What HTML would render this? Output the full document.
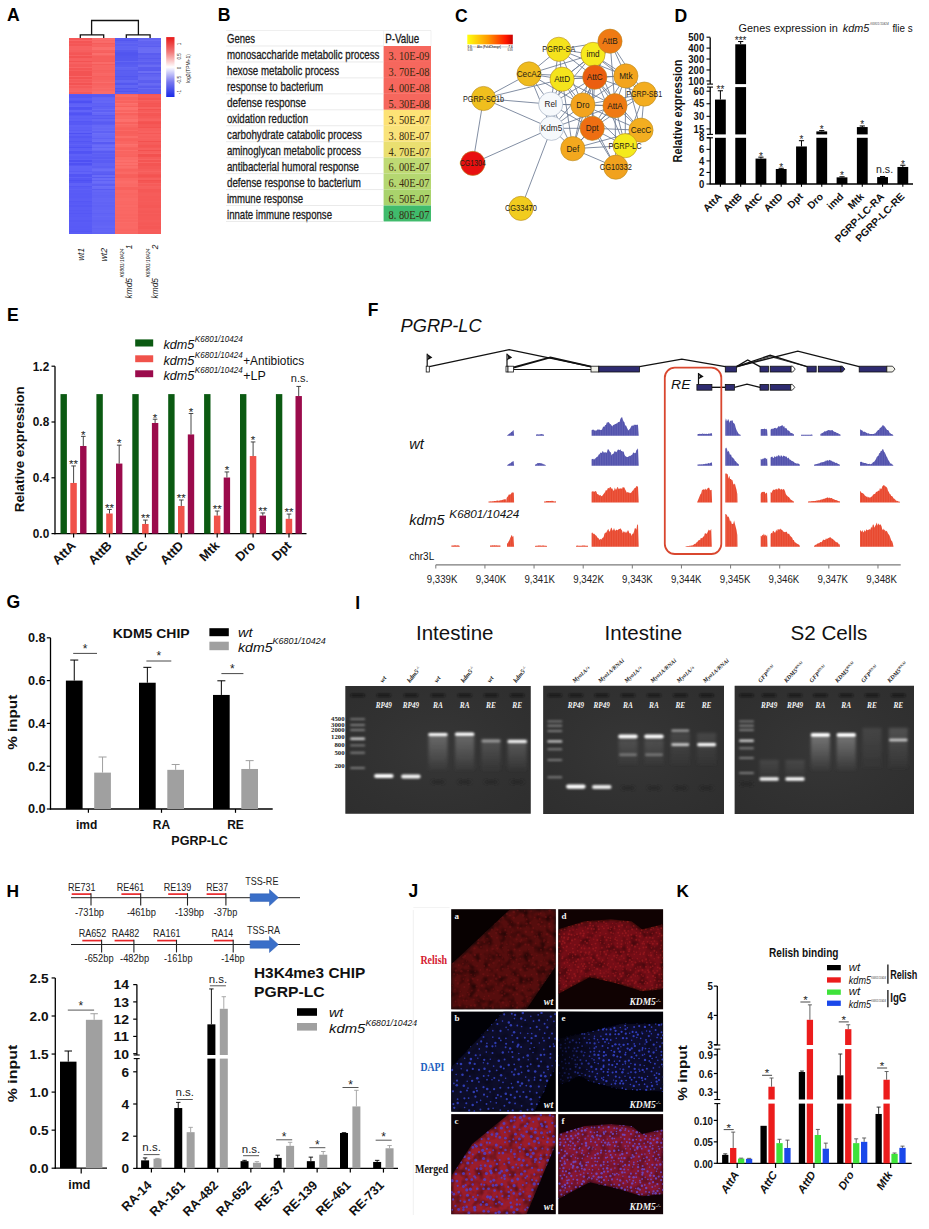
<!DOCTYPE html>
<html><head><meta charset="utf-8"><title>Figure</title>
<style>html,body{margin:0;padding:0;background:#fff;}svg{display:block;}text{font-family:'Liberation Sans',Arial,sans-serif;}</style>
</head><body>
<svg width="929" height="1229" viewBox="0 0 929 1229">
<rect x="0" y="0" width="929" height="1229" fill="#fff"/>
<text x="6.9" y="21.1" style="font-size:17.6px;font-family:'Liberation Sans', Arial, sans-serif;font-weight:bold">A</text>
<rect x="69" y="38" width="23" height="1.56" fill="rgb(244,87,87)" shape-rendering="crispEdges"/>
<rect x="69" y="39.51" width="23" height="1.56" fill="rgb(248,101,101)" shape-rendering="crispEdges"/>
<rect x="69" y="41.02" width="23" height="1.56" fill="rgb(244,85,85)" shape-rendering="crispEdges"/>
<rect x="69" y="42.52" width="23" height="1.56" fill="rgb(245,91,91)" shape-rendering="crispEdges"/>
<rect x="69" y="44.03" width="23" height="1.56" fill="rgb(244,86,86)" shape-rendering="crispEdges"/>
<rect x="69" y="45.54" width="23" height="1.56" fill="rgb(247,98,98)" shape-rendering="crispEdges"/>
<rect x="69" y="47.05" width="23" height="1.56" fill="rgb(247,97,97)" shape-rendering="crispEdges"/>
<rect x="69" y="48.55" width="23" height="1.56" fill="rgb(247,98,98)" shape-rendering="crispEdges"/>
<rect x="69" y="50.06" width="23" height="1.56" fill="rgb(246,95,95)" shape-rendering="crispEdges"/>
<rect x="69" y="51.57" width="23" height="1.56" fill="rgb(245,89,89)" shape-rendering="crispEdges"/>
<rect x="69" y="53.08" width="23" height="1.56" fill="rgb(244,86,86)" shape-rendering="crispEdges"/>
<rect x="69" y="54.58" width="23" height="1.56" fill="rgb(247,98,98)" shape-rendering="crispEdges"/>
<rect x="69" y="56.09" width="23" height="1.56" fill="rgb(243,83,83)" shape-rendering="crispEdges"/>
<rect x="69" y="57.6" width="23" height="1.56" fill="rgb(246,95,95)" shape-rendering="crispEdges"/>
<rect x="69" y="59.11" width="23" height="1.56" fill="rgb(247,96,96)" shape-rendering="crispEdges"/>
<rect x="69" y="60.62" width="23" height="1.56" fill="rgb(243,83,83)" shape-rendering="crispEdges"/>
<rect x="69" y="62.12" width="23" height="1.56" fill="rgb(247,97,97)" shape-rendering="crispEdges"/>
<rect x="69" y="63.63" width="23" height="1.56" fill="rgb(245,91,91)" shape-rendering="crispEdges"/>
<rect x="69" y="65.14" width="23" height="1.56" fill="rgb(245,90,90)" shape-rendering="crispEdges"/>
<rect x="69" y="66.65" width="23" height="1.56" fill="rgb(248,101,101)" shape-rendering="crispEdges"/>
<rect x="69" y="68.15" width="23" height="1.56" fill="rgb(244,86,86)" shape-rendering="crispEdges"/>
<rect x="69" y="69.66" width="23" height="1.56" fill="rgb(246,93,93)" shape-rendering="crispEdges"/>
<rect x="69" y="71.17" width="23" height="1.56" fill="rgb(243,83,83)" shape-rendering="crispEdges"/>
<rect x="69" y="72.68" width="23" height="1.56" fill="rgb(243,83,83)" shape-rendering="crispEdges"/>
<rect x="69" y="74.18" width="23" height="1.56" fill="rgb(243,83,83)" shape-rendering="crispEdges"/>
<rect x="69" y="75.69" width="23" height="1.56" fill="rgb(248,100,100)" shape-rendering="crispEdges"/>
<rect x="69" y="77.2" width="23" height="1.56" fill="rgb(243,83,83)" shape-rendering="crispEdges"/>
<rect x="69" y="78.71" width="23" height="1.56" fill="rgb(246,95,95)" shape-rendering="crispEdges"/>
<rect x="69" y="80.22" width="23" height="1.56" fill="rgb(245,89,89)" shape-rendering="crispEdges"/>
<rect x="69" y="81.72" width="23" height="1.56" fill="rgb(247,96,96)" shape-rendering="crispEdges"/>
<rect x="69" y="83.23" width="23" height="1.56" fill="rgb(243,83,83)" shape-rendering="crispEdges"/>
<rect x="69" y="84.74" width="23" height="1.56" fill="rgb(247,99,99)" shape-rendering="crispEdges"/>
<rect x="69" y="86.25" width="23" height="1.56" fill="rgb(245,90,90)" shape-rendering="crispEdges"/>
<rect x="69" y="87.75" width="23" height="1.56" fill="rgb(247,97,97)" shape-rendering="crispEdges"/>
<rect x="69" y="89.26" width="23" height="1.56" fill="rgb(247,98,98)" shape-rendering="crispEdges"/>
<rect x="69" y="90.77" width="23" height="1.56" fill="rgb(248,100,100)" shape-rendering="crispEdges"/>
<rect x="69" y="92.28" width="23" height="1.42" fill="rgb(245,90,90)" shape-rendering="crispEdges"/>
<rect x="69" y="93.78" width="23" height="1.56" fill="rgb(89,91,246)" shape-rendering="crispEdges"/>
<rect x="69" y="95.29" width="23" height="1.56" fill="rgb(85,87,245)" shape-rendering="crispEdges"/>
<rect x="69" y="96.8" width="23" height="1.56" fill="rgb(85,87,245)" shape-rendering="crispEdges"/>
<rect x="69" y="98.31" width="23" height="1.56" fill="rgb(92,94,247)" shape-rendering="crispEdges"/>
<rect x="69" y="99.82" width="23" height="1.56" fill="rgb(87,89,245)" shape-rendering="crispEdges"/>
<rect x="69" y="101.32" width="23" height="1.56" fill="rgb(78,80,243)" shape-rendering="crispEdges"/>
<rect x="69" y="102.83" width="23" height="1.56" fill="rgb(91,93,246)" shape-rendering="crispEdges"/>
<rect x="69" y="104.34" width="23" height="1.56" fill="rgb(95,97,247)" shape-rendering="crispEdges"/>
<rect x="69" y="105.85" width="23" height="1.56" fill="rgb(98,100,248)" shape-rendering="crispEdges"/>
<rect x="69" y="107.35" width="23" height="1.56" fill="rgb(81,83,244)" shape-rendering="crispEdges"/>
<rect x="69" y="108.86" width="23" height="1.56" fill="rgb(83,85,244)" shape-rendering="crispEdges"/>
<rect x="69" y="110.37" width="23" height="1.56" fill="rgb(98,100,248)" shape-rendering="crispEdges"/>
<rect x="69" y="111.88" width="23" height="1.56" fill="rgb(87,89,245)" shape-rendering="crispEdges"/>
<rect x="69" y="113.38" width="23" height="1.56" fill="rgb(81,83,244)" shape-rendering="crispEdges"/>
<rect x="69" y="114.89" width="23" height="1.56" fill="rgb(88,90,246)" shape-rendering="crispEdges"/>
<rect x="69" y="116.4" width="23" height="1.56" fill="rgb(94,96,247)" shape-rendering="crispEdges"/>
<rect x="69" y="117.91" width="23" height="1.56" fill="rgb(91,93,246)" shape-rendering="crispEdges"/>
<rect x="69" y="119.42" width="23" height="1.56" fill="rgb(94,96,247)" shape-rendering="crispEdges"/>
<rect x="69" y="120.92" width="23" height="1.56" fill="rgb(84,86,245)" shape-rendering="crispEdges"/>
<rect x="69" y="122.43" width="23" height="1.56" fill="rgb(87,89,245)" shape-rendering="crispEdges"/>
<rect x="69" y="123.94" width="23" height="1.56" fill="rgb(87,89,245)" shape-rendering="crispEdges"/>
<rect x="69" y="125.45" width="23" height="1.56" fill="rgb(96,98,248)" shape-rendering="crispEdges"/>
<rect x="69" y="126.95" width="23" height="1.56" fill="rgb(93,95,247)" shape-rendering="crispEdges"/>
<rect x="69" y="128.46" width="23" height="1.56" fill="rgb(94,96,247)" shape-rendering="crispEdges"/>
<rect x="69" y="129.97" width="23" height="1.56" fill="rgb(90,92,246)" shape-rendering="crispEdges"/>
<rect x="69" y="131.48" width="23" height="1.56" fill="rgb(96,98,248)" shape-rendering="crispEdges"/>
<rect x="69" y="132.98" width="23" height="1.56" fill="rgb(79,81,243)" shape-rendering="crispEdges"/>
<rect x="69" y="134.49" width="23" height="1.56" fill="rgb(93,95,247)" shape-rendering="crispEdges"/>
<rect x="69" y="136" width="23" height="1.56" fill="rgb(85,87,245)" shape-rendering="crispEdges"/>
<rect x="69" y="137.51" width="23" height="1.56" fill="rgb(90,92,246)" shape-rendering="crispEdges"/>
<rect x="69" y="139.02" width="23" height="1.56" fill="rgb(91,93,246)" shape-rendering="crispEdges"/>
<rect x="69" y="140.52" width="23" height="1.56" fill="rgb(83,85,244)" shape-rendering="crispEdges"/>
<rect x="69" y="142.03" width="23" height="1.56" fill="rgb(89,91,246)" shape-rendering="crispEdges"/>
<rect x="69" y="143.54" width="23" height="1.56" fill="rgb(95,97,247)" shape-rendering="crispEdges"/>
<rect x="69" y="145.05" width="23" height="1.56" fill="rgb(89,91,246)" shape-rendering="crispEdges"/>
<rect x="69" y="146.55" width="23" height="1.56" fill="rgb(80,82,244)" shape-rendering="crispEdges"/>
<rect x="69" y="148.06" width="23" height="1.56" fill="rgb(92,94,247)" shape-rendering="crispEdges"/>
<rect x="69" y="149.57" width="23" height="1.56" fill="rgb(94,96,247)" shape-rendering="crispEdges"/>
<rect x="69" y="151.08" width="23" height="1.56" fill="rgb(81,83,244)" shape-rendering="crispEdges"/>
<rect x="69" y="152.58" width="23" height="1.56" fill="rgb(83,85,244)" shape-rendering="crispEdges"/>
<rect x="69" y="154.09" width="23" height="1.56" fill="rgb(94,96,247)" shape-rendering="crispEdges"/>
<rect x="69" y="155.6" width="23" height="1.56" fill="rgb(90,92,246)" shape-rendering="crispEdges"/>
<rect x="69" y="157.11" width="23" height="1.56" fill="rgb(89,91,246)" shape-rendering="crispEdges"/>
<rect x="69" y="158.62" width="23" height="1.56" fill="rgb(93,95,247)" shape-rendering="crispEdges"/>
<rect x="69" y="160.12" width="23" height="1.56" fill="rgb(78,80,243)" shape-rendering="crispEdges"/>
<rect x="69" y="161.63" width="23" height="1.56" fill="rgb(93,95,247)" shape-rendering="crispEdges"/>
<rect x="69" y="163.14" width="23" height="1.56" fill="rgb(79,81,243)" shape-rendering="crispEdges"/>
<rect x="69" y="164.65" width="23" height="1.56" fill="rgb(87,89,245)" shape-rendering="crispEdges"/>
<rect x="69" y="166.15" width="23" height="1.56" fill="rgb(97,99,248)" shape-rendering="crispEdges"/>
<rect x="69" y="167.66" width="23" height="1.56" fill="rgb(96,98,248)" shape-rendering="crispEdges"/>
<rect x="69" y="169.17" width="23" height="1.56" fill="rgb(96,98,248)" shape-rendering="crispEdges"/>
<rect x="69" y="170.68" width="23" height="1.56" fill="rgb(90,92,246)" shape-rendering="crispEdges"/>
<rect x="69" y="172.18" width="23" height="1.56" fill="rgb(98,100,248)" shape-rendering="crispEdges"/>
<rect x="69" y="173.69" width="23" height="1.56" fill="rgb(83,85,244)" shape-rendering="crispEdges"/>
<rect x="69" y="175.2" width="23" height="1.56" fill="rgb(83,85,244)" shape-rendering="crispEdges"/>
<rect x="69" y="176.71" width="23" height="1.56" fill="rgb(94,96,247)" shape-rendering="crispEdges"/>
<rect x="69" y="178.22" width="23" height="1.56" fill="rgb(85,87,245)" shape-rendering="crispEdges"/>
<rect x="69" y="179.72" width="23" height="1.56" fill="rgb(78,80,243)" shape-rendering="crispEdges"/>
<rect x="69" y="181.23" width="23" height="1.56" fill="rgb(84,86,245)" shape-rendering="crispEdges"/>
<rect x="69" y="182.74" width="23" height="1.56" fill="rgb(95,97,247)" shape-rendering="crispEdges"/>
<rect x="69" y="184.25" width="23" height="1.56" fill="rgb(95,97,247)" shape-rendering="crispEdges"/>
<rect x="69" y="185.75" width="23" height="1.56" fill="rgb(85,87,245)" shape-rendering="crispEdges"/>
<rect x="69" y="187.26" width="23" height="1.56" fill="rgb(90,92,246)" shape-rendering="crispEdges"/>
<rect x="69" y="188.77" width="23" height="1.56" fill="rgb(94,96,247)" shape-rendering="crispEdges"/>
<rect x="69" y="190.28" width="23" height="1.56" fill="rgb(89,91,246)" shape-rendering="crispEdges"/>
<rect x="69" y="191.78" width="23" height="1.56" fill="rgb(90,92,246)" shape-rendering="crispEdges"/>
<rect x="69" y="193.29" width="23" height="1.56" fill="rgb(88,90,246)" shape-rendering="crispEdges"/>
<rect x="69" y="194.8" width="23" height="1.56" fill="rgb(89,91,246)" shape-rendering="crispEdges"/>
<rect x="69" y="196.31" width="23" height="1.56" fill="rgb(88,90,246)" shape-rendering="crispEdges"/>
<rect x="69" y="197.82" width="23" height="1.56" fill="rgb(90,92,246)" shape-rendering="crispEdges"/>
<rect x="69" y="199.32" width="23" height="1.56" fill="rgb(91,93,246)" shape-rendering="crispEdges"/>
<rect x="69" y="200.83" width="23" height="1.56" fill="rgb(85,87,245)" shape-rendering="crispEdges"/>
<rect x="69" y="202.34" width="23" height="1.56" fill="rgb(88,90,246)" shape-rendering="crispEdges"/>
<rect x="69" y="203.85" width="23" height="1.56" fill="rgb(90,92,246)" shape-rendering="crispEdges"/>
<rect x="69" y="205.35" width="23" height="1.56" fill="rgb(86,88,245)" shape-rendering="crispEdges"/>
<rect x="69" y="206.86" width="23" height="1.56" fill="rgb(90,92,246)" shape-rendering="crispEdges"/>
<rect x="69" y="208.37" width="23" height="1.56" fill="rgb(90,92,246)" shape-rendering="crispEdges"/>
<rect x="69" y="209.88" width="23" height="1.56" fill="rgb(87,89,245)" shape-rendering="crispEdges"/>
<rect x="69" y="211.38" width="23" height="1.56" fill="rgb(89,91,246)" shape-rendering="crispEdges"/>
<rect x="69" y="212.89" width="23" height="1.56" fill="rgb(85,87,245)" shape-rendering="crispEdges"/>
<rect x="69" y="214.4" width="23" height="1.56" fill="rgb(89,91,246)" shape-rendering="crispEdges"/>
<rect x="69" y="215.91" width="23" height="1.56" fill="rgb(88,90,246)" shape-rendering="crispEdges"/>
<rect x="69" y="217.42" width="23" height="1.56" fill="rgb(90,92,246)" shape-rendering="crispEdges"/>
<rect x="69" y="218.92" width="23" height="1.56" fill="rgb(90,92,246)" shape-rendering="crispEdges"/>
<rect x="69" y="220.43" width="23" height="1.56" fill="rgb(87,89,245)" shape-rendering="crispEdges"/>
<rect x="69" y="221.94" width="23" height="1.56" fill="rgb(90,92,246)" shape-rendering="crispEdges"/>
<rect x="69" y="223.45" width="23" height="1.56" fill="rgb(89,91,246)" shape-rendering="crispEdges"/>
<rect x="69" y="224.95" width="23" height="1.56" fill="rgb(89,91,246)" shape-rendering="crispEdges"/>
<rect x="69" y="226.46" width="23" height="1.56" fill="rgb(88,90,246)" shape-rendering="crispEdges"/>
<rect x="69" y="227.97" width="23" height="1.56" fill="rgb(89,91,246)" shape-rendering="crispEdges"/>
<rect x="69" y="229.48" width="23" height="1.56" fill="rgb(88,90,246)" shape-rendering="crispEdges"/>
<rect x="69" y="230.98" width="23" height="1.56" fill="rgb(85,87,245)" shape-rendering="crispEdges"/>
<rect x="69" y="232.49" width="23" height="1.56" fill="rgb(90,92,246)" shape-rendering="crispEdges"/>
<rect x="92" y="38" width="23" height="1.56" fill="rgb(250,110,108)" shape-rendering="crispEdges"/>
<rect x="92" y="39.51" width="23" height="1.56" fill="rgb(248,103,101)" shape-rendering="crispEdges"/>
<rect x="92" y="41.02" width="23" height="1.56" fill="rgb(249,107,105)" shape-rendering="crispEdges"/>
<rect x="92" y="42.52" width="23" height="1.56" fill="rgb(245,93,91)" shape-rendering="crispEdges"/>
<rect x="92" y="44.03" width="23" height="1.56" fill="rgb(247,100,98)" shape-rendering="crispEdges"/>
<rect x="92" y="45.54" width="23" height="1.56" fill="rgb(247,98,96)" shape-rendering="crispEdges"/>
<rect x="92" y="47.05" width="23" height="1.56" fill="rgb(250,110,108)" shape-rendering="crispEdges"/>
<rect x="92" y="48.55" width="23" height="1.56" fill="rgb(250,111,109)" shape-rendering="crispEdges"/>
<rect x="92" y="50.06" width="23" height="1.56" fill="rgb(247,98,96)" shape-rendering="crispEdges"/>
<rect x="92" y="51.57" width="23" height="1.56" fill="rgb(246,95,93)" shape-rendering="crispEdges"/>
<rect x="92" y="53.08" width="23" height="1.56" fill="rgb(250,110,108)" shape-rendering="crispEdges"/>
<rect x="92" y="54.58" width="23" height="1.56" fill="rgb(247,101,99)" shape-rendering="crispEdges"/>
<rect x="92" y="56.09" width="23" height="1.56" fill="rgb(246,94,92)" shape-rendering="crispEdges"/>
<rect x="92" y="57.6" width="23" height="1.56" fill="rgb(246,95,93)" shape-rendering="crispEdges"/>
<rect x="92" y="59.11" width="23" height="1.56" fill="rgb(246,95,93)" shape-rendering="crispEdges"/>
<rect x="92" y="60.62" width="23" height="1.56" fill="rgb(245,93,91)" shape-rendering="crispEdges"/>
<rect x="92" y="62.12" width="23" height="1.56" fill="rgb(249,107,105)" shape-rendering="crispEdges"/>
<rect x="92" y="63.63" width="23" height="1.56" fill="rgb(245,93,91)" shape-rendering="crispEdges"/>
<rect x="92" y="65.14" width="23" height="1.56" fill="rgb(247,101,99)" shape-rendering="crispEdges"/>
<rect x="92" y="66.65" width="23" height="1.56" fill="rgb(247,100,98)" shape-rendering="crispEdges"/>
<rect x="92" y="68.15" width="23" height="1.56" fill="rgb(247,101,99)" shape-rendering="crispEdges"/>
<rect x="92" y="69.66" width="23" height="1.56" fill="rgb(246,96,94)" shape-rendering="crispEdges"/>
<rect x="92" y="71.17" width="23" height="1.56" fill="rgb(247,98,96)" shape-rendering="crispEdges"/>
<rect x="92" y="72.68" width="23" height="1.56" fill="rgb(248,104,102)" shape-rendering="crispEdges"/>
<rect x="92" y="74.18" width="23" height="1.56" fill="rgb(248,102,100)" shape-rendering="crispEdges"/>
<rect x="92" y="75.69" width="23" height="1.56" fill="rgb(246,95,93)" shape-rendering="crispEdges"/>
<rect x="92" y="77.2" width="23" height="1.56" fill="rgb(247,98,96)" shape-rendering="crispEdges"/>
<rect x="92" y="78.71" width="23" height="1.56" fill="rgb(247,98,96)" shape-rendering="crispEdges"/>
<rect x="92" y="80.22" width="23" height="1.56" fill="rgb(247,101,99)" shape-rendering="crispEdges"/>
<rect x="92" y="81.72" width="23" height="1.56" fill="rgb(249,109,107)" shape-rendering="crispEdges"/>
<rect x="92" y="83.23" width="23" height="1.56" fill="rgb(247,98,96)" shape-rendering="crispEdges"/>
<rect x="92" y="84.74" width="23" height="1.56" fill="rgb(247,101,99)" shape-rendering="crispEdges"/>
<rect x="92" y="86.25" width="23" height="1.56" fill="rgb(248,102,100)" shape-rendering="crispEdges"/>
<rect x="92" y="87.75" width="23" height="1.56" fill="rgb(249,107,105)" shape-rendering="crispEdges"/>
<rect x="92" y="89.26" width="23" height="1.56" fill="rgb(248,103,101)" shape-rendering="crispEdges"/>
<rect x="92" y="90.77" width="23" height="1.56" fill="rgb(249,108,106)" shape-rendering="crispEdges"/>
<rect x="92" y="92.28" width="23" height="1.42" fill="rgb(249,108,106)" shape-rendering="crispEdges"/>
<rect x="92" y="93.78" width="23" height="1.56" fill="rgb(91,93,244)" shape-rendering="crispEdges"/>
<rect x="92" y="95.29" width="23" height="1.56" fill="rgb(88,90,243)" shape-rendering="crispEdges"/>
<rect x="92" y="96.8" width="23" height="1.56" fill="rgb(97,99,245)" shape-rendering="crispEdges"/>
<rect x="92" y="98.31" width="23" height="1.56" fill="rgb(100,102,246)" shape-rendering="crispEdges"/>
<rect x="92" y="99.82" width="23" height="1.56" fill="rgb(98,100,246)" shape-rendering="crispEdges"/>
<rect x="92" y="101.32" width="23" height="1.56" fill="rgb(101,103,246)" shape-rendering="crispEdges"/>
<rect x="92" y="102.83" width="23" height="1.56" fill="rgb(94,96,245)" shape-rendering="crispEdges"/>
<rect x="92" y="104.34" width="23" height="1.56" fill="rgb(96,98,245)" shape-rendering="crispEdges"/>
<rect x="92" y="105.85" width="23" height="1.56" fill="rgb(91,93,244)" shape-rendering="crispEdges"/>
<rect x="92" y="107.35" width="23" height="1.56" fill="rgb(96,98,245)" shape-rendering="crispEdges"/>
<rect x="92" y="108.86" width="23" height="1.56" fill="rgb(104,106,247)" shape-rendering="crispEdges"/>
<rect x="92" y="110.37" width="23" height="1.56" fill="rgb(94,96,245)" shape-rendering="crispEdges"/>
<rect x="92" y="111.88" width="23" height="1.56" fill="rgb(107,109,248)" shape-rendering="crispEdges"/>
<rect x="92" y="113.38" width="23" height="1.56" fill="rgb(101,103,246)" shape-rendering="crispEdges"/>
<rect x="92" y="114.89" width="23" height="1.56" fill="rgb(88,90,243)" shape-rendering="crispEdges"/>
<rect x="92" y="116.4" width="23" height="1.56" fill="rgb(95,97,245)" shape-rendering="crispEdges"/>
<rect x="92" y="117.91" width="23" height="1.56" fill="rgb(88,90,243)" shape-rendering="crispEdges"/>
<rect x="92" y="119.42" width="23" height="1.56" fill="rgb(100,102,246)" shape-rendering="crispEdges"/>
<rect x="92" y="120.92" width="23" height="1.56" fill="rgb(92,94,244)" shape-rendering="crispEdges"/>
<rect x="92" y="122.43" width="23" height="1.56" fill="rgb(89,91,243)" shape-rendering="crispEdges"/>
<rect x="92" y="123.94" width="23" height="1.56" fill="rgb(93,95,244)" shape-rendering="crispEdges"/>
<rect x="92" y="125.45" width="23" height="1.56" fill="rgb(102,104,247)" shape-rendering="crispEdges"/>
<rect x="92" y="126.95" width="23" height="1.56" fill="rgb(104,106,247)" shape-rendering="crispEdges"/>
<rect x="92" y="128.46" width="23" height="1.56" fill="rgb(101,103,246)" shape-rendering="crispEdges"/>
<rect x="92" y="129.97" width="23" height="1.56" fill="rgb(105,107,247)" shape-rendering="crispEdges"/>
<rect x="92" y="131.48" width="23" height="1.56" fill="rgb(95,97,245)" shape-rendering="crispEdges"/>
<rect x="92" y="132.98" width="23" height="1.56" fill="rgb(108,110,248)" shape-rendering="crispEdges"/>
<rect x="92" y="134.49" width="23" height="1.56" fill="rgb(104,106,247)" shape-rendering="crispEdges"/>
<rect x="92" y="136" width="23" height="1.56" fill="rgb(102,104,247)" shape-rendering="crispEdges"/>
<rect x="92" y="137.51" width="23" height="1.56" fill="rgb(95,97,245)" shape-rendering="crispEdges"/>
<rect x="92" y="139.02" width="23" height="1.56" fill="rgb(104,106,247)" shape-rendering="crispEdges"/>
<rect x="92" y="140.52" width="23" height="1.56" fill="rgb(108,110,248)" shape-rendering="crispEdges"/>
<rect x="92" y="142.03" width="23" height="1.56" fill="rgb(88,90,243)" shape-rendering="crispEdges"/>
<rect x="92" y="143.54" width="23" height="1.56" fill="rgb(100,102,246)" shape-rendering="crispEdges"/>
<rect x="92" y="145.05" width="23" height="1.56" fill="rgb(106,108,248)" shape-rendering="crispEdges"/>
<rect x="92" y="146.55" width="23" height="1.56" fill="rgb(98,100,246)" shape-rendering="crispEdges"/>
<rect x="92" y="148.06" width="23" height="1.56" fill="rgb(108,110,248)" shape-rendering="crispEdges"/>
<rect x="92" y="149.57" width="23" height="1.56" fill="rgb(101,103,246)" shape-rendering="crispEdges"/>
<rect x="92" y="151.08" width="23" height="1.56" fill="rgb(89,91,243)" shape-rendering="crispEdges"/>
<rect x="92" y="152.58" width="23" height="1.56" fill="rgb(97,99,245)" shape-rendering="crispEdges"/>
<rect x="92" y="154.09" width="23" height="1.56" fill="rgb(92,94,244)" shape-rendering="crispEdges"/>
<rect x="92" y="155.6" width="23" height="1.56" fill="rgb(94,96,245)" shape-rendering="crispEdges"/>
<rect x="92" y="157.11" width="23" height="1.56" fill="rgb(89,91,243)" shape-rendering="crispEdges"/>
<rect x="92" y="158.62" width="23" height="1.56" fill="rgb(97,99,245)" shape-rendering="crispEdges"/>
<rect x="92" y="160.12" width="23" height="1.56" fill="rgb(90,92,244)" shape-rendering="crispEdges"/>
<rect x="92" y="161.63" width="23" height="1.56" fill="rgb(90,92,244)" shape-rendering="crispEdges"/>
<rect x="92" y="163.14" width="23" height="1.56" fill="rgb(97,99,245)" shape-rendering="crispEdges"/>
<rect x="92" y="164.65" width="23" height="1.56" fill="rgb(97,99,245)" shape-rendering="crispEdges"/>
<rect x="92" y="166.15" width="23" height="1.56" fill="rgb(93,95,244)" shape-rendering="crispEdges"/>
<rect x="92" y="167.66" width="23" height="1.56" fill="rgb(101,103,246)" shape-rendering="crispEdges"/>
<rect x="92" y="169.17" width="23" height="1.56" fill="rgb(106,108,248)" shape-rendering="crispEdges"/>
<rect x="92" y="170.68" width="23" height="1.56" fill="rgb(96,98,245)" shape-rendering="crispEdges"/>
<rect x="92" y="172.18" width="23" height="1.56" fill="rgb(92,94,244)" shape-rendering="crispEdges"/>
<rect x="92" y="173.69" width="23" height="1.56" fill="rgb(88,90,243)" shape-rendering="crispEdges"/>
<rect x="92" y="175.2" width="23" height="1.56" fill="rgb(105,107,247)" shape-rendering="crispEdges"/>
<rect x="92" y="176.71" width="23" height="1.56" fill="rgb(89,91,243)" shape-rendering="crispEdges"/>
<rect x="92" y="178.22" width="23" height="1.56" fill="rgb(106,108,248)" shape-rendering="crispEdges"/>
<rect x="92" y="179.72" width="23" height="1.56" fill="rgb(94,96,245)" shape-rendering="crispEdges"/>
<rect x="92" y="181.23" width="23" height="1.56" fill="rgb(106,108,248)" shape-rendering="crispEdges"/>
<rect x="92" y="182.74" width="23" height="1.56" fill="rgb(102,104,247)" shape-rendering="crispEdges"/>
<rect x="92" y="184.25" width="23" height="1.56" fill="rgb(93,95,244)" shape-rendering="crispEdges"/>
<rect x="92" y="185.75" width="23" height="1.56" fill="rgb(107,109,248)" shape-rendering="crispEdges"/>
<rect x="92" y="187.26" width="23" height="1.56" fill="rgb(104,106,247)" shape-rendering="crispEdges"/>
<rect x="92" y="188.77" width="23" height="1.56" fill="rgb(89,91,243)" shape-rendering="crispEdges"/>
<rect x="92" y="190.28" width="23" height="1.56" fill="rgb(100,102,246)" shape-rendering="crispEdges"/>
<rect x="92" y="191.78" width="23" height="1.56" fill="rgb(97,99,245)" shape-rendering="crispEdges"/>
<rect x="92" y="193.29" width="23" height="1.56" fill="rgb(98,100,246)" shape-rendering="crispEdges"/>
<rect x="92" y="194.8" width="23" height="1.56" fill="rgb(96,98,245)" shape-rendering="crispEdges"/>
<rect x="92" y="196.31" width="23" height="1.56" fill="rgb(97,99,245)" shape-rendering="crispEdges"/>
<rect x="92" y="197.82" width="23" height="1.56" fill="rgb(100,102,246)" shape-rendering="crispEdges"/>
<rect x="92" y="199.32" width="23" height="1.56" fill="rgb(99,101,246)" shape-rendering="crispEdges"/>
<rect x="92" y="200.83" width="23" height="1.56" fill="rgb(100,102,246)" shape-rendering="crispEdges"/>
<rect x="92" y="202.34" width="23" height="1.56" fill="rgb(97,99,245)" shape-rendering="crispEdges"/>
<rect x="92" y="203.85" width="23" height="1.56" fill="rgb(99,101,246)" shape-rendering="crispEdges"/>
<rect x="92" y="205.35" width="23" height="1.56" fill="rgb(96,98,245)" shape-rendering="crispEdges"/>
<rect x="92" y="206.86" width="23" height="1.56" fill="rgb(98,100,246)" shape-rendering="crispEdges"/>
<rect x="92" y="208.37" width="23" height="1.56" fill="rgb(98,100,246)" shape-rendering="crispEdges"/>
<rect x="92" y="209.88" width="23" height="1.56" fill="rgb(100,102,246)" shape-rendering="crispEdges"/>
<rect x="92" y="211.38" width="23" height="1.56" fill="rgb(99,101,246)" shape-rendering="crispEdges"/>
<rect x="92" y="212.89" width="23" height="1.56" fill="rgb(95,97,245)" shape-rendering="crispEdges"/>
<rect x="92" y="214.4" width="23" height="1.56" fill="rgb(98,100,246)" shape-rendering="crispEdges"/>
<rect x="92" y="215.91" width="23" height="1.56" fill="rgb(101,103,246)" shape-rendering="crispEdges"/>
<rect x="92" y="217.42" width="23" height="1.56" fill="rgb(98,100,246)" shape-rendering="crispEdges"/>
<rect x="92" y="218.92" width="23" height="1.56" fill="rgb(98,100,246)" shape-rendering="crispEdges"/>
<rect x="92" y="220.43" width="23" height="1.56" fill="rgb(95,97,245)" shape-rendering="crispEdges"/>
<rect x="92" y="221.94" width="23" height="1.56" fill="rgb(97,99,245)" shape-rendering="crispEdges"/>
<rect x="92" y="223.45" width="23" height="1.56" fill="rgb(97,99,245)" shape-rendering="crispEdges"/>
<rect x="92" y="224.95" width="23" height="1.56" fill="rgb(98,100,246)" shape-rendering="crispEdges"/>
<rect x="92" y="226.46" width="23" height="1.56" fill="rgb(100,102,246)" shape-rendering="crispEdges"/>
<rect x="92" y="227.97" width="23" height="1.56" fill="rgb(96,98,245)" shape-rendering="crispEdges"/>
<rect x="92" y="229.48" width="23" height="1.56" fill="rgb(98,100,246)" shape-rendering="crispEdges"/>
<rect x="92" y="230.98" width="23" height="1.56" fill="rgb(99,101,246)" shape-rendering="crispEdges"/>
<rect x="92" y="232.49" width="23" height="1.56" fill="rgb(97,99,245)" shape-rendering="crispEdges"/>
<rect x="115" y="38" width="23" height="1.56" fill="rgb(88,92,241)" shape-rendering="crispEdges"/>
<rect x="115" y="39.51" width="23" height="1.56" fill="rgb(83,87,240)" shape-rendering="crispEdges"/>
<rect x="115" y="41.02" width="23" height="1.56" fill="rgb(92,96,242)" shape-rendering="crispEdges"/>
<rect x="115" y="42.52" width="23" height="1.56" fill="rgb(97,101,243)" shape-rendering="crispEdges"/>
<rect x="115" y="44.03" width="23" height="1.56" fill="rgb(91,95,242)" shape-rendering="crispEdges"/>
<rect x="115" y="45.54" width="23" height="1.56" fill="rgb(97,101,243)" shape-rendering="crispEdges"/>
<rect x="115" y="47.05" width="23" height="1.56" fill="rgb(95,99,243)" shape-rendering="crispEdges"/>
<rect x="115" y="48.55" width="23" height="1.56" fill="rgb(97,101,243)" shape-rendering="crispEdges"/>
<rect x="115" y="50.06" width="23" height="1.56" fill="rgb(87,91,241)" shape-rendering="crispEdges"/>
<rect x="115" y="51.57" width="23" height="1.56" fill="rgb(82,86,240)" shape-rendering="crispEdges"/>
<rect x="115" y="53.08" width="23" height="1.56" fill="rgb(81,85,239)" shape-rendering="crispEdges"/>
<rect x="115" y="54.58" width="23" height="1.56" fill="rgb(82,86,240)" shape-rendering="crispEdges"/>
<rect x="115" y="56.09" width="23" height="1.56" fill="rgb(84,88,240)" shape-rendering="crispEdges"/>
<rect x="115" y="57.6" width="23" height="1.56" fill="rgb(85,89,240)" shape-rendering="crispEdges"/>
<rect x="115" y="59.11" width="23" height="1.56" fill="rgb(85,89,240)" shape-rendering="crispEdges"/>
<rect x="115" y="60.62" width="23" height="1.56" fill="rgb(97,101,243)" shape-rendering="crispEdges"/>
<rect x="115" y="62.12" width="23" height="1.56" fill="rgb(86,90,241)" shape-rendering="crispEdges"/>
<rect x="115" y="63.63" width="23" height="1.56" fill="rgb(88,92,241)" shape-rendering="crispEdges"/>
<rect x="115" y="65.14" width="23" height="1.56" fill="rgb(90,94,242)" shape-rendering="crispEdges"/>
<rect x="115" y="66.65" width="23" height="1.56" fill="rgb(99,103,244)" shape-rendering="crispEdges"/>
<rect x="115" y="68.15" width="23" height="1.56" fill="rgb(96,100,243)" shape-rendering="crispEdges"/>
<rect x="115" y="69.66" width="23" height="1.56" fill="rgb(88,92,241)" shape-rendering="crispEdges"/>
<rect x="115" y="71.17" width="23" height="1.56" fill="rgb(91,95,242)" shape-rendering="crispEdges"/>
<rect x="115" y="72.68" width="23" height="1.56" fill="rgb(90,94,242)" shape-rendering="crispEdges"/>
<rect x="115" y="74.18" width="23" height="1.56" fill="rgb(90,94,242)" shape-rendering="crispEdges"/>
<rect x="115" y="75.69" width="23" height="1.56" fill="rgb(83,87,240)" shape-rendering="crispEdges"/>
<rect x="115" y="77.2" width="23" height="1.56" fill="rgb(89,93,241)" shape-rendering="crispEdges"/>
<rect x="115" y="78.71" width="23" height="1.56" fill="rgb(87,91,241)" shape-rendering="crispEdges"/>
<rect x="115" y="80.22" width="23" height="1.56" fill="rgb(99,103,244)" shape-rendering="crispEdges"/>
<rect x="115" y="81.72" width="23" height="1.56" fill="rgb(95,99,243)" shape-rendering="crispEdges"/>
<rect x="115" y="83.23" width="23" height="1.56" fill="rgb(84,88,240)" shape-rendering="crispEdges"/>
<rect x="115" y="84.74" width="23" height="1.56" fill="rgb(98,102,244)" shape-rendering="crispEdges"/>
<rect x="115" y="86.25" width="23" height="1.56" fill="rgb(97,101,243)" shape-rendering="crispEdges"/>
<rect x="115" y="87.75" width="23" height="1.56" fill="rgb(83,87,240)" shape-rendering="crispEdges"/>
<rect x="115" y="89.26" width="23" height="1.56" fill="rgb(90,94,242)" shape-rendering="crispEdges"/>
<rect x="115" y="90.77" width="23" height="1.56" fill="rgb(81,85,239)" shape-rendering="crispEdges"/>
<rect x="115" y="92.28" width="23" height="1.42" fill="rgb(93,97,242)" shape-rendering="crispEdges"/>
<rect x="115" y="93.78" width="23" height="1.56" fill="rgb(248,97,93)" shape-rendering="crispEdges"/>
<rect x="115" y="95.29" width="23" height="1.56" fill="rgb(250,107,103)" shape-rendering="crispEdges"/>
<rect x="115" y="96.8" width="23" height="1.56" fill="rgb(248,99,95)" shape-rendering="crispEdges"/>
<rect x="115" y="98.31" width="23" height="1.56" fill="rgb(248,99,95)" shape-rendering="crispEdges"/>
<rect x="115" y="99.82" width="23" height="1.56" fill="rgb(250,105,101)" shape-rendering="crispEdges"/>
<rect x="115" y="101.32" width="23" height="1.56" fill="rgb(248,98,94)" shape-rendering="crispEdges"/>
<rect x="115" y="102.83" width="23" height="1.56" fill="rgb(252,113,109)" shape-rendering="crispEdges"/>
<rect x="115" y="104.34" width="23" height="1.56" fill="rgb(250,107,103)" shape-rendering="crispEdges"/>
<rect x="115" y="105.85" width="23" height="1.56" fill="rgb(248,97,93)" shape-rendering="crispEdges"/>
<rect x="115" y="107.35" width="23" height="1.56" fill="rgb(252,113,109)" shape-rendering="crispEdges"/>
<rect x="115" y="108.86" width="23" height="1.56" fill="rgb(252,112,108)" shape-rendering="crispEdges"/>
<rect x="115" y="110.37" width="23" height="1.56" fill="rgb(249,102,98)" shape-rendering="crispEdges"/>
<rect x="115" y="111.88" width="23" height="1.56" fill="rgb(252,113,109)" shape-rendering="crispEdges"/>
<rect x="115" y="113.38" width="23" height="1.56" fill="rgb(248,97,93)" shape-rendering="crispEdges"/>
<rect x="115" y="114.89" width="23" height="1.56" fill="rgb(249,103,99)" shape-rendering="crispEdges"/>
<rect x="115" y="116.4" width="23" height="1.56" fill="rgb(250,106,102)" shape-rendering="crispEdges"/>
<rect x="115" y="117.91" width="23" height="1.56" fill="rgb(250,104,100)" shape-rendering="crispEdges"/>
<rect x="115" y="119.42" width="23" height="1.56" fill="rgb(252,113,109)" shape-rendering="crispEdges"/>
<rect x="115" y="120.92" width="23" height="1.56" fill="rgb(252,112,108)" shape-rendering="crispEdges"/>
<rect x="115" y="122.43" width="23" height="1.56" fill="rgb(248,98,94)" shape-rendering="crispEdges"/>
<rect x="115" y="123.94" width="23" height="1.56" fill="rgb(251,109,105)" shape-rendering="crispEdges"/>
<rect x="115" y="125.45" width="23" height="1.56" fill="rgb(249,103,99)" shape-rendering="crispEdges"/>
<rect x="115" y="126.95" width="23" height="1.56" fill="rgb(248,98,94)" shape-rendering="crispEdges"/>
<rect x="115" y="128.46" width="23" height="1.56" fill="rgb(248,96,92)" shape-rendering="crispEdges"/>
<rect x="115" y="129.97" width="23" height="1.56" fill="rgb(250,104,100)" shape-rendering="crispEdges"/>
<rect x="115" y="131.48" width="23" height="1.56" fill="rgb(247,95,91)" shape-rendering="crispEdges"/>
<rect x="115" y="132.98" width="23" height="1.56" fill="rgb(247,95,91)" shape-rendering="crispEdges"/>
<rect x="115" y="134.49" width="23" height="1.56" fill="rgb(248,97,93)" shape-rendering="crispEdges"/>
<rect x="115" y="136" width="23" height="1.56" fill="rgb(251,108,104)" shape-rendering="crispEdges"/>
<rect x="115" y="137.51" width="23" height="1.56" fill="rgb(248,98,94)" shape-rendering="crispEdges"/>
<rect x="115" y="139.02" width="23" height="1.56" fill="rgb(248,96,92)" shape-rendering="crispEdges"/>
<rect x="115" y="140.52" width="23" height="1.56" fill="rgb(249,101,97)" shape-rendering="crispEdges"/>
<rect x="115" y="142.03" width="23" height="1.56" fill="rgb(249,102,98)" shape-rendering="crispEdges"/>
<rect x="115" y="143.54" width="23" height="1.56" fill="rgb(252,113,109)" shape-rendering="crispEdges"/>
<rect x="115" y="145.05" width="23" height="1.56" fill="rgb(251,108,104)" shape-rendering="crispEdges"/>
<rect x="115" y="146.55" width="23" height="1.56" fill="rgb(249,100,96)" shape-rendering="crispEdges"/>
<rect x="115" y="148.06" width="23" height="1.56" fill="rgb(248,98,94)" shape-rendering="crispEdges"/>
<rect x="115" y="149.57" width="23" height="1.56" fill="rgb(251,109,105)" shape-rendering="crispEdges"/>
<rect x="115" y="151.08" width="23" height="1.56" fill="rgb(249,100,96)" shape-rendering="crispEdges"/>
<rect x="115" y="152.58" width="23" height="1.56" fill="rgb(249,102,98)" shape-rendering="crispEdges"/>
<rect x="115" y="154.09" width="23" height="1.56" fill="rgb(249,100,96)" shape-rendering="crispEdges"/>
<rect x="115" y="155.6" width="23" height="1.56" fill="rgb(248,98,94)" shape-rendering="crispEdges"/>
<rect x="115" y="157.11" width="23" height="1.56" fill="rgb(251,108,104)" shape-rendering="crispEdges"/>
<rect x="115" y="158.62" width="23" height="1.56" fill="rgb(250,107,103)" shape-rendering="crispEdges"/>
<rect x="115" y="160.12" width="23" height="1.56" fill="rgb(252,112,108)" shape-rendering="crispEdges"/>
<rect x="115" y="161.63" width="23" height="1.56" fill="rgb(250,104,100)" shape-rendering="crispEdges"/>
<rect x="115" y="163.14" width="23" height="1.56" fill="rgb(252,112,108)" shape-rendering="crispEdges"/>
<rect x="115" y="164.65" width="23" height="1.56" fill="rgb(249,103,99)" shape-rendering="crispEdges"/>
<rect x="115" y="166.15" width="23" height="1.56" fill="rgb(251,110,106)" shape-rendering="crispEdges"/>
<rect x="115" y="167.66" width="23" height="1.56" fill="rgb(250,105,101)" shape-rendering="crispEdges"/>
<rect x="115" y="169.17" width="23" height="1.56" fill="rgb(248,98,94)" shape-rendering="crispEdges"/>
<rect x="115" y="170.68" width="23" height="1.56" fill="rgb(249,101,97)" shape-rendering="crispEdges"/>
<rect x="115" y="172.18" width="23" height="1.56" fill="rgb(250,105,101)" shape-rendering="crispEdges"/>
<rect x="115" y="173.69" width="23" height="1.56" fill="rgb(248,96,92)" shape-rendering="crispEdges"/>
<rect x="115" y="175.2" width="23" height="1.56" fill="rgb(247,95,91)" shape-rendering="crispEdges"/>
<rect x="115" y="176.71" width="23" height="1.56" fill="rgb(247,95,91)" shape-rendering="crispEdges"/>
<rect x="115" y="178.22" width="23" height="1.56" fill="rgb(250,104,100)" shape-rendering="crispEdges"/>
<rect x="115" y="179.72" width="23" height="1.56" fill="rgb(250,105,101)" shape-rendering="crispEdges"/>
<rect x="115" y="181.23" width="23" height="1.56" fill="rgb(251,109,105)" shape-rendering="crispEdges"/>
<rect x="115" y="182.74" width="23" height="1.56" fill="rgb(250,107,103)" shape-rendering="crispEdges"/>
<rect x="115" y="184.25" width="23" height="1.56" fill="rgb(250,105,101)" shape-rendering="crispEdges"/>
<rect x="115" y="185.75" width="23" height="1.56" fill="rgb(250,107,103)" shape-rendering="crispEdges"/>
<rect x="115" y="187.26" width="23" height="1.56" fill="rgb(248,97,93)" shape-rendering="crispEdges"/>
<rect x="115" y="188.77" width="23" height="1.56" fill="rgb(248,97,93)" shape-rendering="crispEdges"/>
<rect x="115" y="190.28" width="23" height="1.56" fill="rgb(250,105,101)" shape-rendering="crispEdges"/>
<rect x="115" y="191.78" width="23" height="1.56" fill="rgb(250,105,101)" shape-rendering="crispEdges"/>
<rect x="115" y="193.29" width="23" height="1.56" fill="rgb(249,102,98)" shape-rendering="crispEdges"/>
<rect x="115" y="194.8" width="23" height="1.56" fill="rgb(250,104,100)" shape-rendering="crispEdges"/>
<rect x="115" y="196.31" width="23" height="1.56" fill="rgb(249,103,99)" shape-rendering="crispEdges"/>
<rect x="115" y="197.82" width="23" height="1.56" fill="rgb(250,106,102)" shape-rendering="crispEdges"/>
<rect x="115" y="199.32" width="23" height="1.56" fill="rgb(250,106,102)" shape-rendering="crispEdges"/>
<rect x="115" y="200.83" width="23" height="1.56" fill="rgb(250,104,100)" shape-rendering="crispEdges"/>
<rect x="115" y="202.34" width="23" height="1.56" fill="rgb(250,104,100)" shape-rendering="crispEdges"/>
<rect x="115" y="203.85" width="23" height="1.56" fill="rgb(249,103,99)" shape-rendering="crispEdges"/>
<rect x="115" y="205.35" width="23" height="1.56" fill="rgb(250,106,102)" shape-rendering="crispEdges"/>
<rect x="115" y="206.86" width="23" height="1.56" fill="rgb(249,103,99)" shape-rendering="crispEdges"/>
<rect x="115" y="208.37" width="23" height="1.56" fill="rgb(250,104,100)" shape-rendering="crispEdges"/>
<rect x="115" y="209.88" width="23" height="1.56" fill="rgb(249,103,99)" shape-rendering="crispEdges"/>
<rect x="115" y="211.38" width="23" height="1.56" fill="rgb(250,104,100)" shape-rendering="crispEdges"/>
<rect x="115" y="212.89" width="23" height="1.56" fill="rgb(250,104,100)" shape-rendering="crispEdges"/>
<rect x="115" y="214.4" width="23" height="1.56" fill="rgb(249,102,98)" shape-rendering="crispEdges"/>
<rect x="115" y="215.91" width="23" height="1.56" fill="rgb(250,104,100)" shape-rendering="crispEdges"/>
<rect x="115" y="217.42" width="23" height="1.56" fill="rgb(249,102,98)" shape-rendering="crispEdges"/>
<rect x="115" y="218.92" width="23" height="1.56" fill="rgb(250,105,101)" shape-rendering="crispEdges"/>
<rect x="115" y="220.43" width="23" height="1.56" fill="rgb(249,102,98)" shape-rendering="crispEdges"/>
<rect x="115" y="221.94" width="23" height="1.56" fill="rgb(250,107,103)" shape-rendering="crispEdges"/>
<rect x="115" y="223.45" width="23" height="1.56" fill="rgb(250,104,100)" shape-rendering="crispEdges"/>
<rect x="115" y="224.95" width="23" height="1.56" fill="rgb(250,104,100)" shape-rendering="crispEdges"/>
<rect x="115" y="226.46" width="23" height="1.56" fill="rgb(250,105,101)" shape-rendering="crispEdges"/>
<rect x="115" y="227.97" width="23" height="1.56" fill="rgb(250,104,100)" shape-rendering="crispEdges"/>
<rect x="115" y="229.48" width="23" height="1.56" fill="rgb(249,102,98)" shape-rendering="crispEdges"/>
<rect x="115" y="230.98" width="23" height="1.56" fill="rgb(250,104,100)" shape-rendering="crispEdges"/>
<rect x="115" y="232.49" width="23" height="1.56" fill="rgb(249,103,99)" shape-rendering="crispEdges"/>
<rect x="138" y="38" width="23" height="1.56" fill="rgb(98,100,242)" shape-rendering="crispEdges"/>
<rect x="138" y="39.51" width="23" height="1.56" fill="rgb(106,108,244)" shape-rendering="crispEdges"/>
<rect x="138" y="41.02" width="23" height="1.56" fill="rgb(97,99,241)" shape-rendering="crispEdges"/>
<rect x="138" y="42.52" width="23" height="1.56" fill="rgb(95,97,241)" shape-rendering="crispEdges"/>
<rect x="138" y="44.03" width="23" height="1.56" fill="rgb(98,100,242)" shape-rendering="crispEdges"/>
<rect x="138" y="45.54" width="23" height="1.56" fill="rgb(91,93,240)" shape-rendering="crispEdges"/>
<rect x="138" y="47.05" width="23" height="1.56" fill="rgb(105,107,243)" shape-rendering="crispEdges"/>
<rect x="138" y="48.55" width="23" height="1.56" fill="rgb(107,109,244)" shape-rendering="crispEdges"/>
<rect x="138" y="50.06" width="23" height="1.56" fill="rgb(106,108,244)" shape-rendering="crispEdges"/>
<rect x="138" y="51.57" width="23" height="1.56" fill="rgb(107,109,244)" shape-rendering="crispEdges"/>
<rect x="138" y="53.08" width="23" height="1.56" fill="rgb(90,92,240)" shape-rendering="crispEdges"/>
<rect x="138" y="54.58" width="23" height="1.56" fill="rgb(95,97,241)" shape-rendering="crispEdges"/>
<rect x="138" y="56.09" width="23" height="1.56" fill="rgb(95,97,241)" shape-rendering="crispEdges"/>
<rect x="138" y="57.6" width="23" height="1.56" fill="rgb(88,90,239)" shape-rendering="crispEdges"/>
<rect x="138" y="59.11" width="23" height="1.56" fill="rgb(95,97,241)" shape-rendering="crispEdges"/>
<rect x="138" y="60.62" width="23" height="1.56" fill="rgb(100,102,242)" shape-rendering="crispEdges"/>
<rect x="138" y="62.12" width="23" height="1.56" fill="rgb(90,92,240)" shape-rendering="crispEdges"/>
<rect x="138" y="63.63" width="23" height="1.56" fill="rgb(96,98,241)" shape-rendering="crispEdges"/>
<rect x="138" y="65.14" width="23" height="1.56" fill="rgb(105,107,243)" shape-rendering="crispEdges"/>
<rect x="138" y="66.65" width="23" height="1.56" fill="rgb(90,92,240)" shape-rendering="crispEdges"/>
<rect x="138" y="68.15" width="23" height="1.56" fill="rgb(90,92,240)" shape-rendering="crispEdges"/>
<rect x="138" y="69.66" width="23" height="1.56" fill="rgb(88,90,239)" shape-rendering="crispEdges"/>
<rect x="138" y="71.17" width="23" height="1.56" fill="rgb(108,110,244)" shape-rendering="crispEdges"/>
<rect x="138" y="72.68" width="23" height="1.56" fill="rgb(88,90,239)" shape-rendering="crispEdges"/>
<rect x="138" y="74.18" width="23" height="1.56" fill="rgb(97,99,241)" shape-rendering="crispEdges"/>
<rect x="138" y="75.69" width="23" height="1.56" fill="rgb(99,101,242)" shape-rendering="crispEdges"/>
<rect x="138" y="77.2" width="23" height="1.56" fill="rgb(103,105,243)" shape-rendering="crispEdges"/>
<rect x="138" y="78.71" width="23" height="1.56" fill="rgb(103,105,243)" shape-rendering="crispEdges"/>
<rect x="138" y="80.22" width="23" height="1.56" fill="rgb(92,94,240)" shape-rendering="crispEdges"/>
<rect x="138" y="81.72" width="23" height="1.56" fill="rgb(91,93,240)" shape-rendering="crispEdges"/>
<rect x="138" y="83.23" width="23" height="1.56" fill="rgb(104,106,243)" shape-rendering="crispEdges"/>
<rect x="138" y="84.74" width="23" height="1.56" fill="rgb(98,100,242)" shape-rendering="crispEdges"/>
<rect x="138" y="86.25" width="23" height="1.56" fill="rgb(90,92,240)" shape-rendering="crispEdges"/>
<rect x="138" y="87.75" width="23" height="1.56" fill="rgb(104,106,243)" shape-rendering="crispEdges"/>
<rect x="138" y="89.26" width="23" height="1.56" fill="rgb(93,95,240)" shape-rendering="crispEdges"/>
<rect x="138" y="90.77" width="23" height="1.56" fill="rgb(93,95,240)" shape-rendering="crispEdges"/>
<rect x="138" y="92.28" width="23" height="1.42" fill="rgb(92,94,240)" shape-rendering="crispEdges"/>
<rect x="138" y="93.78" width="23" height="1.56" fill="rgb(244,85,83)" shape-rendering="crispEdges"/>
<rect x="138" y="95.29" width="23" height="1.56" fill="rgb(246,91,89)" shape-rendering="crispEdges"/>
<rect x="138" y="96.8" width="23" height="1.56" fill="rgb(246,90,88)" shape-rendering="crispEdges"/>
<rect x="138" y="98.31" width="23" height="1.56" fill="rgb(244,84,82)" shape-rendering="crispEdges"/>
<rect x="138" y="99.82" width="23" height="1.56" fill="rgb(247,97,95)" shape-rendering="crispEdges"/>
<rect x="138" y="101.32" width="23" height="1.56" fill="rgb(246,90,88)" shape-rendering="crispEdges"/>
<rect x="138" y="102.83" width="23" height="1.56" fill="rgb(244,85,83)" shape-rendering="crispEdges"/>
<rect x="138" y="104.34" width="23" height="1.56" fill="rgb(245,87,85)" shape-rendering="crispEdges"/>
<rect x="138" y="105.85" width="23" height="1.56" fill="rgb(244,85,83)" shape-rendering="crispEdges"/>
<rect x="138" y="107.35" width="23" height="1.56" fill="rgb(248,98,96)" shape-rendering="crispEdges"/>
<rect x="138" y="108.86" width="23" height="1.56" fill="rgb(244,82,80)" shape-rendering="crispEdges"/>
<rect x="138" y="110.37" width="23" height="1.56" fill="rgb(246,91,89)" shape-rendering="crispEdges"/>
<rect x="138" y="111.88" width="23" height="1.56" fill="rgb(248,98,96)" shape-rendering="crispEdges"/>
<rect x="138" y="113.38" width="23" height="1.56" fill="rgb(245,87,85)" shape-rendering="crispEdges"/>
<rect x="138" y="114.89" width="23" height="1.56" fill="rgb(245,86,84)" shape-rendering="crispEdges"/>
<rect x="138" y="116.4" width="23" height="1.56" fill="rgb(246,90,88)" shape-rendering="crispEdges"/>
<rect x="138" y="117.91" width="23" height="1.56" fill="rgb(247,94,92)" shape-rendering="crispEdges"/>
<rect x="138" y="119.42" width="23" height="1.56" fill="rgb(248,98,96)" shape-rendering="crispEdges"/>
<rect x="138" y="120.92" width="23" height="1.56" fill="rgb(245,86,84)" shape-rendering="crispEdges"/>
<rect x="138" y="122.43" width="23" height="1.56" fill="rgb(244,82,80)" shape-rendering="crispEdges"/>
<rect x="138" y="123.94" width="23" height="1.56" fill="rgb(245,88,86)" shape-rendering="crispEdges"/>
<rect x="138" y="125.45" width="23" height="1.56" fill="rgb(245,89,87)" shape-rendering="crispEdges"/>
<rect x="138" y="126.95" width="23" height="1.56" fill="rgb(244,83,81)" shape-rendering="crispEdges"/>
<rect x="138" y="128.46" width="23" height="1.56" fill="rgb(247,95,93)" shape-rendering="crispEdges"/>
<rect x="138" y="129.97" width="23" height="1.56" fill="rgb(247,94,92)" shape-rendering="crispEdges"/>
<rect x="138" y="131.48" width="23" height="1.56" fill="rgb(248,98,96)" shape-rendering="crispEdges"/>
<rect x="138" y="132.98" width="23" height="1.56" fill="rgb(245,89,87)" shape-rendering="crispEdges"/>
<rect x="138" y="134.49" width="23" height="1.56" fill="rgb(248,98,96)" shape-rendering="crispEdges"/>
<rect x="138" y="136" width="23" height="1.56" fill="rgb(247,95,93)" shape-rendering="crispEdges"/>
<rect x="138" y="137.51" width="23" height="1.56" fill="rgb(248,98,96)" shape-rendering="crispEdges"/>
<rect x="138" y="139.02" width="23" height="1.56" fill="rgb(247,95,93)" shape-rendering="crispEdges"/>
<rect x="138" y="140.52" width="23" height="1.56" fill="rgb(243,81,79)" shape-rendering="crispEdges"/>
<rect x="138" y="142.03" width="23" height="1.56" fill="rgb(246,93,91)" shape-rendering="crispEdges"/>
<rect x="138" y="143.54" width="23" height="1.56" fill="rgb(246,91,89)" shape-rendering="crispEdges"/>
<rect x="138" y="145.05" width="23" height="1.56" fill="rgb(245,86,84)" shape-rendering="crispEdges"/>
<rect x="138" y="146.55" width="23" height="1.56" fill="rgb(245,89,87)" shape-rendering="crispEdges"/>
<rect x="138" y="148.06" width="23" height="1.56" fill="rgb(247,96,94)" shape-rendering="crispEdges"/>
<rect x="138" y="149.57" width="23" height="1.56" fill="rgb(243,81,79)" shape-rendering="crispEdges"/>
<rect x="138" y="151.08" width="23" height="1.56" fill="rgb(247,94,92)" shape-rendering="crispEdges"/>
<rect x="138" y="152.58" width="23" height="1.56" fill="rgb(248,99,97)" shape-rendering="crispEdges"/>
<rect x="138" y="154.09" width="23" height="1.56" fill="rgb(243,81,79)" shape-rendering="crispEdges"/>
<rect x="138" y="155.6" width="23" height="1.56" fill="rgb(244,82,80)" shape-rendering="crispEdges"/>
<rect x="138" y="157.11" width="23" height="1.56" fill="rgb(246,92,90)" shape-rendering="crispEdges"/>
<rect x="138" y="158.62" width="23" height="1.56" fill="rgb(248,99,97)" shape-rendering="crispEdges"/>
<rect x="138" y="160.12" width="23" height="1.56" fill="rgb(244,85,83)" shape-rendering="crispEdges"/>
<rect x="138" y="161.63" width="23" height="1.56" fill="rgb(248,99,97)" shape-rendering="crispEdges"/>
<rect x="138" y="163.14" width="23" height="1.56" fill="rgb(244,85,83)" shape-rendering="crispEdges"/>
<rect x="138" y="164.65" width="23" height="1.56" fill="rgb(244,85,83)" shape-rendering="crispEdges"/>
<rect x="138" y="166.15" width="23" height="1.56" fill="rgb(245,89,87)" shape-rendering="crispEdges"/>
<rect x="138" y="167.66" width="23" height="1.56" fill="rgb(245,89,87)" shape-rendering="crispEdges"/>
<rect x="138" y="169.17" width="23" height="1.56" fill="rgb(246,93,91)" shape-rendering="crispEdges"/>
<rect x="138" y="170.68" width="23" height="1.56" fill="rgb(248,99,97)" shape-rendering="crispEdges"/>
<rect x="138" y="172.18" width="23" height="1.56" fill="rgb(246,93,91)" shape-rendering="crispEdges"/>
<rect x="138" y="173.69" width="23" height="1.56" fill="rgb(245,86,84)" shape-rendering="crispEdges"/>
<rect x="138" y="175.2" width="23" height="1.56" fill="rgb(244,83,81)" shape-rendering="crispEdges"/>
<rect x="138" y="176.71" width="23" height="1.56" fill="rgb(245,88,86)" shape-rendering="crispEdges"/>
<rect x="138" y="178.22" width="23" height="1.56" fill="rgb(247,96,94)" shape-rendering="crispEdges"/>
<rect x="138" y="179.72" width="23" height="1.56" fill="rgb(243,81,79)" shape-rendering="crispEdges"/>
<rect x="138" y="181.23" width="23" height="1.56" fill="rgb(245,86,84)" shape-rendering="crispEdges"/>
<rect x="138" y="182.74" width="23" height="1.56" fill="rgb(247,97,95)" shape-rendering="crispEdges"/>
<rect x="138" y="184.25" width="23" height="1.56" fill="rgb(246,91,89)" shape-rendering="crispEdges"/>
<rect x="138" y="185.75" width="23" height="1.56" fill="rgb(247,97,95)" shape-rendering="crispEdges"/>
<rect x="138" y="187.26" width="23" height="1.56" fill="rgb(247,95,93)" shape-rendering="crispEdges"/>
<rect x="138" y="188.77" width="23" height="1.56" fill="rgb(245,88,86)" shape-rendering="crispEdges"/>
<rect x="138" y="190.28" width="23" height="1.56" fill="rgb(245,88,86)" shape-rendering="crispEdges"/>
<rect x="138" y="191.78" width="23" height="1.56" fill="rgb(246,90,88)" shape-rendering="crispEdges"/>
<rect x="138" y="193.29" width="23" height="1.56" fill="rgb(246,92,90)" shape-rendering="crispEdges"/>
<rect x="138" y="194.8" width="23" height="1.56" fill="rgb(246,92,90)" shape-rendering="crispEdges"/>
<rect x="138" y="196.31" width="23" height="1.56" fill="rgb(246,90,88)" shape-rendering="crispEdges"/>
<rect x="138" y="197.82" width="23" height="1.56" fill="rgb(246,91,89)" shape-rendering="crispEdges"/>
<rect x="138" y="199.32" width="23" height="1.56" fill="rgb(246,90,88)" shape-rendering="crispEdges"/>
<rect x="138" y="200.83" width="23" height="1.56" fill="rgb(246,92,90)" shape-rendering="crispEdges"/>
<rect x="138" y="202.34" width="23" height="1.56" fill="rgb(246,90,88)" shape-rendering="crispEdges"/>
<rect x="138" y="203.85" width="23" height="1.56" fill="rgb(246,90,88)" shape-rendering="crispEdges"/>
<rect x="138" y="205.35" width="23" height="1.56" fill="rgb(245,88,86)" shape-rendering="crispEdges"/>
<rect x="138" y="206.86" width="23" height="1.56" fill="rgb(245,88,86)" shape-rendering="crispEdges"/>
<rect x="138" y="208.37" width="23" height="1.56" fill="rgb(246,92,90)" shape-rendering="crispEdges"/>
<rect x="138" y="209.88" width="23" height="1.56" fill="rgb(246,90,88)" shape-rendering="crispEdges"/>
<rect x="138" y="211.38" width="23" height="1.56" fill="rgb(245,89,87)" shape-rendering="crispEdges"/>
<rect x="138" y="212.89" width="23" height="1.56" fill="rgb(246,92,90)" shape-rendering="crispEdges"/>
<rect x="138" y="214.4" width="23" height="1.56" fill="rgb(245,89,87)" shape-rendering="crispEdges"/>
<rect x="138" y="215.91" width="23" height="1.56" fill="rgb(246,90,88)" shape-rendering="crispEdges"/>
<rect x="138" y="217.42" width="23" height="1.56" fill="rgb(246,90,88)" shape-rendering="crispEdges"/>
<rect x="138" y="218.92" width="23" height="1.56" fill="rgb(246,90,88)" shape-rendering="crispEdges"/>
<rect x="138" y="220.43" width="23" height="1.56" fill="rgb(246,92,90)" shape-rendering="crispEdges"/>
<rect x="138" y="221.94" width="23" height="1.56" fill="rgb(246,90,88)" shape-rendering="crispEdges"/>
<rect x="138" y="223.45" width="23" height="1.56" fill="rgb(245,89,87)" shape-rendering="crispEdges"/>
<rect x="138" y="224.95" width="23" height="1.56" fill="rgb(246,91,89)" shape-rendering="crispEdges"/>
<rect x="138" y="226.46" width="23" height="1.56" fill="rgb(245,88,86)" shape-rendering="crispEdges"/>
<rect x="138" y="227.97" width="23" height="1.56" fill="rgb(245,88,86)" shape-rendering="crispEdges"/>
<rect x="138" y="229.48" width="23" height="1.56" fill="rgb(246,92,90)" shape-rendering="crispEdges"/>
<rect x="138" y="230.98" width="23" height="1.56" fill="rgb(246,93,91)" shape-rendering="crispEdges"/>
<rect x="138" y="232.49" width="23" height="1.56" fill="rgb(246,91,89)" shape-rendering="crispEdges"/>
<path d="M91.6 34.9 V20.5 H138.4 V34.9 M80.3 38 V34.9 H103.7 V38 M126.3 38 V34.9 H150.1 V38" fill="none" stroke="#111" stroke-width="1.3" />
<defs><linearGradient id="cbA" x1="0" y1="0" x2="0" y2="1"><stop offset="0" stop-color="#e81818"/><stop offset="0.25" stop-color="#f27a7a"/><stop offset="0.5" stop-color="#ffffff"/><stop offset="0.75" stop-color="#7878f0"/><stop offset="1" stop-color="#1a2ae8"/></linearGradient></defs>
<rect x="166.2" y="37.1" width="8.3" height="59.9" fill="url(#cbA)" />
<text x="180.8" y="43.9" text-anchor="middle" fill="#222" transform="rotate(-90 180.8 43.9)" style="font-size:4.6px;font-family:'Liberation Sans', Arial, sans-serif">1</text>
<text x="180.8" y="56.4" text-anchor="middle" fill="#222" transform="rotate(-90 180.8 56.4)" style="font-size:4.6px;font-family:'Liberation Sans', Arial, sans-serif">0.5</text>
<text x="180.8" y="68" text-anchor="middle" fill="#222" transform="rotate(-90 180.8 68)" style="font-size:4.6px;font-family:'Liberation Sans', Arial, sans-serif">0</text>
<text x="180.8" y="80" text-anchor="middle" fill="#222" transform="rotate(-90 180.8 80)" style="font-size:4.6px;font-family:'Liberation Sans', Arial, sans-serif">-0.5</text>
<text x="180.8" y="92.1" text-anchor="middle" fill="#222" transform="rotate(-90 180.8 92.1)" style="font-size:4.6px;font-family:'Liberation Sans', Arial, sans-serif">-1</text>
<text x="190" y="68.5" text-anchor="middle" fill="#111" textLength="28.6" lengthAdjust="spacingAndGlyphs" transform="rotate(-90 190 68.5)" style="font-size:5.6px;font-family:'Liberation Sans', Arial, sans-serif">log2(TPM+1)</text>
<text x="84" y="248" text-anchor="end" fill="#222" textLength="12.8" lengthAdjust="spacingAndGlyphs" transform="rotate(-90 84 248)" style="font-size:8.3px;font-family:'Liberation Sans', Arial, sans-serif;font-style:italic">wt1</text>
<text x="107.4" y="248" text-anchor="end" fill="#222" textLength="13.4" lengthAdjust="spacingAndGlyphs" transform="rotate(-90 107.4 248)" style="font-size:8.3px;font-family:'Liberation Sans', Arial, sans-serif;font-style:italic">wt2</text>
<text x="132.2" y="244.5" text-anchor="end" fill="#222" transform="rotate(-90 132.2 244.5)" style="font-size:8.3px;font-family:'Liberation Sans', Arial, sans-serif;font-style:italic">1</text>
<text x="124.2" y="248.5" text-anchor="end" fill="#222" textLength="29" lengthAdjust="spacingAndGlyphs" transform="rotate(-90 124.2 248.5)" style="font-size:4.6px;font-family:'Liberation Sans', Arial, sans-serif;font-style:italic">K6801/10424</text>
<text x="132.2" y="278" text-anchor="end" fill="#222" textLength="20.5" lengthAdjust="spacingAndGlyphs" transform="rotate(-90 132.2 278)" style="font-size:8.3px;font-family:'Liberation Sans', Arial, sans-serif;font-style:italic">kmd5</text>
<text x="157.8" y="244.5" text-anchor="end" fill="#222" transform="rotate(-90 157.8 244.5)" style="font-size:8.3px;font-family:'Liberation Sans', Arial, sans-serif;font-style:italic">2</text>
<text x="149.8" y="248.5" text-anchor="end" fill="#222" textLength="29" lengthAdjust="spacingAndGlyphs" transform="rotate(-90 149.8 248.5)" style="font-size:4.6px;font-family:'Liberation Sans', Arial, sans-serif;font-style:italic">K6801/10424</text>
<text x="157.8" y="278" text-anchor="end" fill="#222" textLength="20.5" lengthAdjust="spacingAndGlyphs" transform="rotate(-90 157.8 278)" style="font-size:8.3px;font-family:'Liberation Sans', Arial, sans-serif;font-style:italic">kmd5</text>
<text x="217.8" y="21.1" style="font-size:17.6px;font-family:'Liberation Sans', Arial, sans-serif;font-weight:bold">B</text>
<rect x="226" y="30.5" width="205" height="15.5" fill="#ffffff" />
<line x1="226" y1="30.5" x2="431" y2="30.5" stroke="#e4e4e4" stroke-width="0.6" />
<line x1="383.6" y1="30.5" x2="383.6" y2="46" stroke="#e8e8e8" stroke-width="0.6" />
<line x1="431" y1="30.5" x2="431" y2="46" stroke="#e8e8e8" stroke-width="0.6" />
<text x="227" y="42.8" fill="#1a1a1a" textLength="28" lengthAdjust="spacingAndGlyphs" style="font-size:13px;font-family:'Liberation Sans', Arial, sans-serif" stroke="#1a1a1a" stroke-width="0.3">Genes</text>
<text x="385.2" y="42.8" fill="#1a1a1a" textLength="34" lengthAdjust="spacingAndGlyphs" style="font-size:13px;font-family:'Liberation Sans', Arial, sans-serif" stroke="#1a1a1a" stroke-width="0.3">P-Value</text>
<rect x="383.6" y="46" width="47.4" height="15.97" fill="#f6675d" />
<line x1="226" y1="46" x2="383.6" y2="46" stroke="#dcdcdc" stroke-width="0.6" />
<text x="227" y="59.2" fill="#1a1a1a" textLength="152.4" lengthAdjust="spacingAndGlyphs" style="font-size:13px;font-family:'Liberation Sans', Arial, sans-serif" stroke="#1a1a1a" stroke-width="0.3">monosaccharide metabolic process</text>
<text x="388.5" y="59.8" fill="#3a2a10" textLength="41" lengthAdjust="spacingAndGlyphs" style="font-size:12.6px;font-family:'Liberation Serif', 'Times New Roman', serif">3. 10E-09</text>
<rect x="383.6" y="61.95" width="47.4" height="15.97" fill="#f6675d" />
<line x1="226" y1="61.95" x2="383.6" y2="61.95" stroke="#dcdcdc" stroke-width="0.6" />
<text x="227" y="75.15" fill="#1a1a1a" textLength="112" lengthAdjust="spacingAndGlyphs" style="font-size:13px;font-family:'Liberation Sans', Arial, sans-serif" stroke="#1a1a1a" stroke-width="0.3">hexose metabolic process</text>
<text x="388.5" y="75.75" fill="#3a2a10" textLength="41" lengthAdjust="spacingAndGlyphs" style="font-size:12.6px;font-family:'Liberation Serif', 'Times New Roman', serif">3. 70E-08</text>
<rect x="383.6" y="77.9" width="47.4" height="15.97" fill="#f6675d" />
<line x1="226" y1="77.9" x2="383.6" y2="77.9" stroke="#dcdcdc" stroke-width="0.6" />
<text x="227" y="91.1" fill="#1a1a1a" textLength="96" lengthAdjust="spacingAndGlyphs" style="font-size:13px;font-family:'Liberation Sans', Arial, sans-serif" stroke="#1a1a1a" stroke-width="0.3">response to bacterium</text>
<text x="388.5" y="91.7" fill="#3a2a10" textLength="41" lengthAdjust="spacingAndGlyphs" style="font-size:12.6px;font-family:'Liberation Serif', 'Times New Roman', serif">4. 00E-08</text>
<rect x="383.6" y="93.85" width="47.4" height="15.97" fill="#f6675d" />
<line x1="226" y1="93.85" x2="383.6" y2="93.85" stroke="#dcdcdc" stroke-width="0.6" />
<text x="227" y="107.05" fill="#1a1a1a" textLength="79" lengthAdjust="spacingAndGlyphs" style="font-size:13px;font-family:'Liberation Sans', Arial, sans-serif" stroke="#1a1a1a" stroke-width="0.3">defense response</text>
<text x="388.5" y="107.65" fill="#3a2a10" textLength="41" lengthAdjust="spacingAndGlyphs" style="font-size:12.6px;font-family:'Liberation Serif', 'Times New Roman', serif">5. 30E-08</text>
<rect x="383.6" y="109.8" width="47.4" height="15.97" fill="#fde276" />
<line x1="226" y1="109.8" x2="383.6" y2="109.8" stroke="#dcdcdc" stroke-width="0.6" />
<text x="227" y="123" fill="#1a1a1a" textLength="81" lengthAdjust="spacingAndGlyphs" style="font-size:13px;font-family:'Liberation Sans', Arial, sans-serif" stroke="#1a1a1a" stroke-width="0.3">oxidation reduction</text>
<text x="388.5" y="123.6" fill="#3a2a10" textLength="41" lengthAdjust="spacingAndGlyphs" style="font-size:12.6px;font-family:'Liberation Serif', 'Times New Roman', serif">3. 50E-07</text>
<rect x="383.6" y="125.75" width="47.4" height="15.97" fill="#f9e37b" />
<line x1="226" y1="125.75" x2="383.6" y2="125.75" stroke="#dcdcdc" stroke-width="0.6" />
<text x="227" y="138.95" fill="#1a1a1a" textLength="135" lengthAdjust="spacingAndGlyphs" style="font-size:13px;font-family:'Liberation Sans', Arial, sans-serif" stroke="#1a1a1a" stroke-width="0.3">carbohydrate catabolic process</text>
<text x="388.5" y="139.55" fill="#3a2a10" textLength="41" lengthAdjust="spacingAndGlyphs" style="font-size:12.6px;font-family:'Liberation Serif', 'Times New Roman', serif">3. 80E-07</text>
<rect x="383.6" y="141.7" width="47.4" height="15.97" fill="#eadf70" />
<line x1="226" y1="141.7" x2="383.6" y2="141.7" stroke="#dcdcdc" stroke-width="0.6" />
<text x="227" y="154.9" fill="#1a1a1a" textLength="134" lengthAdjust="spacingAndGlyphs" style="font-size:13px;font-family:'Liberation Sans', Arial, sans-serif" stroke="#1a1a1a" stroke-width="0.3">aminoglycan metabolic process</text>
<text x="388.5" y="155.5" fill="#3a2a10" textLength="41" lengthAdjust="spacingAndGlyphs" style="font-size:12.6px;font-family:'Liberation Serif', 'Times New Roman', serif">4. 70E-07</text>
<rect x="383.6" y="157.65" width="47.4" height="15.97" fill="#bfda74" />
<line x1="226" y1="157.65" x2="383.6" y2="157.65" stroke="#dcdcdc" stroke-width="0.6" />
<text x="227" y="170.85" fill="#1a1a1a" textLength="132" lengthAdjust="spacingAndGlyphs" style="font-size:13px;font-family:'Liberation Sans', Arial, sans-serif" stroke="#1a1a1a" stroke-width="0.3">antibacterial humoral response</text>
<text x="388.5" y="171.45" fill="#3a2a10" textLength="41" lengthAdjust="spacingAndGlyphs" style="font-size:12.6px;font-family:'Liberation Serif', 'Times New Roman', serif">6. 00E-07</text>
<rect x="383.6" y="173.6" width="47.4" height="15.97" fill="#b5d771" />
<line x1="226" y1="173.6" x2="383.6" y2="173.6" stroke="#dcdcdc" stroke-width="0.6" />
<text x="227" y="186.8" fill="#1a1a1a" textLength="134" lengthAdjust="spacingAndGlyphs" style="font-size:13px;font-family:'Liberation Sans', Arial, sans-serif" stroke="#1a1a1a" stroke-width="0.3">defense response to bacterium</text>
<text x="388.5" y="187.4" fill="#3a2a10" textLength="41" lengthAdjust="spacingAndGlyphs" style="font-size:12.6px;font-family:'Liberation Serif', 'Times New Roman', serif">6. 40E-07</text>
<rect x="383.6" y="189.55" width="47.4" height="15.97" fill="#a9d36c" />
<line x1="226" y1="189.55" x2="383.6" y2="189.55" stroke="#dcdcdc" stroke-width="0.6" />
<text x="227" y="202.75" fill="#1a1a1a" textLength="76" lengthAdjust="spacingAndGlyphs" style="font-size:13px;font-family:'Liberation Sans', Arial, sans-serif" stroke="#1a1a1a" stroke-width="0.3">immune response</text>
<text x="388.5" y="203.35" fill="#3a2a10" textLength="41" lengthAdjust="spacingAndGlyphs" style="font-size:12.6px;font-family:'Liberation Serif', 'Times New Roman', serif">6. 50E-07</text>
<rect x="383.6" y="205.5" width="47.4" height="15.97" fill="#40bb6c" />
<line x1="226" y1="205.5" x2="383.6" y2="205.5" stroke="#dcdcdc" stroke-width="0.6" />
<text x="227" y="218.7" fill="#1a1a1a" textLength="105" lengthAdjust="spacingAndGlyphs" style="font-size:13px;font-family:'Liberation Sans', Arial, sans-serif" stroke="#1a1a1a" stroke-width="0.3">innate immune response</text>
<text x="388.5" y="219.3" fill="#3a2a10" textLength="41" lengthAdjust="spacingAndGlyphs" style="font-size:12.6px;font-family:'Liberation Serif', 'Times New Roman', serif">8. 80E-07</text>
<line x1="226" y1="221.45" x2="383.6" y2="221.45" stroke="#dcdcdc" stroke-width="0.6" />
<text x="455" y="21.8" style="font-size:17.6px;font-family:'Liberation Sans', Arial, sans-serif;font-weight:bold">C</text>
<path d="M558.8 49.3L593.0 54.4M558.8 49.3L610.0 41.2M558.8 49.3L529.0 73.9M558.8 49.3L562.1 79.2M558.8 49.3L594.8 77.2M558.8 49.3L625.9 75.9M558.8 49.3L550.7 104.2M558.8 49.3L582.9 105.0M593.0 54.4L610.0 41.2M593.0 54.4L529.0 73.9M593.0 54.4L562.1 79.2M593.0 54.4L594.8 77.2M593.0 54.4L625.9 75.9M593.0 54.4L644.3 94.1M593.0 54.4L550.7 104.2M593.0 54.4L582.9 105.0M593.0 54.4L615.0 105.7M593.0 54.4L592.2 128.3M610.0 41.2L562.1 79.2M610.0 41.2L594.8 77.2M610.0 41.2L625.9 75.9M610.0 41.2L644.3 94.1M610.0 41.2L582.9 105.0M610.0 41.2L615.0 105.7M529.0 73.9L562.1 79.2M529.0 73.9L594.8 77.2M529.0 73.9L550.7 104.2M529.0 73.9L582.9 105.0M529.0 73.9L551.5 128.3M562.1 79.2L594.8 77.2M562.1 79.2L625.9 75.9M562.1 79.2L550.7 104.2M562.1 79.2L582.9 105.0M562.1 79.2L615.0 105.7M562.1 79.2L551.5 128.3M562.1 79.2L592.2 128.3M562.1 79.2L572.8 148.7M594.8 77.2L625.9 75.9M594.8 77.2L644.3 94.1M594.8 77.2L550.7 104.2M594.8 77.2L582.9 105.0M594.8 77.2L615.0 105.7M594.8 77.2L551.5 128.3M594.8 77.2L592.2 128.3M594.8 77.2L641.0 130.2M594.8 77.2L572.8 148.7M594.8 77.2L625.1 145.7M625.9 75.9L644.3 94.1M625.9 75.9L582.9 105.0M625.9 75.9L615.0 105.7M625.9 75.9L592.2 128.3M625.9 75.9L641.0 130.2M625.9 75.9L625.1 145.7M644.3 94.1L582.9 105.0M644.3 94.1L615.0 105.7M644.3 94.1L592.2 128.3M644.3 94.1L641.0 130.2M644.3 94.1L625.1 145.7M550.7 104.2L582.9 105.0M550.7 104.2L615.0 105.7M550.7 104.2L551.5 128.3M550.7 104.2L592.2 128.3M550.7 104.2L572.8 148.7M582.9 105.0L615.0 105.7M582.9 105.0L551.5 128.3M582.9 105.0L592.2 128.3M582.9 105.0L641.0 130.2M582.9 105.0L572.8 148.7M582.9 105.0L625.1 145.7M582.9 105.0L615.8 167.2M615.0 105.7L551.5 128.3M615.0 105.7L592.2 128.3M615.0 105.7L641.0 130.2M615.0 105.7L572.8 148.7M615.0 105.7L625.1 145.7M615.0 105.7L615.8 167.2M551.5 128.3L592.2 128.3M551.5 128.3L572.8 148.7M592.2 128.3L641.0 130.2M592.2 128.3L572.8 148.7M592.2 128.3L625.1 145.7M592.2 128.3L615.8 167.2M641.0 130.2L572.8 148.7M641.0 130.2L625.1 145.7M641.0 130.2L615.8 167.2M572.8 148.7L625.1 145.7M572.8 148.7L615.8 167.2M625.1 145.7L615.8 167.2M483.5 98.5L472.8 163.4M483.5 98.5L550.7 104.2M483.5 98.5L551.5 128.3M483.5 98.5L529.0 73.9M483.5 98.5L562.1 79.2M472.8 163.4L551.5 128.3M551.5 128.3L520.9 208.4" fill="none" stroke="#6c7a92" stroke-width="0.85" />
<circle cx="558.8" cy="49.3" r="12.1" fill="#f4e21c" stroke="#b88a20" stroke-width="0.6"/>
<circle cx="593.0" cy="54.4" r="12.1" fill="#f6ea1e" stroke="#b88a20" stroke-width="0.6"/>
<circle cx="610.0" cy="41.2" r="12.1" fill="#ef7a14" stroke="#b88a20" stroke-width="0.6"/>
<circle cx="529.0" cy="73.9" r="12.1" fill="#efbb1e" stroke="#b88a20" stroke-width="0.6"/>
<circle cx="562.1" cy="79.2" r="12.1" fill="#f4e41c" stroke="#b88a20" stroke-width="0.6"/>
<circle cx="594.8" cy="77.2" r="12.1" fill="#eb5e10" stroke="#b88a20" stroke-width="0.6"/>
<circle cx="625.9" cy="75.9" r="12.1" fill="#f3a41e" stroke="#b88a20" stroke-width="0.6"/>
<circle cx="644.3" cy="94.1" r="12.1" fill="#f3ad20" stroke="#b88a20" stroke-width="0.6"/>
<circle cx="483.5" cy="98.5" r="12.1" fill="#efbf1e" stroke="#b88a20" stroke-width="0.6"/>
<circle cx="550.7" cy="104.2" r="12.1" fill="#f6f9fc" stroke="#9aa8bc" stroke-width="0.6"/>
<circle cx="582.9" cy="105.0" r="12.1" fill="#f3a41e" stroke="#b88a20" stroke-width="0.6"/>
<circle cx="615.0" cy="105.7" r="12.1" fill="#ef7a14" stroke="#b88a20" stroke-width="0.6"/>
<circle cx="551.5" cy="128.3" r="12.1" fill="#f6f9fc" stroke="#9aa8bc" stroke-width="0.6"/>
<circle cx="592.2" cy="128.3" r="12.1" fill="#ee6e12" stroke="#b88a20" stroke-width="0.6"/>
<circle cx="641.0" cy="130.2" r="12.1" fill="#f3ae20" stroke="#b88a20" stroke-width="0.6"/>
<circle cx="572.8" cy="148.7" r="12.1" fill="#f3a81e" stroke="#b88a20" stroke-width="0.6"/>
<circle cx="625.1" cy="145.7" r="12.1" fill="#f4ea1c" stroke="#b88a20" stroke-width="0.6"/>
<circle cx="615.8" cy="167.2" r="12.1" fill="#f1a21e" stroke="#b88a20" stroke-width="0.6"/>
<circle cx="472.8" cy="163.4" r="12.1" fill="#e81010" stroke="#b88a20" stroke-width="0.6"/>
<circle cx="520.9" cy="208.4" r="12.1" fill="#f1cc1e" stroke="#b88a20" stroke-width="0.6"/>
<text x="558.8" y="52.3" text-anchor="middle" fill="#262014" textLength="33" lengthAdjust="spacingAndGlyphs" style="font-size:8.2px;font-family:'Liberation Sans', Arial, sans-serif">PGRP-SA</text>
<text x="593" y="57.4" text-anchor="middle" fill="#262014" style="font-size:8.2px;font-family:'Liberation Sans', Arial, sans-serif">imd</text>
<text x="610" y="44.2" text-anchor="middle" fill="#262014" style="font-size:8.2px;font-family:'Liberation Sans', Arial, sans-serif">AttB</text>
<text x="529" y="76.9" text-anchor="middle" fill="#262014" style="font-size:8.2px;font-family:'Liberation Sans', Arial, sans-serif">CecA2</text>
<text x="562.1" y="82.2" text-anchor="middle" fill="#262014" style="font-size:8.2px;font-family:'Liberation Sans', Arial, sans-serif">AttD</text>
<text x="594.8" y="80.2" text-anchor="middle" fill="#262014" style="font-size:8.2px;font-family:'Liberation Sans', Arial, sans-serif">AttC</text>
<text x="625.9" y="78.9" text-anchor="middle" fill="#262014" style="font-size:8.2px;font-family:'Liberation Sans', Arial, sans-serif">Mtk</text>
<text x="644.3" y="97.1" text-anchor="middle" fill="#262014" textLength="36" lengthAdjust="spacingAndGlyphs" style="font-size:8.2px;font-family:'Liberation Sans', Arial, sans-serif">PGRP-SB1</text>
<text x="483.5" y="101.5" text-anchor="middle" fill="#262014" textLength="41" lengthAdjust="spacingAndGlyphs" style="font-size:8.2px;font-family:'Liberation Sans', Arial, sans-serif">PGRP-SC1b</text>
<text x="550.7" y="107.2" text-anchor="middle" fill="#262014" style="font-size:8.2px;font-family:'Liberation Sans', Arial, sans-serif">Rel</text>
<text x="582.9" y="108" text-anchor="middle" fill="#262014" style="font-size:8.2px;font-family:'Liberation Sans', Arial, sans-serif">Dro</text>
<text x="615" y="108.7" text-anchor="middle" fill="#262014" style="font-size:8.2px;font-family:'Liberation Sans', Arial, sans-serif">AttA</text>
<text x="551.5" y="131.3" text-anchor="middle" fill="#262014" style="font-size:8.2px;font-family:'Liberation Sans', Arial, sans-serif">Kdm5</text>
<text x="592.2" y="131.3" text-anchor="middle" fill="#262014" style="font-size:8.2px;font-family:'Liberation Sans', Arial, sans-serif">Dpt</text>
<text x="641" y="133.2" text-anchor="middle" fill="#262014" style="font-size:8.2px;font-family:'Liberation Sans', Arial, sans-serif">CecC</text>
<text x="572.8" y="151.7" text-anchor="middle" fill="#262014" style="font-size:8.2px;font-family:'Liberation Sans', Arial, sans-serif">Def</text>
<text x="625.1" y="148.7" text-anchor="middle" fill="#262014" textLength="33" lengthAdjust="spacingAndGlyphs" style="font-size:8.2px;font-family:'Liberation Sans', Arial, sans-serif">PGRP-LC</text>
<text x="615.8" y="170.2" text-anchor="middle" fill="#262014" textLength="32" lengthAdjust="spacingAndGlyphs" style="font-size:8.2px;font-family:'Liberation Sans', Arial, sans-serif">CG10332</text>
<text x="472.8" y="166.4" text-anchor="middle" fill="#262014" textLength="26" lengthAdjust="spacingAndGlyphs" style="font-size:8.2px;font-family:'Liberation Sans', Arial, sans-serif">CG1304</text>
<text x="520.9" y="211.4" text-anchor="middle" fill="#262014" textLength="32" lengthAdjust="spacingAndGlyphs" style="font-size:8.2px;font-family:'Liberation Sans', Arial, sans-serif">CG33470</text>
<defs><linearGradient id="cbC" x1="0" y1="0" x2="1" y2="0"><stop offset="0" stop-color="#ffff10"/><stop offset="0.45" stop-color="#ff9a00"/><stop offset="0.85" stop-color="#ff1800"/><stop offset="1" stop-color="#c80000"/></linearGradient></defs>
<rect x="467.3" y="34.7" width="45.5" height="9.6" fill="url(#cbC)" />
<text x="467.5" y="47.8" fill="#333" style="font-size:3px;font-family:'Liberation Sans', Arial, sans-serif;font-weight:bold">0.0</text>
<text x="477" y="47.8" fill="#333" textLength="24" lengthAdjust="spacingAndGlyphs" style="font-size:3.1px;font-family:'Liberation Sans', Arial, sans-serif;font-weight:bold">Abs (FoldChange)</text>
<path d="M471.5 46.9 H476.5 M501.5 46.9 H509" fill="none" stroke="#777" stroke-width="0.4" />
<text x="512.6" y="47.8" text-anchor="end" fill="#333" style="font-size:3px;font-family:'Liberation Sans', Arial, sans-serif;font-weight:bold">7.6</text>
<text x="467.5" y="50.6" fill="#555" style="font-size:2.6px;font-family:'Liberation Sans', Arial, sans-serif;font-weight:bold">0.00</text>
<text x="512.6" y="50.6" text-anchor="end" fill="#555" style="font-size:2.6px;font-family:'Liberation Sans', Arial, sans-serif;font-weight:bold">0.00</text>
<text x="674.6" y="21.8" style="font-size:17.6px;font-family:'Liberation Sans', Arial, sans-serif;font-weight:bold">D</text>
<text x="738.6" y="32.4" fill="#111" textLength="99.2" lengthAdjust="spacingAndGlyphs" style="font-size:11.2px;font-family:'Liberation Sans', Arial, sans-serif">Genes expression in</text>
<text x="842.8" y="32.4" fill="#111" textLength="26.5" lengthAdjust="spacingAndGlyphs" style="font-size:11.2px;font-family:'Liberation Sans', Arial, sans-serif;font-style:italic">kdm5</text>
<text x="870.3" y="25.2" fill="#555" textLength="18.5" lengthAdjust="spacingAndGlyphs" style="font-size:2.8px;font-family:'Liberation Sans', Arial, sans-serif;font-style:italic">K6801/10424</text>
<text x="892.4" y="32.4" fill="#111" textLength="20.2" lengthAdjust="spacingAndGlyphs" style="font-size:11.2px;font-family:'Liberation Sans', Arial, sans-serif">flie s</text>
<line x1="710.2" y1="184" x2="710.2" y2="137.8" stroke="#000" stroke-width="1.3" />
<line x1="710.2" y1="134.4" x2="710.2" y2="87.1" stroke="#000" stroke-width="1.3" />
<line x1="710.2" y1="84.1" x2="710.2" y2="37.4" stroke="#000" stroke-width="1.3" />
<line x1="707" y1="137.8" x2="713" y2="137.8" stroke="#000" stroke-width="1.1" />
<line x1="707" y1="134.4" x2="713" y2="134.4" stroke="#000" stroke-width="1.1" />
<line x1="707" y1="87.1" x2="713" y2="87.1" stroke="#000" stroke-width="1.1" />
<line x1="707" y1="84.1" x2="713" y2="84.1" stroke="#000" stroke-width="1.1" />
<line x1="706.5" y1="184" x2="710.2" y2="184" stroke="#000" stroke-width="1.1" />
<text x="704.2" y="187.6" text-anchor="end" fill="#111" textLength="5.3" lengthAdjust="spacingAndGlyphs" style="font-size:10.6px;font-family:'Liberation Sans', Arial, sans-serif;font-weight:bold">0</text>
<line x1="706.5" y1="172.45" x2="710.2" y2="172.45" stroke="#000" stroke-width="1.1" />
<text x="704.2" y="176.05" text-anchor="end" fill="#111" textLength="5.3" lengthAdjust="spacingAndGlyphs" style="font-size:10.6px;font-family:'Liberation Sans', Arial, sans-serif;font-weight:bold">2</text>
<line x1="706.5" y1="160.9" x2="710.2" y2="160.9" stroke="#000" stroke-width="1.1" />
<text x="704.2" y="164.5" text-anchor="end" fill="#111" textLength="5.3" lengthAdjust="spacingAndGlyphs" style="font-size:10.6px;font-family:'Liberation Sans', Arial, sans-serif;font-weight:bold">4</text>
<line x1="706.5" y1="149.35" x2="710.2" y2="149.35" stroke="#000" stroke-width="1.1" />
<text x="704.2" y="152.95" text-anchor="end" fill="#111" textLength="5.3" lengthAdjust="spacingAndGlyphs" style="font-size:10.6px;font-family:'Liberation Sans', Arial, sans-serif;font-weight:bold">6</text>
<line x1="706.5" y1="137.8" x2="710.2" y2="137.8" stroke="#000" stroke-width="1.1" />
<text x="704.2" y="141.4" text-anchor="end" fill="#111" textLength="5.3" lengthAdjust="spacingAndGlyphs" style="font-size:10.6px;font-family:'Liberation Sans', Arial, sans-serif;font-weight:bold">8</text>
<line x1="706.5" y1="128.9" x2="710.2" y2="128.9" stroke="#000" stroke-width="1.1" />
<text x="704.2" y="132.5" text-anchor="end" fill="#111" textLength="10.6" lengthAdjust="spacingAndGlyphs" style="font-size:10.6px;font-family:'Liberation Sans', Arial, sans-serif;font-weight:bold">15</text>
<line x1="706.5" y1="116.33" x2="710.2" y2="116.33" stroke="#000" stroke-width="1.1" />
<text x="704.2" y="119.93" text-anchor="end" fill="#111" textLength="10.6" lengthAdjust="spacingAndGlyphs" style="font-size:10.6px;font-family:'Liberation Sans', Arial, sans-serif;font-weight:bold">30</text>
<line x1="706.5" y1="103.76" x2="710.2" y2="103.76" stroke="#000" stroke-width="1.1" />
<text x="704.2" y="107.36" text-anchor="end" fill="#111" textLength="10.6" lengthAdjust="spacingAndGlyphs" style="font-size:10.6px;font-family:'Liberation Sans', Arial, sans-serif;font-weight:bold">45</text>
<line x1="706.5" y1="91.19" x2="710.2" y2="91.19" stroke="#000" stroke-width="1.1" />
<text x="704.2" y="94.79" text-anchor="end" fill="#111" textLength="10.6" lengthAdjust="spacingAndGlyphs" style="font-size:10.6px;font-family:'Liberation Sans', Arial, sans-serif;font-weight:bold">60</text>
<line x1="706.5" y1="80.9" x2="710.2" y2="80.9" stroke="#000" stroke-width="1.1" />
<text x="704.2" y="84.5" text-anchor="end" fill="#111" textLength="15.9" lengthAdjust="spacingAndGlyphs" style="font-size:10.6px;font-family:'Liberation Sans', Arial, sans-serif;font-weight:bold">100</text>
<line x1="706.5" y1="69.97" x2="710.2" y2="69.97" stroke="#000" stroke-width="1.1" />
<text x="704.2" y="73.57" text-anchor="end" fill="#111" textLength="15.9" lengthAdjust="spacingAndGlyphs" style="font-size:10.6px;font-family:'Liberation Sans', Arial, sans-serif;font-weight:bold">200</text>
<line x1="706.5" y1="59.04" x2="710.2" y2="59.04" stroke="#000" stroke-width="1.1" />
<text x="704.2" y="62.64" text-anchor="end" fill="#111" textLength="15.9" lengthAdjust="spacingAndGlyphs" style="font-size:10.6px;font-family:'Liberation Sans', Arial, sans-serif;font-weight:bold">300</text>
<line x1="706.5" y1="48.11" x2="710.2" y2="48.11" stroke="#000" stroke-width="1.1" />
<text x="704.2" y="51.71" text-anchor="end" fill="#111" textLength="15.9" lengthAdjust="spacingAndGlyphs" style="font-size:10.6px;font-family:'Liberation Sans', Arial, sans-serif;font-weight:bold">400</text>
<line x1="706.5" y1="37.18" x2="710.2" y2="37.18" stroke="#000" stroke-width="1.1" />
<text x="704.2" y="40.78" text-anchor="end" fill="#111" textLength="15.9" lengthAdjust="spacingAndGlyphs" style="font-size:10.6px;font-family:'Liberation Sans', Arial, sans-serif;font-weight:bold">500</text>
<line x1="709.6" y1="184" x2="913" y2="184" stroke="#000" stroke-width="1.3" />
<rect x="715" y="137.8" width="10.8" height="46.2" fill="#000" />
<rect x="715" y="99.57" width="10.8" height="34.83" fill="#000" />
<line x1="720.4" y1="99.57" x2="720.4" y2="90.77" stroke="#000" stroke-width="1" />
<line x1="717.8" y1="90.77" x2="723" y2="90.77" stroke="#000" stroke-width="1" />
<line x1="720.4" y1="184" x2="720.4" y2="186.8" stroke="#000" stroke-width="1.1" />
<text x="720.4" y="94.27" text-anchor="middle" fill="#222" style="font-size:10px;font-family:'Liberation Sans', Arial, sans-serif" dy="-1">**</text>
<text x="722.6" y="197.2" text-anchor="end" fill="#111" transform="rotate(-45 722.6 197.2)" style="font-size:10.3px;font-family:'Liberation Sans', Arial, sans-serif;font-weight:bold">AttA</text>
<rect x="735.27" y="137.8" width="10.8" height="46.2" fill="#000" />
<rect x="735.27" y="87.1" width="10.8" height="47.3" fill="#000" />
<rect x="735.27" y="44.28" width="10.8" height="39.82" fill="#000" />
<line x1="740.67" y1="44.28" x2="740.67" y2="41.55" stroke="#000" stroke-width="1" />
<line x1="738.07" y1="41.55" x2="743.27" y2="41.55" stroke="#000" stroke-width="1" />
<line x1="740.67" y1="184" x2="740.67" y2="186.8" stroke="#000" stroke-width="1.1" />
<text x="740.67" y="45.05" text-anchor="middle" fill="#222" style="font-size:10px;font-family:'Liberation Sans', Arial, sans-serif" dy="-1">***</text>
<text x="742.87" y="197.2" text-anchor="end" fill="#111" transform="rotate(-45 742.87 197.2)" style="font-size:10.3px;font-family:'Liberation Sans', Arial, sans-serif;font-weight:bold">AttB</text>
<rect x="755.54" y="158.59" width="10.8" height="25.41" fill="#000" />
<line x1="760.94" y1="158.59" x2="760.94" y2="157.15" stroke="#000" stroke-width="1" />
<line x1="758.34" y1="157.15" x2="763.54" y2="157.15" stroke="#000" stroke-width="1" />
<line x1="760.94" y1="184" x2="760.94" y2="186.8" stroke="#000" stroke-width="1.1" />
<text x="760.94" y="160.65" text-anchor="middle" fill="#222" style="font-size:10px;font-family:'Liberation Sans', Arial, sans-serif" dy="-1">*</text>
<text x="763.14" y="197.2" text-anchor="end" fill="#111" transform="rotate(-45 763.14 197.2)" style="font-size:10.3px;font-family:'Liberation Sans', Arial, sans-serif;font-weight:bold">AttC</text>
<rect x="775.81" y="168.99" width="10.8" height="15.01" fill="#000" />
<line x1="781.21" y1="168.99" x2="781.21" y2="168.29" stroke="#000" stroke-width="1" />
<line x1="778.61" y1="168.29" x2="783.81" y2="168.29" stroke="#000" stroke-width="1" />
<line x1="781.21" y1="184" x2="781.21" y2="186.8" stroke="#000" stroke-width="1.1" />
<text x="781.21" y="171.79" text-anchor="middle" fill="#222" style="font-size:10px;font-family:'Liberation Sans', Arial, sans-serif" dy="-1">*</text>
<text x="783.41" y="197.2" text-anchor="end" fill="#111" transform="rotate(-45 783.41 197.2)" style="font-size:10.3px;font-family:'Liberation Sans', Arial, sans-serif;font-weight:bold">AttD</text>
<rect x="796.08" y="146.46" width="10.8" height="37.54" fill="#000" />
<line x1="801.48" y1="146.46" x2="801.48" y2="140.69" stroke="#000" stroke-width="1" />
<line x1="798.88" y1="140.69" x2="804.08" y2="140.69" stroke="#000" stroke-width="1" />
<line x1="801.48" y1="184" x2="801.48" y2="186.8" stroke="#000" stroke-width="1.1" />
<text x="801.48" y="144.19" text-anchor="middle" fill="#222" style="font-size:10px;font-family:'Liberation Sans', Arial, sans-serif" dy="-1">*</text>
<text x="803.68" y="197.2" text-anchor="end" fill="#111" transform="rotate(-45 803.68 197.2)" style="font-size:10.3px;font-family:'Liberation Sans', Arial, sans-serif;font-weight:bold">Dpt</text>
<rect x="816.35" y="137.8" width="10.8" height="46.2" fill="#000" />
<rect x="816.35" y="131.41" width="10.8" height="2.99" fill="#000" />
<line x1="821.75" y1="131.41" x2="821.75" y2="130.58" stroke="#000" stroke-width="1" />
<line x1="819.15" y1="130.58" x2="824.35" y2="130.58" stroke="#000" stroke-width="1" />
<line x1="821.75" y1="184" x2="821.75" y2="186.8" stroke="#000" stroke-width="1.1" />
<text x="821.75" y="134.08" text-anchor="middle" fill="#222" style="font-size:10px;font-family:'Liberation Sans', Arial, sans-serif" dy="-1">*</text>
<text x="823.95" y="197.2" text-anchor="end" fill="#111" transform="rotate(-45 823.95 197.2)" style="font-size:10.3px;font-family:'Liberation Sans', Arial, sans-serif;font-weight:bold">Dro</text>
<rect x="836.62" y="177.36" width="10.8" height="6.64" fill="#000" />
<line x1="842.02" y1="177.36" x2="842.02" y2="176.78" stroke="#000" stroke-width="1" />
<line x1="839.42" y1="176.78" x2="844.62" y2="176.78" stroke="#000" stroke-width="1" />
<line x1="842.02" y1="184" x2="842.02" y2="186.8" stroke="#000" stroke-width="1.1" />
<text x="842.02" y="180.28" text-anchor="middle" fill="#222" style="font-size:10px;font-family:'Liberation Sans', Arial, sans-serif" dy="-1">*</text>
<text x="844.22" y="197.2" text-anchor="end" fill="#111" transform="rotate(-45 844.22 197.2)" style="font-size:10.3px;font-family:'Liberation Sans', Arial, sans-serif;font-weight:bold">imd</text>
<rect x="856.89" y="137.8" width="10.8" height="46.2" fill="#000" />
<rect x="856.89" y="127.06" width="10.8" height="7.34" fill="#000" />
<line x1="862.29" y1="127.06" x2="862.29" y2="125.97" stroke="#000" stroke-width="1" />
<line x1="859.69" y1="125.97" x2="864.89" y2="125.97" stroke="#000" stroke-width="1" />
<line x1="862.29" y1="184" x2="862.29" y2="186.8" stroke="#000" stroke-width="1.1" />
<text x="862.29" y="129.47" text-anchor="middle" fill="#222" style="font-size:10px;font-family:'Liberation Sans', Arial, sans-serif" dy="-1">*</text>
<text x="864.49" y="197.2" text-anchor="end" fill="#111" transform="rotate(-45 864.49 197.2)" style="font-size:10.3px;font-family:'Liberation Sans', Arial, sans-serif;font-weight:bold">Mtk</text>
<rect x="877.16" y="177.07" width="10.8" height="6.93" fill="#000" />
<line x1="882.56" y1="177.07" x2="882.56" y2="176.49" stroke="#000" stroke-width="1" />
<line x1="879.96" y1="176.49" x2="885.16" y2="176.49" stroke="#000" stroke-width="1" />
<line x1="882.56" y1="184" x2="882.56" y2="186.8" stroke="#000" stroke-width="1.1" />
<text x="884.56" y="173.29" text-anchor="middle" fill="#222" style="font-size:10.6px;font-family:'Liberation Sans', Arial, sans-serif">n.s.</text>
<text x="884.76" y="197.2" text-anchor="end" fill="#111" transform="rotate(-45 884.76 197.2)" style="font-size:10.3px;font-family:'Liberation Sans', Arial, sans-serif;font-weight:bold">PGRP-LC-RA</text>
<rect x="897.43" y="166.96" width="10.8" height="17.04" fill="#000" />
<line x1="902.83" y1="166.96" x2="902.83" y2="165.23" stroke="#000" stroke-width="1" />
<line x1="900.23" y1="165.23" x2="905.43" y2="165.23" stroke="#000" stroke-width="1" />
<line x1="902.83" y1="184" x2="902.83" y2="186.8" stroke="#000" stroke-width="1.1" />
<text x="902.83" y="168.73" text-anchor="middle" fill="#222" style="font-size:10px;font-family:'Liberation Sans', Arial, sans-serif" dy="-1">*</text>
<text x="905.03" y="197.2" text-anchor="end" fill="#111" transform="rotate(-45 905.03 197.2)" style="font-size:10.3px;font-family:'Liberation Sans', Arial, sans-serif;font-weight:bold">PGRP-LC-RE</text>
<text x="682.2" y="111" text-anchor="middle" fill="#111" textLength="103" lengthAdjust="spacingAndGlyphs" transform="rotate(-90 682.2 111)" style="font-size:12.4px;font-family:'Liberation Sans', Arial, sans-serif;font-weight:bold">Relative expression</text>
<text x="6.9" y="320.9" style="font-size:17.6px;font-family:'Liberation Sans', Arial, sans-serif;font-weight:bold">E</text>
<line x1="55" y1="534.2" x2="55" y2="366.2" stroke="#000" stroke-width="1.3" />
<line x1="54.4" y1="533.6" x2="306.5" y2="533.6" stroke="#000" stroke-width="1.3" />
<line x1="51.5" y1="533.6" x2="55" y2="533.6" stroke="#000" stroke-width="1.2" />
<text x="49.2" y="537.9" text-anchor="end" fill="#111" textLength="16.4" lengthAdjust="spacingAndGlyphs" style="font-size:12.2px;font-family:'Liberation Sans', Arial, sans-serif;font-weight:bold">0.0</text>
<line x1="51.5" y1="477.8" x2="55" y2="477.8" stroke="#000" stroke-width="1.2" />
<text x="49.2" y="482.1" text-anchor="end" fill="#111" textLength="16.4" lengthAdjust="spacingAndGlyphs" style="font-size:12.2px;font-family:'Liberation Sans', Arial, sans-serif;font-weight:bold">0.4</text>
<line x1="51.5" y1="422" x2="55" y2="422" stroke="#000" stroke-width="1.2" />
<text x="49.2" y="426.3" text-anchor="end" fill="#111" textLength="16.4" lengthAdjust="spacingAndGlyphs" style="font-size:12.2px;font-family:'Liberation Sans', Arial, sans-serif;font-weight:bold">0.8</text>
<line x1="51.5" y1="366.2" x2="55" y2="366.2" stroke="#000" stroke-width="1.2" />
<text x="49.2" y="370.5" text-anchor="end" fill="#111" textLength="16.4" lengthAdjust="spacingAndGlyphs" style="font-size:12.2px;font-family:'Liberation Sans', Arial, sans-serif;font-weight:bold">1.2</text>
<rect x="60.5" y="394.1" width="6.4" height="139.5" fill="#0b5a12" />
<rect x="70.3" y="482.96" width="6.5" height="50.64" fill="#f0524a" />
<rect x="80.1" y="445.99" width="6.4" height="87.61" fill="#9b0b4c" />
<line x1="73.6" y1="482.96" x2="73.6" y2="465.94" stroke="#333" stroke-width="0.9" />
<line x1="71.3" y1="465.94" x2="75.9" y2="465.94" stroke="#333" stroke-width="0.9" />
<text x="73.6" y="468.24" text-anchor="middle" fill="#222" style="font-size:11.5px;font-family:'Liberation Sans', Arial, sans-serif">**</text>
<line x1="83.3" y1="445.99" x2="83.3" y2="436.37" stroke="#333" stroke-width="0.9" />
<line x1="81" y1="436.37" x2="85.6" y2="436.37" stroke="#333" stroke-width="0.9" />
<text x="83.3" y="438.67" text-anchor="middle" fill="#222" style="font-size:11.5px;font-family:'Liberation Sans', Arial, sans-serif">*</text>
<line x1="73.6" y1="533.6" x2="73.6" y2="537.4" stroke="#000" stroke-width="1.2" />
<text x="76.6" y="546.5" text-anchor="end" fill="#111" transform="rotate(-45 76.6 546.5)" style="font-size:12.8px;font-family:'Liberation Sans', Arial, sans-serif;font-weight:bold">AttA</text>
<rect x="96.4" y="394.1" width="6.4" height="139.5" fill="#0b5a12" />
<rect x="106.2" y="513.51" width="6.5" height="20.09" fill="#f0524a" />
<rect x="116" y="463.57" width="6.4" height="70.03" fill="#9b0b4c" />
<line x1="109.5" y1="513.51" x2="109.5" y2="509.47" stroke="#333" stroke-width="0.9" />
<line x1="107.2" y1="509.47" x2="111.8" y2="509.47" stroke="#333" stroke-width="0.9" />
<text x="109.5" y="511.77" text-anchor="middle" fill="#222" style="font-size:11.5px;font-family:'Liberation Sans', Arial, sans-serif">**</text>
<line x1="119.2" y1="463.57" x2="119.2" y2="445.16" stroke="#333" stroke-width="0.9" />
<line x1="116.9" y1="445.16" x2="121.5" y2="445.16" stroke="#333" stroke-width="0.9" />
<text x="119.2" y="447.46" text-anchor="middle" fill="#222" style="font-size:11.5px;font-family:'Liberation Sans', Arial, sans-serif">*</text>
<line x1="109.5" y1="533.6" x2="109.5" y2="537.4" stroke="#000" stroke-width="1.2" />
<text x="112.5" y="546.5" text-anchor="end" fill="#111" transform="rotate(-45 112.5 546.5)" style="font-size:12.8px;font-family:'Liberation Sans', Arial, sans-serif;font-weight:bold">AttB</text>
<rect x="132.3" y="394.1" width="6.4" height="139.5" fill="#0b5a12" />
<rect x="142.1" y="523.97" width="6.5" height="9.63" fill="#f0524a" />
<rect x="151.9" y="422.98" width="6.4" height="110.62" fill="#9b0b4c" />
<line x1="145.4" y1="523.97" x2="145.4" y2="520.07" stroke="#333" stroke-width="0.9" />
<line x1="143.1" y1="520.07" x2="147.7" y2="520.07" stroke="#333" stroke-width="0.9" />
<text x="145.4" y="522.37" text-anchor="middle" fill="#222" style="font-size:11.5px;font-family:'Liberation Sans', Arial, sans-serif">**</text>
<line x1="155.1" y1="422.98" x2="155.1" y2="419.21" stroke="#333" stroke-width="0.9" />
<line x1="152.8" y1="419.21" x2="157.4" y2="419.21" stroke="#333" stroke-width="0.9" />
<text x="155.1" y="421.51" text-anchor="middle" fill="#222" style="font-size:11.5px;font-family:'Liberation Sans', Arial, sans-serif">*</text>
<line x1="145.4" y1="533.6" x2="145.4" y2="537.4" stroke="#000" stroke-width="1.2" />
<text x="148.4" y="546.5" text-anchor="end" fill="#111" transform="rotate(-45 148.4 546.5)" style="font-size:12.8px;font-family:'Liberation Sans', Arial, sans-serif;font-weight:bold">AttC</text>
<rect x="168.2" y="394.1" width="6.4" height="139.5" fill="#0b5a12" />
<rect x="178" y="505.98" width="6.5" height="27.62" fill="#f0524a" />
<rect x="187.8" y="434.42" width="6.4" height="99.18" fill="#9b0b4c" />
<line x1="181.3" y1="505.98" x2="181.3" y2="499.98" stroke="#333" stroke-width="0.9" />
<line x1="179" y1="499.98" x2="183.6" y2="499.98" stroke="#333" stroke-width="0.9" />
<text x="181.3" y="502.28" text-anchor="middle" fill="#222" style="font-size:11.5px;font-family:'Liberation Sans', Arial, sans-serif">**</text>
<line x1="191" y1="434.42" x2="191" y2="413.49" stroke="#333" stroke-width="0.9" />
<line x1="188.7" y1="413.49" x2="193.3" y2="413.49" stroke="#333" stroke-width="0.9" />
<text x="191" y="415.79" text-anchor="middle" fill="#222" style="font-size:11.5px;font-family:'Liberation Sans', Arial, sans-serif">*</text>
<line x1="181.3" y1="533.6" x2="181.3" y2="537.4" stroke="#000" stroke-width="1.2" />
<text x="184.3" y="546.5" text-anchor="end" fill="#111" transform="rotate(-45 184.3 546.5)" style="font-size:12.8px;font-family:'Liberation Sans', Arial, sans-serif;font-weight:bold">AttD</text>
<rect x="204.1" y="394.1" width="6.4" height="139.5" fill="#0b5a12" />
<rect x="213.9" y="515.6" width="6.5" height="18" fill="#f0524a" />
<rect x="223.7" y="477.52" width="6.4" height="56.08" fill="#9b0b4c" />
<line x1="217.2" y1="515.6" x2="217.2" y2="511" stroke="#333" stroke-width="0.9" />
<line x1="214.9" y1="511" x2="219.5" y2="511" stroke="#333" stroke-width="0.9" />
<text x="217.2" y="513.3" text-anchor="middle" fill="#222" style="font-size:11.5px;font-family:'Liberation Sans', Arial, sans-serif">**</text>
<line x1="226.9" y1="477.52" x2="226.9" y2="471.94" stroke="#333" stroke-width="0.9" />
<line x1="224.6" y1="471.94" x2="229.2" y2="471.94" stroke="#333" stroke-width="0.9" />
<text x="226.9" y="474.24" text-anchor="middle" fill="#222" style="font-size:11.5px;font-family:'Liberation Sans', Arial, sans-serif">*</text>
<line x1="217.2" y1="533.6" x2="217.2" y2="537.4" stroke="#000" stroke-width="1.2" />
<text x="220.2" y="546.5" text-anchor="end" fill="#111" transform="rotate(-45 220.2 546.5)" style="font-size:12.8px;font-family:'Liberation Sans', Arial, sans-serif;font-weight:bold">Mtk</text>
<rect x="240" y="394.1" width="6.4" height="139.5" fill="#0b5a12" />
<rect x="249.8" y="456.04" width="6.5" height="77.56" fill="#f0524a" />
<rect x="259.6" y="515.6" width="6.4" height="18" fill="#9b0b4c" />
<line x1="253.1" y1="456.04" x2="253.1" y2="441.95" stroke="#333" stroke-width="0.9" />
<line x1="250.8" y1="441.95" x2="255.4" y2="441.95" stroke="#333" stroke-width="0.9" />
<text x="253.1" y="444.25" text-anchor="middle" fill="#222" style="font-size:11.5px;font-family:'Liberation Sans', Arial, sans-serif">*</text>
<line x1="262.8" y1="515.6" x2="262.8" y2="512.95" stroke="#333" stroke-width="0.9" />
<line x1="260.5" y1="512.95" x2="265.1" y2="512.95" stroke="#333" stroke-width="0.9" />
<text x="262.8" y="515.25" text-anchor="middle" fill="#222" style="font-size:11.5px;font-family:'Liberation Sans', Arial, sans-serif">**</text>
<line x1="253.1" y1="533.6" x2="253.1" y2="537.4" stroke="#000" stroke-width="1.2" />
<text x="256.1" y="546.5" text-anchor="end" fill="#111" transform="rotate(-45 256.1 546.5)" style="font-size:12.8px;font-family:'Liberation Sans', Arial, sans-serif;font-weight:bold">Dro</text>
<rect x="275.9" y="394.1" width="6.4" height="139.5" fill="#0b5a12" />
<rect x="285.7" y="518.81" width="6.5" height="14.79" fill="#f0524a" />
<rect x="295.5" y="396.05" width="6.4" height="137.55" fill="#9b0b4c" />
<line x1="289" y1="518.81" x2="289" y2="514.07" stroke="#333" stroke-width="0.9" />
<line x1="286.7" y1="514.07" x2="291.3" y2="514.07" stroke="#333" stroke-width="0.9" />
<text x="289" y="516.37" text-anchor="middle" fill="#222" style="font-size:11.5px;font-family:'Liberation Sans', Arial, sans-serif">**</text>
<line x1="298.7" y1="396.05" x2="298.7" y2="386.43" stroke="#333" stroke-width="0.9" />
<line x1="296.4" y1="386.43" x2="301" y2="386.43" stroke="#333" stroke-width="0.9" />
<text x="299.7" y="382.43" text-anchor="middle" fill="#222" style="font-size:11px;font-family:'Liberation Sans', Arial, sans-serif">n.s.</text>
<line x1="289" y1="533.6" x2="289" y2="537.4" stroke="#000" stroke-width="1.2" />
<text x="292" y="546.5" text-anchor="end" fill="#111" transform="rotate(-45 292 546.5)" style="font-size:12.8px;font-family:'Liberation Sans', Arial, sans-serif;font-weight:bold">Dpt</text>
<text x="24.5" y="449.3" text-anchor="middle" fill="#111" textLength="126" lengthAdjust="spacingAndGlyphs" transform="rotate(-90 24.5 449.3)" style="font-size:13.2px;font-family:'Liberation Sans', Arial, sans-serif;font-weight:bold">Relative expression</text>
<rect x="135.2" y="339.4" width="18" height="7.1" fill="#0b5a12" />
<rect x="135.2" y="355.3" width="18" height="6.9" fill="#f0524a" />
<rect x="135.2" y="370.3" width="18" height="6.9" fill="#9b0b4c" />
<text x="163.4" y="349.4" fill="#111" textLength="31" lengthAdjust="spacingAndGlyphs" style="font-size:13px;font-family:'Liberation Sans', Arial, sans-serif;font-style:italic">kdm5</text>
<text x="194.8" y="342.1" fill="#111" textLength="48" lengthAdjust="spacingAndGlyphs" style="font-size:8.3px;font-family:'Liberation Sans', Arial, sans-serif;font-style:italic">K6801/10424</text>
<text x="163.4" y="365" fill="#111" textLength="31" lengthAdjust="spacingAndGlyphs" style="font-size:13px;font-family:'Liberation Sans', Arial, sans-serif;font-style:italic">kdm5</text>
<text x="194.8" y="357.7" fill="#111" textLength="48" lengthAdjust="spacingAndGlyphs" style="font-size:8.3px;font-family:'Liberation Sans', Arial, sans-serif;font-style:italic">K6801/10424</text>
<text x="243.2" y="365" fill="#111" textLength="61" lengthAdjust="spacingAndGlyphs" style="font-size:12.6px;font-family:'Liberation Sans', Arial, sans-serif">+Antibiotics</text>
<text x="163.4" y="380" fill="#111" textLength="31" lengthAdjust="spacingAndGlyphs" style="font-size:13px;font-family:'Liberation Sans', Arial, sans-serif;font-style:italic">kdm5</text>
<text x="194.8" y="372.7" fill="#111" textLength="48" lengthAdjust="spacingAndGlyphs" style="font-size:8.3px;font-family:'Liberation Sans', Arial, sans-serif;font-style:italic">K6801/10424</text>
<text x="243.2" y="380" fill="#111" textLength="22.5" lengthAdjust="spacingAndGlyphs" style="font-size:12.6px;font-family:'Liberation Sans', Arial, sans-serif">+LP</text>
<text x="367.7" y="316.3" style="font-size:17.5px;font-family:'Liberation Sans', Arial, sans-serif;font-weight:bold">F</text>
<text x="400.6" y="332.4" fill="#111" textLength="81" lengthAdjust="spacingAndGlyphs" style="font-size:18px;font-family:'Liberation Sans', Arial, sans-serif;font-style:italic">PGRP-LC</text>
<path d="M429.3 366.6 L509.2 349.6 L591 366.6" fill="none" stroke="#111" stroke-width="1.35" />
<path d="M513.6 367.5 L550.4 357.4 L591 366.6" fill="none" stroke="#111" stroke-width="1.9" />
<path d="M513.6 369.5 L591 369.5" fill="none" stroke="#111" stroke-width="1.1" />
<path d="M639.5 366.6 L681.8 359.2 L725.3 366.6" fill="none" stroke="#111" stroke-width="1.35" />
<path d="M736.5 366.6 L747.7 360 L760 366.6" fill="none" stroke="#111" stroke-width="1.35" />
<path d="M736.5 366.6 L770.2 355.3 L807 366.6" fill="none" stroke="#111" stroke-width="1.35" />
<path d="M736.5 367.2 L770.2 356.6 L807 366.6" fill="none" stroke="#111" stroke-width="0.8" />
<path d="M736.5 366.6 L797.8 351.2 L859.2 366.6" fill="none" stroke="#111" stroke-width="1.35" />
<rect x="426.2" y="366.2" width="3.1" height="5.8" fill="#fff" stroke="#111" stroke-width="0.8"/>
<rect x="506.0" y="366.2" width="2.0" height="5.8" fill="#fff" stroke="#111" stroke-width="0.8"/>
<rect x="508.0" y="366.2" width="5.6" height="5.8" fill="#fff" stroke="#111" stroke-width="0.8"/>
<rect x="591.0" y="366.2" width="7.8" height="5.8" fill="#f0f0e8" stroke="#111" stroke-width="0.8"/>
<rect x="598.8" y="366.2" width="40.7" height="5.8" fill="#2e2b70" stroke="#111" stroke-width="0.8"/>
<rect x="725.3" y="366.2" width="11.2" height="5.8" fill="#2e2b70" stroke="#111" stroke-width="0.8"/>
<rect x="760.0" y="366.2" width="8.4" height="5.8" fill="#2e2b70" stroke="#111" stroke-width="0.8"/>
<rect x="770.2" y="366.2" width="20.9" height="5.8" fill="#2e2b70" stroke="#111" stroke-width="0.8"/>
<path d="M791.1 366.2 H792.7 L795.2 369.1 L792.7 372.0 H791.1 Z" fill="#fff" stroke="#111" stroke-width="0.8"/>
<rect x="807.0" y="366.2" width="9.2" height="5.8" fill="#2e2b70" stroke="#111" stroke-width="0.8"/>
<rect x="818.3" y="366.2" width="22.5" height="5.8" fill="#2e2b70" stroke="#111" stroke-width="0.8"/>
<path d="M840.8 366.2 H842.4 L844.9 369.1 L842.4 372.0 H840.8 Z" fill="#2e2b70" stroke="#111" stroke-width="0.8"/>
<rect x="859.2" y="366.2" width="27.6" height="5.8" fill="#2e2b70" stroke="#111" stroke-width="0.8"/>
<path d="M886.8 366.2 H892.5 L895.0 369.1 L892.5 372.0 H886.8 Z" fill="#f0f0e8" stroke="#111" stroke-width="0.8"/>
<path d="M427.2 366.2 V353.8" fill="none" stroke="#111" stroke-width="1.2" />
<path d="M426.8 353.5 L432.4 357.4 L426.8 360.4 L428.4 357.2 Z" fill="#111" stroke="none" stroke-width="1" />
<path d="M507.0 366.2 V353.8" fill="none" stroke="#111" stroke-width="1.2" />
<path d="M506.6 353.5 L512.2 357.4 L506.6 360.4 L508.2 357.2 Z" fill="#111" stroke="none" stroke-width="1" />
<path d="M711.9 387.3 L725.3 387.3" fill="none" stroke="#111" stroke-width="1.35" />
<path d="M734.4 387.3 L747 384.2 L760 387.3" fill="none" stroke="#111" stroke-width="1.35" />
<rect x="696.9" y="384.4" width="15.0" height="5.8" fill="#2e2b70" stroke="#111" stroke-width="0.8"/>
<rect x="725.3" y="384.4" width="9.1" height="5.8" fill="#2e2b70" stroke="#111" stroke-width="0.8"/>
<rect x="760.0" y="384.4" width="8.4" height="5.8" fill="#2e2b70" stroke="#111" stroke-width="0.8"/>
<rect x="770.2" y="384.4" width="20.5" height="5.8" fill="#2e2b70" stroke="#111" stroke-width="0.8"/>
<path d="M790.7 384.4 H792.3 L794.8 387.3 L792.3 390.2 H790.7 Z" fill="#fff" stroke="#111" stroke-width="0.8"/>
<path d="M698.5 384.4 V373.0" fill="none" stroke="#111" stroke-width="1.2" />
<path d="M698.1 372.7 L703.7 376.6 L698.1 379.6 L699.7 376.4 Z" fill="#111" stroke="none" stroke-width="1" />
<text x="671" y="388.8" fill="#111" textLength="19.5" lengthAdjust="spacingAndGlyphs" style="font-size:13.5px;font-family:'Liberation Sans', Arial, sans-serif;font-style:italic">RE</text>
<text x="409.2" y="449.3" fill="#111" textLength="14.6" lengthAdjust="spacingAndGlyphs" style="font-size:15px;font-family:'Liberation Sans', Arial, sans-serif;font-style:italic">wt</text>
<text x="409.2" y="525" fill="#111" textLength="35.4" lengthAdjust="spacingAndGlyphs" style="font-size:15px;font-family:'Liberation Sans', Arial, sans-serif;font-style:italic">kdm5</text>
<text x="449.3" y="517.6" fill="#111" textLength="70" lengthAdjust="spacingAndGlyphs" style="font-size:10px;font-family:'Liberation Sans', Arial, sans-serif;font-style:italic">K6801/10424</text>
<text x="409.2" y="559.8" fill="#111" textLength="25" lengthAdjust="spacingAndGlyphs" style="font-size:10px;font-family:'Liberation Sans', Arial, sans-serif">chr3L</text>
<defs><pattern id="vstripe" width="1.7" height="10" patternUnits="userSpaceOnUse"><rect x="0" y="0" width="0.4" height="10" fill="#fff" fill-opacity="0.22"/></pattern></defs>
<path d="M507.2 435.7L507.2 435.2L508.0 434.7L508.8 434.0L509.6 433.6L510.4 432.9L511.2 432.1L512.0 431.8L512.8 430.8L513.6 430.0L514.1 435.7 ZM536.0 435.7L536.0 434.5L536.8 434.4L537.6 434.3L538.4 434.4L539.2 434.4L540.0 434.2L540.8 434.3L541.6 434.1L542.4 434.3L543.2 434.5L544.0 434.7L544.0 435.7 ZM591.6 435.7L591.6 430.2L592.4 429.7L593.2 429.8L594.0 429.7L594.8 430.7L595.6 430.5L596.4 430.4L597.2 430.0L598.0 429.0L598.8 429.9L599.6 429.5L600.4 430.1L601.2 430.1L602.0 429.5L602.8 427.5L603.6 426.6L604.4 426.7L605.2 425.0L606.0 425.0L606.8 422.6L607.6 422.4L608.4 422.0L609.2 422.8L610.0 423.9L610.8 424.3L611.6 425.5L612.4 426.6L613.2 424.8L614.0 425.2L614.8 424.0L615.6 423.9L616.4 423.6L617.2 423.2L618.0 422.3L618.8 422.0L619.6 422.0L620.4 418.7L621.2 418.0L622.0 416.8L622.8 419.5L623.6 421.4L624.4 422.3L625.2 425.4L626.0 425.4L626.8 427.3L627.6 429.1L628.4 430.4L629.2 429.4L630.0 428.7L630.8 427.2L631.6 425.7L632.4 425.5L633.2 425.9L634.0 424.6L634.8 425.0L635.6 424.8L636.4 425.0L637.2 424.5L638.0 425.3L638.7 435.7 ZM697.5 435.7L697.5 434.3L698.3 434.0L699.1 434.0L699.9 433.8L700.7 434.0L701.5 433.9L702.3 433.6L703.1 433.7L703.9 433.9L704.7 433.7L705.5 433.9L706.3 433.7L707.1 434.1L707.9 433.9L708.7 433.5L709.5 433.7L710.3 433.6L711.1 433.2L711.9 433.2L712.2 435.7 ZM725.3 435.7L725.3 417.9L726.1 421.6L726.9 418.8L727.7 421.2L728.5 418.8L729.3 423.0L730.1 420.4L730.9 421.1L731.7 420.5L732.5 420.3L733.3 423.1L734.1 423.2L734.9 424.4L735.7 427.7L736.5 429.9L737.3 431.6L738.1 432.9L738.9 434.1L739.7 434.4L740.5 434.7L740.8 435.7 ZM760.7 435.7L760.7 429.4L761.5 429.1L762.3 429.1L763.1 428.9L763.9 428.9L764.7 428.5L765.5 429.3L766.3 428.8L767.1 429.9L767.5 435.7 ZM770.6 435.7L770.6 429.7L771.4 429.0L772.2 428.5L773.0 429.3L773.8 428.3L774.6 428.0L775.4 427.7L776.2 428.4L777.0 428.3L777.8 427.2L778.6 426.1L779.4 426.8L780.2 425.9L781.0 426.2L781.8 425.2L782.6 425.3L783.4 426.7L784.2 425.9L785.0 428.5L785.8 427.8L786.6 428.5L787.4 430.3L788.2 430.2L789.0 431.1L789.8 431.5L790.6 432.9L791.4 433.0L792.2 433.2L793.0 433.7L793.8 434.2L794.0 435.7 ZM801.0 435.7L801.0 434.8L801.8 434.7L802.6 434.7L803.4 434.8L804.2 434.7L805.0 434.7L805.8 434.7L806.6 434.7L807.4 434.8L808.2 434.8L809.0 434.7L809.8 434.7L810.6 434.7L811.4 434.6L812.2 434.6L812.6 435.7 ZM820.4 435.7L820.4 434.1L821.2 433.6L822.0 433.2L822.8 432.7L823.6 432.3L824.4 431.3L825.2 431.5L826.0 431.3L826.8 430.8L827.6 430.5L828.4 430.0L829.2 430.1L830.0 430.4L830.8 430.2L831.6 430.3L832.4 430.1L833.2 431.0L834.0 431.6L834.8 431.9L835.6 432.1L836.4 432.7L837.2 432.9L838.0 433.2L838.8 433.8L839.6 434.3L840.4 434.5L840.6 435.7 ZM860.0 435.7L860.0 429.1L860.8 429.9L861.6 430.2L862.4 430.5L863.2 431.7L864.0 431.7L864.8 431.8L865.6 432.2L866.4 432.7L867.2 433.3L868.0 433.4L868.8 433.3L869.6 434.0L870.4 434.1L871.2 434.0L872.0 434.1L872.8 434.1L873.6 434.0L874.4 433.6L875.2 433.5L876.0 432.6L876.8 431.5L877.6 430.4L878.4 429.9L879.2 429.6L880.0 427.7L880.8 427.8L881.6 426.7L882.4 425.6L883.2 424.9L884.0 426.5L884.8 426.3L885.6 428.0L886.4 428.9L887.2 430.0L888.0 430.0L888.8 431.0L889.6 432.7L890.4 433.3L891.2 433.9L892.0 434.1L892.8 434.8L893.5 435.7 Z" fill="#5050ac" stroke="none" stroke-width="1" />
<path d="M507.2 435.7L507.2 435.2L508.0 434.7L508.8 434.0L509.6 433.6L510.4 432.9L511.2 432.1L512.0 431.8L512.8 430.8L513.6 430.0L514.1 435.7 ZM536.0 435.7L536.0 434.5L536.8 434.4L537.6 434.3L538.4 434.4L539.2 434.4L540.0 434.2L540.8 434.3L541.6 434.1L542.4 434.3L543.2 434.5L544.0 434.7L544.0 435.7 ZM591.6 435.7L591.6 430.2L592.4 429.7L593.2 429.8L594.0 429.7L594.8 430.7L595.6 430.5L596.4 430.4L597.2 430.0L598.0 429.0L598.8 429.9L599.6 429.5L600.4 430.1L601.2 430.1L602.0 429.5L602.8 427.5L603.6 426.6L604.4 426.7L605.2 425.0L606.0 425.0L606.8 422.6L607.6 422.4L608.4 422.0L609.2 422.8L610.0 423.9L610.8 424.3L611.6 425.5L612.4 426.6L613.2 424.8L614.0 425.2L614.8 424.0L615.6 423.9L616.4 423.6L617.2 423.2L618.0 422.3L618.8 422.0L619.6 422.0L620.4 418.7L621.2 418.0L622.0 416.8L622.8 419.5L623.6 421.4L624.4 422.3L625.2 425.4L626.0 425.4L626.8 427.3L627.6 429.1L628.4 430.4L629.2 429.4L630.0 428.7L630.8 427.2L631.6 425.7L632.4 425.5L633.2 425.9L634.0 424.6L634.8 425.0L635.6 424.8L636.4 425.0L637.2 424.5L638.0 425.3L638.7 435.7 ZM697.5 435.7L697.5 434.3L698.3 434.0L699.1 434.0L699.9 433.8L700.7 434.0L701.5 433.9L702.3 433.6L703.1 433.7L703.9 433.9L704.7 433.7L705.5 433.9L706.3 433.7L707.1 434.1L707.9 433.9L708.7 433.5L709.5 433.7L710.3 433.6L711.1 433.2L711.9 433.2L712.2 435.7 ZM725.3 435.7L725.3 417.9L726.1 421.6L726.9 418.8L727.7 421.2L728.5 418.8L729.3 423.0L730.1 420.4L730.9 421.1L731.7 420.5L732.5 420.3L733.3 423.1L734.1 423.2L734.9 424.4L735.7 427.7L736.5 429.9L737.3 431.6L738.1 432.9L738.9 434.1L739.7 434.4L740.5 434.7L740.8 435.7 ZM760.7 435.7L760.7 429.4L761.5 429.1L762.3 429.1L763.1 428.9L763.9 428.9L764.7 428.5L765.5 429.3L766.3 428.8L767.1 429.9L767.5 435.7 ZM770.6 435.7L770.6 429.7L771.4 429.0L772.2 428.5L773.0 429.3L773.8 428.3L774.6 428.0L775.4 427.7L776.2 428.4L777.0 428.3L777.8 427.2L778.6 426.1L779.4 426.8L780.2 425.9L781.0 426.2L781.8 425.2L782.6 425.3L783.4 426.7L784.2 425.9L785.0 428.5L785.8 427.8L786.6 428.5L787.4 430.3L788.2 430.2L789.0 431.1L789.8 431.5L790.6 432.9L791.4 433.0L792.2 433.2L793.0 433.7L793.8 434.2L794.0 435.7 ZM801.0 435.7L801.0 434.8L801.8 434.7L802.6 434.7L803.4 434.8L804.2 434.7L805.0 434.7L805.8 434.7L806.6 434.7L807.4 434.8L808.2 434.8L809.0 434.7L809.8 434.7L810.6 434.7L811.4 434.6L812.2 434.6L812.6 435.7 ZM820.4 435.7L820.4 434.1L821.2 433.6L822.0 433.2L822.8 432.7L823.6 432.3L824.4 431.3L825.2 431.5L826.0 431.3L826.8 430.8L827.6 430.5L828.4 430.0L829.2 430.1L830.0 430.4L830.8 430.2L831.6 430.3L832.4 430.1L833.2 431.0L834.0 431.6L834.8 431.9L835.6 432.1L836.4 432.7L837.2 432.9L838.0 433.2L838.8 433.8L839.6 434.3L840.4 434.5L840.6 435.7 ZM860.0 435.7L860.0 429.1L860.8 429.9L861.6 430.2L862.4 430.5L863.2 431.7L864.0 431.7L864.8 431.8L865.6 432.2L866.4 432.7L867.2 433.3L868.0 433.4L868.8 433.3L869.6 434.0L870.4 434.1L871.2 434.0L872.0 434.1L872.8 434.1L873.6 434.0L874.4 433.6L875.2 433.5L876.0 432.6L876.8 431.5L877.6 430.4L878.4 429.9L879.2 429.6L880.0 427.7L880.8 427.8L881.6 426.7L882.4 425.6L883.2 424.9L884.0 426.5L884.8 426.3L885.6 428.0L886.4 428.9L887.2 430.0L888.0 430.0L888.8 431.0L889.6 432.7L890.4 433.3L891.2 433.9L892.0 434.1L892.8 434.8L893.5 435.7 Z" fill="url(#vstripe)" stroke="none" stroke-width="1" />
<path d="M507.2 465.7L507.2 465.2L508.0 464.6L508.8 464.1L509.6 463.6L510.4 463.3L511.2 462.4L512.0 461.8L512.8 461.5L513.6 461.0L514.1 465.7 ZM535.0 465.7L535.0 464.6L535.8 464.4L536.6 464.0L537.4 463.1L538.2 463.2L539.0 463.1L539.8 462.9L540.6 463.3L541.4 463.2L542.2 463.8L543.0 463.8L543.8 464.4L544.6 464.6L545.4 464.9L546.0 465.7 ZM591.6 465.7L591.6 459.3L592.4 459.0L593.2 458.8L594.0 459.8L594.8 458.8L595.6 458.3L596.4 457.2L597.2 457.1L598.0 456.1L598.8 454.6L599.6 454.2L600.4 452.6L601.2 453.0L602.0 452.5L602.8 450.8L603.6 452.4L604.4 452.6L605.2 452.2L606.0 452.6L606.8 452.8L607.6 449.4L608.4 449.3L609.2 450.4L610.0 451.9L610.8 452.3L611.6 455.4L612.4 453.9L613.2 454.0L614.0 452.4L614.8 451.1L615.6 451.7L616.4 452.3L617.2 450.7L618.0 449.6L618.8 449.8L619.6 450.2L620.4 449.3L621.2 450.9L622.0 451.0L622.8 451.7L623.6 451.4L624.4 454.5L625.2 455.9L626.0 456.4L626.8 457.0L627.6 456.9L628.4 456.7L629.2 455.8L630.0 456.2L630.8 455.4L631.6 455.0L632.4 454.4L633.2 452.5L634.0 452.7L634.8 453.2L635.6 453.1L636.4 450.1L637.2 449.5L638.0 448.2L638.7 465.7 ZM697.5 465.7L697.5 464.6L698.3 464.5L699.1 464.6L699.9 464.3L700.7 464.5L701.5 464.2L702.3 464.4L703.1 464.0L703.9 464.2L704.7 463.9L705.5 463.8L706.3 463.7L707.1 463.7L707.9 463.4L708.7 463.1L709.5 463.5L710.3 463.1L711.1 462.6L711.9 462.6L712.2 465.7 ZM725.3 465.7L725.3 448.8L726.1 447.4L726.9 448.7L727.7 451.9L728.5 450.7L729.3 452.5L730.1 455.3L730.9 453.9L731.7 456.7L732.5 457.6L733.3 458.3L734.1 459.1L734.9 460.8L735.7 461.2L736.5 462.3L737.3 463.3L738.1 463.8L738.9 464.6L739.0 465.7 ZM760.7 465.7L760.7 458.8L761.5 459.4L762.3 459.2L763.1 458.3L763.9 459.1L764.7 457.8L765.5 457.9L766.3 459.3L767.1 458.3L767.5 465.7 ZM770.6 465.7L770.6 457.4L771.4 457.1L772.2 456.4L773.0 457.8L773.8 457.9L774.6 456.1L775.4 456.9L776.2 456.7L777.0 455.5L777.8 456.7L778.6 454.8L779.4 455.8L780.2 456.9L781.0 455.0L781.8 455.9L782.6 457.1L783.4 455.5L784.2 456.0L785.0 456.3L785.8 456.8L786.6 456.4L787.4 458.6L788.2 457.4L789.0 458.6L789.8 459.8L790.6 459.8L791.4 460.8L792.2 460.9L793.0 461.3L793.8 462.0L794.6 462.8L795.4 463.0L796.2 463.4L797.0 463.4L797.8 463.5L798.6 463.7L799.4 464.0L800.0 465.7 ZM814.0 465.7L814.0 464.8L814.8 464.6L815.6 464.2L816.4 464.1L817.2 463.9L818.0 463.6L818.8 463.4L819.6 463.2L820.4 462.8L821.2 462.2L822.0 462.4L822.8 462.1L823.6 462.0L824.4 461.5L825.2 461.5L826.0 460.3L826.8 461.0L827.6 460.0L828.4 460.9L829.2 459.8L830.0 460.3L830.8 460.4L831.6 460.8L832.4 461.5L833.2 461.8L834.0 461.7L834.8 462.5L835.6 462.9L836.4 462.8L837.2 463.3L838.0 463.9L838.8 464.1L839.6 464.4L840.0 465.7 ZM860.0 465.7L860.0 461.7L860.8 462.1L861.6 461.8L862.4 462.5L863.2 462.6L864.0 462.9L864.8 463.0L865.6 462.9L866.4 463.6L867.2 463.7L868.0 463.9L868.8 463.9L869.6 463.8L870.4 464.2L871.2 464.1L872.0 463.5L872.8 462.5L873.6 462.0L874.4 461.5L875.2 460.3L876.0 459.1L876.8 457.1L877.6 456.2L878.4 455.8L879.2 453.3L880.0 453.1L880.8 451.1L881.6 450.9L882.4 449.2L883.2 449.3L884.0 451.8L884.8 452.6L885.6 454.2L886.4 456.2L887.2 457.6L888.0 459.5L888.8 460.7L889.6 462.1L890.4 463.4L891.2 463.4L892.0 464.2L892.8 464.8L893.5 465.7 Z" fill="#5050ac" stroke="none" stroke-width="1" />
<path d="M507.2 465.7L507.2 465.2L508.0 464.6L508.8 464.1L509.6 463.6L510.4 463.3L511.2 462.4L512.0 461.8L512.8 461.5L513.6 461.0L514.1 465.7 ZM535.0 465.7L535.0 464.6L535.8 464.4L536.6 464.0L537.4 463.1L538.2 463.2L539.0 463.1L539.8 462.9L540.6 463.3L541.4 463.2L542.2 463.8L543.0 463.8L543.8 464.4L544.6 464.6L545.4 464.9L546.0 465.7 ZM591.6 465.7L591.6 459.3L592.4 459.0L593.2 458.8L594.0 459.8L594.8 458.8L595.6 458.3L596.4 457.2L597.2 457.1L598.0 456.1L598.8 454.6L599.6 454.2L600.4 452.6L601.2 453.0L602.0 452.5L602.8 450.8L603.6 452.4L604.4 452.6L605.2 452.2L606.0 452.6L606.8 452.8L607.6 449.4L608.4 449.3L609.2 450.4L610.0 451.9L610.8 452.3L611.6 455.4L612.4 453.9L613.2 454.0L614.0 452.4L614.8 451.1L615.6 451.7L616.4 452.3L617.2 450.7L618.0 449.6L618.8 449.8L619.6 450.2L620.4 449.3L621.2 450.9L622.0 451.0L622.8 451.7L623.6 451.4L624.4 454.5L625.2 455.9L626.0 456.4L626.8 457.0L627.6 456.9L628.4 456.7L629.2 455.8L630.0 456.2L630.8 455.4L631.6 455.0L632.4 454.4L633.2 452.5L634.0 452.7L634.8 453.2L635.6 453.1L636.4 450.1L637.2 449.5L638.0 448.2L638.7 465.7 ZM697.5 465.7L697.5 464.6L698.3 464.5L699.1 464.6L699.9 464.3L700.7 464.5L701.5 464.2L702.3 464.4L703.1 464.0L703.9 464.2L704.7 463.9L705.5 463.8L706.3 463.7L707.1 463.7L707.9 463.4L708.7 463.1L709.5 463.5L710.3 463.1L711.1 462.6L711.9 462.6L712.2 465.7 ZM725.3 465.7L725.3 448.8L726.1 447.4L726.9 448.7L727.7 451.9L728.5 450.7L729.3 452.5L730.1 455.3L730.9 453.9L731.7 456.7L732.5 457.6L733.3 458.3L734.1 459.1L734.9 460.8L735.7 461.2L736.5 462.3L737.3 463.3L738.1 463.8L738.9 464.6L739.0 465.7 ZM760.7 465.7L760.7 458.8L761.5 459.4L762.3 459.2L763.1 458.3L763.9 459.1L764.7 457.8L765.5 457.9L766.3 459.3L767.1 458.3L767.5 465.7 ZM770.6 465.7L770.6 457.4L771.4 457.1L772.2 456.4L773.0 457.8L773.8 457.9L774.6 456.1L775.4 456.9L776.2 456.7L777.0 455.5L777.8 456.7L778.6 454.8L779.4 455.8L780.2 456.9L781.0 455.0L781.8 455.9L782.6 457.1L783.4 455.5L784.2 456.0L785.0 456.3L785.8 456.8L786.6 456.4L787.4 458.6L788.2 457.4L789.0 458.6L789.8 459.8L790.6 459.8L791.4 460.8L792.2 460.9L793.0 461.3L793.8 462.0L794.6 462.8L795.4 463.0L796.2 463.4L797.0 463.4L797.8 463.5L798.6 463.7L799.4 464.0L800.0 465.7 ZM814.0 465.7L814.0 464.8L814.8 464.6L815.6 464.2L816.4 464.1L817.2 463.9L818.0 463.6L818.8 463.4L819.6 463.2L820.4 462.8L821.2 462.2L822.0 462.4L822.8 462.1L823.6 462.0L824.4 461.5L825.2 461.5L826.0 460.3L826.8 461.0L827.6 460.0L828.4 460.9L829.2 459.8L830.0 460.3L830.8 460.4L831.6 460.8L832.4 461.5L833.2 461.8L834.0 461.7L834.8 462.5L835.6 462.9L836.4 462.8L837.2 463.3L838.0 463.9L838.8 464.1L839.6 464.4L840.0 465.7 ZM860.0 465.7L860.0 461.7L860.8 462.1L861.6 461.8L862.4 462.5L863.2 462.6L864.0 462.9L864.8 463.0L865.6 462.9L866.4 463.6L867.2 463.7L868.0 463.9L868.8 463.9L869.6 463.8L870.4 464.2L871.2 464.1L872.0 463.5L872.8 462.5L873.6 462.0L874.4 461.5L875.2 460.3L876.0 459.1L876.8 457.1L877.6 456.2L878.4 455.8L879.2 453.3L880.0 453.1L880.8 451.1L881.6 450.9L882.4 449.2L883.2 449.3L884.0 451.8L884.8 452.6L885.6 454.2L886.4 456.2L887.2 457.6L888.0 459.5L888.8 460.7L889.6 462.1L890.4 463.4L891.2 463.4L892.0 464.2L892.8 464.8L893.5 465.7 Z" fill="url(#vstripe)" stroke="none" stroke-width="1" />
<path d="M488.5 502.5L488.5 501.5L489.3 501.5L490.1 501.5L490.9 501.3L491.7 501.4L492.5 501.3L493.3 501.2L494.1 501.1L494.9 500.9L495.7 501.0L496.5 500.7L497.3 500.6L498.1 500.8L498.9 500.8L499.7 500.6L500.5 500.2L501.3 500.2L502.1 499.9L502.9 499.7L503.7 499.6L504.5 499.3L505.3 499.4L506.1 499.1L506.6 502.5 ZM506.6 502.5L506.6 498.1L507.4 497.1L508.2 495.8L509.0 494.3L509.8 494.7L510.6 494.2L511.4 493.3L512.2 491.9L513.0 493.3L513.8 491.9L514.1 502.5 ZM544.0 502.5L544.0 501.6L544.8 501.5L545.6 501.4L546.4 501.1L547.2 501.1L548.0 500.9L548.8 501.1L549.6 501.0L550.4 500.9L551.2 501.0L552.0 500.8L552.8 501.0L553.6 501.2L554.4 501.4L555.2 501.3L556.0 501.6L556.0 502.5 ZM591.6 502.5L591.6 491.8L592.4 491.6L593.2 491.0L594.0 492.2L594.8 491.2L595.6 490.9L596.4 491.8L597.2 494.2L598.0 494.1L598.8 495.0L599.6 495.5L600.4 495.0L601.2 495.9L602.0 496.3L602.8 495.0L603.6 493.9L604.4 493.1L605.2 491.7L606.0 489.7L606.8 490.7L607.6 488.6L608.4 487.9L609.2 488.6L610.0 487.1L610.8 487.2L611.6 488.7L612.4 488.6L613.2 490.6L614.0 490.7L614.8 487.6L615.6 489.6L616.4 489.6L617.2 487.1L618.0 487.4L618.8 489.3L619.6 488.4L620.4 488.5L621.2 488.2L622.0 489.0L622.8 486.9L623.6 487.5L624.4 487.4L625.2 489.5L626.0 491.1L626.8 492.7L627.6 492.1L628.4 492.5L629.2 492.5L630.0 493.2L630.8 492.7L631.6 492.3L632.4 490.8L633.2 490.6L634.0 488.8L634.8 488.1L635.6 487.7L636.4 485.9L637.2 486.5L638.0 486.4L638.7 502.5 ZM697.2 502.5L697.2 502.0L698.0 500.2L698.8 498.2L699.6 496.2L700.4 494.3L701.2 493.4L702.0 490.1L702.8 489.7L703.6 489.2L704.4 490.0L705.2 488.6L706.0 489.8L706.8 489.4L707.6 488.2L708.4 487.7L709.2 487.8L710.0 490.1L710.8 490.3L711.6 489.7L712.1 502.5 ZM725.3 502.5L725.3 473.7L726.1 473.2L726.9 474.0L727.7 474.2L728.5 478.7L729.3 475.7L730.1 479.0L730.9 479.1L731.7 480.1L732.5 480.3L733.3 484.2L734.1 484.4L734.9 483.6L735.7 487.0L736.5 489.8L737.3 494.0L737.5 502.5 ZM760.7 502.5L760.7 493.9L761.5 492.2L762.3 492.0L763.1 491.8L763.9 491.9L764.7 491.7L765.5 493.9L766.3 492.5L767.1 493.5L767.5 502.5 ZM770.6 502.5L770.6 492.1L771.4 493.0L772.2 491.2L773.0 490.1L773.8 489.6L774.6 490.1L775.4 489.2L776.2 489.6L777.0 488.6L777.8 489.9L778.6 488.1L779.4 488.5L780.2 489.6L781.0 489.6L781.8 488.8L782.6 490.1L783.4 488.9L784.2 489.5L785.0 491.2L785.8 494.1L786.6 495.3L787.4 496.0L788.2 496.8L789.0 497.3L789.8 498.2L790.6 499.4L791.4 499.9L792.2 500.4L793.0 501.1L793.8 501.4L794.0 502.5 ZM808.0 502.5L808.0 501.5L808.8 501.4L809.6 501.3L810.4 501.4L811.2 501.1L812.0 501.2L812.8 501.0L813.6 501.1L814.4 501.0L815.2 500.9L816.0 500.8L816.8 500.6L817.6 500.6L818.4 500.3L819.2 500.3L820.0 500.2L820.8 499.6L821.6 499.4L822.4 499.4L823.2 498.8L824.0 499.0L824.8 498.5L825.6 498.2L826.4 497.9L827.2 497.4L828.0 497.6L828.8 498.2L829.6 497.6L830.4 498.2L831.2 497.9L832.0 498.1L832.8 499.2L833.6 498.9L834.4 499.6L835.2 499.9L836.0 500.0L836.8 500.3L837.6 500.7L838.4 501.0L839.2 501.2L840.0 501.5L840.0 502.5 ZM860.0 502.5L860.0 491.3L860.8 491.6L861.6 492.9L862.4 493.1L863.2 493.6L864.0 494.2L864.8 495.5L865.6 495.9L866.4 496.8L867.2 496.5L868.0 497.7L868.8 496.8L869.6 497.7L870.4 497.6L871.2 496.8L872.0 496.6L872.8 495.3L873.6 494.2L874.4 494.1L875.2 493.7L876.0 492.0L876.8 491.8L877.6 491.6L878.4 490.6L879.2 490.9L880.0 487.8L880.8 489.5L881.6 488.4L882.4 486.2L883.2 485.6L884.0 485.0L884.8 486.0L885.6 486.4L886.4 487.0L887.2 488.0L888.0 490.8L888.8 492.1L889.6 493.7L890.4 494.2L891.2 495.9L892.0 495.9L892.8 497.0L893.6 498.4L894.4 498.7L895.2 499.6L896.0 500.7L896.8 500.7L897.6 501.0L898.4 501.4L899.2 501.6L900.0 502.0L900.0 502.5 Z" fill="#e8462c" stroke="none" stroke-width="1" />
<path d="M488.5 502.5L488.5 501.5L489.3 501.5L490.1 501.5L490.9 501.3L491.7 501.4L492.5 501.3L493.3 501.2L494.1 501.1L494.9 500.9L495.7 501.0L496.5 500.7L497.3 500.6L498.1 500.8L498.9 500.8L499.7 500.6L500.5 500.2L501.3 500.2L502.1 499.9L502.9 499.7L503.7 499.6L504.5 499.3L505.3 499.4L506.1 499.1L506.6 502.5 ZM506.6 502.5L506.6 498.1L507.4 497.1L508.2 495.8L509.0 494.3L509.8 494.7L510.6 494.2L511.4 493.3L512.2 491.9L513.0 493.3L513.8 491.9L514.1 502.5 ZM544.0 502.5L544.0 501.6L544.8 501.5L545.6 501.4L546.4 501.1L547.2 501.1L548.0 500.9L548.8 501.1L549.6 501.0L550.4 500.9L551.2 501.0L552.0 500.8L552.8 501.0L553.6 501.2L554.4 501.4L555.2 501.3L556.0 501.6L556.0 502.5 ZM591.6 502.5L591.6 491.8L592.4 491.6L593.2 491.0L594.0 492.2L594.8 491.2L595.6 490.9L596.4 491.8L597.2 494.2L598.0 494.1L598.8 495.0L599.6 495.5L600.4 495.0L601.2 495.9L602.0 496.3L602.8 495.0L603.6 493.9L604.4 493.1L605.2 491.7L606.0 489.7L606.8 490.7L607.6 488.6L608.4 487.9L609.2 488.6L610.0 487.1L610.8 487.2L611.6 488.7L612.4 488.6L613.2 490.6L614.0 490.7L614.8 487.6L615.6 489.6L616.4 489.6L617.2 487.1L618.0 487.4L618.8 489.3L619.6 488.4L620.4 488.5L621.2 488.2L622.0 489.0L622.8 486.9L623.6 487.5L624.4 487.4L625.2 489.5L626.0 491.1L626.8 492.7L627.6 492.1L628.4 492.5L629.2 492.5L630.0 493.2L630.8 492.7L631.6 492.3L632.4 490.8L633.2 490.6L634.0 488.8L634.8 488.1L635.6 487.7L636.4 485.9L637.2 486.5L638.0 486.4L638.7 502.5 ZM697.2 502.5L697.2 502.0L698.0 500.2L698.8 498.2L699.6 496.2L700.4 494.3L701.2 493.4L702.0 490.1L702.8 489.7L703.6 489.2L704.4 490.0L705.2 488.6L706.0 489.8L706.8 489.4L707.6 488.2L708.4 487.7L709.2 487.8L710.0 490.1L710.8 490.3L711.6 489.7L712.1 502.5 ZM725.3 502.5L725.3 473.7L726.1 473.2L726.9 474.0L727.7 474.2L728.5 478.7L729.3 475.7L730.1 479.0L730.9 479.1L731.7 480.1L732.5 480.3L733.3 484.2L734.1 484.4L734.9 483.6L735.7 487.0L736.5 489.8L737.3 494.0L737.5 502.5 ZM760.7 502.5L760.7 493.9L761.5 492.2L762.3 492.0L763.1 491.8L763.9 491.9L764.7 491.7L765.5 493.9L766.3 492.5L767.1 493.5L767.5 502.5 ZM770.6 502.5L770.6 492.1L771.4 493.0L772.2 491.2L773.0 490.1L773.8 489.6L774.6 490.1L775.4 489.2L776.2 489.6L777.0 488.6L777.8 489.9L778.6 488.1L779.4 488.5L780.2 489.6L781.0 489.6L781.8 488.8L782.6 490.1L783.4 488.9L784.2 489.5L785.0 491.2L785.8 494.1L786.6 495.3L787.4 496.0L788.2 496.8L789.0 497.3L789.8 498.2L790.6 499.4L791.4 499.9L792.2 500.4L793.0 501.1L793.8 501.4L794.0 502.5 ZM808.0 502.5L808.0 501.5L808.8 501.4L809.6 501.3L810.4 501.4L811.2 501.1L812.0 501.2L812.8 501.0L813.6 501.1L814.4 501.0L815.2 500.9L816.0 500.8L816.8 500.6L817.6 500.6L818.4 500.3L819.2 500.3L820.0 500.2L820.8 499.6L821.6 499.4L822.4 499.4L823.2 498.8L824.0 499.0L824.8 498.5L825.6 498.2L826.4 497.9L827.2 497.4L828.0 497.6L828.8 498.2L829.6 497.6L830.4 498.2L831.2 497.9L832.0 498.1L832.8 499.2L833.6 498.9L834.4 499.6L835.2 499.9L836.0 500.0L836.8 500.3L837.6 500.7L838.4 501.0L839.2 501.2L840.0 501.5L840.0 502.5 ZM860.0 502.5L860.0 491.3L860.8 491.6L861.6 492.9L862.4 493.1L863.2 493.6L864.0 494.2L864.8 495.5L865.6 495.9L866.4 496.8L867.2 496.5L868.0 497.7L868.8 496.8L869.6 497.7L870.4 497.6L871.2 496.8L872.0 496.6L872.8 495.3L873.6 494.2L874.4 494.1L875.2 493.7L876.0 492.0L876.8 491.8L877.6 491.6L878.4 490.6L879.2 490.9L880.0 487.8L880.8 489.5L881.6 488.4L882.4 486.2L883.2 485.6L884.0 485.0L884.8 486.0L885.6 486.4L886.4 487.0L887.2 488.0L888.0 490.8L888.8 492.1L889.6 493.7L890.4 494.2L891.2 495.9L892.0 495.9L892.8 497.0L893.6 498.4L894.4 498.7L895.2 499.6L896.0 500.7L896.8 500.7L897.6 501.0L898.4 501.4L899.2 501.6L900.0 502.0L900.0 502.5 Z" fill="url(#vstripe)" stroke="none" stroke-width="1" />
<path d="M451.4 546.8L451.4 545.6L452.2 545.4L453.0 545.6L453.8 545.5L454.6 545.2L455.4 545.3L456.2 545.5L457.0 545.4L457.8 545.3L458.6 545.5L459.4 545.7L459.9 546.8 ZM490.0 546.8L490.0 545.6L490.8 545.6L491.6 545.6L492.4 545.3L493.2 545.4L494.0 545.3L494.8 545.3L495.6 545.4L496.4 545.3L497.2 545.4L498.0 545.4L498.8 545.5L499.6 545.4L500.4 545.6L500.5 546.8 ZM507.0 546.8L507.0 543.7L507.8 542.9L508.6 541.4L509.4 540.2L510.2 537.9L511.0 536.6L511.8 534.8L512.6 536.9L513.4 536.0L514.1 546.8 ZM535.0 546.8L535.0 545.9L535.8 545.7L536.6 545.8L537.4 545.7L538.2 545.6L539.0 545.5L539.8 545.6L540.6 545.5L541.4 545.7L542.2 545.6L543.0 545.6L543.8 545.5L544.6 545.7L545.4 545.7L546.2 545.8L547.0 545.9L547.0 546.8 ZM576.0 546.8L576.0 545.8L576.8 545.7L577.6 545.6L578.4 545.8L579.2 545.7L580.0 545.7L580.8 545.7L581.6 545.7L582.4 545.6L583.2 545.6L584.0 545.5L584.8 545.6L585.6 545.7L586.4 545.7L587.2 545.7L588.0 545.8L588.0 546.8 ZM591.6 546.8L591.6 533.1L592.4 532.5L593.2 534.1L594.0 533.4L594.8 534.5L595.6 535.3L596.4 535.7L597.2 537.3L598.0 538.1L598.8 538.5L599.6 539.9L600.4 538.8L601.2 539.7L602.0 538.4L602.8 537.8L603.6 537.3L604.4 533.9L605.2 532.5L606.0 533.1L606.8 531.5L607.6 530.1L608.4 529.0L609.2 531.7L610.0 531.1L610.8 528.6L611.6 527.4L612.4 530.6L613.2 530.3L614.0 527.9L614.8 530.3L615.6 530.7L616.4 529.4L617.2 530.3L618.0 530.1L618.8 528.9L619.6 529.0L620.4 528.2L621.2 529.5L622.0 530.5L622.8 533.3L623.6 531.2L624.4 531.7L625.2 532.9L626.0 531.3L626.8 532.9L627.6 530.5L628.4 530.6L629.2 532.9L630.0 533.5L630.8 533.3L631.6 536.0L632.4 533.8L633.2 533.8L634.0 531.6L634.8 528.3L635.6 528.2L636.4 529.8L637.2 524.8L638.0 524.6L638.7 546.8 ZM685.6 546.8L685.6 546.3L686.4 546.2L687.2 546.1L688.0 546.0L688.8 546.1L689.6 545.8L690.4 545.7L691.2 545.4L692.0 545.5L692.8 545.2L693.6 544.7L694.4 544.1L695.2 543.7L696.0 543.6L696.8 542.1L697.6 541.8L698.4 540.4L699.2 539.7L700.0 540.3L700.8 538.0L701.6 538.2L702.4 538.1L703.2 536.4L704.0 536.5L704.8 533.6L705.6 533.3L706.4 534.1L707.2 533.0L708.0 531.3L708.8 529.4L709.6 530.6L710.4 530.5L711.2 528.7L711.8 546.8 ZM725.3 546.8L725.3 514.0L726.1 514.3L726.9 515.1L727.7 516.9L728.5 516.6L729.3 518.5L730.1 521.8L730.9 520.2L731.7 523.7L732.5 524.1L733.3 523.7L734.1 520.4L734.9 523.8L735.7 527.1L736.5 530.1L737.3 535.0L737.5 546.8 ZM760.7 546.8L760.7 535.7L761.5 536.6L762.3 534.7L763.1 535.6L763.9 533.6L764.7 535.8L765.5 534.5L766.3 536.4L767.1 534.4L767.5 546.8 ZM770.6 546.8L770.6 534.3L771.4 532.7L772.2 533.4L773.0 530.7L773.8 531.2L774.6 532.6L775.4 532.4L776.2 529.5L777.0 531.6L777.8 529.1L778.6 529.4L779.4 529.8L780.2 528.5L781.0 529.6L781.8 529.8L782.6 530.6L783.4 531.4L784.2 532.3L785.0 531.7L785.8 532.3L786.6 531.4L787.4 533.6L788.2 534.1L789.0 533.4L789.8 535.3L790.6 536.2L791.4 537.1L792.2 537.7L793.0 540.0L793.8 540.0L794.6 541.9L795.4 542.6L796.2 543.0L797.0 543.7L797.8 544.0L798.6 544.6L799.4 545.1L800.0 546.8 ZM814.0 546.8L814.0 545.8L814.8 545.4L815.6 544.8L816.4 544.6L817.2 544.0L818.0 543.1L818.8 543.4L819.6 542.8L820.4 541.9L821.2 542.2L822.0 541.7L822.8 540.2L823.6 539.5L824.4 540.1L825.2 540.0L826.0 538.3L826.8 539.2L827.6 538.4L828.4 538.0L829.2 537.7L830.0 537.2L830.8 537.6L831.6 538.6L832.4 538.8L833.2 539.4L834.0 540.1L834.8 540.9L835.6 541.8L836.4 542.3L837.2 542.2L838.0 543.1L838.8 544.2L839.6 544.3L840.0 546.8 ZM860.0 546.8L860.0 530.8L860.8 530.2L861.6 532.0L862.4 529.9L863.2 532.5L864.0 531.5L864.8 529.9L865.6 531.7L866.4 529.3L867.2 530.0L868.0 530.3L868.8 529.6L869.6 529.3L870.4 529.8L871.2 526.6L872.0 528.3L872.8 524.8L873.6 524.4L874.4 527.8L875.2 526.0L876.0 524.6L876.8 522.6L877.6 525.8L878.4 523.2L879.2 525.3L880.0 524.2L880.8 524.7L881.6 526.6L882.4 530.2L883.2 528.4L884.0 530.4L884.8 529.5L885.6 531.5L886.4 530.8L887.2 531.8L888.0 533.4L888.8 534.6L889.6 535.8L890.4 537.9L891.2 540.4L892.0 541.0L892.8 543.3L893.5 546.8 Z" fill="#e8462c" stroke="none" stroke-width="1" />
<path d="M451.4 546.8L451.4 545.6L452.2 545.4L453.0 545.6L453.8 545.5L454.6 545.2L455.4 545.3L456.2 545.5L457.0 545.4L457.8 545.3L458.6 545.5L459.4 545.7L459.9 546.8 ZM490.0 546.8L490.0 545.6L490.8 545.6L491.6 545.6L492.4 545.3L493.2 545.4L494.0 545.3L494.8 545.3L495.6 545.4L496.4 545.3L497.2 545.4L498.0 545.4L498.8 545.5L499.6 545.4L500.4 545.6L500.5 546.8 ZM507.0 546.8L507.0 543.7L507.8 542.9L508.6 541.4L509.4 540.2L510.2 537.9L511.0 536.6L511.8 534.8L512.6 536.9L513.4 536.0L514.1 546.8 ZM535.0 546.8L535.0 545.9L535.8 545.7L536.6 545.8L537.4 545.7L538.2 545.6L539.0 545.5L539.8 545.6L540.6 545.5L541.4 545.7L542.2 545.6L543.0 545.6L543.8 545.5L544.6 545.7L545.4 545.7L546.2 545.8L547.0 545.9L547.0 546.8 ZM576.0 546.8L576.0 545.8L576.8 545.7L577.6 545.6L578.4 545.8L579.2 545.7L580.0 545.7L580.8 545.7L581.6 545.7L582.4 545.6L583.2 545.6L584.0 545.5L584.8 545.6L585.6 545.7L586.4 545.7L587.2 545.7L588.0 545.8L588.0 546.8 ZM591.6 546.8L591.6 533.1L592.4 532.5L593.2 534.1L594.0 533.4L594.8 534.5L595.6 535.3L596.4 535.7L597.2 537.3L598.0 538.1L598.8 538.5L599.6 539.9L600.4 538.8L601.2 539.7L602.0 538.4L602.8 537.8L603.6 537.3L604.4 533.9L605.2 532.5L606.0 533.1L606.8 531.5L607.6 530.1L608.4 529.0L609.2 531.7L610.0 531.1L610.8 528.6L611.6 527.4L612.4 530.6L613.2 530.3L614.0 527.9L614.8 530.3L615.6 530.7L616.4 529.4L617.2 530.3L618.0 530.1L618.8 528.9L619.6 529.0L620.4 528.2L621.2 529.5L622.0 530.5L622.8 533.3L623.6 531.2L624.4 531.7L625.2 532.9L626.0 531.3L626.8 532.9L627.6 530.5L628.4 530.6L629.2 532.9L630.0 533.5L630.8 533.3L631.6 536.0L632.4 533.8L633.2 533.8L634.0 531.6L634.8 528.3L635.6 528.2L636.4 529.8L637.2 524.8L638.0 524.6L638.7 546.8 ZM685.6 546.8L685.6 546.3L686.4 546.2L687.2 546.1L688.0 546.0L688.8 546.1L689.6 545.8L690.4 545.7L691.2 545.4L692.0 545.5L692.8 545.2L693.6 544.7L694.4 544.1L695.2 543.7L696.0 543.6L696.8 542.1L697.6 541.8L698.4 540.4L699.2 539.7L700.0 540.3L700.8 538.0L701.6 538.2L702.4 538.1L703.2 536.4L704.0 536.5L704.8 533.6L705.6 533.3L706.4 534.1L707.2 533.0L708.0 531.3L708.8 529.4L709.6 530.6L710.4 530.5L711.2 528.7L711.8 546.8 ZM725.3 546.8L725.3 514.0L726.1 514.3L726.9 515.1L727.7 516.9L728.5 516.6L729.3 518.5L730.1 521.8L730.9 520.2L731.7 523.7L732.5 524.1L733.3 523.7L734.1 520.4L734.9 523.8L735.7 527.1L736.5 530.1L737.3 535.0L737.5 546.8 ZM760.7 546.8L760.7 535.7L761.5 536.6L762.3 534.7L763.1 535.6L763.9 533.6L764.7 535.8L765.5 534.5L766.3 536.4L767.1 534.4L767.5 546.8 ZM770.6 546.8L770.6 534.3L771.4 532.7L772.2 533.4L773.0 530.7L773.8 531.2L774.6 532.6L775.4 532.4L776.2 529.5L777.0 531.6L777.8 529.1L778.6 529.4L779.4 529.8L780.2 528.5L781.0 529.6L781.8 529.8L782.6 530.6L783.4 531.4L784.2 532.3L785.0 531.7L785.8 532.3L786.6 531.4L787.4 533.6L788.2 534.1L789.0 533.4L789.8 535.3L790.6 536.2L791.4 537.1L792.2 537.7L793.0 540.0L793.8 540.0L794.6 541.9L795.4 542.6L796.2 543.0L797.0 543.7L797.8 544.0L798.6 544.6L799.4 545.1L800.0 546.8 ZM814.0 546.8L814.0 545.8L814.8 545.4L815.6 544.8L816.4 544.6L817.2 544.0L818.0 543.1L818.8 543.4L819.6 542.8L820.4 541.9L821.2 542.2L822.0 541.7L822.8 540.2L823.6 539.5L824.4 540.1L825.2 540.0L826.0 538.3L826.8 539.2L827.6 538.4L828.4 538.0L829.2 537.7L830.0 537.2L830.8 537.6L831.6 538.6L832.4 538.8L833.2 539.4L834.0 540.1L834.8 540.9L835.6 541.8L836.4 542.3L837.2 542.2L838.0 543.1L838.8 544.2L839.6 544.3L840.0 546.8 ZM860.0 546.8L860.0 530.8L860.8 530.2L861.6 532.0L862.4 529.9L863.2 532.5L864.0 531.5L864.8 529.9L865.6 531.7L866.4 529.3L867.2 530.0L868.0 530.3L868.8 529.6L869.6 529.3L870.4 529.8L871.2 526.6L872.0 528.3L872.8 524.8L873.6 524.4L874.4 527.8L875.2 526.0L876.0 524.6L876.8 522.6L877.6 525.8L878.4 523.2L879.2 525.3L880.0 524.2L880.8 524.7L881.6 526.6L882.4 530.2L883.2 528.4L884.0 530.4L884.8 529.5L885.6 531.5L886.4 530.8L887.2 531.8L888.0 533.4L888.8 534.6L889.6 535.8L890.4 537.9L891.2 540.4L892.0 541.0L892.8 543.3L893.5 546.8 Z" fill="url(#vstripe)" stroke="none" stroke-width="1" />
<rect x="664.8" y="367.7" width="56.5" height="186.3" rx="10" ry="10" fill="none" stroke="#d9472f" stroke-width="1.8"/>
<line x1="435.8" y1="564.9" x2="900.7" y2="564.9" stroke="#7a7a7a" stroke-width="1.3" />
<line x1="435.8" y1="564.9" x2="435.8" y2="568.5" stroke="#7a7a7a" stroke-width="1" />
<text x="442.1" y="583.4" text-anchor="middle" fill="#222" textLength="30.6" lengthAdjust="spacingAndGlyphs" style="font-size:11px;font-family:'Liberation Sans', Arial, sans-serif">9,339K</text>
<line x1="484.93" y1="564.9" x2="484.93" y2="568.5" stroke="#7a7a7a" stroke-width="1" />
<text x="490.93" y="583.4" text-anchor="middle" fill="#222" textLength="30.6" lengthAdjust="spacingAndGlyphs" style="font-size:11px;font-family:'Liberation Sans', Arial, sans-serif">9,340K</text>
<line x1="534.06" y1="564.9" x2="534.06" y2="568.5" stroke="#7a7a7a" stroke-width="1" />
<text x="539.76" y="583.4" text-anchor="middle" fill="#222" textLength="30.6" lengthAdjust="spacingAndGlyphs" style="font-size:11px;font-family:'Liberation Sans', Arial, sans-serif">9,341K</text>
<line x1="583.19" y1="564.9" x2="583.19" y2="568.5" stroke="#7a7a7a" stroke-width="1" />
<text x="588.59" y="583.4" text-anchor="middle" fill="#222" textLength="30.6" lengthAdjust="spacingAndGlyphs" style="font-size:11px;font-family:'Liberation Sans', Arial, sans-serif">9,342K</text>
<line x1="632.32" y1="564.9" x2="632.32" y2="568.5" stroke="#7a7a7a" stroke-width="1" />
<text x="637.42" y="583.4" text-anchor="middle" fill="#222" textLength="30.6" lengthAdjust="spacingAndGlyphs" style="font-size:11px;font-family:'Liberation Sans', Arial, sans-serif">9,343K</text>
<line x1="681.45" y1="564.9" x2="681.45" y2="568.5" stroke="#7a7a7a" stroke-width="1" />
<text x="686.25" y="583.4" text-anchor="middle" fill="#222" textLength="30.6" lengthAdjust="spacingAndGlyphs" style="font-size:11px;font-family:'Liberation Sans', Arial, sans-serif">9,344K</text>
<line x1="730.58" y1="564.9" x2="730.58" y2="568.5" stroke="#7a7a7a" stroke-width="1" />
<text x="735.08" y="583.4" text-anchor="middle" fill="#222" textLength="30.6" lengthAdjust="spacingAndGlyphs" style="font-size:11px;font-family:'Liberation Sans', Arial, sans-serif">9,345K</text>
<line x1="779.71" y1="564.9" x2="779.71" y2="568.5" stroke="#7a7a7a" stroke-width="1" />
<text x="783.91" y="583.4" text-anchor="middle" fill="#222" textLength="30.6" lengthAdjust="spacingAndGlyphs" style="font-size:11px;font-family:'Liberation Sans', Arial, sans-serif">9,346K</text>
<line x1="828.84" y1="564.9" x2="828.84" y2="568.5" stroke="#7a7a7a" stroke-width="1" />
<text x="832.74" y="583.4" text-anchor="middle" fill="#222" textLength="30.6" lengthAdjust="spacingAndGlyphs" style="font-size:11px;font-family:'Liberation Sans', Arial, sans-serif">9,347K</text>
<line x1="877.97" y1="564.9" x2="877.97" y2="568.5" stroke="#7a7a7a" stroke-width="1" />
<text x="881.57" y="583.4" text-anchor="middle" fill="#222" textLength="30.6" lengthAdjust="spacingAndGlyphs" style="font-size:11px;font-family:'Liberation Sans', Arial, sans-serif">9,348K</text>
<text x="6.5" y="607.6" style="font-size:17.6px;font-family:'Liberation Sans', Arial, sans-serif;font-weight:bold">G</text>
<line x1="50.5" y1="809.6" x2="50.5" y2="637.8" stroke="#000" stroke-width="1.3" />
<line x1="49.9" y1="809" x2="272.7" y2="809" stroke="#000" stroke-width="1.3" />
<line x1="46.8" y1="809" x2="50.5" y2="809" stroke="#000" stroke-width="1.2" />
<text x="45.6" y="813.4" text-anchor="end" fill="#111" textLength="17.6" lengthAdjust="spacingAndGlyphs" style="font-size:12.6px;font-family:'Liberation Sans', Arial, sans-serif;font-weight:bold">0.0</text>
<line x1="46.8" y1="766.2" x2="50.5" y2="766.2" stroke="#000" stroke-width="1.2" />
<text x="45.6" y="770.6" text-anchor="end" fill="#111" textLength="17.6" lengthAdjust="spacingAndGlyphs" style="font-size:12.6px;font-family:'Liberation Sans', Arial, sans-serif;font-weight:bold">0.2</text>
<line x1="46.8" y1="723.4" x2="50.5" y2="723.4" stroke="#000" stroke-width="1.2" />
<text x="45.6" y="727.8" text-anchor="end" fill="#111" textLength="17.6" lengthAdjust="spacingAndGlyphs" style="font-size:12.6px;font-family:'Liberation Sans', Arial, sans-serif;font-weight:bold">0.4</text>
<line x1="46.8" y1="680.6" x2="50.5" y2="680.6" stroke="#000" stroke-width="1.2" />
<text x="45.6" y="685" text-anchor="end" fill="#111" textLength="17.6" lengthAdjust="spacingAndGlyphs" style="font-size:12.6px;font-family:'Liberation Sans', Arial, sans-serif;font-weight:bold">0.6</text>
<line x1="46.8" y1="637.8" x2="50.5" y2="637.8" stroke="#000" stroke-width="1.2" />
<text x="45.6" y="642.2" text-anchor="end" fill="#111" textLength="17.6" lengthAdjust="spacingAndGlyphs" style="font-size:12.6px;font-family:'Liberation Sans', Arial, sans-serif;font-weight:bold">0.8</text>
<rect x="65.9" y="680.6" width="16.7" height="128.4" fill="#000" />
<rect x="94.2" y="772.62" width="16.7" height="36.38" fill="#a0a0a0" />
<line x1="74.25" y1="680.6" x2="74.25" y2="660.06" stroke="#000" stroke-width="1" />
<line x1="70.25" y1="660.06" x2="78.25" y2="660.06" stroke="#000" stroke-width="1" />
<line x1="102.55" y1="772.62" x2="102.55" y2="757" stroke="#a0a0a0" stroke-width="1" />
<line x1="98.55" y1="757" x2="106.55" y2="757" stroke="#a0a0a0" stroke-width="1" />
<line x1="73.2" y1="653.4" x2="97" y2="653.4" stroke="#333" stroke-width="0.9" />
<text x="85.1" y="652.8" text-anchor="middle" fill="#222" style="font-size:12px;font-family:'Liberation Sans', Arial, sans-serif">*</text>
<line x1="88.4" y1="809" x2="88.4" y2="812.8" stroke="#000" stroke-width="1.2" />
<text x="86.6" y="829" text-anchor="middle" fill="#111" style="font-size:12px;font-family:'Liberation Sans', Arial, sans-serif;font-weight:bold">imd</text>
<rect x="139" y="682.74" width="16.7" height="126.26" fill="#000" />
<rect x="167.3" y="769.84" width="16.7" height="39.16" fill="#a0a0a0" />
<line x1="147.35" y1="682.74" x2="147.35" y2="667.33" stroke="#000" stroke-width="1" />
<line x1="143.35" y1="667.33" x2="151.35" y2="667.33" stroke="#000" stroke-width="1" />
<line x1="175.65" y1="769.84" x2="175.65" y2="764.49" stroke="#a0a0a0" stroke-width="1" />
<line x1="171.65" y1="764.49" x2="179.65" y2="764.49" stroke="#a0a0a0" stroke-width="1" />
<line x1="146.4" y1="661" x2="171.3" y2="661" stroke="#333" stroke-width="0.9" />
<text x="158.85" y="660.4" text-anchor="middle" fill="#222" style="font-size:12px;font-family:'Liberation Sans', Arial, sans-serif">*</text>
<line x1="161.5" y1="809" x2="161.5" y2="812.8" stroke="#000" stroke-width="1.2" />
<text x="161.5" y="829" text-anchor="middle" fill="#111" style="font-size:12px;font-family:'Liberation Sans', Arial, sans-serif;font-weight:bold">RA</text>
<rect x="213" y="694.94" width="16.7" height="114.06" fill="#000" />
<rect x="241.3" y="768.98" width="16.7" height="40.02" fill="#a0a0a0" />
<line x1="221.35" y1="694.94" x2="221.35" y2="680.81" stroke="#000" stroke-width="1" />
<line x1="217.35" y1="680.81" x2="225.35" y2="680.81" stroke="#000" stroke-width="1" />
<line x1="249.65" y1="768.98" x2="249.65" y2="760.64" stroke="#a0a0a0" stroke-width="1" />
<line x1="245.65" y1="760.64" x2="253.65" y2="760.64" stroke="#a0a0a0" stroke-width="1" />
<line x1="221.4" y1="673.6" x2="243.4" y2="673.6" stroke="#333" stroke-width="0.9" />
<text x="232.4" y="673" text-anchor="middle" fill="#222" style="font-size:12px;font-family:'Liberation Sans', Arial, sans-serif">*</text>
<line x1="235.5" y1="809" x2="235.5" y2="812.8" stroke="#000" stroke-width="1.2" />
<text x="235.5" y="829" text-anchor="middle" fill="#111" style="font-size:12px;font-family:'Liberation Sans', Arial, sans-serif;font-weight:bold">RE</text>
<text x="199.5" y="845.3" text-anchor="middle" fill="#111" textLength="56.4" lengthAdjust="spacingAndGlyphs" style="font-size:12px;font-family:'Liberation Sans', Arial, sans-serif;font-weight:bold">PGRP-LC</text>
<text x="151.2" y="638.4" text-anchor="middle" fill="#111" textLength="76.9" lengthAdjust="spacingAndGlyphs" style="font-size:13.6px;font-family:'Liberation Sans', Arial, sans-serif;font-weight:bold">KDM5 CHIP</text>
<rect x="209.4" y="628.2" width="19.4" height="8" fill="#000" />
<rect x="209.4" y="641.7" width="19.4" height="8.5" fill="#a0a0a0" />
<text x="238" y="637.2" fill="#111" textLength="14.5" lengthAdjust="spacingAndGlyphs" style="font-size:13px;font-family:'Liberation Sans', Arial, sans-serif;font-style:italic">wt</text>
<text x="238" y="652.1" fill="#111" textLength="34.5" lengthAdjust="spacingAndGlyphs" style="font-size:13px;font-family:'Liberation Sans', Arial, sans-serif;font-style:italic">kdm5</text>
<text x="272.6" y="644" fill="#111" textLength="53" lengthAdjust="spacingAndGlyphs" style="font-size:8.5px;font-family:'Liberation Sans', Arial, sans-serif;font-style:italic">K6801/10424</text>
<text x="17.3" y="722.3" text-anchor="middle" fill="#111" textLength="55" lengthAdjust="spacingAndGlyphs" transform="rotate(-90 17.3 722.3)" style="font-size:13px;font-family:'Liberation Sans', Arial, sans-serif;font-weight:bold">% input</text>
<text x="6.6" y="896.7" style="font-size:17.4px;font-family:'Liberation Sans', Arial, sans-serif;font-weight:bold">H</text>
<line x1="71" y1="897.7" x2="300" y2="897.7" stroke="#222" stroke-width="1" />
<line x1="71.7" y1="894.1" x2="91" y2="894.1" stroke="#e8262a" stroke-width="1.7" />
<line x1="91" y1="893.3" x2="91" y2="905.6" stroke="#222" stroke-width="1.1" />
<line x1="121.4" y1="894.1" x2="140.7" y2="894.1" stroke="#e8262a" stroke-width="1.7" />
<line x1="140.7" y1="893.3" x2="140.7" y2="905.6" stroke="#222" stroke-width="1.1" />
<line x1="168.2" y1="894.1" x2="187.5" y2="894.1" stroke="#e8262a" stroke-width="1.7" />
<line x1="187.5" y1="893.3" x2="187.5" y2="905.6" stroke="#222" stroke-width="1.1" />
<line x1="206.6" y1="894.1" x2="225.9" y2="894.1" stroke="#e8262a" stroke-width="1.7" />
<line x1="225.9" y1="893.3" x2="225.9" y2="905.6" stroke="#222" stroke-width="1.1" />
<text x="68" y="890.8" fill="#222" textLength="27.5" lengthAdjust="spacingAndGlyphs" style="font-size:10px;font-family:'Liberation Sans', Arial, sans-serif">RE731</text>
<text x="116.8" y="890.8" fill="#222" textLength="27.5" lengthAdjust="spacingAndGlyphs" style="font-size:10px;font-family:'Liberation Sans', Arial, sans-serif">RE461</text>
<text x="163.7" y="890.8" fill="#222" textLength="27.5" lengthAdjust="spacingAndGlyphs" style="font-size:10px;font-family:'Liberation Sans', Arial, sans-serif">RE139</text>
<text x="206.2" y="890.8" fill="#222" textLength="21.8" lengthAdjust="spacingAndGlyphs" style="font-size:10px;font-family:'Liberation Sans', Arial, sans-serif">RE37</text>
<text x="75" y="916.3" fill="#222" textLength="29" lengthAdjust="spacingAndGlyphs" style="font-size:10px;font-family:'Liberation Sans', Arial, sans-serif">-731bp</text>
<text x="126.9" y="916.3" fill="#222" textLength="29" lengthAdjust="spacingAndGlyphs" style="font-size:10px;font-family:'Liberation Sans', Arial, sans-serif">-461bp</text>
<text x="175" y="916.3" fill="#222" textLength="29" lengthAdjust="spacingAndGlyphs" style="font-size:10px;font-family:'Liberation Sans', Arial, sans-serif">-139bp</text>
<text x="213.8" y="916.3" fill="#222" textLength="23.5" lengthAdjust="spacingAndGlyphs" style="font-size:10px;font-family:'Liberation Sans', Arial, sans-serif">-37bp</text>
<text x="245.3" y="884.7" fill="#222" textLength="33.1" lengthAdjust="spacingAndGlyphs" style="font-size:10.2px;font-family:'Liberation Sans', Arial, sans-serif">TSS-RE</text>
<path d="M250.1 893.8 H269.5 V889.5 L278.4 897.6 L269.5 905.7 V901.4 H250.1 Z" fill="#3a6fc8" stroke="#2a5ab0" stroke-width="0.5" />
<line x1="71" y1="944.5" x2="300" y2="944.5" stroke="#222" stroke-width="1" />
<line x1="82.3" y1="940.6" x2="101.6" y2="940.6" stroke="#e8262a" stroke-width="1.7" />
<line x1="101.6" y1="939.8" x2="101.6" y2="952.4" stroke="#222" stroke-width="1.1" />
<line x1="114.6" y1="940.6" x2="133.9" y2="940.6" stroke="#e8262a" stroke-width="1.7" />
<line x1="133.9" y1="939.8" x2="133.9" y2="952.4" stroke="#222" stroke-width="1.1" />
<line x1="157.2" y1="940.6" x2="176.5" y2="940.6" stroke="#e8262a" stroke-width="1.7" />
<line x1="176.5" y1="939.8" x2="176.5" y2="952.4" stroke="#222" stroke-width="1.1" />
<line x1="213.9" y1="940.6" x2="233.2" y2="940.6" stroke="#e8262a" stroke-width="1.7" />
<line x1="233.2" y1="939.8" x2="233.2" y2="952.4" stroke="#222" stroke-width="1.1" />
<text x="78.7" y="936.6" fill="#222" textLength="27.7" lengthAdjust="spacingAndGlyphs" style="font-size:10px;font-family:'Liberation Sans', Arial, sans-serif">RA652</text>
<text x="111.7" y="936.6" fill="#222" textLength="27.7" lengthAdjust="spacingAndGlyphs" style="font-size:10px;font-family:'Liberation Sans', Arial, sans-serif">RA482</text>
<text x="152.9" y="936.6" fill="#222" textLength="27.5" lengthAdjust="spacingAndGlyphs" style="font-size:10px;font-family:'Liberation Sans', Arial, sans-serif">RA161</text>
<text x="211.4" y="936.6" fill="#222" textLength="21.8" lengthAdjust="spacingAndGlyphs" style="font-size:10px;font-family:'Liberation Sans', Arial, sans-serif">RA14</text>
<text x="84.6" y="962" fill="#222" textLength="29" lengthAdjust="spacingAndGlyphs" style="font-size:10px;font-family:'Liberation Sans', Arial, sans-serif">-652bp</text>
<text x="120.1" y="962" fill="#222" textLength="29" lengthAdjust="spacingAndGlyphs" style="font-size:10px;font-family:'Liberation Sans', Arial, sans-serif">-482bp</text>
<text x="164" y="962" fill="#222" textLength="28.5" lengthAdjust="spacingAndGlyphs" style="font-size:10px;font-family:'Liberation Sans', Arial, sans-serif">-161bp</text>
<text x="221.2" y="962" fill="#222" textLength="23.5" lengthAdjust="spacingAndGlyphs" style="font-size:10px;font-family:'Liberation Sans', Arial, sans-serif">-14bp</text>
<text x="246.9" y="933.9" fill="#222" textLength="33.1" lengthAdjust="spacingAndGlyphs" style="font-size:10.2px;font-family:'Liberation Sans', Arial, sans-serif">TSS-RA</text>
<path d="M250.1 940.7 H269.5 V936.4 L278.4 944.5 L269.5 952.5 V948.2 H250.1 Z" fill="#3a6fc8" stroke="#2a5ab0" stroke-width="0.5" />
<line x1="55.3" y1="1168.8" x2="55.3" y2="977.95" stroke="#000" stroke-width="1.3" />
<line x1="54.7" y1="1168.2" x2="107" y2="1168.2" stroke="#000" stroke-width="1.3" />
<line x1="51.6" y1="1168.2" x2="55.3" y2="1168.2" stroke="#000" stroke-width="1.2" />
<text x="48.6" y="1173" text-anchor="end" fill="#111" textLength="19" lengthAdjust="spacingAndGlyphs" style="font-size:13.6px;font-family:'Liberation Sans', Arial, sans-serif;font-weight:bold">0.0</text>
<line x1="51.6" y1="1130.15" x2="55.3" y2="1130.15" stroke="#000" stroke-width="1.2" />
<text x="48.6" y="1134.95" text-anchor="end" fill="#111" textLength="19" lengthAdjust="spacingAndGlyphs" style="font-size:13.6px;font-family:'Liberation Sans', Arial, sans-serif;font-weight:bold">0.5</text>
<line x1="51.6" y1="1092.1" x2="55.3" y2="1092.1" stroke="#000" stroke-width="1.2" />
<text x="48.6" y="1096.9" text-anchor="end" fill="#111" textLength="19" lengthAdjust="spacingAndGlyphs" style="font-size:13.6px;font-family:'Liberation Sans', Arial, sans-serif;font-weight:bold">1.0</text>
<line x1="51.6" y1="1054.05" x2="55.3" y2="1054.05" stroke="#000" stroke-width="1.2" />
<text x="48.6" y="1058.85" text-anchor="end" fill="#111" textLength="19" lengthAdjust="spacingAndGlyphs" style="font-size:13.6px;font-family:'Liberation Sans', Arial, sans-serif;font-weight:bold">1.5</text>
<line x1="51.6" y1="1016" x2="55.3" y2="1016" stroke="#000" stroke-width="1.2" />
<text x="48.6" y="1020.8" text-anchor="end" fill="#111" textLength="19" lengthAdjust="spacingAndGlyphs" style="font-size:13.6px;font-family:'Liberation Sans', Arial, sans-serif;font-weight:bold">2.0</text>
<line x1="51.6" y1="977.95" x2="55.3" y2="977.95" stroke="#000" stroke-width="1.2" />
<text x="48.6" y="982.75" text-anchor="end" fill="#111" textLength="19" lengthAdjust="spacingAndGlyphs" style="font-size:13.6px;font-family:'Liberation Sans', Arial, sans-serif;font-weight:bold">2.5</text>
<rect x="60" y="1061.66" width="16.5" height="106.54" fill="#000" />
<rect x="85.9" y="1019.81" width="16.5" height="148.39" fill="#a0a0a0" />
<line x1="68.25" y1="1061.66" x2="68.25" y2="1051.01" stroke="#000" stroke-width="1" />
<line x1="64.5" y1="1051.01" x2="72" y2="1051.01" stroke="#000" stroke-width="1" />
<line x1="94.15" y1="1019.81" x2="94.15" y2="1013.72" stroke="#a0a0a0" stroke-width="1" />
<line x1="90.4" y1="1013.72" x2="97.9" y2="1013.72" stroke="#a0a0a0" stroke-width="1" />
<line x1="67.8" y1="1010.1" x2="94.1" y2="1010.1" stroke="#444" stroke-width="0.9" />
<text x="80.8" y="1009.6" text-anchor="middle" fill="#222" style="font-size:12px;font-family:'Liberation Sans', Arial, sans-serif">*</text>
<line x1="81.2" y1="1168.2" x2="81.2" y2="1173.4" stroke="#000" stroke-width="1.2" />
<text x="79.3" y="1189.4" text-anchor="middle" fill="#111" textLength="22" lengthAdjust="spacingAndGlyphs" style="font-size:12px;font-family:'Liberation Sans', Arial, sans-serif;font-weight:bold">imd</text>
<text x="16.5" y="1073.5" text-anchor="middle" fill="#111" textLength="57.5" lengthAdjust="spacingAndGlyphs" transform="rotate(-90 16.5 1073.5)" style="font-size:13.5px;font-family:'Liberation Sans', Arial, sans-serif;font-weight:bold">% input</text>
<line x1="136.9" y1="1169" x2="136.9" y2="1058.6" stroke="#000" stroke-width="1.3" />
<line x1="136.9" y1="1055" x2="136.9" y2="984.62" stroke="#000" stroke-width="1.3" />
<line x1="133.7" y1="1058.6" x2="139.7" y2="1058.6" stroke="#000" stroke-width="1.1" />
<line x1="133.7" y1="1055" x2="139.7" y2="1055" stroke="#000" stroke-width="1.1" />
<line x1="136.3" y1="1168.4" x2="398" y2="1168.4" stroke="#000" stroke-width="1.3" />
<line x1="133.2" y1="1168.4" x2="136.9" y2="1168.4" stroke="#000" stroke-width="1.2" />
<text x="129" y="1173.2" text-anchor="end" fill="#111" textLength="7.6" lengthAdjust="spacingAndGlyphs" style="font-size:13.6px;font-family:'Liberation Sans', Arial, sans-serif;font-weight:bold">0</text>
<line x1="133.2" y1="1136.2" x2="136.9" y2="1136.2" stroke="#000" stroke-width="1.2" />
<text x="129" y="1141" text-anchor="end" fill="#111" textLength="7.6" lengthAdjust="spacingAndGlyphs" style="font-size:13.6px;font-family:'Liberation Sans', Arial, sans-serif;font-weight:bold">2</text>
<line x1="133.2" y1="1104" x2="136.9" y2="1104" stroke="#000" stroke-width="1.2" />
<text x="129" y="1108.8" text-anchor="end" fill="#111" textLength="7.6" lengthAdjust="spacingAndGlyphs" style="font-size:13.6px;font-family:'Liberation Sans', Arial, sans-serif;font-weight:bold">4</text>
<line x1="133.2" y1="1071.8" x2="136.9" y2="1071.8" stroke="#000" stroke-width="1.2" />
<text x="129" y="1076.6" text-anchor="end" fill="#111" textLength="7.6" lengthAdjust="spacingAndGlyphs" style="font-size:13.6px;font-family:'Liberation Sans', Arial, sans-serif;font-weight:bold">6</text>
<line x1="133.2" y1="1053.7" x2="136.9" y2="1053.7" stroke="#000" stroke-width="1.2" />
<text x="129" y="1058.5" text-anchor="end" fill="#111" textLength="15.6" lengthAdjust="spacingAndGlyphs" style="font-size:13.6px;font-family:'Liberation Sans', Arial, sans-serif;font-weight:bold">10</text>
<line x1="133.2" y1="1036.43" x2="136.9" y2="1036.43" stroke="#000" stroke-width="1.2" />
<text x="129" y="1041.23" text-anchor="end" fill="#111" textLength="15.6" lengthAdjust="spacingAndGlyphs" style="font-size:13.6px;font-family:'Liberation Sans', Arial, sans-serif;font-weight:bold">11</text>
<line x1="133.2" y1="1019.16" x2="136.9" y2="1019.16" stroke="#000" stroke-width="1.2" />
<text x="129" y="1023.96" text-anchor="end" fill="#111" textLength="15.6" lengthAdjust="spacingAndGlyphs" style="font-size:13.6px;font-family:'Liberation Sans', Arial, sans-serif;font-weight:bold">12</text>
<line x1="133.2" y1="1001.89" x2="136.9" y2="1001.89" stroke="#000" stroke-width="1.2" />
<text x="129" y="1006.69" text-anchor="end" fill="#111" textLength="15.6" lengthAdjust="spacingAndGlyphs" style="font-size:13.6px;font-family:'Liberation Sans', Arial, sans-serif;font-weight:bold">13</text>
<line x1="133.2" y1="984.62" x2="136.9" y2="984.62" stroke="#000" stroke-width="1.2" />
<text x="129" y="989.42" text-anchor="end" fill="#111" textLength="15.6" lengthAdjust="spacingAndGlyphs" style="font-size:13.6px;font-family:'Liberation Sans', Arial, sans-serif;font-weight:bold">14</text>
<rect x="141.1" y="1160.35" width="8" height="8.05" fill="#000" />
<line x1="145.1" y1="1160.35" x2="145.1" y2="1157.94" stroke="#000" stroke-width="0.9" />
<line x1="142.9" y1="1157.94" x2="147.3" y2="1157.94" stroke="#000" stroke-width="0.9" />
<rect x="153.5" y="1158.74" width="8" height="9.66" fill="#a0a0a0" />
<line x1="157.5" y1="1158.74" x2="157.5" y2="1158.42" stroke="#a0a0a0" stroke-width="0.9" />
<line x1="155.3" y1="1158.42" x2="159.7" y2="1158.42" stroke="#a0a0a0" stroke-width="0.9" />
<line x1="143.6" y1="1154.6" x2="159.6" y2="1154.6" stroke="#444" stroke-width="0.9" />
<text x="151.6" y="1151.4" text-anchor="middle" fill="#222" textLength="18.5" lengthAdjust="spacingAndGlyphs" style="font-size:11.2px;font-family:'Liberation Sans', Arial, sans-serif">n.s.</text>
<line x1="151.4" y1="1168.4" x2="151.4" y2="1172.6" stroke="#000" stroke-width="1.2" />
<text x="152.6" y="1186" text-anchor="end" fill="#111" transform="rotate(-45 152.6 1186)" style="font-size:12.7px;font-family:'Liberation Sans', Arial, sans-serif;font-weight:bold">RA-14</text>
<rect x="174.25" y="1108.03" width="8" height="60.38" fill="#000" />
<line x1="178.25" y1="1108.03" x2="178.25" y2="1102.39" stroke="#000" stroke-width="0.9" />
<line x1="176.05" y1="1102.39" x2="180.45" y2="1102.39" stroke="#000" stroke-width="0.9" />
<rect x="186.65" y="1132.18" width="8" height="36.22" fill="#a0a0a0" />
<line x1="190.65" y1="1132.18" x2="190.65" y2="1127.35" stroke="#a0a0a0" stroke-width="0.9" />
<line x1="188.45" y1="1127.35" x2="192.85" y2="1127.35" stroke="#a0a0a0" stroke-width="0.9" />
<line x1="176.75" y1="1099.5" x2="192.75" y2="1099.5" stroke="#444" stroke-width="0.9" />
<text x="184.75" y="1096.3" text-anchor="middle" fill="#222" textLength="18.5" lengthAdjust="spacingAndGlyphs" style="font-size:11.2px;font-family:'Liberation Sans', Arial, sans-serif">n.s.</text>
<line x1="184.55" y1="1168.4" x2="184.55" y2="1172.6" stroke="#000" stroke-width="1.2" />
<text x="185.75" y="1186" text-anchor="end" fill="#111" transform="rotate(-45 185.75 1186)" style="font-size:12.7px;font-family:'Liberation Sans', Arial, sans-serif;font-weight:bold">RA-161</text>
<rect x="207.4" y="1058.6" width="8" height="109.8" fill="#000" />
<rect x="207.4" y="1024.34" width="8" height="30.66" fill="#000" />
<line x1="211.4" y1="1024.34" x2="211.4" y2="988.94" stroke="#000" stroke-width="0.9" />
<line x1="209.2" y1="988.94" x2="213.6" y2="988.94" stroke="#000" stroke-width="0.9" />
<rect x="219.8" y="1058.6" width="8" height="109.8" fill="#a0a0a0" />
<rect x="219.8" y="1008.8" width="8" height="46.2" fill="#a0a0a0" />
<line x1="223.8" y1="1008.8" x2="223.8" y2="996.71" stroke="#a0a0a0" stroke-width="0.9" />
<line x1="221.6" y1="996.71" x2="226" y2="996.71" stroke="#a0a0a0" stroke-width="0.9" />
<line x1="209.9" y1="985.8" x2="225.9" y2="985.8" stroke="#444" stroke-width="0.9" />
<text x="217.9" y="982.6" text-anchor="middle" fill="#222" textLength="18.5" lengthAdjust="spacingAndGlyphs" style="font-size:11.2px;font-family:'Liberation Sans', Arial, sans-serif">n.s.</text>
<line x1="217.7" y1="1168.4" x2="217.7" y2="1172.6" stroke="#000" stroke-width="1.2" />
<text x="218.9" y="1186" text-anchor="end" fill="#111" transform="rotate(-45 218.9 1186)" style="font-size:12.7px;font-family:'Liberation Sans', Arial, sans-serif;font-weight:bold">RA-482</text>
<rect x="240.55" y="1161.16" width="8" height="7.24" fill="#000" />
<line x1="244.55" y1="1161.16" x2="244.55" y2="1160.35" stroke="#000" stroke-width="0.9" />
<line x1="242.35" y1="1160.35" x2="246.75" y2="1160.35" stroke="#000" stroke-width="0.9" />
<rect x="252.95" y="1162.77" width="8" height="5.63" fill="#a0a0a0" />
<line x1="256.95" y1="1162.77" x2="256.95" y2="1161.64" stroke="#a0a0a0" stroke-width="0.9" />
<line x1="254.75" y1="1161.64" x2="259.15" y2="1161.64" stroke="#a0a0a0" stroke-width="0.9" />
<line x1="243.05" y1="1155.7" x2="259.05" y2="1155.7" stroke="#444" stroke-width="0.9" />
<text x="251.05" y="1152.5" text-anchor="middle" fill="#222" textLength="18.5" lengthAdjust="spacingAndGlyphs" style="font-size:11.2px;font-family:'Liberation Sans', Arial, sans-serif">n.s.</text>
<line x1="250.85" y1="1168.4" x2="250.85" y2="1172.6" stroke="#000" stroke-width="1.2" />
<text x="252.05" y="1186" text-anchor="end" fill="#111" transform="rotate(-45 252.05 1186)" style="font-size:12.7px;font-family:'Liberation Sans', Arial, sans-serif;font-weight:bold">RA-652</text>
<rect x="273.7" y="1157.94" width="8" height="10.46" fill="#000" />
<line x1="277.7" y1="1157.94" x2="277.7" y2="1155.2" stroke="#000" stroke-width="0.9" />
<line x1="275.5" y1="1155.2" x2="279.9" y2="1155.2" stroke="#000" stroke-width="0.9" />
<rect x="286.1" y="1145.86" width="8" height="22.54" fill="#a0a0a0" />
<line x1="290.1" y1="1145.86" x2="290.1" y2="1142.32" stroke="#a0a0a0" stroke-width="0.9" />
<line x1="287.9" y1="1142.32" x2="292.3" y2="1142.32" stroke="#a0a0a0" stroke-width="0.9" />
<line x1="276.2" y1="1139.8" x2="292.2" y2="1139.8" stroke="#444" stroke-width="0.9" />
<text x="284.2" y="1141" text-anchor="middle" fill="#222" style="font-size:12px;font-family:'Liberation Sans', Arial, sans-serif">*</text>
<line x1="284" y1="1168.4" x2="284" y2="1172.6" stroke="#000" stroke-width="1.2" />
<text x="285.2" y="1186" text-anchor="end" fill="#111" transform="rotate(-45 285.2 1186)" style="font-size:12.7px;font-family:'Liberation Sans', Arial, sans-serif;font-weight:bold">RE-37</text>
<rect x="306.85" y="1161.16" width="8" height="7.24" fill="#000" />
<line x1="310.85" y1="1161.16" x2="310.85" y2="1157.13" stroke="#000" stroke-width="0.9" />
<line x1="308.65" y1="1157.13" x2="313.05" y2="1157.13" stroke="#000" stroke-width="0.9" />
<rect x="319.25" y="1154.72" width="8" height="13.68" fill="#a0a0a0" />
<line x1="323.25" y1="1154.72" x2="323.25" y2="1151.5" stroke="#a0a0a0" stroke-width="0.9" />
<line x1="321.05" y1="1151.5" x2="325.45" y2="1151.5" stroke="#a0a0a0" stroke-width="0.9" />
<line x1="309.35" y1="1147.7" x2="325.35" y2="1147.7" stroke="#444" stroke-width="0.9" />
<text x="317.35" y="1148.9" text-anchor="middle" fill="#222" style="font-size:12px;font-family:'Liberation Sans', Arial, sans-serif">*</text>
<line x1="317.15" y1="1168.4" x2="317.15" y2="1172.6" stroke="#000" stroke-width="1.2" />
<text x="318.35" y="1186" text-anchor="end" fill="#111" transform="rotate(-45 318.35 1186)" style="font-size:12.7px;font-family:'Liberation Sans', Arial, sans-serif;font-weight:bold">RE-139</text>
<rect x="340" y="1132.98" width="8" height="35.42" fill="#000" />
<line x1="344" y1="1132.98" x2="344" y2="1132.66" stroke="#000" stroke-width="0.9" />
<line x1="341.8" y1="1132.66" x2="346.2" y2="1132.66" stroke="#000" stroke-width="0.9" />
<rect x="352.4" y="1106.42" width="8" height="61.98" fill="#a0a0a0" />
<line x1="356.4" y1="1106.42" x2="356.4" y2="1090.32" stroke="#a0a0a0" stroke-width="0.9" />
<line x1="354.2" y1="1090.32" x2="358.6" y2="1090.32" stroke="#a0a0a0" stroke-width="0.9" />
<line x1="342.5" y1="1087.5" x2="358.5" y2="1087.5" stroke="#444" stroke-width="0.9" />
<text x="350.5" y="1088.7" text-anchor="middle" fill="#222" style="font-size:12px;font-family:'Liberation Sans', Arial, sans-serif">*</text>
<line x1="350.3" y1="1168.4" x2="350.3" y2="1172.6" stroke="#000" stroke-width="1.2" />
<text x="351.5" y="1186" text-anchor="end" fill="#111" transform="rotate(-45 351.5 1186)" style="font-size:12.7px;font-family:'Liberation Sans', Arial, sans-serif;font-weight:bold">RE-461</text>
<rect x="373.15" y="1161.96" width="8" height="6.44" fill="#000" />
<line x1="377.15" y1="1161.96" x2="377.15" y2="1160.35" stroke="#000" stroke-width="0.9" />
<line x1="374.95" y1="1160.35" x2="379.35" y2="1160.35" stroke="#000" stroke-width="0.9" />
<rect x="385.55" y="1148.28" width="8" height="20.12" fill="#a0a0a0" />
<line x1="389.55" y1="1148.28" x2="389.55" y2="1145.54" stroke="#a0a0a0" stroke-width="0.9" />
<line x1="387.35" y1="1145.54" x2="391.75" y2="1145.54" stroke="#a0a0a0" stroke-width="0.9" />
<line x1="375.65" y1="1140.2" x2="391.65" y2="1140.2" stroke="#444" stroke-width="0.9" />
<text x="383.65" y="1141.4" text-anchor="middle" fill="#222" style="font-size:12px;font-family:'Liberation Sans', Arial, sans-serif">*</text>
<line x1="383.45" y1="1168.4" x2="383.45" y2="1172.6" stroke="#000" stroke-width="1.2" />
<text x="384.65" y="1186" text-anchor="end" fill="#111" transform="rotate(-45 384.65 1186)" style="font-size:12.7px;font-family:'Liberation Sans', Arial, sans-serif;font-weight:bold">RE-731</text>
<text x="254" y="978" fill="#111" textLength="111.2" lengthAdjust="spacingAndGlyphs" style="font-size:14.8px;font-family:'Liberation Sans', Arial, sans-serif;font-weight:bold">H3K4me3 CHIP</text>
<text x="254" y="996.8" fill="#111" textLength="70.6" lengthAdjust="spacingAndGlyphs" style="font-size:14.8px;font-family:'Liberation Sans', Arial, sans-serif;font-weight:bold">PGRP-LC</text>
<rect x="297" y="1008.2" width="20" height="7.6" fill="#000" />
<rect x="297" y="1023" width="20" height="7.6" fill="#a0a0a0" />
<text x="329" y="1017" fill="#111" textLength="14.3" lengthAdjust="spacingAndGlyphs" style="font-size:13.5px;font-family:'Liberation Sans', Arial, sans-serif;font-style:italic">wt</text>
<text x="329" y="1033.2" fill="#111" textLength="36.2" lengthAdjust="spacingAndGlyphs" style="font-size:13.5px;font-family:'Liberation Sans', Arial, sans-serif;font-style:italic">kdm5</text>
<text x="365.4" y="1026" fill="#111" textLength="51.8" lengthAdjust="spacingAndGlyphs" style="font-size:8.8px;font-family:'Liberation Sans', Arial, sans-serif;font-style:italic">K6801/10424</text>
<text x="355.3" y="609.2" style="font-size:17.5px;font-family:'Liberation Sans', Arial, sans-serif;font-weight:bold">I</text>
<defs>
<filter id="gblur" x="-30%" y="-200%" width="160%" height="500%"><feGaussianBlur stdDeviation="0.85"/></filter>
<filter id="gblur2" x="-30%" y="-30%" width="160%" height="160%"><feGaussianBlur stdDeviation="1.5"/></filter>
<linearGradient id="smearG" x1="0" y1="0" x2="0" y2="1"><stop offset="0" stop-color="#9a9a9a"/><stop offset="0.5" stop-color="#6a6a6a"/><stop offset="1" stop-color="#3a3a3a"/></linearGradient>
<radialGradient id="gelG" cx="0.5" cy="0.5" r="0.75"><stop offset="0" stop-color="#3c3c3c" stop-opacity="0.5"/><stop offset="1" stop-color="#262626" stop-opacity="0.35"/></radialGradient>
</defs>
<text x="454.7" y="640" text-anchor="middle" fill="#111" textLength="77.5" lengthAdjust="spacingAndGlyphs" style="font-size:19.5px;font-family:'Liberation Sans', Arial, sans-serif">Intestine</text>
<text x="643.3" y="640" text-anchor="middle" fill="#111" textLength="77.5" lengthAdjust="spacingAndGlyphs" style="font-size:19.5px;font-family:'Liberation Sans', Arial, sans-serif">Intestine</text>
<text x="828.9" y="640" text-anchor="middle" fill="#111" textLength="76.8" lengthAdjust="spacingAndGlyphs" style="font-size:19.5px;font-family:'Liberation Sans', Arial, sans-serif">S2 Cells</text>
<rect x="345.4" y="686" width="185.3" height="127.7" fill="#323232" />
<rect x="345.4" y="686.0" width="185.3" height="127.7" fill="url(#gelG)"/>
<rect x="350.6" y="694.2" width="14" height="2.4" rx="1" fill="#161616" filter="url(#gblur)"/>
<rect x="376.8" y="694.2" width="14" height="2.4" rx="1" fill="#161616" filter="url(#gblur)"/>
<rect x="403.9" y="694.2" width="14" height="2.4" rx="1" fill="#161616" filter="url(#gblur)"/>
<rect x="431.0" y="694.2" width="14" height="2.4" rx="1" fill="#161616" filter="url(#gblur)"/>
<rect x="457.7" y="694.2" width="14" height="2.4" rx="1" fill="#161616" filter="url(#gblur)"/>
<rect x="484.0" y="694.2" width="14" height="2.4" rx="1" fill="#161616" filter="url(#gblur)"/>
<rect x="510.2" y="694.2" width="14" height="2.4" rx="1" fill="#161616" filter="url(#gblur)"/>
<rect x="428.5" y="736.0" width="19.0" height="34.0" fill="url(#smearG)" fill-opacity="0.50" filter="url(#gblur2)"/>
<rect x="455.2" y="736.0" width="19.0" height="34.0" fill="url(#smearG)" fill-opacity="0.50" filter="url(#gblur2)"/>
<rect x="481.5" y="739.0" width="19.0" height="31.0" fill="url(#smearG)" fill-opacity="0.32" filter="url(#gblur2)"/>
<rect x="507.7" y="739.0" width="19.0" height="31.0" fill="url(#smearG)" fill-opacity="0.40" filter="url(#gblur2)"/>
<rect x="350.1" y="718.2" width="15.0" height="1.9" rx="0.9" fill="#e8e8e8" fill-opacity="0.42" filter="url(#gblur)"/>
<rect x="350.1" y="724.0" width="15.0" height="1.9" rx="0.9" fill="#e8e8e8" fill-opacity="0.42" filter="url(#gblur)"/>
<rect x="350.1" y="729.0" width="15.0" height="1.9" rx="0.9" fill="#e8e8e8" fill-opacity="0.42" filter="url(#gblur)"/>
<rect x="350.1" y="737.5" width="15.0" height="2.4" rx="1.2" fill="#e8e8e8" fill-opacity="0.85" filter="url(#gblur)"/>
<rect x="350.1" y="744.4" width="15.0" height="1.9" rx="0.9" fill="#e8e8e8" fill-opacity="0.42" filter="url(#gblur)"/>
<rect x="350.1" y="751.8" width="15.0" height="1.9" rx="0.9" fill="#e8e8e8" fill-opacity="0.42" filter="url(#gblur)"/>
<rect x="350.1" y="767.0" width="15.0" height="1.9" rx="0.9" fill="#e8e8e8" fill-opacity="0.42" filter="url(#gblur)"/>
<rect x="374.1" y="773.9" width="19.5" height="4.2" rx="2.1" fill="#ffffff" fill-opacity="1.00" filter="url(#gblur)"/>
<rect x="401.1" y="774.5" width="19.5" height="4.0" rx="2.0" fill="#ffffff" fill-opacity="0.95" filter="url(#gblur)"/>
<rect x="428.2" y="732.9" width="19.5" height="3.4" rx="1.7" fill="#ffffff" fill-opacity="1.00" filter="url(#gblur)"/>
<rect x="454.9" y="732.6" width="19.5" height="3.4" rx="1.7" fill="#ffffff" fill-opacity="1.00" filter="url(#gblur)"/>
<rect x="481.5" y="739.7" width="19.0" height="2.6" rx="1.3" fill="#ffffff" fill-opacity="0.45" filter="url(#gblur)"/>
<rect x="507.5" y="739.9" width="19.5" height="3.0" rx="1.5" fill="#ffffff" fill-opacity="0.95" filter="url(#gblur)"/>
<ellipse cx="438.0" cy="782.0" rx="7" ry="2.5" fill="#222" fill-opacity="0.6" filter="url(#gblur2)"/>
<ellipse cx="464.7" cy="782.0" rx="7" ry="2.5" fill="#222" fill-opacity="0.6" filter="url(#gblur2)"/>
<ellipse cx="491.0" cy="782.0" rx="7" ry="2.5" fill="#222" fill-opacity="0.6" filter="url(#gblur2)"/>
<ellipse cx="517.2" cy="782.0" rx="7" ry="2.5" fill="#222" fill-opacity="0.6" filter="url(#gblur2)"/>
<text x="383.8" y="707.5" text-anchor="middle" fill="#f4f4f4" textLength="16.2" lengthAdjust="spacingAndGlyphs" style="font-size:8.6px;font-family:'Liberation Serif', 'Times New Roman', serif;font-weight:bold;font-style:italic">RP49</text>
<text x="410.9" y="707.5" text-anchor="middle" fill="#f4f4f4" textLength="16.2" lengthAdjust="spacingAndGlyphs" style="font-size:8.6px;font-family:'Liberation Serif', 'Times New Roman', serif;font-weight:bold;font-style:italic">RP49</text>
<text x="438" y="707.5" text-anchor="middle" fill="#f4f4f4" textLength="9.8" lengthAdjust="spacingAndGlyphs" style="font-size:8.6px;font-family:'Liberation Serif', 'Times New Roman', serif;font-weight:bold;font-style:italic">RA</text>
<text x="464.7" y="707.5" text-anchor="middle" fill="#f4f4f4" textLength="9.8" lengthAdjust="spacingAndGlyphs" style="font-size:8.6px;font-family:'Liberation Serif', 'Times New Roman', serif;font-weight:bold;font-style:italic">RA</text>
<text x="491" y="707.5" text-anchor="middle" fill="#f4f4f4" textLength="9.8" lengthAdjust="spacingAndGlyphs" style="font-size:8.6px;font-family:'Liberation Serif', 'Times New Roman', serif;font-weight:bold;font-style:italic">RE</text>
<text x="517.2" y="707.5" text-anchor="middle" fill="#f4f4f4" textLength="9.8" lengthAdjust="spacingAndGlyphs" style="font-size:8.6px;font-family:'Liberation Serif', 'Times New Roman', serif;font-weight:bold;font-style:italic">RE</text>
<text x="344.6" y="721.4" text-anchor="end" fill="#222" textLength="13.5" lengthAdjust="spacingAndGlyphs" style="font-size:7px;font-family:'Liberation Serif', 'Times New Roman', serif;font-weight:bold">4500</text>
<text x="344.6" y="727.1" text-anchor="end" fill="#222" textLength="13.5" lengthAdjust="spacingAndGlyphs" style="font-size:7px;font-family:'Liberation Serif', 'Times New Roman', serif;font-weight:bold">3000</text>
<text x="344.6" y="732" text-anchor="end" fill="#222" textLength="13.5" lengthAdjust="spacingAndGlyphs" style="font-size:7px;font-family:'Liberation Serif', 'Times New Roman', serif;font-weight:bold">2000</text>
<text x="344.6" y="739.1" text-anchor="end" fill="#222" textLength="13.5" lengthAdjust="spacingAndGlyphs" style="font-size:7px;font-family:'Liberation Serif', 'Times New Roman', serif;font-weight:bold">1200</text>
<text x="344.6" y="747" text-anchor="end" fill="#222" textLength="10.2" lengthAdjust="spacingAndGlyphs" style="font-size:7px;font-family:'Liberation Serif', 'Times New Roman', serif;font-weight:bold">800</text>
<text x="344.6" y="754.9" text-anchor="end" fill="#222" textLength="10.2" lengthAdjust="spacingAndGlyphs" style="font-size:7px;font-family:'Liberation Serif', 'Times New Roman', serif;font-weight:bold">500</text>
<text x="344.6" y="768.4" text-anchor="end" fill="#222" textLength="10.2" lengthAdjust="spacingAndGlyphs" style="font-size:7px;font-family:'Liberation Serif', 'Times New Roman', serif;font-weight:bold">200</text>
<text x="382.8" y="683" transform="rotate(-52 382.8 683)" style="font-size:6.5px;font-family:'Liberation Serif', 'Times New Roman', serif;font-style:italic;font-weight:bold" fill="#222"><tspan>wt</tspan></text>
<text x="409.9" y="683" transform="rotate(-52 409.9 683)" style="font-size:6.5px;font-family:'Liberation Serif', 'Times New Roman', serif;font-style:italic;font-weight:bold" fill="#222"><tspan>kdm5</tspan><tspan dy="-2" style="font-size:4px">-/-</tspan></text>
<text x="437.0" y="683" transform="rotate(-52 437.0 683)" style="font-size:6.5px;font-family:'Liberation Serif', 'Times New Roman', serif;font-style:italic;font-weight:bold" fill="#222"><tspan>wt</tspan></text>
<text x="463.7" y="683" transform="rotate(-52 463.7 683)" style="font-size:6.5px;font-family:'Liberation Serif', 'Times New Roman', serif;font-style:italic;font-weight:bold" fill="#222"><tspan>kdm5</tspan><tspan dy="-2" style="font-size:4px">-/-</tspan></text>
<text x="490.0" y="683" transform="rotate(-52 490.0 683)" style="font-size:6.5px;font-family:'Liberation Serif', 'Times New Roman', serif;font-style:italic;font-weight:bold" fill="#222"><tspan>wt</tspan></text>
<text x="516.2" y="683" transform="rotate(-52 516.2 683)" style="font-size:6.5px;font-family:'Liberation Serif', 'Times New Roman', serif;font-style:italic;font-weight:bold" fill="#222"><tspan>kdm5</tspan><tspan dy="-2" style="font-size:4px">-/-</tspan></text>
<rect x="543.2" y="685.8" width="180.8" height="128.2" fill="#323232" />
<rect x="543.2" y="685.8" width="180.8" height="128.2" fill="url(#gelG)"/>
<rect x="547.8" y="694.2" width="14" height="2.4" rx="1" fill="#161616" filter="url(#gblur)"/>
<rect x="568.9" y="694.2" width="14" height="2.4" rx="1" fill="#161616" filter="url(#gblur)"/>
<rect x="594.7" y="694.2" width="14" height="2.4" rx="1" fill="#161616" filter="url(#gblur)"/>
<rect x="621.0" y="694.2" width="14" height="2.4" rx="1" fill="#161616" filter="url(#gblur)"/>
<rect x="647.0" y="694.2" width="14" height="2.4" rx="1" fill="#161616" filter="url(#gblur)"/>
<rect x="673.3" y="694.2" width="14" height="2.4" rx="1" fill="#161616" filter="url(#gblur)"/>
<rect x="699.6" y="694.2" width="14" height="2.4" rx="1" fill="#161616" filter="url(#gblur)"/>
<rect x="618.5" y="740.0" width="19.0" height="25.0" fill="url(#smearG)" fill-opacity="0.25" filter="url(#gblur2)"/>
<rect x="644.5" y="740.0" width="19.0" height="25.0" fill="url(#smearG)" fill-opacity="0.25" filter="url(#gblur2)"/>
<rect x="670.8" y="733.0" width="19.0" height="32.0" fill="url(#smearG)" fill-opacity="0.20" filter="url(#gblur2)"/>
<rect x="697.1" y="733.0" width="19.0" height="32.0" fill="url(#smearG)" fill-opacity="0.20" filter="url(#gblur2)"/>
<rect x="547.3" y="720.4" width="15.0" height="1.9" rx="0.9" fill="#e8e8e8" fill-opacity="0.42" filter="url(#gblur)"/>
<rect x="547.3" y="724.8" width="15.0" height="1.9" rx="0.9" fill="#e8e8e8" fill-opacity="0.42" filter="url(#gblur)"/>
<rect x="547.3" y="730.0" width="15.0" height="1.9" rx="0.9" fill="#e8e8e8" fill-opacity="0.42" filter="url(#gblur)"/>
<rect x="547.3" y="740.2" width="15.0" height="2.4" rx="1.2" fill="#e8e8e8" fill-opacity="0.85" filter="url(#gblur)"/>
<rect x="547.3" y="748.3" width="15.0" height="1.9" rx="0.9" fill="#e8e8e8" fill-opacity="0.42" filter="url(#gblur)"/>
<rect x="547.3" y="759.0" width="15.0" height="1.9" rx="0.9" fill="#e8e8e8" fill-opacity="0.42" filter="url(#gblur)"/>
<rect x="547.3" y="776.3" width="15.0" height="1.9" rx="0.9" fill="#e8e8e8" fill-opacity="0.42" filter="url(#gblur)"/>
<rect x="566.1" y="784.5" width="19.5" height="4.2" rx="2.1" fill="#ffffff" fill-opacity="1.00" filter="url(#gblur)"/>
<rect x="592.0" y="785.0" width="19.5" height="4.0" rx="2.0" fill="#ffffff" fill-opacity="0.90" filter="url(#gblur)"/>
<rect x="618.2" y="734.4" width="19.5" height="4.0" rx="2.0" fill="#ffffff" fill-opacity="1.00" filter="url(#gblur)"/>
<rect x="644.2" y="734.4" width="19.5" height="4.0" rx="2.0" fill="#ffffff" fill-opacity="1.00" filter="url(#gblur)"/>
<rect x="619.0" y="753.5" width="18.0" height="2.5" rx="1.2" fill="#ffffff" fill-opacity="0.30" filter="url(#gblur)"/>
<rect x="645.0" y="753.5" width="18.0" height="2.5" rx="1.2" fill="#ffffff" fill-opacity="0.30" filter="url(#gblur)"/>
<rect x="671.3" y="729.4" width="18.0" height="2.4" rx="1.2" fill="#ffffff" fill-opacity="0.55" filter="url(#gblur)"/>
<rect x="671.3" y="743.2" width="18.0" height="2.8" rx="1.4" fill="#ffffff" fill-opacity="0.75" filter="url(#gblur)"/>
<rect x="697.1" y="743.0" width="19.0" height="3.2" rx="1.6" fill="#ffffff" fill-opacity="1.00" filter="url(#gblur)"/>
<ellipse cx="628.0" cy="788.0" rx="7" ry="2.5" fill="#222" fill-opacity="0.6" filter="url(#gblur2)"/>
<ellipse cx="654.0" cy="788.0" rx="7" ry="2.5" fill="#222" fill-opacity="0.6" filter="url(#gblur2)"/>
<ellipse cx="680.3" cy="788.0" rx="7" ry="2.5" fill="#222" fill-opacity="0.6" filter="url(#gblur2)"/>
<ellipse cx="706.6" cy="788.0" rx="7" ry="2.5" fill="#222" fill-opacity="0.6" filter="url(#gblur2)"/>
<text x="575.9" y="707.5" text-anchor="middle" fill="#f4f4f4" textLength="16.2" lengthAdjust="spacingAndGlyphs" style="font-size:8.6px;font-family:'Liberation Serif', 'Times New Roman', serif;font-weight:bold;font-style:italic">RP49</text>
<text x="601.7" y="707.5" text-anchor="middle" fill="#f4f4f4" textLength="16.2" lengthAdjust="spacingAndGlyphs" style="font-size:8.6px;font-family:'Liberation Serif', 'Times New Roman', serif;font-weight:bold;font-style:italic">RP49</text>
<text x="628" y="707.5" text-anchor="middle" fill="#f4f4f4" textLength="9.8" lengthAdjust="spacingAndGlyphs" style="font-size:8.6px;font-family:'Liberation Serif', 'Times New Roman', serif;font-weight:bold;font-style:italic">RA</text>
<text x="654" y="707.5" text-anchor="middle" fill="#f4f4f4" textLength="9.8" lengthAdjust="spacingAndGlyphs" style="font-size:8.6px;font-family:'Liberation Serif', 'Times New Roman', serif;font-weight:bold;font-style:italic">RA</text>
<text x="680.3" y="707.5" text-anchor="middle" fill="#f4f4f4" textLength="9.8" lengthAdjust="spacingAndGlyphs" style="font-size:8.6px;font-family:'Liberation Serif', 'Times New Roman', serif;font-weight:bold;font-style:italic">RE</text>
<text x="706.6" y="707.5" text-anchor="middle" fill="#f4f4f4" textLength="9.8" lengthAdjust="spacingAndGlyphs" style="font-size:8.6px;font-family:'Liberation Serif', 'Times New Roman', serif;font-weight:bold;font-style:italic">RE</text>
<text x="574.4" y="683" transform="rotate(-42 574.4 683)" style="font-size:5.8px;font-family:'Liberation Serif', 'Times New Roman', serif;font-style:italic;font-weight:bold" fill="#222"><tspan>Myo1A/+</tspan></text>
<text x="600.2" y="683" transform="rotate(-42 600.2 683)" style="font-size:5.8px;font-family:'Liberation Serif', 'Times New Roman', serif;font-style:italic;font-weight:bold" fill="#222"><tspan>Myo1A/RNAi</tspan></text>
<text x="626.5" y="683" transform="rotate(-42 626.5 683)" style="font-size:5.8px;font-family:'Liberation Serif', 'Times New Roman', serif;font-style:italic;font-weight:bold" fill="#222"><tspan>Myo1A/+</tspan></text>
<text x="652.5" y="683" transform="rotate(-42 652.5 683)" style="font-size:5.8px;font-family:'Liberation Serif', 'Times New Roman', serif;font-style:italic;font-weight:bold" fill="#222"><tspan>Myo1A/RNAi</tspan></text>
<text x="678.8" y="683" transform="rotate(-42 678.8 683)" style="font-size:5.8px;font-family:'Liberation Serif', 'Times New Roman', serif;font-style:italic;font-weight:bold" fill="#222"><tspan>Myo1A/+</tspan></text>
<text x="705.1" y="683" transform="rotate(-42 705.1 683)" style="font-size:5.8px;font-family:'Liberation Serif', 'Times New Roman', serif;font-style:italic;font-weight:bold" fill="#222"><tspan>Myo1A/RNAi</tspan></text>
<rect x="734.7" y="685.8" width="179.3" height="128.2" fill="#323232" />
<rect x="734.7" y="685.8" width="179.3" height="128.2" fill="url(#gelG)"/>
<rect x="739.5" y="694.2" width="14" height="2.4" rx="1" fill="#161616" filter="url(#gblur)"/>
<rect x="762.1" y="694.2" width="14" height="2.4" rx="1" fill="#161616" filter="url(#gblur)"/>
<rect x="788.0" y="694.2" width="14" height="2.4" rx="1" fill="#161616" filter="url(#gblur)"/>
<rect x="813.4" y="694.2" width="14" height="2.4" rx="1" fill="#161616" filter="url(#gblur)"/>
<rect x="839.2" y="694.2" width="14" height="2.4" rx="1" fill="#161616" filter="url(#gblur)"/>
<rect x="865.0" y="694.2" width="14" height="2.4" rx="1" fill="#161616" filter="url(#gblur)"/>
<rect x="891.3" y="694.2" width="14" height="2.4" rx="1" fill="#161616" filter="url(#gblur)"/>
<rect x="810.9" y="737.0" width="19.0" height="33.0" fill="url(#smearG)" fill-opacity="0.60" filter="url(#gblur2)"/>
<rect x="836.7" y="737.0" width="19.0" height="33.0" fill="url(#smearG)" fill-opacity="0.60" filter="url(#gblur2)"/>
<rect x="862.5" y="728.0" width="19.0" height="40.0" fill="url(#smearG)" fill-opacity="0.18" filter="url(#gblur2)"/>
<rect x="888.8" y="728.0" width="19.0" height="40.0" fill="url(#smearG)" fill-opacity="0.30" filter="url(#gblur2)"/>
<rect x="759.6" y="760.0" width="19.0" height="18.0" fill="url(#smearG)" fill-opacity="0.20" filter="url(#gblur2)"/>
<rect x="785.5" y="760.0" width="19.0" height="18.0" fill="url(#smearG)" fill-opacity="0.20" filter="url(#gblur2)"/>
<rect x="739.0" y="720.4" width="15.0" height="1.9" rx="0.9" fill="#e8e8e8" fill-opacity="0.42" filter="url(#gblur)"/>
<rect x="739.0" y="724.8" width="15.0" height="1.9" rx="0.9" fill="#e8e8e8" fill-opacity="0.42" filter="url(#gblur)"/>
<rect x="739.0" y="729.0" width="15.0" height="1.9" rx="0.9" fill="#e8e8e8" fill-opacity="0.42" filter="url(#gblur)"/>
<rect x="739.0" y="739.5" width="15.0" height="2.4" rx="1.2" fill="#e8e8e8" fill-opacity="0.85" filter="url(#gblur)"/>
<rect x="739.0" y="747.3" width="15.0" height="1.9" rx="0.9" fill="#e8e8e8" fill-opacity="0.42" filter="url(#gblur)"/>
<rect x="739.0" y="757.0" width="15.0" height="1.9" rx="0.9" fill="#e8e8e8" fill-opacity="0.42" filter="url(#gblur)"/>
<rect x="739.0" y="772.0" width="15.0" height="1.9" rx="0.9" fill="#e8e8e8" fill-opacity="0.42" filter="url(#gblur)"/>
<rect x="759.4" y="777.3" width="19.5" height="3.4" rx="1.7" fill="#ffffff" fill-opacity="0.95" filter="url(#gblur)"/>
<rect x="785.2" y="777.3" width="19.5" height="3.4" rx="1.7" fill="#ffffff" fill-opacity="1.00" filter="url(#gblur)"/>
<rect x="810.6" y="733.0" width="19.5" height="4.0" rx="2.0" fill="#ffffff" fill-opacity="1.00" filter="url(#gblur)"/>
<rect x="836.5" y="733.0" width="19.5" height="4.0" rx="2.0" fill="#ffffff" fill-opacity="1.00" filter="url(#gblur)"/>
<rect x="889.0" y="738.8" width="18.5" height="2.4" rx="1.2" fill="#ffffff" fill-opacity="0.75" filter="url(#gblur)"/>
<ellipse cx="746.5" cy="784.0" rx="7" ry="2.5" fill="#222" fill-opacity="0.6" filter="url(#gblur2)"/>
<text x="769.1" y="707.5" text-anchor="middle" fill="#f4f4f4" textLength="16.2" lengthAdjust="spacingAndGlyphs" style="font-size:8.6px;font-family:'Liberation Serif', 'Times New Roman', serif;font-weight:bold;font-style:italic">RP49</text>
<text x="795" y="707.5" text-anchor="middle" fill="#f4f4f4" textLength="16.2" lengthAdjust="spacingAndGlyphs" style="font-size:8.6px;font-family:'Liberation Serif', 'Times New Roman', serif;font-weight:bold;font-style:italic">RP49</text>
<text x="820.4" y="707.5" text-anchor="middle" fill="#f4f4f4" textLength="9.8" lengthAdjust="spacingAndGlyphs" style="font-size:8.6px;font-family:'Liberation Serif', 'Times New Roman', serif;font-weight:bold;font-style:italic">RA</text>
<text x="846.2" y="707.5" text-anchor="middle" fill="#f4f4f4" textLength="9.8" lengthAdjust="spacingAndGlyphs" style="font-size:8.6px;font-family:'Liberation Serif', 'Times New Roman', serif;font-weight:bold;font-style:italic">RA</text>
<text x="872" y="707.5" text-anchor="middle" fill="#f4f4f4" textLength="9.8" lengthAdjust="spacingAndGlyphs" style="font-size:8.6px;font-family:'Liberation Serif', 'Times New Roman', serif;font-weight:bold;font-style:italic">RE</text>
<text x="898.3" y="707.5" text-anchor="middle" fill="#f4f4f4" textLength="9.8" lengthAdjust="spacingAndGlyphs" style="font-size:8.6px;font-family:'Liberation Serif', 'Times New Roman', serif;font-weight:bold;font-style:italic">RE</text>
<text x="760.5" y="683" transform="rotate(-47 760.5 683)" style="font-size:6.0px;font-family:'Liberation Serif', 'Times New Roman', serif;font-style:italic;font-weight:bold" fill="#222"><tspan>GFP</tspan><tspan dy="-2" style="font-size:4px">RNAi</tspan></text>
<text x="786.4" y="683" transform="rotate(-47 786.4 683)" style="font-size:6.0px;font-family:'Liberation Serif', 'Times New Roman', serif;font-style:italic;font-weight:bold" fill="#222"><tspan>KDM5</tspan><tspan dy="-2" style="font-size:4px">RNAi</tspan></text>
<text x="811.8" y="683" transform="rotate(-47 811.8 683)" style="font-size:6.0px;font-family:'Liberation Serif', 'Times New Roman', serif;font-style:italic;font-weight:bold" fill="#222"><tspan>GFP</tspan><tspan dy="-2" style="font-size:4px">RNAi</tspan></text>
<text x="837.6" y="683" transform="rotate(-47 837.6 683)" style="font-size:6.0px;font-family:'Liberation Serif', 'Times New Roman', serif;font-style:italic;font-weight:bold" fill="#222"><tspan>KDM5</tspan><tspan dy="-2" style="font-size:4px">RNAi</tspan></text>
<text x="863.4" y="683" transform="rotate(-47 863.4 683)" style="font-size:6.0px;font-family:'Liberation Serif', 'Times New Roman', serif;font-style:italic;font-weight:bold" fill="#222"><tspan>GFP</tspan><tspan dy="-2" style="font-size:4px">RNAi</tspan></text>
<text x="889.7" y="683" transform="rotate(-47 889.7 683)" style="font-size:6.0px;font-family:'Liberation Serif', 'Times New Roman', serif;font-style:italic;font-weight:bold" fill="#222"><tspan>KDM5</tspan><tspan dy="-2" style="font-size:4px">RNAi</tspan></text>
<text x="408.6" y="896.5" style="font-size:17.5px;font-family:'Liberation Sans', Arial, sans-serif;font-weight:bold">J</text>
<rect x="449.6" y="907.6" width="215" height="308.1" fill="#ffffff" />
<line x1="413.3" y1="910" x2="413.3" y2="1215" stroke="#ececec" stroke-width="0.8" />
<line x1="413.3" y1="907.5" x2="449.6" y2="907.5" stroke="#f0f0f0" stroke-width="0.8" />
<defs><clipPath id="cla"><polygon points="509.8,909.2 555.8,909.2 555.8,966.3 526.5,1009.3 451.2,1009.3 451.2,964.3"/></clipPath><clipPath id="cld"><polygon points="558.2,929.2 584.4,921.2 610.7,919.2 631.6,921.2 642.1,929.2 663.1,924.2 663.1,989.3 642.1,991.3 615.9,983.3 589.7,977.3 570.8,987.3 558.2,994.3"/></clipPath><clipPath id="clb"><polygon points="503.5,1011.6 555.8,1011.6 555.8,1066.7 534.9,1111.7 451.2,1111.7 451.2,1066.7"/></clipPath><clipPath id="cle"><polygon points="558.2,1038.6 589.7,1031.6 621.1,1023.6 663.1,1023.6 663.1,1091.7 621.1,1089.7 589.7,1081.7 579.2,1075.7 568.7,1081.7 558.2,1085.7"/></clipPath><clipPath id="clc"><polygon points="508.7,1114.1 555.8,1114.1 555.8,1144.1 526.5,1214.2 451.2,1214.2 451.2,1176.2 472.1,1144.1"/></clipPath><clipPath id="clf"><polygon points="558.2,1134.1 584.4,1126.1 610.7,1124.1 631.6,1126.1 642.1,1134.1 663.1,1129.1 663.1,1194.2 642.1,1196.2 615.9,1188.2 589.7,1182.2 570.8,1192.2 558.2,1199.2"/></clipPath><filter id="jblur" x="-5%" y="-5%" width="110%" height="110%"><feGaussianBlur stdDeviation="2.2"/></filter><filter id="jnoise" x="0" y="0" width="100%" height="100%"><feTurbulence type="fractalNoise" baseFrequency="0.13" numOctaves="2" seed="7"/><feColorMatrix type="matrix" values="0 0 0 0 0  0 0 0 0 0  0 0 0 0 0  0 0 0 -2.2 1.25"/></filter></defs>
<rect x="451.2" y="909.2" width="104.6" height="100.1" fill="#080101" />
<g clip-path="url(#cla)"><polygon points="509.8,909.2 555.8,909.2 555.8,966.3 526.5,1009.3 451.2,1009.3 451.2,964.3" fill="#560b0d" filter="url(#jblur)"/><rect x="451.2" y="909.2" width="104.6" height="100.1" filter="url(#jnoise)" opacity="0.55"/></g>
<g clip-path="url(#cla)" fill="#8a1a1e" fill-opacity="0.35"><circle cx="451.4" cy="913.5" r="0.90"/><circle cx="460.1" cy="913.4" r="1.02"/><circle cx="464.9" cy="910.3" r="1.19"/><circle cx="472.0" cy="911.6" r="0.74"/><circle cx="476.4" cy="912.9" r="1.15"/><circle cx="481.6" cy="911.4" r="0.84"/><circle cx="488.3" cy="910.9" r="1.17"/><circle cx="493.6" cy="912.4" r="0.74"/><circle cx="501.7" cy="910.6" r="0.74"/><circle cx="506.8" cy="913.9" r="1.04"/><circle cx="513.7" cy="912.0" r="1.24"/><circle cx="517.6" cy="910.2" r="1.02"/><circle cx="524.7" cy="910.9" r="0.74"/><circle cx="531.1" cy="911.1" r="0.78"/><circle cx="538.7" cy="914.2" r="0.79"/><circle cx="540.6" cy="913.2" r="0.96"/><circle cx="549.7" cy="910.3" r="1.21"/><circle cx="555.7" cy="913.8" r="0.72"/><circle cx="455.8" cy="918.8" r="0.73"/><circle cx="462.4" cy="917.6" r="1.01"/><circle cx="467.9" cy="917.0" r="1.13"/><circle cx="473.5" cy="917.9" r="1.13"/><circle cx="480.1" cy="916.5" r="1.19"/><circle cx="487.7" cy="916.3" r="0.80"/><circle cx="490.8" cy="917.4" r="0.98"/><circle cx="499.8" cy="918.2" r="1.02"/><circle cx="502.5" cy="917.4" r="1.18"/><circle cx="509.9" cy="915.4" r="0.86"/><circle cx="513.8" cy="917.6" r="1.21"/><circle cx="523.2" cy="915.5" r="1.18"/><circle cx="526.7" cy="919.2" r="0.91"/><circle cx="534.7" cy="917.5" r="0.79"/><circle cx="539.7" cy="919.0" r="0.94"/><circle cx="545.8" cy="917.1" r="1.22"/><circle cx="550.4" cy="917.3" r="1.13"/><circle cx="454.1" cy="922.1" r="0.86"/><circle cx="460.3" cy="921.3" r="1.20"/><circle cx="466.4" cy="920.5" r="0.84"/><circle cx="469.4" cy="921.6" r="1.04"/><circle cx="477.9" cy="922.5" r="0.78"/><circle cx="480.8" cy="921.7" r="0.87"/><circle cx="487.2" cy="921.1" r="1.02"/><circle cx="494.4" cy="923.3" r="1.15"/><circle cx="499.1" cy="921.1" r="0.84"/><circle cx="508.0" cy="924.1" r="0.79"/><circle cx="511.5" cy="922.3" r="0.70"/><circle cx="518.2" cy="922.9" r="0.99"/><circle cx="526.6" cy="923.6" r="1.21"/><circle cx="530.2" cy="923.1" r="1.11"/><circle cx="538.6" cy="924.2" r="1.20"/><circle cx="541.8" cy="922.2" r="0.99"/><circle cx="549.2" cy="923.9" r="0.94"/><circle cx="556.6" cy="924.7" r="1.18"/><circle cx="457.5" cy="927.8" r="0.96"/><circle cx="460.5" cy="926.6" r="1.21"/><circle cx="466.6" cy="926.7" r="1.04"/><circle cx="474.4" cy="926.1" r="1.14"/><circle cx="479.2" cy="929.0" r="1.05"/><circle cx="487.8" cy="926.5" r="0.94"/><circle cx="491.9" cy="929.6" r="1.13"/><circle cx="497.5" cy="929.6" r="1.16"/><circle cx="505.3" cy="929.9" r="1.08"/><circle cx="510.3" cy="926.8" r="1.24"/><circle cx="517.7" cy="927.7" r="1.00"/><circle cx="520.7" cy="928.2" r="0.98"/><circle cx="526.5" cy="926.8" r="0.74"/><circle cx="533.3" cy="928.0" r="0.88"/><circle cx="540.7" cy="926.6" r="0.70"/><circle cx="544.8" cy="926.4" r="0.89"/><circle cx="549.8" cy="926.6" r="1.11"/><circle cx="451.7" cy="933.4" r="0.82"/><circle cx="457.6" cy="934.9" r="1.16"/><circle cx="463.6" cy="933.2" r="1.15"/><circle cx="472.5" cy="933.8" r="0.71"/><circle cx="477.3" cy="932.0" r="0.99"/><circle cx="484.7" cy="931.9" r="0.97"/><circle cx="488.9" cy="933.6" r="1.00"/><circle cx="496.3" cy="932.8" r="1.12"/><circle cx="500.3" cy="932.3" r="1.14"/><circle cx="506.8" cy="933.4" r="0.75"/><circle cx="511.4" cy="932.2" r="0.73"/><circle cx="518.1" cy="934.7" r="1.11"/><circle cx="525.9" cy="931.8" r="1.22"/><circle cx="532.1" cy="931.8" r="1.22"/><circle cx="537.0" cy="934.1" r="0.78"/><circle cx="541.4" cy="933.7" r="0.77"/><circle cx="547.1" cy="934.2" r="1.24"/><circle cx="555.9" cy="931.6" r="1.01"/><circle cx="456.2" cy="936.3" r="1.00"/><circle cx="461.7" cy="938.9" r="0.91"/><circle cx="466.1" cy="936.2" r="0.83"/><circle cx="472.2" cy="937.6" r="1.07"/><circle cx="478.3" cy="940.0" r="0.87"/><circle cx="487.1" cy="938.6" r="0.79"/><circle cx="491.7" cy="936.6" r="0.73"/><circle cx="497.0" cy="937.8" r="0.92"/><circle cx="505.4" cy="936.5" r="0.78"/><circle cx="510.3" cy="936.7" r="0.73"/><circle cx="516.6" cy="939.3" r="1.16"/><circle cx="521.4" cy="940.1" r="1.00"/><circle cx="526.5" cy="938.4" r="0.96"/><circle cx="535.0" cy="936.5" r="1.24"/><circle cx="537.7" cy="936.4" r="1.04"/><circle cx="544.3" cy="940.3" r="1.22"/><circle cx="550.5" cy="936.3" r="1.05"/><circle cx="454.4" cy="942.6" r="1.15"/><circle cx="459.9" cy="945.0" r="0.94"/><circle cx="464.6" cy="944.0" r="0.88"/><circle cx="471.2" cy="942.8" r="0.85"/><circle cx="478.1" cy="943.2" r="1.17"/><circle cx="484.3" cy="942.1" r="0.86"/><circle cx="489.1" cy="943.1" r="0.84"/><circle cx="496.2" cy="945.6" r="0.98"/><circle cx="502.2" cy="943.1" r="0.92"/><circle cx="506.9" cy="944.2" r="0.91"/><circle cx="513.6" cy="944.4" r="0.85"/><circle cx="520.4" cy="941.6" r="1.04"/><circle cx="525.4" cy="944.5" r="1.06"/><circle cx="528.7" cy="944.7" r="0.97"/><circle cx="535.6" cy="943.4" r="0.85"/><circle cx="543.8" cy="941.8" r="0.81"/><circle cx="548.0" cy="942.2" r="0.90"/><circle cx="554.8" cy="943.2" r="1.13"/><circle cx="457.1" cy="950.0" r="0.99"/><circle cx="462.1" cy="947.5" r="1.17"/><circle cx="466.1" cy="947.3" r="0.85"/><circle cx="474.5" cy="948.4" r="1.18"/><circle cx="480.9" cy="946.9" r="1.10"/><circle cx="487.2" cy="950.4" r="1.09"/><circle cx="492.6" cy="948.9" r="1.25"/><circle cx="497.3" cy="948.5" r="1.15"/><circle cx="502.6" cy="947.5" r="0.78"/><circle cx="508.3" cy="950.2" r="1.08"/><circle cx="514.6" cy="949.5" r="1.02"/><circle cx="519.8" cy="950.4" r="1.00"/><circle cx="528.8" cy="949.4" r="0.79"/><circle cx="533.0" cy="947.7" r="0.81"/><circle cx="541.0" cy="949.7" r="1.03"/><circle cx="544.6" cy="947.2" r="0.93"/><circle cx="550.7" cy="949.2" r="1.19"/><circle cx="454.7" cy="952.8" r="0.87"/><circle cx="458.6" cy="955.1" r="1.22"/><circle cx="465.0" cy="955.9" r="1.12"/><circle cx="470.8" cy="955.0" r="0.72"/><circle cx="474.9" cy="954.9" r="1.19"/><circle cx="481.0" cy="954.3" r="0.78"/><circle cx="489.8" cy="955.9" r="0.72"/><circle cx="496.8" cy="955.1" r="1.16"/><circle cx="500.0" cy="955.2" r="1.11"/><circle cx="508.6" cy="954.7" r="0.84"/><circle cx="513.5" cy="955.6" r="1.07"/><circle cx="519.9" cy="954.7" r="0.77"/><circle cx="526.6" cy="955.1" r="0.73"/><circle cx="531.6" cy="954.7" r="0.96"/><circle cx="536.8" cy="955.6" r="0.78"/><circle cx="542.1" cy="954.8" r="0.75"/><circle cx="547.0" cy="953.3" r="1.05"/><circle cx="553.4" cy="955.7" r="0.77"/><circle cx="456.2" cy="957.7" r="0.71"/><circle cx="463.5" cy="957.3" r="1.23"/><circle cx="466.6" cy="960.9" r="0.74"/><circle cx="472.8" cy="960.6" r="0.91"/><circle cx="479.8" cy="960.7" r="1.15"/><circle cx="486.2" cy="958.9" r="0.82"/><circle cx="490.3" cy="959.6" r="0.76"/><circle cx="499.3" cy="960.7" r="0.91"/><circle cx="502.3" cy="958.1" r="0.77"/><circle cx="510.9" cy="958.6" r="0.77"/><circle cx="516.4" cy="959.5" r="0.97"/><circle cx="520.3" cy="958.5" r="0.95"/><circle cx="529.0" cy="960.7" r="1.10"/><circle cx="533.0" cy="957.8" r="1.08"/><circle cx="541.1" cy="961.2" r="0.76"/><circle cx="544.6" cy="959.9" r="0.75"/><circle cx="553.1" cy="959.5" r="0.73"/><circle cx="452.8" cy="963.2" r="1.24"/><circle cx="458.7" cy="965.3" r="0.97"/><circle cx="462.9" cy="963.8" r="1.05"/><circle cx="468.6" cy="965.9" r="0.91"/><circle cx="477.1" cy="965.9" r="0.76"/><circle cx="484.3" cy="966.0" r="0.96"/><circle cx="489.1" cy="965.1" r="1.12"/><circle cx="493.4" cy="963.0" r="1.22"/><circle cx="501.8" cy="964.6" r="1.05"/><circle cx="508.0" cy="966.3" r="0.95"/><circle cx="513.4" cy="962.3" r="0.71"/><circle cx="518.9" cy="963.7" r="0.92"/><circle cx="524.7" cy="966.2" r="1.04"/><circle cx="532.7" cy="963.2" r="0.85"/><circle cx="534.6" cy="964.9" r="1.05"/><circle cx="540.9" cy="965.6" r="1.03"/><circle cx="547.4" cy="963.4" r="1.17"/><circle cx="554.7" cy="963.8" r="1.11"/><circle cx="455.8" cy="970.6" r="1.14"/><circle cx="461.4" cy="971.3" r="1.19"/><circle cx="468.1" cy="970.6" r="0.94"/><circle cx="475.1" cy="971.2" r="0.78"/><circle cx="480.4" cy="969.9" r="0.89"/><circle cx="487.1" cy="969.6" r="1.11"/><circle cx="489.8" cy="970.5" r="1.00"/><circle cx="497.2" cy="969.8" r="0.94"/><circle cx="502.6" cy="968.8" r="1.08"/><circle cx="508.2" cy="968.3" r="1.10"/><circle cx="514.5" cy="968.4" r="1.19"/><circle cx="520.5" cy="969.7" r="1.22"/><circle cx="527.1" cy="968.8" r="1.15"/><circle cx="534.0" cy="968.8" r="0.90"/><circle cx="538.5" cy="967.6" r="1.00"/><circle cx="545.9" cy="969.7" r="0.93"/><circle cx="552.6" cy="968.9" r="1.19"/><circle cx="454.1" cy="974.0" r="0.90"/><circle cx="457.3" cy="974.5" r="0.78"/><circle cx="465.1" cy="975.5" r="0.73"/><circle cx="471.1" cy="974.5" r="0.71"/><circle cx="474.6" cy="975.2" r="0.74"/><circle cx="483.4" cy="974.1" r="1.17"/><circle cx="487.7" cy="975.6" r="0.91"/><circle cx="493.9" cy="975.7" r="1.16"/><circle cx="499.8" cy="976.9" r="1.24"/><circle cx="506.7" cy="975.2" r="0.99"/><circle cx="513.2" cy="974.0" r="1.01"/><circle cx="517.9" cy="975.2" r="1.03"/><circle cx="525.1" cy="975.7" r="1.25"/><circle cx="531.6" cy="974.6" r="0.83"/><circle cx="536.8" cy="974.0" r="0.93"/><circle cx="543.0" cy="973.7" r="1.16"/><circle cx="549.9" cy="973.7" r="0.96"/><circle cx="556.7" cy="976.9" r="0.73"/><circle cx="455.8" cy="980.6" r="0.80"/><circle cx="463.3" cy="979.0" r="0.88"/><circle cx="468.0" cy="980.3" r="0.93"/><circle cx="472.7" cy="978.8" r="1.07"/><circle cx="477.6" cy="979.8" r="1.12"/><circle cx="486.3" cy="981.9" r="1.08"/><circle cx="490.8" cy="980.8" r="0.83"/><circle cx="496.2" cy="978.8" r="1.20"/><circle cx="503.6" cy="982.0" r="1.01"/><circle cx="511.1" cy="978.6" r="0.72"/><circle cx="514.3" cy="980.2" r="1.13"/><circle cx="523.5" cy="981.5" r="1.09"/><circle cx="528.7" cy="979.4" r="1.08"/><circle cx="531.7" cy="982.1" r="1.05"/><circle cx="537.6" cy="980.5" r="0.73"/><circle cx="545.3" cy="980.6" r="0.72"/><circle cx="552.5" cy="980.1" r="1.25"/><circle cx="452.0" cy="985.3" r="0.89"/><circle cx="458.0" cy="983.6" r="1.23"/><circle cx="464.4" cy="987.0" r="1.06"/><circle cx="468.9" cy="984.0" r="1.20"/><circle cx="476.7" cy="986.4" r="1.13"/><circle cx="481.9" cy="985.5" r="1.17"/><circle cx="488.0" cy="984.0" r="0.91"/><circle cx="496.4" cy="983.9" r="0.74"/><circle cx="502.6" cy="985.6" r="1.04"/><circle cx="505.1" cy="983.7" r="0.90"/><circle cx="512.9" cy="984.7" r="1.16"/><circle cx="517.1" cy="983.6" r="0.84"/><circle cx="523.9" cy="986.6" r="1.14"/><circle cx="530.4" cy="984.7" r="0.77"/><circle cx="538.6" cy="984.7" r="1.04"/><circle cx="542.2" cy="983.2" r="0.80"/><circle cx="548.2" cy="985.2" r="0.82"/><circle cx="553.2" cy="987.1" r="0.85"/><circle cx="455.0" cy="989.3" r="0.76"/><circle cx="460.3" cy="991.5" r="0.80"/><circle cx="467.8" cy="992.5" r="0.83"/><circle cx="471.9" cy="990.7" r="0.80"/><circle cx="478.4" cy="990.3" r="1.11"/><circle cx="486.2" cy="990.7" r="1.16"/><circle cx="493.4" cy="989.1" r="0.81"/><circle cx="497.9" cy="990.5" r="0.87"/><circle cx="502.0" cy="992.0" r="0.95"/><circle cx="509.6" cy="990.5" r="0.72"/><circle cx="516.6" cy="988.5" r="1.23"/><circle cx="522.5" cy="990.3" r="1.00"/><circle cx="528.8" cy="989.3" r="0.73"/><circle cx="533.6" cy="992.5" r="1.16"/><circle cx="539.0" cy="989.4" r="1.20"/><circle cx="543.7" cy="992.3" r="0.78"/><circle cx="550.4" cy="989.5" r="0.91"/><circle cx="450.9" cy="993.8" r="1.12"/><circle cx="459.8" cy="996.6" r="1.15"/><circle cx="462.7" cy="995.4" r="0.89"/><circle cx="469.1" cy="994.5" r="1.21"/><circle cx="476.7" cy="995.7" r="1.11"/><circle cx="484.4" cy="996.5" r="0.70"/><circle cx="488.7" cy="995.9" r="0.90"/><circle cx="493.9" cy="993.7" r="0.79"/><circle cx="502.2" cy="995.3" r="1.07"/><circle cx="504.6" cy="993.7" r="1.00"/><circle cx="513.1" cy="994.7" r="0.95"/><circle cx="517.1" cy="994.3" r="1.12"/><circle cx="526.6" cy="996.6" r="1.20"/><circle cx="530.5" cy="997.8" r="1.14"/><circle cx="535.5" cy="997.3" r="0.81"/><circle cx="541.9" cy="997.8" r="0.76"/><circle cx="548.4" cy="997.4" r="1.15"/><circle cx="555.2" cy="997.8" r="0.83"/><circle cx="455.5" cy="1001.5" r="0.90"/><circle cx="463.6" cy="1000.4" r="0.79"/><circle cx="466.5" cy="1000.5" r="1.09"/><circle cx="473.9" cy="999.4" r="0.86"/><circle cx="478.9" cy="1001.2" r="0.83"/><circle cx="483.7" cy="999.1" r="1.04"/><circle cx="490.9" cy="999.8" r="1.05"/><circle cx="499.1" cy="1001.9" r="0.76"/><circle cx="503.0" cy="1002.4" r="1.23"/><circle cx="509.9" cy="1001.4" r="0.89"/><circle cx="517.1" cy="1002.9" r="0.96"/><circle cx="522.1" cy="1002.5" r="0.72"/><circle cx="527.7" cy="1001.3" r="0.89"/><circle cx="534.6" cy="1000.6" r="1.21"/><circle cx="537.9" cy="999.6" r="1.01"/><circle cx="543.7" cy="1003.0" r="0.75"/><circle cx="551.2" cy="999.2" r="1.03"/><circle cx="453.8" cy="1005.9" r="0.72"/><circle cx="459.7" cy="1005.5" r="1.06"/><circle cx="466.7" cy="1007.0" r="1.04"/><circle cx="471.0" cy="1005.4" r="0.96"/><circle cx="474.8" cy="1005.6" r="1.25"/><circle cx="483.7" cy="1008.0" r="1.12"/><circle cx="490.1" cy="1006.2" r="0.75"/><circle cx="492.9" cy="1007.5" r="1.20"/><circle cx="501.0" cy="1007.1" r="0.74"/><circle cx="506.3" cy="1005.4" r="0.85"/><circle cx="512.8" cy="1005.9" r="1.05"/><circle cx="517.1" cy="1007.7" r="1.12"/><circle cx="525.8" cy="1006.1" r="0.78"/><circle cx="530.2" cy="1007.7" r="0.87"/><circle cx="538.1" cy="1007.6" r="0.93"/><circle cx="540.7" cy="1004.5" r="0.95"/><circle cx="547.6" cy="1006.4" r="1.17"/><circle cx="556.3" cy="1007.7" r="1.24"/></g>
<text x="454.4" y="918.7" fill="#f2f2f2" style="font-size:9px;font-family:'Liberation Serif', 'Times New Roman', serif;font-weight:bold">a</text>
<text x="553.3" y="1005.1" text-anchor="end" fill="#f2f2f2" style="font-size:10px;font-family:'Liberation Serif', 'Times New Roman', serif;font-weight:bold;font-style:italic">wt</text>
<rect x="558.2" y="909.2" width="104.9" height="100.1" fill="#100202" />
<g clip-path="url(#cld)"><polygon points="558.2,929.2 584.4,921.2 610.7,919.2 631.6,921.2 642.1,929.2 663.1,924.2 663.1,989.3 642.1,991.3 615.9,983.3 589.7,977.3 570.8,987.3 558.2,994.3" fill="#741012" filter="url(#jblur)"/><rect x="558.2" y="909.2" width="104.9" height="100.1" filter="url(#jnoise)" opacity="0.40"/></g>
<g clip-path="url(#cld)" fill="#b02224" fill-opacity="0.50"><circle cx="558.2" cy="911.2" r="1.01"/><circle cx="564.1" cy="912.0" r="0.84"/><circle cx="568.5" cy="911.4" r="0.67"/><circle cx="571.7" cy="910.0" r="1.09"/><circle cx="577.4" cy="910.8" r="0.78"/><circle cx="581.0" cy="910.4" r="0.72"/><circle cx="583.5" cy="910.9" r="0.94"/><circle cx="590.0" cy="910.4" r="1.10"/><circle cx="593.0" cy="912.5" r="1.03"/><circle cx="596.1" cy="911.7" r="0.69"/><circle cx="599.8" cy="911.0" r="1.01"/><circle cx="605.6" cy="910.4" r="1.05"/><circle cx="610.9" cy="910.5" r="0.85"/><circle cx="614.3" cy="912.5" r="0.69"/><circle cx="618.2" cy="912.7" r="0.93"/><circle cx="622.9" cy="912.1" r="0.88"/><circle cx="625.8" cy="911.6" r="0.89"/><circle cx="630.2" cy="912.3" r="0.81"/><circle cx="634.8" cy="912.1" r="1.03"/><circle cx="640.2" cy="911.7" r="0.76"/><circle cx="644.3" cy="912.5" r="0.98"/><circle cx="648.2" cy="911.3" r="0.87"/><circle cx="651.9" cy="910.3" r="0.96"/><circle cx="656.9" cy="910.3" r="1.00"/><circle cx="660.7" cy="910.2" r="0.66"/><circle cx="561.6" cy="914.1" r="0.78"/><circle cx="565.9" cy="915.4" r="1.00"/><circle cx="570.0" cy="914.5" r="0.64"/><circle cx="572.8" cy="914.1" r="0.89"/><circle cx="578.8" cy="914.1" r="0.82"/><circle cx="583.6" cy="914.7" r="0.98"/><circle cx="586.9" cy="915.4" r="0.87"/><circle cx="590.9" cy="915.5" r="0.71"/><circle cx="595.8" cy="916.1" r="0.65"/><circle cx="598.3" cy="914.2" r="0.68"/><circle cx="602.3" cy="915.4" r="0.69"/><circle cx="606.3" cy="916.3" r="0.83"/><circle cx="611.9" cy="914.9" r="0.80"/><circle cx="615.8" cy="914.1" r="0.92"/><circle cx="619.4" cy="913.9" r="0.73"/><circle cx="624.1" cy="916.2" r="0.93"/><circle cx="630.0" cy="914.7" r="0.76"/><circle cx="633.4" cy="914.0" r="1.12"/><circle cx="636.6" cy="914.3" r="0.76"/><circle cx="640.6" cy="916.2" r="1.12"/><circle cx="645.5" cy="914.2" r="0.63"/><circle cx="648.3" cy="914.4" r="0.95"/><circle cx="654.1" cy="916.0" r="1.04"/><circle cx="657.5" cy="915.5" r="0.85"/><circle cx="662.8" cy="914.0" r="1.11"/><circle cx="557.8" cy="919.0" r="0.80"/><circle cx="564.3" cy="917.6" r="1.07"/><circle cx="566.2" cy="919.3" r="0.98"/><circle cx="571.9" cy="917.7" r="0.82"/><circle cx="575.9" cy="917.8" r="0.71"/><circle cx="581.3" cy="918.8" r="0.76"/><circle cx="584.8" cy="919.0" r="0.70"/><circle cx="588.9" cy="918.9" r="0.68"/><circle cx="592.3" cy="919.7" r="0.92"/><circle cx="596.2" cy="918.3" r="0.86"/><circle cx="601.9" cy="919.7" r="0.67"/><circle cx="604.1" cy="918.4" r="0.64"/><circle cx="608.6" cy="917.5" r="0.67"/><circle cx="614.2" cy="917.4" r="0.91"/><circle cx="619.4" cy="917.6" r="1.01"/><circle cx="622.5" cy="917.6" r="1.10"/><circle cx="627.1" cy="918.3" r="1.07"/><circle cx="629.5" cy="919.6" r="1.05"/><circle cx="633.7" cy="919.8" r="1.02"/><circle cx="640.3" cy="918.0" r="1.00"/><circle cx="644.1" cy="918.2" r="0.65"/><circle cx="646.0" cy="918.6" r="0.90"/><circle cx="650.5" cy="919.0" r="0.66"/><circle cx="655.8" cy="918.6" r="0.73"/><circle cx="658.7" cy="919.8" r="1.05"/><circle cx="561.6" cy="920.9" r="0.89"/><circle cx="566.9" cy="923.0" r="0.97"/><circle cx="568.4" cy="922.5" r="0.75"/><circle cx="575.4" cy="920.8" r="0.74"/><circle cx="579.3" cy="921.1" r="0.78"/><circle cx="581.8" cy="923.4" r="0.97"/><circle cx="587.8" cy="921.4" r="0.67"/><circle cx="590.3" cy="923.0" r="0.94"/><circle cx="596.2" cy="922.9" r="0.67"/><circle cx="598.6" cy="921.4" r="0.76"/><circle cx="603.8" cy="922.1" r="1.00"/><circle cx="606.1" cy="923.5" r="0.71"/><circle cx="612.5" cy="923.3" r="0.65"/><circle cx="616.1" cy="923.7" r="0.63"/><circle cx="620.1" cy="922.0" r="0.82"/><circle cx="623.5" cy="921.3" r="0.76"/><circle cx="627.7" cy="921.7" r="1.08"/><circle cx="634.1" cy="921.6" r="0.64"/><circle cx="636.3" cy="923.3" r="0.72"/><circle cx="641.6" cy="921.1" r="0.80"/><circle cx="644.4" cy="922.6" r="0.81"/><circle cx="650.4" cy="922.3" r="0.83"/><circle cx="652.3" cy="923.3" r="0.65"/><circle cx="657.9" cy="923.7" r="1.02"/><circle cx="661.7" cy="923.5" r="0.76"/><circle cx="559.5" cy="926.1" r="0.99"/><circle cx="562.8" cy="925.6" r="0.79"/><circle cx="568.9" cy="926.6" r="0.80"/><circle cx="572.7" cy="926.3" r="0.75"/><circle cx="576.0" cy="924.7" r="0.73"/><circle cx="579.0" cy="924.7" r="0.93"/><circle cx="585.4" cy="926.9" r="0.74"/><circle cx="590.0" cy="925.4" r="0.97"/><circle cx="593.1" cy="925.8" r="0.97"/><circle cx="598.2" cy="926.5" r="0.88"/><circle cx="602.3" cy="926.6" r="0.82"/><circle cx="606.9" cy="925.6" r="0.65"/><circle cx="611.0" cy="927.2" r="0.89"/><circle cx="614.6" cy="926.5" r="0.68"/><circle cx="618.9" cy="926.3" r="1.11"/><circle cx="622.2" cy="925.3" r="1.01"/><circle cx="626.6" cy="927.0" r="0.65"/><circle cx="631.2" cy="927.1" r="0.72"/><circle cx="633.6" cy="925.9" r="0.95"/><circle cx="639.4" cy="926.0" r="0.80"/><circle cx="643.9" cy="927.4" r="0.88"/><circle cx="647.1" cy="927.3" r="0.72"/><circle cx="651.8" cy="926.9" r="1.02"/><circle cx="656.6" cy="926.4" r="0.85"/><circle cx="661.4" cy="924.5" r="0.84"/><circle cx="561.2" cy="930.2" r="0.77"/><circle cx="564.7" cy="929.4" r="0.94"/><circle cx="569.8" cy="930.7" r="0.86"/><circle cx="573.1" cy="930.0" r="0.82"/><circle cx="576.8" cy="929.3" r="0.68"/><circle cx="582.8" cy="930.8" r="0.99"/><circle cx="587.9" cy="928.5" r="1.04"/><circle cx="591.5" cy="928.8" r="0.86"/><circle cx="594.0" cy="929.0" r="0.89"/><circle cx="598.8" cy="929.2" r="0.98"/><circle cx="603.9" cy="928.4" r="0.91"/><circle cx="608.4" cy="928.2" r="1.00"/><circle cx="610.3" cy="929.4" r="0.82"/><circle cx="614.5" cy="928.3" r="0.96"/><circle cx="619.5" cy="929.6" r="0.71"/><circle cx="624.7" cy="930.8" r="1.00"/><circle cx="628.2" cy="930.9" r="0.80"/><circle cx="632.1" cy="929.3" r="1.12"/><circle cx="636.6" cy="929.0" r="0.90"/><circle cx="641.6" cy="930.3" r="0.98"/><circle cx="645.9" cy="929.3" r="0.85"/><circle cx="651.0" cy="929.6" r="1.01"/><circle cx="653.3" cy="928.1" r="0.82"/><circle cx="658.0" cy="929.3" r="0.73"/><circle cx="661.2" cy="928.2" r="0.98"/><circle cx="559.3" cy="934.2" r="1.06"/><circle cx="564.2" cy="934.1" r="1.08"/><circle cx="568.9" cy="934.2" r="1.07"/><circle cx="571.4" cy="934.7" r="1.07"/><circle cx="577.0" cy="934.3" r="1.00"/><circle cx="580.5" cy="933.3" r="1.09"/><circle cx="583.8" cy="933.6" r="1.09"/><circle cx="588.0" cy="932.2" r="0.78"/><circle cx="592.7" cy="933.2" r="0.75"/><circle cx="596.3" cy="932.2" r="0.86"/><circle cx="600.2" cy="932.8" r="0.72"/><circle cx="605.8" cy="933.6" r="0.74"/><circle cx="611.1" cy="932.6" r="1.08"/><circle cx="613.3" cy="933.4" r="0.92"/><circle cx="618.3" cy="932.7" r="1.02"/><circle cx="622.6" cy="933.4" r="0.87"/><circle cx="625.8" cy="933.0" r="0.99"/><circle cx="631.3" cy="934.7" r="0.99"/><circle cx="636.3" cy="932.7" r="0.77"/><circle cx="640.5" cy="933.0" r="0.92"/><circle cx="644.3" cy="932.1" r="0.69"/><circle cx="647.4" cy="932.3" r="0.66"/><circle cx="652.3" cy="933.4" r="0.86"/><circle cx="656.3" cy="932.7" r="0.83"/><circle cx="659.6" cy="933.6" r="0.86"/><circle cx="561.6" cy="937.0" r="0.91"/><circle cx="564.2" cy="937.7" r="1.08"/><circle cx="568.5" cy="937.6" r="0.91"/><circle cx="574.7" cy="935.5" r="0.65"/><circle cx="578.3" cy="937.0" r="0.68"/><circle cx="583.2" cy="935.7" r="1.07"/><circle cx="587.4" cy="937.5" r="1.05"/><circle cx="590.1" cy="937.2" r="0.64"/><circle cx="595.7" cy="935.9" r="0.65"/><circle cx="599.9" cy="935.6" r="0.95"/><circle cx="604.7" cy="937.0" r="0.90"/><circle cx="608.3" cy="937.6" r="0.88"/><circle cx="610.4" cy="938.3" r="0.99"/><circle cx="615.9" cy="937.4" r="0.75"/><circle cx="619.4" cy="935.5" r="0.83"/><circle cx="624.5" cy="935.7" r="0.72"/><circle cx="628.2" cy="935.4" r="1.03"/><circle cx="631.8" cy="938.1" r="0.91"/><circle cx="636.4" cy="935.6" r="0.94"/><circle cx="639.9" cy="936.4" r="1.12"/><circle cx="646.3" cy="937.5" r="0.92"/><circle cx="649.9" cy="937.6" r="1.06"/><circle cx="652.6" cy="938.0" r="1.11"/><circle cx="658.2" cy="936.4" r="0.66"/><circle cx="661.7" cy="935.5" r="0.97"/><circle cx="559.5" cy="941.2" r="1.06"/><circle cx="562.9" cy="941.3" r="1.00"/><circle cx="567.8" cy="939.2" r="1.06"/><circle cx="572.0" cy="940.4" r="1.05"/><circle cx="574.9" cy="939.2" r="0.96"/><circle cx="580.9" cy="940.6" r="0.91"/><circle cx="585.2" cy="941.5" r="0.95"/><circle cx="589.3" cy="940.6" r="0.71"/><circle cx="593.7" cy="939.2" r="0.71"/><circle cx="597.3" cy="940.1" r="1.07"/><circle cx="600.7" cy="940.5" r="0.72"/><circle cx="606.5" cy="940.1" r="0.98"/><circle cx="610.3" cy="940.4" r="0.69"/><circle cx="615.2" cy="939.2" r="1.04"/><circle cx="617.0" cy="940.3" r="0.85"/><circle cx="622.0" cy="940.8" r="0.96"/><circle cx="627.0" cy="939.3" r="0.81"/><circle cx="629.7" cy="941.9" r="0.90"/><circle cx="636.3" cy="939.7" r="0.97"/><circle cx="639.1" cy="940.0" r="0.72"/><circle cx="643.6" cy="941.7" r="0.87"/><circle cx="647.5" cy="941.8" r="0.76"/><circle cx="651.2" cy="941.7" r="0.67"/><circle cx="654.5" cy="941.0" r="0.87"/><circle cx="661.2" cy="940.7" r="0.77"/><circle cx="561.8" cy="944.0" r="0.94"/><circle cx="564.7" cy="942.9" r="1.08"/><circle cx="570.8" cy="943.2" r="0.68"/><circle cx="574.9" cy="944.8" r="0.85"/><circle cx="579.2" cy="945.1" r="1.04"/><circle cx="583.6" cy="945.1" r="0.63"/><circle cx="587.0" cy="943.0" r="1.07"/><circle cx="591.7" cy="944.5" r="0.85"/><circle cx="595.5" cy="943.6" r="0.97"/><circle cx="600.5" cy="942.8" r="0.82"/><circle cx="604.2" cy="943.2" r="0.80"/><circle cx="608.5" cy="944.4" r="0.76"/><circle cx="611.5" cy="943.8" r="0.88"/><circle cx="617.4" cy="943.4" r="0.79"/><circle cx="621.3" cy="944.1" r="0.95"/><circle cx="625.4" cy="943.0" r="0.72"/><circle cx="627.5" cy="943.2" r="0.66"/><circle cx="632.0" cy="945.4" r="1.08"/><circle cx="637.5" cy="944.2" r="1.00"/><circle cx="642.5" cy="943.5" r="0.99"/><circle cx="644.3" cy="943.8" r="0.89"/><circle cx="649.9" cy="943.3" r="0.83"/><circle cx="652.8" cy="943.8" r="1.03"/><circle cx="657.2" cy="943.7" r="0.93"/><circle cx="661.2" cy="945.3" r="0.79"/><circle cx="558.7" cy="947.3" r="0.85"/><circle cx="563.3" cy="947.6" r="0.84"/><circle cx="566.8" cy="946.6" r="1.06"/><circle cx="572.8" cy="948.6" r="0.87"/><circle cx="577.4" cy="946.8" r="0.66"/><circle cx="581.5" cy="948.0" r="0.90"/><circle cx="584.5" cy="948.5" r="0.96"/><circle cx="589.4" cy="947.9" r="1.02"/><circle cx="593.3" cy="948.8" r="1.01"/><circle cx="596.0" cy="947.7" r="0.96"/><circle cx="601.9" cy="947.7" r="0.92"/><circle cx="606.6" cy="947.0" r="0.76"/><circle cx="609.1" cy="946.8" r="0.93"/><circle cx="614.1" cy="949.3" r="0.89"/><circle cx="617.3" cy="946.7" r="0.93"/><circle cx="621.2" cy="946.8" r="0.86"/><circle cx="627.4" cy="947.2" r="0.76"/><circle cx="629.3" cy="949.2" r="1.03"/><circle cx="634.9" cy="946.6" r="1.10"/><circle cx="639.4" cy="948.5" r="0.96"/><circle cx="643.4" cy="947.6" r="1.01"/><circle cx="646.2" cy="947.2" r="0.91"/><circle cx="651.5" cy="947.8" r="0.91"/><circle cx="654.7" cy="946.9" r="0.63"/><circle cx="660.5" cy="948.3" r="0.64"/><circle cx="560.4" cy="951.0" r="1.02"/><circle cx="566.3" cy="950.6" r="0.86"/><circle cx="570.0" cy="952.4" r="0.72"/><circle cx="573.1" cy="952.3" r="0.97"/><circle cx="577.6" cy="950.7" r="0.85"/><circle cx="581.0" cy="951.9" r="1.02"/><circle cx="585.7" cy="952.6" r="1.05"/><circle cx="589.4" cy="952.3" r="1.02"/><circle cx="595.2" cy="950.7" r="0.87"/><circle cx="600.5" cy="951.8" r="1.11"/><circle cx="604.3" cy="951.8" r="1.04"/><circle cx="607.5" cy="950.4" r="0.90"/><circle cx="610.9" cy="950.9" r="0.67"/><circle cx="616.0" cy="952.3" r="1.12"/><circle cx="620.9" cy="952.1" r="1.01"/><circle cx="623.6" cy="951.8" r="1.08"/><circle cx="629.0" cy="951.2" r="0.99"/><circle cx="633.9" cy="951.3" r="0.74"/><circle cx="636.5" cy="952.2" r="0.73"/><circle cx="640.3" cy="952.9" r="0.65"/><circle cx="644.2" cy="952.4" r="0.96"/><circle cx="650.7" cy="952.8" r="0.72"/><circle cx="654.4" cy="950.8" r="0.96"/><circle cx="656.6" cy="952.3" r="0.73"/><circle cx="662.6" cy="951.4" r="0.96"/><circle cx="559.0" cy="953.7" r="0.78"/><circle cx="562.7" cy="956.6" r="0.65"/><circle cx="568.4" cy="954.1" r="0.79"/><circle cx="572.5" cy="955.3" r="0.65"/><circle cx="575.4" cy="954.6" r="0.95"/><circle cx="580.3" cy="955.0" r="0.64"/><circle cx="584.3" cy="955.0" r="0.70"/><circle cx="588.8" cy="954.1" r="0.82"/><circle cx="591.8" cy="954.7" r="0.67"/><circle cx="597.2" cy="955.4" r="1.10"/><circle cx="600.7" cy="954.0" r="0.83"/><circle cx="606.1" cy="954.4" r="1.10"/><circle cx="608.9" cy="955.6" r="0.68"/><circle cx="614.1" cy="955.9" r="0.88"/><circle cx="617.4" cy="955.3" r="1.12"/><circle cx="621.6" cy="955.9" r="0.90"/><circle cx="627.9" cy="954.5" r="1.05"/><circle cx="629.3" cy="956.4" r="0.65"/><circle cx="634.3" cy="954.3" r="0.77"/><circle cx="640.2" cy="954.3" r="0.92"/><circle cx="643.5" cy="953.9" r="1.01"/><circle cx="648.8" cy="955.2" r="0.73"/><circle cx="651.1" cy="955.4" r="1.11"/><circle cx="656.6" cy="954.5" r="0.70"/><circle cx="660.7" cy="955.1" r="0.79"/><circle cx="562.3" cy="958.2" r="1.01"/><circle cx="566.3" cy="959.6" r="0.75"/><circle cx="569.7" cy="960.0" r="0.77"/><circle cx="572.7" cy="957.5" r="0.94"/><circle cx="578.1" cy="959.4" r="1.09"/><circle cx="582.6" cy="958.6" r="1.07"/><circle cx="587.1" cy="957.5" r="0.76"/><circle cx="591.1" cy="958.0" r="1.12"/><circle cx="593.6" cy="960.0" r="1.09"/><circle cx="598.8" cy="958.4" r="0.92"/><circle cx="602.6" cy="960.3" r="0.95"/><circle cx="607.6" cy="958.1" r="0.92"/><circle cx="612.1" cy="959.5" r="0.99"/><circle cx="616.6" cy="957.6" r="0.87"/><circle cx="619.8" cy="959.7" r="0.74"/><circle cx="623.8" cy="958.2" r="0.79"/><circle cx="629.8" cy="959.9" r="1.11"/><circle cx="632.3" cy="958.6" r="0.66"/><circle cx="637.3" cy="958.7" r="0.81"/><circle cx="642.3" cy="960.3" r="0.97"/><circle cx="646.1" cy="959.4" r="1.03"/><circle cx="649.8" cy="960.1" r="0.72"/><circle cx="654.2" cy="958.7" r="0.79"/><circle cx="658.5" cy="957.5" r="1.08"/><circle cx="663.0" cy="957.8" r="1.07"/><circle cx="558.8" cy="963.1" r="0.65"/><circle cx="564.4" cy="963.2" r="0.83"/><circle cx="567.3" cy="962.5" r="0.69"/><circle cx="573.3" cy="962.5" r="0.94"/><circle cx="576.2" cy="961.5" r="0.98"/><circle cx="581.6" cy="963.9" r="0.85"/><circle cx="584.3" cy="963.9" r="1.02"/><circle cx="589.2" cy="963.0" r="1.06"/><circle cx="592.3" cy="962.0" r="0.80"/><circle cx="596.1" cy="962.7" r="0.63"/><circle cx="601.6" cy="961.8" r="0.83"/><circle cx="604.4" cy="963.4" r="0.73"/><circle cx="608.3" cy="963.4" r="0.65"/><circle cx="613.3" cy="963.9" r="0.71"/><circle cx="618.2" cy="963.1" r="0.91"/><circle cx="622.3" cy="963.2" r="0.65"/><circle cx="625.9" cy="961.5" r="1.12"/><circle cx="631.8" cy="961.6" r="0.90"/><circle cx="635.5" cy="962.6" r="1.00"/><circle cx="639.8" cy="961.2" r="0.69"/><circle cx="642.4" cy="961.6" r="0.69"/><circle cx="646.8" cy="962.3" r="0.85"/><circle cx="650.7" cy="962.6" r="0.94"/><circle cx="655.2" cy="963.9" r="0.96"/><circle cx="661.4" cy="962.4" r="1.00"/><circle cx="561.8" cy="967.3" r="0.78"/><circle cx="565.3" cy="967.3" r="0.75"/><circle cx="569.5" cy="965.4" r="0.65"/><circle cx="575.3" cy="964.7" r="0.90"/><circle cx="578.3" cy="967.2" r="1.12"/><circle cx="583.0" cy="966.1" r="1.08"/><circle cx="585.7" cy="966.5" r="0.78"/><circle cx="592.0" cy="964.8" r="0.93"/><circle cx="594.3" cy="967.4" r="0.72"/><circle cx="599.8" cy="964.7" r="0.75"/><circle cx="603.0" cy="966.5" r="1.02"/><circle cx="607.4" cy="965.0" r="0.79"/><circle cx="610.6" cy="967.1" r="0.84"/><circle cx="615.8" cy="966.8" r="0.94"/><circle cx="620.2" cy="965.8" r="0.92"/><circle cx="623.0" cy="966.8" r="0.77"/><circle cx="628.0" cy="964.8" r="1.11"/><circle cx="632.6" cy="964.7" r="1.12"/><circle cx="637.8" cy="967.0" r="0.69"/><circle cx="640.3" cy="966.8" r="0.91"/><circle cx="646.0" cy="966.7" r="0.96"/><circle cx="650.7" cy="967.2" r="0.95"/><circle cx="652.7" cy="966.2" r="0.88"/><circle cx="657.8" cy="967.4" r="0.89"/><circle cx="663.2" cy="967.3" r="1.02"/><circle cx="558.0" cy="970.1" r="0.81"/><circle cx="564.1" cy="968.6" r="0.63"/><circle cx="568.2" cy="970.2" r="0.95"/><circle cx="570.7" cy="970.2" r="1.07"/><circle cx="577.1" cy="969.9" r="0.80"/><circle cx="581.4" cy="971.1" r="1.02"/><circle cx="584.3" cy="968.6" r="0.84"/><circle cx="589.4" cy="968.9" r="0.81"/><circle cx="592.4" cy="970.6" r="0.79"/><circle cx="597.2" cy="969.1" r="1.10"/><circle cx="600.4" cy="970.8" r="0.82"/><circle cx="606.1" cy="971.1" r="0.68"/><circle cx="608.8" cy="968.9" r="0.73"/><circle cx="614.6" cy="969.1" r="0.90"/><circle cx="617.0" cy="969.8" r="0.78"/><circle cx="622.9" cy="969.4" r="0.68"/><circle cx="626.4" cy="969.0" r="0.64"/><circle cx="630.5" cy="970.1" r="1.01"/><circle cx="635.5" cy="968.4" r="0.83"/><circle cx="638.6" cy="970.8" r="0.95"/><circle cx="642.5" cy="970.0" r="1.03"/><circle cx="648.0" cy="970.2" r="0.91"/><circle cx="653.1" cy="970.9" r="0.84"/><circle cx="657.2" cy="970.8" r="0.83"/><circle cx="659.9" cy="968.4" r="1.04"/><circle cx="560.2" cy="972.9" r="1.07"/><circle cx="566.8" cy="972.5" r="0.90"/><circle cx="569.3" cy="974.1" r="0.87"/><circle cx="574.4" cy="974.0" r="1.12"/><circle cx="577.7" cy="972.0" r="0.77"/><circle cx="580.9" cy="972.1" r="0.65"/><circle cx="585.8" cy="973.7" r="0.69"/><circle cx="590.5" cy="974.3" r="0.90"/><circle cx="594.6" cy="974.1" r="1.07"/><circle cx="600.4" cy="973.2" r="1.00"/><circle cx="604.0" cy="972.9" r="0.73"/><circle cx="608.1" cy="972.1" r="0.65"/><circle cx="613.2" cy="973.5" r="0.82"/><circle cx="615.9" cy="972.5" r="0.71"/><circle cx="619.9" cy="974.1" r="1.06"/><circle cx="623.0" cy="973.0" r="1.01"/><circle cx="628.6" cy="974.6" r="0.83"/><circle cx="633.3" cy="974.5" r="0.88"/><circle cx="635.8" cy="972.1" r="0.69"/><circle cx="641.4" cy="974.7" r="0.72"/><circle cx="645.1" cy="972.1" r="0.77"/><circle cx="648.8" cy="972.0" r="0.97"/><circle cx="654.6" cy="972.9" r="1.08"/><circle cx="659.2" cy="974.5" r="0.94"/><circle cx="661.6" cy="974.3" r="0.80"/><circle cx="560.7" cy="978.3" r="0.77"/><circle cx="564.6" cy="975.9" r="0.78"/><circle cx="567.3" cy="978.2" r="0.99"/><circle cx="572.3" cy="977.8" r="0.87"/><circle cx="575.4" cy="976.0" r="1.01"/><circle cx="579.9" cy="976.8" r="0.73"/><circle cx="585.9" cy="976.2" r="0.64"/><circle cx="588.2" cy="976.3" r="0.77"/><circle cx="591.6" cy="978.1" r="0.85"/><circle cx="597.8" cy="977.5" r="0.66"/><circle cx="602.2" cy="976.5" r="1.02"/><circle cx="605.1" cy="976.5" r="0.66"/><circle cx="608.5" cy="976.0" r="0.89"/><circle cx="614.9" cy="975.8" r="1.06"/><circle cx="617.6" cy="978.2" r="0.79"/><circle cx="621.3" cy="976.2" r="1.07"/><circle cx="627.4" cy="975.8" r="0.87"/><circle cx="631.1" cy="977.1" r="0.91"/><circle cx="635.2" cy="976.0" r="0.68"/><circle cx="637.6" cy="975.7" r="0.80"/><circle cx="643.1" cy="976.1" r="0.95"/><circle cx="647.6" cy="977.2" r="1.00"/><circle cx="653.1" cy="976.0" r="1.10"/><circle cx="655.3" cy="977.5" r="0.83"/><circle cx="661.3" cy="978.3" r="0.71"/><circle cx="560.0" cy="980.8" r="0.82"/><circle cx="566.2" cy="981.3" r="1.04"/><circle cx="570.4" cy="981.2" r="0.65"/><circle cx="573.9" cy="981.4" r="0.95"/><circle cx="578.9" cy="981.0" r="1.10"/><circle cx="582.8" cy="982.1" r="1.06"/><circle cx="585.3" cy="982.0" r="0.70"/><circle cx="591.2" cy="981.9" r="0.76"/><circle cx="595.4" cy="980.9" r="1.04"/><circle cx="600.0" cy="979.9" r="0.70"/><circle cx="604.2" cy="979.6" r="1.07"/><circle cx="606.1" cy="980.8" r="1.02"/><circle cx="610.6" cy="980.6" r="0.89"/><circle cx="615.4" cy="981.0" r="0.72"/><circle cx="618.9" cy="979.8" r="1.00"/><circle cx="625.4" cy="980.0" r="0.66"/><circle cx="628.2" cy="981.1" r="1.12"/><circle cx="632.3" cy="980.6" r="1.02"/><circle cx="635.8" cy="981.9" r="1.09"/><circle cx="642.2" cy="980.4" r="1.01"/><circle cx="645.8" cy="981.6" r="0.78"/><circle cx="650.6" cy="981.4" r="0.85"/><circle cx="654.6" cy="980.3" r="1.06"/><circle cx="658.9" cy="981.1" r="0.92"/><circle cx="662.1" cy="981.2" r="0.89"/><circle cx="558.9" cy="983.6" r="0.90"/><circle cx="563.6" cy="984.3" r="0.63"/><circle cx="566.3" cy="985.6" r="1.09"/><circle cx="571.3" cy="985.4" r="0.98"/><circle cx="575.0" cy="984.1" r="0.67"/><circle cx="579.8" cy="984.7" r="0.99"/><circle cx="585.5" cy="984.7" r="1.10"/><circle cx="588.4" cy="984.6" r="1.05"/><circle cx="592.2" cy="985.8" r="0.68"/><circle cx="597.5" cy="984.4" r="1.02"/><circle cx="601.0" cy="983.8" r="0.88"/><circle cx="604.0" cy="985.5" r="1.03"/><circle cx="610.4" cy="984.3" r="0.71"/><circle cx="615.2" cy="983.1" r="1.04"/><circle cx="618.4" cy="983.9" r="1.08"/><circle cx="622.6" cy="983.0" r="1.09"/><circle cx="627.8" cy="984.9" r="0.75"/><circle cx="630.0" cy="983.9" r="0.73"/><circle cx="634.6" cy="983.2" r="0.94"/><circle cx="640.0" cy="983.8" r="0.74"/><circle cx="644.5" cy="983.3" r="0.84"/><circle cx="647.3" cy="983.1" r="0.98"/><circle cx="652.0" cy="985.2" r="0.77"/><circle cx="656.9" cy="984.9" r="1.00"/><circle cx="660.0" cy="984.8" r="0.87"/><circle cx="560.9" cy="989.5" r="0.76"/><circle cx="564.9" cy="987.0" r="0.65"/><circle cx="569.1" cy="989.4" r="0.74"/><circle cx="575.0" cy="988.4" r="0.81"/><circle cx="577.8" cy="988.3" r="0.82"/><circle cx="583.8" cy="988.4" r="0.65"/><circle cx="585.5" cy="989.1" r="0.65"/><circle cx="589.7" cy="987.8" r="1.09"/><circle cx="594.5" cy="987.7" r="1.02"/><circle cx="599.6" cy="988.8" r="0.79"/><circle cx="602.5" cy="989.0" r="0.75"/><circle cx="608.2" cy="989.0" r="0.79"/><circle cx="611.9" cy="987.3" r="0.93"/><circle cx="614.7" cy="987.6" r="0.92"/><circle cx="620.7" cy="988.3" r="0.92"/><circle cx="624.6" cy="986.7" r="1.03"/><circle cx="630.0" cy="988.7" r="1.07"/><circle cx="634.1" cy="987.2" r="0.77"/><circle cx="638.1" cy="986.6" r="0.82"/><circle cx="640.5" cy="987.9" r="0.80"/><circle cx="645.1" cy="989.0" r="0.97"/><circle cx="650.2" cy="989.2" r="0.92"/><circle cx="652.6" cy="988.2" r="0.97"/><circle cx="656.5" cy="987.4" r="1.06"/><circle cx="662.3" cy="987.2" r="0.79"/><circle cx="559.3" cy="992.8" r="0.66"/><circle cx="563.4" cy="990.8" r="0.70"/><circle cx="566.3" cy="991.7" r="0.82"/><circle cx="572.8" cy="990.5" r="0.70"/><circle cx="575.3" cy="991.6" r="0.83"/><circle cx="580.4" cy="992.5" r="1.05"/><circle cx="584.8" cy="992.3" r="1.03"/><circle cx="589.0" cy="993.0" r="0.94"/><circle cx="594.2" cy="991.6" r="0.75"/><circle cx="598.1" cy="991.4" r="0.82"/><circle cx="601.4" cy="992.1" r="0.87"/><circle cx="606.1" cy="991.5" r="1.04"/><circle cx="608.8" cy="990.8" r="1.09"/><circle cx="613.4" cy="991.0" r="0.85"/><circle cx="616.6" cy="990.7" r="0.76"/><circle cx="623.6" cy="991.7" r="0.89"/><circle cx="625.1" cy="991.6" r="0.92"/><circle cx="630.9" cy="990.5" r="1.06"/><circle cx="635.4" cy="992.6" r="0.75"/><circle cx="639.9" cy="990.6" r="0.71"/><circle cx="643.3" cy="990.2" r="1.01"/><circle cx="646.7" cy="992.3" r="0.96"/><circle cx="652.9" cy="991.0" r="1.12"/><circle cx="656.0" cy="990.3" r="1.10"/><circle cx="660.3" cy="992.9" r="0.92"/><circle cx="562.0" cy="995.3" r="1.08"/><circle cx="566.4" cy="995.5" r="0.94"/><circle cx="569.0" cy="994.5" r="1.09"/><circle cx="573.4" cy="994.5" r="0.77"/><circle cx="577.7" cy="996.2" r="0.93"/><circle cx="582.8" cy="996.6" r="0.91"/><circle cx="586.9" cy="995.4" r="0.85"/><circle cx="591.8" cy="995.3" r="1.00"/><circle cx="596.2" cy="996.0" r="0.94"/><circle cx="599.4" cy="994.3" r="0.79"/><circle cx="604.7" cy="996.4" r="0.95"/><circle cx="607.1" cy="995.9" r="0.69"/><circle cx="612.1" cy="996.7" r="1.11"/><circle cx="617.0" cy="994.5" r="0.87"/><circle cx="619.4" cy="996.6" r="1.01"/><circle cx="625.8" cy="994.9" r="0.85"/><circle cx="629.6" cy="995.5" r="0.75"/><circle cx="631.6" cy="994.0" r="0.64"/><circle cx="636.0" cy="994.9" r="0.93"/><circle cx="642.6" cy="994.0" r="0.65"/><circle cx="643.9" cy="996.1" r="0.96"/><circle cx="649.2" cy="995.4" r="1.06"/><circle cx="652.8" cy="996.5" r="0.73"/><circle cx="658.7" cy="996.5" r="0.66"/><circle cx="661.5" cy="994.8" r="1.09"/><circle cx="558.2" cy="1000.2" r="0.89"/><circle cx="562.3" cy="999.9" r="0.77"/><circle cx="566.3" cy="999.5" r="0.85"/><circle cx="573.1" cy="1000.3" r="1.07"/><circle cx="574.7" cy="998.7" r="1.08"/><circle cx="580.7" cy="999.0" r="0.90"/><circle cx="585.7" cy="1000.3" r="0.82"/><circle cx="590.1" cy="999.1" r="1.12"/><circle cx="593.0" cy="1000.3" r="1.00"/><circle cx="598.4" cy="999.1" r="0.86"/><circle cx="601.5" cy="998.1" r="1.12"/><circle cx="604.2" cy="998.9" r="0.68"/><circle cx="610.6" cy="998.7" r="0.86"/><circle cx="613.2" cy="999.9" r="1.07"/><circle cx="619.4" cy="999.8" r="0.73"/><circle cx="623.3" cy="998.4" r="0.69"/><circle cx="625.6" cy="997.8" r="0.78"/><circle cx="629.7" cy="998.3" r="0.87"/><circle cx="634.0" cy="997.8" r="1.00"/><circle cx="639.4" cy="997.8" r="1.03"/><circle cx="642.4" cy="1000.1" r="1.08"/><circle cx="647.8" cy="999.3" r="0.63"/><circle cx="650.9" cy="998.0" r="0.99"/><circle cx="655.7" cy="999.4" r="1.08"/><circle cx="658.6" cy="999.5" r="0.83"/><circle cx="562.0" cy="1003.8" r="1.00"/><circle cx="566.3" cy="1001.9" r="0.74"/><circle cx="569.7" cy="1003.4" r="0.79"/><circle cx="574.7" cy="1003.7" r="1.09"/><circle cx="579.3" cy="1001.2" r="0.97"/><circle cx="582.5" cy="1003.4" r="0.93"/><circle cx="585.7" cy="1004.0" r="0.81"/><circle cx="592.0" cy="1001.8" r="0.99"/><circle cx="595.7" cy="1001.2" r="0.93"/><circle cx="598.4" cy="1001.8" r="0.82"/><circle cx="603.4" cy="1003.1" r="0.84"/><circle cx="608.1" cy="1004.0" r="0.95"/><circle cx="611.9" cy="1002.1" r="1.08"/><circle cx="616.6" cy="1001.5" r="1.05"/><circle cx="620.8" cy="1003.3" r="1.06"/><circle cx="622.9" cy="1003.4" r="0.89"/><circle cx="628.0" cy="1001.2" r="0.71"/><circle cx="631.9" cy="1001.7" r="0.78"/><circle cx="637.4" cy="1004.0" r="0.70"/><circle cx="640.8" cy="1002.2" r="0.94"/><circle cx="644.9" cy="1002.2" r="0.83"/><circle cx="649.2" cy="1002.7" r="1.12"/><circle cx="653.6" cy="1003.0" r="0.91"/><circle cx="657.9" cy="1001.4" r="0.94"/><circle cx="661.4" cy="1002.1" r="0.72"/><circle cx="559.6" cy="1006.4" r="0.99"/><circle cx="564.8" cy="1006.8" r="0.97"/><circle cx="567.7" cy="1007.7" r="0.81"/><circle cx="571.3" cy="1007.2" r="1.11"/><circle cx="575.5" cy="1007.5" r="0.93"/><circle cx="579.9" cy="1006.4" r="1.12"/><circle cx="583.8" cy="1006.3" r="0.94"/><circle cx="589.8" cy="1005.9" r="0.93"/><circle cx="593.6" cy="1006.9" r="1.03"/><circle cx="596.9" cy="1005.4" r="0.79"/><circle cx="600.3" cy="1006.6" r="0.64"/><circle cx="604.2" cy="1005.5" r="1.05"/><circle cx="610.2" cy="1006.0" r="1.08"/><circle cx="613.9" cy="1006.2" r="0.77"/><circle cx="617.6" cy="1005.6" r="0.98"/><circle cx="621.1" cy="1006.6" r="0.79"/><circle cx="626.2" cy="1004.9" r="1.03"/><circle cx="629.3" cy="1006.3" r="0.69"/><circle cx="635.9" cy="1006.8" r="0.81"/><circle cx="638.1" cy="1006.4" r="0.92"/><circle cx="644.4" cy="1006.3" r="0.94"/><circle cx="648.1" cy="1005.3" r="1.02"/><circle cx="652.1" cy="1006.8" r="0.78"/><circle cx="657.0" cy="1005.2" r="1.03"/><circle cx="661.3" cy="1005.6" r="1.01"/></g>
<text x="561.4" y="918.7" fill="#f2f2f2" style="font-size:9px;font-family:'Liberation Serif', 'Times New Roman', serif;font-weight:bold">d</text>
<text x="660.6" y="1005.1" text-anchor="end" style="font-size:9.5px;font-family:'Liberation Serif', 'Times New Roman', serif;font-weight:bold;font-style:italic" fill="#f2f2f2">KDM5<tspan dy="-3.5" style="font-size:5px">-/-</tspan></text>
<rect x="451.2" y="1011.6" width="104.6" height="100.1" fill="#010106" />
<g clip-path="url(#clb)"><polygon points="503.5,1011.6 555.8,1011.6 555.8,1066.7 534.9,1111.7 451.2,1111.7 451.2,1066.7" fill="#07072c" filter="url(#jblur)"/><rect x="451.2" y="1011.6" width="104.6" height="100.1" filter="url(#jnoise)" opacity="0.30"/></g>
<g clip-path="url(#clb)" fill="#3848d4" fill-opacity="0.80"><circle cx="452.2" cy="1016.3" r="0.94"/><circle cx="457.2" cy="1014.7" r="1.16"/><circle cx="466.4" cy="1012.8" r="1.02"/><circle cx="470.6" cy="1012.7" r="1.30"/><circle cx="479.3" cy="1014.2" r="1.18"/><circle cx="486.1" cy="1012.6" r="0.96"/><circle cx="490.3" cy="1012.8" r="1.17"/><circle cx="499.2" cy="1014.7" r="1.21"/><circle cx="504.2" cy="1014.4" r="1.06"/><circle cx="511.8" cy="1013.8" r="1.03"/><circle cx="515.1" cy="1015.0" r="1.13"/><circle cx="522.8" cy="1013.0" r="1.24"/><circle cx="530.8" cy="1016.3" r="0.83"/><circle cx="538.2" cy="1014.8" r="0.84"/><circle cx="541.5" cy="1012.9" r="1.20"/><circle cx="550.8" cy="1016.6" r="1.15"/><circle cx="555.3" cy="1014.2" r="1.12"/><circle cx="453.8" cy="1018.4" r="1.04"/><circle cx="461.6" cy="1022.6" r="1.13"/><circle cx="466.8" cy="1020.8" r="0.76"/><circle cx="477.3" cy="1021.2" r="1.19"/><circle cx="481.0" cy="1018.3" r="1.16"/><circle cx="488.8" cy="1019.6" r="0.85"/><circle cx="496.0" cy="1019.6" r="1.13"/><circle cx="502.5" cy="1021.1" r="0.81"/><circle cx="508.8" cy="1022.5" r="1.23"/><circle cx="514.4" cy="1018.6" r="0.79"/><circle cx="521.2" cy="1018.6" r="1.24"/><circle cx="525.2" cy="1020.2" r="0.86"/><circle cx="533.5" cy="1021.1" r="0.90"/><circle cx="539.1" cy="1020.3" r="1.11"/><circle cx="547.4" cy="1020.0" r="0.75"/><circle cx="553.9" cy="1021.3" r="0.84"/><circle cx="453.5" cy="1023.9" r="1.31"/><circle cx="458.1" cy="1027.0" r="0.94"/><circle cx="466.1" cy="1026.2" r="1.30"/><circle cx="471.9" cy="1027.4" r="1.03"/><circle cx="477.7" cy="1027.4" r="0.81"/><circle cx="483.4" cy="1025.1" r="1.03"/><circle cx="491.5" cy="1024.6" r="0.74"/><circle cx="497.4" cy="1024.0" r="1.05"/><circle cx="506.1" cy="1027.4" r="0.81"/><circle cx="510.9" cy="1025.2" r="1.19"/><circle cx="517.3" cy="1025.5" r="0.91"/><circle cx="521.6" cy="1026.5" r="0.87"/><circle cx="530.4" cy="1028.0" r="0.93"/><circle cx="536.7" cy="1026.9" r="1.04"/><circle cx="544.6" cy="1023.8" r="0.99"/><circle cx="547.3" cy="1027.4" r="1.14"/><circle cx="556.4" cy="1026.1" r="0.74"/><circle cx="454.1" cy="1031.2" r="1.28"/><circle cx="460.7" cy="1030.1" r="1.29"/><circle cx="468.6" cy="1032.2" r="1.14"/><circle cx="477.0" cy="1032.8" r="1.25"/><circle cx="481.0" cy="1033.7" r="1.24"/><circle cx="487.6" cy="1030.2" r="0.82"/><circle cx="492.8" cy="1030.7" r="0.84"/><circle cx="500.5" cy="1031.0" r="1.15"/><circle cx="508.1" cy="1029.7" r="0.78"/><circle cx="514.1" cy="1032.2" r="1.22"/><circle cx="520.5" cy="1033.1" r="0.79"/><circle cx="527.8" cy="1033.5" r="0.75"/><circle cx="531.7" cy="1033.5" r="0.85"/><circle cx="539.6" cy="1029.5" r="0.84"/><circle cx="544.7" cy="1033.2" r="0.85"/><circle cx="552.0" cy="1033.6" r="0.98"/><circle cx="451.1" cy="1039.1" r="1.01"/><circle cx="457.4" cy="1035.0" r="0.75"/><circle cx="465.7" cy="1035.3" r="0.98"/><circle cx="472.3" cy="1037.8" r="1.22"/><circle cx="476.9" cy="1036.6" r="0.96"/><circle cx="483.5" cy="1037.0" r="0.97"/><circle cx="492.8" cy="1037.1" r="0.85"/><circle cx="499.2" cy="1038.2" r="1.06"/><circle cx="505.9" cy="1038.3" r="0.92"/><circle cx="512.1" cy="1035.4" r="0.83"/><circle cx="517.3" cy="1038.1" r="1.12"/><circle cx="524.8" cy="1037.8" r="0.99"/><circle cx="531.6" cy="1038.2" r="1.13"/><circle cx="535.7" cy="1035.9" r="1.22"/><circle cx="542.8" cy="1038.1" r="0.76"/><circle cx="549.2" cy="1038.0" r="0.94"/><circle cx="555.3" cy="1038.7" r="1.09"/><circle cx="457.4" cy="1041.5" r="1.20"/><circle cx="460.4" cy="1044.1" r="0.87"/><circle cx="468.1" cy="1041.3" r="1.20"/><circle cx="477.3" cy="1044.0" r="0.82"/><circle cx="481.2" cy="1041.4" r="1.08"/><circle cx="486.9" cy="1043.3" r="0.86"/><circle cx="495.4" cy="1043.0" r="1.17"/><circle cx="500.8" cy="1040.4" r="0.89"/><circle cx="506.1" cy="1043.8" r="1.06"/><circle cx="512.8" cy="1042.0" r="0.97"/><circle cx="518.3" cy="1044.8" r="1.18"/><circle cx="528.0" cy="1040.9" r="0.90"/><circle cx="531.2" cy="1043.3" r="1.00"/><circle cx="539.3" cy="1042.9" r="0.74"/><circle cx="544.0" cy="1040.7" r="0.92"/><circle cx="553.4" cy="1044.0" r="0.75"/><circle cx="451.1" cy="1047.3" r="1.03"/><circle cx="457.8" cy="1049.6" r="1.21"/><circle cx="465.1" cy="1048.0" r="1.11"/><circle cx="470.4" cy="1046.6" r="0.77"/><circle cx="479.3" cy="1048.9" r="0.84"/><circle cx="486.7" cy="1046.4" r="1.17"/><circle cx="492.4" cy="1046.3" r="1.10"/><circle cx="495.6" cy="1046.0" r="0.82"/><circle cx="505.6" cy="1047.3" r="0.94"/><circle cx="510.2" cy="1048.4" r="1.19"/><circle cx="517.5" cy="1046.5" r="1.13"/><circle cx="521.1" cy="1047.1" r="1.02"/><circle cx="530.0" cy="1048.8" r="0.85"/><circle cx="534.2" cy="1047.6" r="0.77"/><circle cx="543.8" cy="1049.4" r="0.84"/><circle cx="549.9" cy="1046.5" r="1.02"/><circle cx="554.1" cy="1046.3" r="1.00"/><circle cx="455.9" cy="1055.5" r="0.89"/><circle cx="462.0" cy="1052.1" r="1.21"/><circle cx="469.0" cy="1052.8" r="1.23"/><circle cx="475.7" cy="1055.2" r="1.05"/><circle cx="480.2" cy="1055.0" r="0.86"/><circle cx="486.3" cy="1052.1" r="0.80"/><circle cx="492.5" cy="1053.0" r="1.01"/><circle cx="502.8" cy="1052.5" r="1.18"/><circle cx="508.6" cy="1052.0" r="0.81"/><circle cx="512.2" cy="1052.1" r="1.10"/><circle cx="518.8" cy="1053.6" r="0.77"/><circle cx="527.7" cy="1055.5" r="1.30"/><circle cx="533.0" cy="1052.6" r="0.74"/><circle cx="540.8" cy="1055.0" r="1.19"/><circle cx="544.3" cy="1054.8" r="1.02"/><circle cx="550.5" cy="1054.1" r="0.98"/><circle cx="451.3" cy="1061.2" r="1.04"/><circle cx="458.3" cy="1057.8" r="0.95"/><circle cx="464.7" cy="1058.2" r="0.76"/><circle cx="470.9" cy="1059.1" r="1.28"/><circle cx="477.8" cy="1058.3" r="0.74"/><circle cx="484.2" cy="1059.8" r="1.16"/><circle cx="490.3" cy="1059.3" r="0.75"/><circle cx="498.8" cy="1060.7" r="1.31"/><circle cx="504.6" cy="1059.4" r="0.98"/><circle cx="512.6" cy="1057.1" r="1.00"/><circle cx="518.8" cy="1059.5" r="1.28"/><circle cx="523.4" cy="1057.4" r="0.84"/><circle cx="528.2" cy="1059.8" r="0.78"/><circle cx="537.4" cy="1058.7" r="1.00"/><circle cx="541.1" cy="1061.4" r="1.02"/><circle cx="550.3" cy="1057.8" r="1.01"/><circle cx="556.1" cy="1060.8" r="1.16"/><circle cx="457.3" cy="1063.6" r="0.86"/><circle cx="461.0" cy="1064.0" r="1.30"/><circle cx="469.8" cy="1063.1" r="1.31"/><circle cx="474.7" cy="1063.9" r="1.15"/><circle cx="483.4" cy="1062.7" r="0.77"/><circle cx="487.7" cy="1063.5" r="1.01"/><circle cx="493.6" cy="1066.1" r="0.87"/><circle cx="500.8" cy="1066.7" r="1.22"/><circle cx="508.7" cy="1065.0" r="1.20"/><circle cx="514.2" cy="1064.3" r="0.90"/><circle cx="520.8" cy="1066.8" r="1.03"/><circle cx="527.5" cy="1066.3" r="1.11"/><circle cx="530.7" cy="1064.2" r="0.97"/><circle cx="538.7" cy="1065.9" r="1.27"/><circle cx="547.7" cy="1066.8" r="1.18"/><circle cx="552.1" cy="1065.7" r="0.74"/><circle cx="452.1" cy="1070.0" r="1.22"/><circle cx="461.2" cy="1068.8" r="0.79"/><circle cx="467.1" cy="1070.4" r="1.05"/><circle cx="472.8" cy="1068.9" r="1.12"/><circle cx="479.0" cy="1069.8" r="1.12"/><circle cx="484.5" cy="1068.8" r="1.23"/><circle cx="489.6" cy="1071.3" r="1.13"/><circle cx="496.7" cy="1070.3" r="0.87"/><circle cx="503.8" cy="1068.4" r="1.00"/><circle cx="511.9" cy="1071.9" r="0.88"/><circle cx="515.2" cy="1069.4" r="1.13"/><circle cx="521.6" cy="1072.3" r="0.86"/><circle cx="528.4" cy="1070.8" r="1.30"/><circle cx="535.2" cy="1071.5" r="1.26"/><circle cx="543.9" cy="1072.5" r="0.93"/><circle cx="548.1" cy="1069.5" r="0.82"/><circle cx="554.4" cy="1071.6" r="1.08"/><circle cx="456.2" cy="1074.6" r="0.74"/><circle cx="462.5" cy="1074.8" r="1.27"/><circle cx="469.9" cy="1076.3" r="0.79"/><circle cx="477.3" cy="1078.3" r="1.31"/><circle cx="483.7" cy="1076.0" r="1.02"/><circle cx="488.4" cy="1075.6" r="0.93"/><circle cx="494.3" cy="1078.0" r="1.04"/><circle cx="501.1" cy="1075.3" r="1.20"/><circle cx="505.6" cy="1078.2" r="0.79"/><circle cx="514.1" cy="1074.6" r="1.19"/><circle cx="518.6" cy="1073.9" r="1.26"/><circle cx="525.7" cy="1077.1" r="0.82"/><circle cx="534.6" cy="1077.5" r="0.89"/><circle cx="541.0" cy="1075.7" r="1.24"/><circle cx="545.3" cy="1076.2" r="1.25"/><circle cx="550.8" cy="1075.2" r="0.84"/><circle cx="453.9" cy="1083.4" r="0.86"/><circle cx="457.0" cy="1080.6" r="1.14"/><circle cx="467.2" cy="1081.2" r="0.76"/><circle cx="472.1" cy="1080.8" r="1.17"/><circle cx="478.9" cy="1081.9" r="0.89"/><circle cx="487.0" cy="1079.7" r="0.86"/><circle cx="492.0" cy="1079.8" r="0.79"/><circle cx="498.9" cy="1080.4" r="0.91"/><circle cx="503.0" cy="1082.3" r="0.85"/><circle cx="511.4" cy="1083.6" r="0.79"/><circle cx="518.0" cy="1082.0" r="1.27"/><circle cx="522.0" cy="1083.5" r="1.20"/><circle cx="528.8" cy="1080.4" r="1.05"/><circle cx="534.5" cy="1079.9" r="0.87"/><circle cx="540.5" cy="1080.2" r="1.14"/><circle cx="547.0" cy="1080.7" r="1.20"/><circle cx="556.2" cy="1082.1" r="1.22"/><circle cx="456.8" cy="1085.2" r="1.29"/><circle cx="463.8" cy="1085.8" r="1.29"/><circle cx="468.0" cy="1088.1" r="0.84"/><circle cx="476.2" cy="1088.1" r="0.97"/><circle cx="483.5" cy="1087.2" r="1.10"/><circle cx="487.2" cy="1089.0" r="1.29"/><circle cx="494.1" cy="1089.1" r="1.18"/><circle cx="500.3" cy="1087.8" r="1.05"/><circle cx="508.4" cy="1087.8" r="1.06"/><circle cx="512.5" cy="1087.6" r="1.11"/><circle cx="520.3" cy="1085.7" r="0.99"/><circle cx="526.3" cy="1085.6" r="0.93"/><circle cx="530.7" cy="1086.3" r="1.18"/><circle cx="538.9" cy="1086.6" r="1.13"/><circle cx="545.5" cy="1086.3" r="0.80"/><circle cx="551.9" cy="1088.0" r="0.90"/><circle cx="453.0" cy="1091.3" r="1.08"/><circle cx="460.7" cy="1091.9" r="1.12"/><circle cx="467.0" cy="1090.6" r="0.99"/><circle cx="473.8" cy="1092.0" r="1.29"/><circle cx="477.0" cy="1090.7" r="1.04"/><circle cx="484.0" cy="1094.7" r="1.09"/><circle cx="490.1" cy="1092.1" r="0.76"/><circle cx="497.8" cy="1095.0" r="0.99"/><circle cx="505.8" cy="1093.7" r="1.26"/><circle cx="510.8" cy="1094.9" r="1.14"/><circle cx="516.9" cy="1091.7" r="1.13"/><circle cx="523.4" cy="1092.0" r="1.07"/><circle cx="529.9" cy="1091.4" r="0.85"/><circle cx="536.7" cy="1092.7" r="1.02"/><circle cx="544.6" cy="1091.9" r="1.19"/><circle cx="550.1" cy="1094.0" r="0.77"/><circle cx="553.3" cy="1094.2" r="1.20"/><circle cx="457.6" cy="1099.2" r="0.90"/><circle cx="464.4" cy="1098.3" r="1.08"/><circle cx="468.6" cy="1098.1" r="0.89"/><circle cx="475.4" cy="1096.7" r="1.09"/><circle cx="480.6" cy="1100.4" r="0.78"/><circle cx="487.3" cy="1096.6" r="0.94"/><circle cx="496.2" cy="1098.0" r="1.06"/><circle cx="501.0" cy="1096.4" r="0.89"/><circle cx="506.8" cy="1099.2" r="1.08"/><circle cx="514.8" cy="1097.6" r="1.19"/><circle cx="520.0" cy="1096.4" r="0.95"/><circle cx="526.4" cy="1097.0" r="1.18"/><circle cx="530.8" cy="1099.2" r="1.28"/><circle cx="539.6" cy="1097.2" r="0.95"/><circle cx="546.9" cy="1098.5" r="1.23"/><circle cx="552.4" cy="1099.6" r="1.03"/><circle cx="453.4" cy="1104.1" r="1.06"/><circle cx="457.7" cy="1103.1" r="1.23"/><circle cx="466.3" cy="1103.3" r="1.04"/><circle cx="472.7" cy="1105.0" r="1.27"/><circle cx="476.9" cy="1102.2" r="0.93"/><circle cx="486.5" cy="1104.0" r="0.96"/><circle cx="490.6" cy="1101.8" r="0.80"/><circle cx="496.3" cy="1102.8" r="0.86"/><circle cx="504.4" cy="1105.7" r="0.94"/><circle cx="509.5" cy="1102.6" r="1.21"/><circle cx="515.1" cy="1103.4" r="0.97"/><circle cx="521.6" cy="1105.8" r="0.86"/><circle cx="531.6" cy="1103.9" r="1.18"/><circle cx="536.8" cy="1104.2" r="0.94"/><circle cx="540.7" cy="1102.1" r="1.27"/><circle cx="550.7" cy="1103.6" r="0.93"/><circle cx="553.1" cy="1102.2" r="0.90"/><circle cx="454.3" cy="1107.8" r="1.14"/><circle cx="464.6" cy="1107.4" r="0.76"/><circle cx="469.2" cy="1110.5" r="1.14"/><circle cx="474.3" cy="1111.2" r="0.87"/><circle cx="480.4" cy="1109.5" r="0.98"/><circle cx="488.4" cy="1108.9" r="1.07"/><circle cx="493.1" cy="1108.3" r="0.83"/><circle cx="500.3" cy="1110.1" r="0.97"/><circle cx="508.1" cy="1111.0" r="1.09"/><circle cx="512.7" cy="1110.4" r="1.12"/><circle cx="520.7" cy="1111.6" r="1.29"/><circle cx="527.5" cy="1109.8" r="0.98"/><circle cx="532.3" cy="1109.5" r="1.20"/><circle cx="540.6" cy="1107.8" r="0.96"/><circle cx="547.3" cy="1111.4" r="1.16"/><circle cx="551.0" cy="1109.9" r="0.87"/></g>
<text x="454.4" y="1021.1" fill="#f2f2f2" style="font-size:9px;font-family:'Liberation Serif', 'Times New Roman', serif;font-weight:bold">b</text>
<text x="553.3" y="1107.5" text-anchor="end" fill="#f2f2f2" style="font-size:10px;font-family:'Liberation Serif', 'Times New Roman', serif;font-weight:bold;font-style:italic">wt</text>
<rect x="558.2" y="1011.6" width="104.9" height="100.1" fill="#010106" />
<g clip-path="url(#cle)"><polygon points="558.2,1038.6 589.7,1031.6 621.1,1023.6 663.1,1023.6 663.1,1091.7 621.1,1089.7 589.7,1081.7 579.2,1075.7 568.7,1081.7 558.2,1085.7" fill="#07072e" filter="url(#jblur)"/><rect x="558.2" y="1011.6" width="104.9" height="100.1" filter="url(#jnoise)" opacity="0.30"/></g>
<g clip-path="url(#cle)" fill="#3a4ade" fill-opacity="0.80"><circle cx="559.7" cy="1013.0" r="1.17"/><circle cx="565.6" cy="1013.9" r="1.01"/><circle cx="568.0" cy="1013.1" r="0.82"/><circle cx="574.4" cy="1013.0" r="1.17"/><circle cx="577.2" cy="1013.0" r="0.71"/><circle cx="584.3" cy="1013.6" r="0.91"/><circle cx="587.6" cy="1014.5" r="0.88"/><circle cx="592.0" cy="1013.8" r="0.82"/><circle cx="596.5" cy="1015.1" r="1.02"/><circle cx="603.2" cy="1015.3" r="0.87"/><circle cx="607.0" cy="1013.7" r="0.88"/><circle cx="612.8" cy="1012.3" r="0.91"/><circle cx="617.1" cy="1013.5" r="0.68"/><circle cx="622.5" cy="1012.4" r="0.96"/><circle cx="625.4" cy="1012.4" r="0.76"/><circle cx="629.9" cy="1012.8" r="1.02"/><circle cx="637.0" cy="1013.5" r="1.01"/><circle cx="640.9" cy="1014.0" r="1.12"/><circle cx="645.2" cy="1015.2" r="1.03"/><circle cx="651.2" cy="1012.3" r="0.71"/><circle cx="653.8" cy="1013.5" r="1.16"/><circle cx="661.5" cy="1015.1" r="0.73"/><circle cx="562.5" cy="1019.1" r="1.09"/><circle cx="567.6" cy="1017.0" r="0.76"/><circle cx="572.4" cy="1019.0" r="1.13"/><circle cx="576.0" cy="1019.5" r="0.74"/><circle cx="582.5" cy="1019.5" r="0.84"/><circle cx="584.3" cy="1018.3" r="1.03"/><circle cx="590.1" cy="1016.7" r="0.81"/><circle cx="596.5" cy="1016.8" r="1.15"/><circle cx="599.4" cy="1017.2" r="0.72"/><circle cx="606.6" cy="1019.5" r="0.83"/><circle cx="608.4" cy="1018.7" r="1.13"/><circle cx="613.0" cy="1018.6" r="1.11"/><circle cx="619.3" cy="1018.4" r="1.09"/><circle cx="623.3" cy="1017.4" r="1.01"/><circle cx="629.2" cy="1018.3" r="0.84"/><circle cx="635.3" cy="1017.5" r="1.02"/><circle cx="639.9" cy="1017.8" r="0.69"/><circle cx="642.5" cy="1016.7" r="0.74"/><circle cx="646.9" cy="1017.6" r="0.86"/><circle cx="652.8" cy="1018.7" r="1.02"/><circle cx="658.4" cy="1017.7" r="1.01"/><circle cx="662.8" cy="1016.9" r="0.95"/><circle cx="558.8" cy="1022.9" r="1.05"/><circle cx="563.3" cy="1022.1" r="0.90"/><circle cx="568.3" cy="1020.8" r="0.69"/><circle cx="575.5" cy="1023.2" r="0.89"/><circle cx="579.2" cy="1021.6" r="1.04"/><circle cx="584.9" cy="1023.3" r="0.91"/><circle cx="589.8" cy="1023.8" r="0.70"/><circle cx="592.7" cy="1022.2" r="0.81"/><circle cx="598.2" cy="1021.2" r="1.06"/><circle cx="603.8" cy="1020.9" r="1.03"/><circle cx="606.6" cy="1022.8" r="1.03"/><circle cx="613.8" cy="1023.4" r="0.84"/><circle cx="617.8" cy="1021.2" r="1.04"/><circle cx="621.5" cy="1021.6" r="0.79"/><circle cx="625.6" cy="1023.3" r="0.72"/><circle cx="630.5" cy="1021.3" r="0.75"/><circle cx="637.0" cy="1022.6" r="1.01"/><circle cx="642.3" cy="1022.2" r="0.68"/><circle cx="644.8" cy="1022.4" r="1.04"/><circle cx="652.0" cy="1022.4" r="0.78"/><circle cx="655.7" cy="1023.8" r="0.84"/><circle cx="661.6" cy="1023.7" r="0.97"/><circle cx="561.7" cy="1025.3" r="0.72"/><circle cx="565.1" cy="1026.9" r="1.04"/><circle cx="573.1" cy="1026.9" r="1.18"/><circle cx="575.9" cy="1025.3" r="0.70"/><circle cx="580.3" cy="1026.6" r="1.18"/><circle cx="585.1" cy="1025.6" r="1.04"/><circle cx="590.2" cy="1026.7" r="0.74"/><circle cx="596.6" cy="1027.9" r="1.06"/><circle cx="601.7" cy="1026.0" r="0.68"/><circle cx="604.3" cy="1027.9" r="0.91"/><circle cx="608.8" cy="1025.4" r="0.75"/><circle cx="614.4" cy="1028.0" r="1.13"/><circle cx="620.3" cy="1027.4" r="0.76"/><circle cx="625.1" cy="1025.6" r="0.94"/><circle cx="627.4" cy="1027.8" r="0.73"/><circle cx="634.1" cy="1027.1" r="1.00"/><circle cx="639.2" cy="1026.1" r="1.08"/><circle cx="644.9" cy="1026.9" r="1.18"/><circle cx="649.4" cy="1025.0" r="1.02"/><circle cx="651.6" cy="1027.1" r="0.86"/><circle cx="659.0" cy="1025.0" r="1.16"/><circle cx="661.1" cy="1025.0" r="0.67"/><circle cx="558.1" cy="1032.3" r="1.10"/><circle cx="565.6" cy="1029.7" r="1.02"/><circle cx="570.0" cy="1031.5" r="0.81"/><circle cx="575.4" cy="1031.5" r="1.02"/><circle cx="577.9" cy="1030.4" r="1.06"/><circle cx="583.5" cy="1030.7" r="1.15"/><circle cx="587.9" cy="1031.9" r="0.69"/><circle cx="593.1" cy="1031.4" r="0.67"/><circle cx="598.5" cy="1030.0" r="0.99"/><circle cx="603.0" cy="1029.5" r="1.16"/><circle cx="606.5" cy="1029.5" r="0.90"/><circle cx="610.7" cy="1029.4" r="1.06"/><circle cx="615.6" cy="1030.8" r="1.13"/><circle cx="621.6" cy="1031.8" r="1.10"/><circle cx="625.5" cy="1029.3" r="1.07"/><circle cx="632.6" cy="1031.9" r="1.04"/><circle cx="636.2" cy="1032.2" r="1.05"/><circle cx="641.9" cy="1032.1" r="0.69"/><circle cx="646.6" cy="1031.0" r="0.67"/><circle cx="649.8" cy="1031.4" r="0.94"/><circle cx="655.6" cy="1030.0" r="0.96"/><circle cx="661.5" cy="1032.3" r="0.95"/><circle cx="562.6" cy="1033.5" r="0.74"/><circle cx="566.8" cy="1036.0" r="0.73"/><circle cx="570.2" cy="1034.9" r="0.82"/><circle cx="575.0" cy="1033.7" r="0.89"/><circle cx="582.0" cy="1033.8" r="1.09"/><circle cx="584.4" cy="1034.0" r="1.01"/><circle cx="588.9" cy="1034.3" r="0.75"/><circle cx="594.5" cy="1036.2" r="0.75"/><circle cx="600.9" cy="1036.3" r="0.79"/><circle cx="606.2" cy="1034.3" r="1.07"/><circle cx="610.1" cy="1034.4" r="1.13"/><circle cx="615.3" cy="1034.3" r="0.96"/><circle cx="618.7" cy="1034.2" r="1.16"/><circle cx="625.8" cy="1033.7" r="1.14"/><circle cx="629.7" cy="1033.2" r="0.72"/><circle cx="633.6" cy="1036.2" r="1.12"/><circle cx="637.8" cy="1034.7" r="1.15"/><circle cx="642.4" cy="1033.6" r="0.88"/><circle cx="648.8" cy="1036.1" r="1.12"/><circle cx="651.4" cy="1033.8" r="0.73"/><circle cx="658.1" cy="1034.6" r="1.15"/><circle cx="663.0" cy="1035.3" r="1.02"/><circle cx="558.4" cy="1040.4" r="1.11"/><circle cx="565.3" cy="1040.0" r="0.76"/><circle cx="567.5" cy="1038.6" r="1.04"/><circle cx="572.8" cy="1040.3" r="1.11"/><circle cx="579.3" cy="1039.0" r="0.74"/><circle cx="584.4" cy="1038.0" r="0.92"/><circle cx="589.1" cy="1039.5" r="0.79"/><circle cx="594.3" cy="1038.5" r="0.88"/><circle cx="597.6" cy="1039.7" r="0.69"/><circle cx="603.1" cy="1039.0" r="1.08"/><circle cx="606.9" cy="1039.3" r="1.17"/><circle cx="610.7" cy="1040.0" r="0.91"/><circle cx="616.3" cy="1038.3" r="0.78"/><circle cx="623.0" cy="1038.1" r="1.17"/><circle cx="626.7" cy="1038.3" r="1.07"/><circle cx="631.7" cy="1040.3" r="0.74"/><circle cx="636.8" cy="1037.5" r="0.76"/><circle cx="640.7" cy="1038.4" r="0.81"/><circle cx="646.0" cy="1039.9" r="0.88"/><circle cx="650.6" cy="1040.0" r="0.78"/><circle cx="657.1" cy="1037.5" r="0.86"/><circle cx="661.3" cy="1038.2" r="0.84"/><circle cx="560.7" cy="1044.8" r="1.12"/><circle cx="565.2" cy="1043.4" r="0.74"/><circle cx="569.8" cy="1042.3" r="1.03"/><circle cx="576.3" cy="1042.5" r="0.97"/><circle cx="579.6" cy="1042.7" r="0.72"/><circle cx="586.9" cy="1042.8" r="1.04"/><circle cx="590.0" cy="1042.9" r="0.97"/><circle cx="594.6" cy="1043.4" r="1.07"/><circle cx="598.8" cy="1042.2" r="0.68"/><circle cx="605.0" cy="1041.9" r="0.94"/><circle cx="608.7" cy="1043.3" r="0.81"/><circle cx="615.4" cy="1044.3" r="1.17"/><circle cx="619.3" cy="1044.5" r="1.12"/><circle cx="623.6" cy="1044.8" r="1.17"/><circle cx="627.8" cy="1044.1" r="1.02"/><circle cx="634.2" cy="1043.9" r="0.81"/><circle cx="639.7" cy="1044.0" r="0.76"/><circle cx="645.0" cy="1044.0" r="0.69"/><circle cx="646.6" cy="1042.1" r="1.01"/><circle cx="653.7" cy="1044.7" r="1.13"/><circle cx="656.8" cy="1042.2" r="0.71"/><circle cx="662.2" cy="1043.0" r="0.86"/><circle cx="560.5" cy="1047.8" r="1.08"/><circle cx="565.4" cy="1048.3" r="0.93"/><circle cx="568.7" cy="1047.5" r="0.91"/><circle cx="574.4" cy="1048.6" r="1.02"/><circle cx="577.8" cy="1047.6" r="0.90"/><circle cx="582.1" cy="1046.1" r="0.90"/><circle cx="589.7" cy="1048.1" r="0.69"/><circle cx="594.4" cy="1048.2" r="0.98"/><circle cx="596.1" cy="1046.8" r="0.84"/><circle cx="602.5" cy="1046.1" r="0.99"/><circle cx="607.8" cy="1047.9" r="0.92"/><circle cx="612.4" cy="1046.1" r="1.10"/><circle cx="618.2" cy="1048.6" r="1.07"/><circle cx="620.9" cy="1046.7" r="0.69"/><circle cx="627.6" cy="1048.6" r="1.15"/><circle cx="631.7" cy="1048.4" r="1.11"/><circle cx="634.9" cy="1046.0" r="1.12"/><circle cx="642.6" cy="1048.1" r="0.99"/><circle cx="645.5" cy="1048.6" r="0.81"/><circle cx="649.1" cy="1048.4" r="0.70"/><circle cx="656.1" cy="1047.9" r="0.72"/><circle cx="660.0" cy="1046.6" r="1.09"/><circle cx="562.7" cy="1051.0" r="0.75"/><circle cx="566.1" cy="1051.4" r="0.98"/><circle cx="572.9" cy="1051.0" r="0.74"/><circle cx="576.6" cy="1051.3" r="1.05"/><circle cx="581.5" cy="1051.7" r="1.09"/><circle cx="584.8" cy="1052.5" r="0.76"/><circle cx="590.5" cy="1051.8" r="0.95"/><circle cx="594.1" cy="1051.4" r="0.81"/><circle cx="599.4" cy="1051.3" r="0.88"/><circle cx="604.0" cy="1052.2" r="1.15"/><circle cx="611.3" cy="1050.5" r="0.79"/><circle cx="614.3" cy="1051.9" r="1.03"/><circle cx="619.7" cy="1051.6" r="1.19"/><circle cx="625.7" cy="1052.6" r="0.80"/><circle cx="629.9" cy="1050.0" r="1.16"/><circle cx="634.5" cy="1053.0" r="0.89"/><circle cx="639.3" cy="1050.7" r="1.15"/><circle cx="642.3" cy="1049.9" r="0.81"/><circle cx="648.8" cy="1051.7" r="1.09"/><circle cx="653.6" cy="1052.5" r="1.16"/><circle cx="656.3" cy="1050.3" r="0.82"/><circle cx="661.4" cy="1051.8" r="1.04"/><circle cx="558.3" cy="1055.7" r="0.79"/><circle cx="562.6" cy="1055.0" r="0.80"/><circle cx="569.6" cy="1057.3" r="0.70"/><circle cx="573.8" cy="1055.6" r="0.99"/><circle cx="577.4" cy="1057.3" r="0.81"/><circle cx="583.7" cy="1055.5" r="0.96"/><circle cx="589.5" cy="1056.2" r="0.84"/><circle cx="594.5" cy="1054.7" r="1.17"/><circle cx="598.4" cy="1054.9" r="1.18"/><circle cx="603.8" cy="1055.8" r="1.09"/><circle cx="606.0" cy="1055.0" r="0.92"/><circle cx="613.7" cy="1055.3" r="1.18"/><circle cx="617.3" cy="1056.5" r="1.07"/><circle cx="620.6" cy="1057.2" r="0.98"/><circle cx="625.3" cy="1054.6" r="1.08"/><circle cx="631.6" cy="1057.2" r="1.11"/><circle cx="636.4" cy="1055.5" r="1.06"/><circle cx="642.6" cy="1055.1" r="0.94"/><circle cx="644.5" cy="1054.2" r="0.70"/><circle cx="650.2" cy="1056.2" r="1.12"/><circle cx="656.2" cy="1057.3" r="0.80"/><circle cx="661.4" cy="1055.2" r="0.86"/><circle cx="561.9" cy="1061.6" r="0.91"/><circle cx="565.1" cy="1059.5" r="0.96"/><circle cx="572.0" cy="1058.8" r="0.81"/><circle cx="575.1" cy="1060.0" r="0.87"/><circle cx="580.4" cy="1060.0" r="1.06"/><circle cx="586.2" cy="1060.7" r="0.88"/><circle cx="592.0" cy="1058.6" r="0.70"/><circle cx="594.0" cy="1059.9" r="0.83"/><circle cx="599.2" cy="1058.3" r="1.08"/><circle cx="603.5" cy="1060.4" r="1.17"/><circle cx="609.0" cy="1060.2" r="1.13"/><circle cx="614.4" cy="1061.3" r="0.68"/><circle cx="619.6" cy="1060.9" r="0.92"/><circle cx="625.3" cy="1061.6" r="1.10"/><circle cx="628.9" cy="1060.6" r="1.12"/><circle cx="634.2" cy="1058.4" r="0.77"/><circle cx="639.0" cy="1058.6" r="0.75"/><circle cx="645.0" cy="1059.9" r="1.18"/><circle cx="649.3" cy="1060.9" r="0.88"/><circle cx="652.1" cy="1058.5" r="0.78"/><circle cx="657.8" cy="1060.3" r="0.74"/><circle cx="662.5" cy="1059.5" r="1.12"/><circle cx="558.7" cy="1065.2" r="1.00"/><circle cx="565.7" cy="1063.4" r="0.81"/><circle cx="569.0" cy="1063.3" r="0.98"/><circle cx="575.3" cy="1064.2" r="0.77"/><circle cx="577.1" cy="1064.5" r="0.90"/><circle cx="581.8" cy="1063.7" r="1.08"/><circle cx="588.6" cy="1063.6" r="1.17"/><circle cx="594.6" cy="1062.5" r="0.78"/><circle cx="598.2" cy="1063.6" r="0.78"/><circle cx="603.6" cy="1065.5" r="0.92"/><circle cx="609.0" cy="1064.4" r="0.99"/><circle cx="612.3" cy="1065.1" r="1.14"/><circle cx="617.0" cy="1064.0" r="1.08"/><circle cx="622.9" cy="1064.6" r="0.75"/><circle cx="625.4" cy="1063.7" r="0.69"/><circle cx="630.9" cy="1063.6" r="0.73"/><circle cx="635.0" cy="1064.6" r="1.13"/><circle cx="640.1" cy="1064.9" r="0.88"/><circle cx="644.2" cy="1065.6" r="0.72"/><circle cx="650.5" cy="1062.5" r="0.81"/><circle cx="654.9" cy="1063.7" r="0.94"/><circle cx="661.8" cy="1064.5" r="0.90"/><circle cx="562.9" cy="1068.1" r="1.03"/><circle cx="566.4" cy="1069.1" r="0.71"/><circle cx="570.3" cy="1069.0" r="1.05"/><circle cx="575.7" cy="1066.7" r="0.98"/><circle cx="579.7" cy="1067.9" r="1.09"/><circle cx="586.8" cy="1069.4" r="0.72"/><circle cx="591.4" cy="1066.7" r="1.18"/><circle cx="596.2" cy="1069.2" r="1.11"/><circle cx="601.3" cy="1069.2" r="1.15"/><circle cx="603.5" cy="1066.9" r="1.03"/><circle cx="608.5" cy="1069.3" r="0.88"/><circle cx="615.5" cy="1067.0" r="0.95"/><circle cx="620.1" cy="1069.1" r="0.76"/><circle cx="623.3" cy="1069.5" r="1.08"/><circle cx="629.0" cy="1066.7" r="1.04"/><circle cx="634.7" cy="1068.8" r="1.17"/><circle cx="639.0" cy="1069.3" r="0.79"/><circle cx="642.7" cy="1069.9" r="1.19"/><circle cx="646.9" cy="1068.7" r="1.02"/><circle cx="653.4" cy="1067.9" r="0.85"/><circle cx="659.2" cy="1067.1" r="0.71"/><circle cx="663.4" cy="1066.7" r="0.87"/><circle cx="559.6" cy="1073.1" r="0.80"/><circle cx="564.7" cy="1073.0" r="1.09"/><circle cx="568.9" cy="1073.9" r="0.90"/><circle cx="575.2" cy="1072.1" r="1.05"/><circle cx="577.9" cy="1072.9" r="1.06"/><circle cx="581.9" cy="1073.4" r="0.71"/><circle cx="589.2" cy="1071.3" r="0.79"/><circle cx="592.4" cy="1071.7" r="0.98"/><circle cx="597.3" cy="1073.5" r="0.86"/><circle cx="603.5" cy="1071.8" r="0.94"/><circle cx="607.7" cy="1072.0" r="1.08"/><circle cx="612.6" cy="1072.6" r="1.01"/><circle cx="616.1" cy="1071.9" r="1.12"/><circle cx="622.4" cy="1072.3" r="1.19"/><circle cx="628.1" cy="1073.2" r="0.73"/><circle cx="631.0" cy="1072.1" r="0.96"/><circle cx="635.5" cy="1072.3" r="1.13"/><circle cx="639.7" cy="1071.1" r="0.94"/><circle cx="644.2" cy="1072.0" r="0.80"/><circle cx="651.5" cy="1071.4" r="0.94"/><circle cx="656.6" cy="1073.1" r="0.87"/><circle cx="659.2" cy="1074.0" r="1.07"/><circle cx="562.4" cy="1075.8" r="0.79"/><circle cx="567.9" cy="1077.8" r="1.10"/><circle cx="570.7" cy="1077.4" r="1.09"/><circle cx="577.5" cy="1077.4" r="0.70"/><circle cx="579.5" cy="1075.9" r="1.08"/><circle cx="585.3" cy="1075.1" r="0.91"/><circle cx="589.5" cy="1076.3" r="1.03"/><circle cx="595.4" cy="1076.8" r="0.93"/><circle cx="601.8" cy="1078.1" r="0.93"/><circle cx="603.7" cy="1077.3" r="0.74"/><circle cx="608.2" cy="1075.3" r="0.89"/><circle cx="615.8" cy="1076.6" r="1.07"/><circle cx="619.5" cy="1077.4" r="0.94"/><circle cx="625.0" cy="1076.2" r="0.81"/><circle cx="630.0" cy="1077.6" r="1.08"/><circle cx="634.4" cy="1077.6" r="0.97"/><circle cx="639.1" cy="1077.3" r="0.87"/><circle cx="641.8" cy="1077.9" r="1.13"/><circle cx="647.6" cy="1076.4" r="0.72"/><circle cx="654.5" cy="1075.2" r="0.89"/><circle cx="656.2" cy="1077.9" r="1.03"/><circle cx="663.5" cy="1076.9" r="1.02"/><circle cx="560.8" cy="1079.4" r="0.81"/><circle cx="562.9" cy="1080.7" r="0.70"/><circle cx="569.5" cy="1081.2" r="1.04"/><circle cx="574.9" cy="1079.4" r="0.69"/><circle cx="578.4" cy="1080.9" r="1.04"/><circle cx="582.8" cy="1082.3" r="0.94"/><circle cx="588.2" cy="1081.4" r="1.14"/><circle cx="593.8" cy="1082.1" r="0.76"/><circle cx="596.5" cy="1079.2" r="0.98"/><circle cx="603.4" cy="1079.8" r="0.98"/><circle cx="606.4" cy="1081.1" r="1.18"/><circle cx="613.5" cy="1080.1" r="0.70"/><circle cx="616.1" cy="1080.9" r="0.84"/><circle cx="621.6" cy="1080.9" r="1.14"/><circle cx="626.1" cy="1080.5" r="0.83"/><circle cx="631.6" cy="1079.7" r="0.93"/><circle cx="636.3" cy="1081.8" r="0.95"/><circle cx="642.4" cy="1080.3" r="0.91"/><circle cx="645.3" cy="1079.1" r="1.04"/><circle cx="651.3" cy="1082.4" r="0.69"/><circle cx="656.6" cy="1081.7" r="1.13"/><circle cx="659.0" cy="1080.0" r="1.05"/><circle cx="562.4" cy="1083.6" r="0.68"/><circle cx="568.2" cy="1085.7" r="0.86"/><circle cx="571.3" cy="1083.9" r="0.82"/><circle cx="577.7" cy="1083.6" r="1.15"/><circle cx="581.9" cy="1084.6" r="1.06"/><circle cx="586.0" cy="1085.5" r="0.96"/><circle cx="590.3" cy="1086.5" r="1.06"/><circle cx="595.1" cy="1085.1" r="0.81"/><circle cx="599.0" cy="1084.2" r="1.11"/><circle cx="604.1" cy="1084.2" r="0.68"/><circle cx="611.4" cy="1084.2" r="0.76"/><circle cx="615.3" cy="1083.6" r="1.09"/><circle cx="620.1" cy="1083.4" r="1.08"/><circle cx="623.2" cy="1083.6" r="1.06"/><circle cx="630.4" cy="1084.5" r="0.82"/><circle cx="633.8" cy="1085.9" r="1.17"/><circle cx="639.2" cy="1084.6" r="0.91"/><circle cx="644.6" cy="1084.2" r="0.86"/><circle cx="647.2" cy="1086.6" r="1.08"/><circle cx="652.1" cy="1085.9" r="1.16"/><circle cx="657.1" cy="1084.4" r="0.81"/><circle cx="663.8" cy="1084.8" r="1.11"/><circle cx="559.0" cy="1090.0" r="1.16"/><circle cx="564.2" cy="1088.1" r="1.13"/><circle cx="570.6" cy="1088.9" r="1.13"/><circle cx="575.5" cy="1090.7" r="1.13"/><circle cx="578.4" cy="1088.6" r="0.79"/><circle cx="582.6" cy="1088.4" r="0.75"/><circle cx="586.5" cy="1088.6" r="0.73"/><circle cx="593.9" cy="1088.9" r="1.18"/><circle cx="598.4" cy="1088.3" r="1.03"/><circle cx="602.9" cy="1090.8" r="1.04"/><circle cx="606.6" cy="1088.1" r="0.89"/><circle cx="611.6" cy="1088.3" r="1.08"/><circle cx="616.3" cy="1089.2" r="0.85"/><circle cx="622.3" cy="1088.1" r="0.85"/><circle cx="625.8" cy="1089.4" r="0.96"/><circle cx="632.6" cy="1089.7" r="0.67"/><circle cx="637.0" cy="1090.3" r="1.15"/><circle cx="640.1" cy="1089.5" r="0.76"/><circle cx="646.2" cy="1089.9" r="1.12"/><circle cx="650.7" cy="1089.4" r="0.82"/><circle cx="654.0" cy="1088.9" r="0.76"/><circle cx="660.8" cy="1088.3" r="0.86"/><circle cx="560.2" cy="1092.7" r="1.11"/><circle cx="565.3" cy="1093.4" r="1.05"/><circle cx="572.9" cy="1093.8" r="0.69"/><circle cx="577.1" cy="1094.5" r="1.11"/><circle cx="582.0" cy="1094.1" r="1.06"/><circle cx="585.6" cy="1091.9" r="0.78"/><circle cx="590.5" cy="1093.4" r="1.18"/><circle cx="594.9" cy="1093.1" r="1.06"/><circle cx="599.5" cy="1092.9" r="0.76"/><circle cx="605.0" cy="1092.2" r="0.99"/><circle cx="609.6" cy="1092.3" r="0.80"/><circle cx="614.9" cy="1092.7" r="1.18"/><circle cx="621.0" cy="1093.0" r="1.03"/><circle cx="623.4" cy="1092.2" r="1.07"/><circle cx="630.5" cy="1092.5" r="0.82"/><circle cx="634.2" cy="1092.2" r="0.77"/><circle cx="638.6" cy="1093.1" r="0.81"/><circle cx="643.4" cy="1092.6" r="0.88"/><circle cx="649.2" cy="1093.6" r="0.89"/><circle cx="652.9" cy="1094.9" r="1.17"/><circle cx="659.1" cy="1094.2" r="0.89"/><circle cx="662.7" cy="1092.1" r="1.16"/><circle cx="558.3" cy="1096.1" r="0.99"/><circle cx="562.9" cy="1098.3" r="0.82"/><circle cx="569.8" cy="1097.7" r="0.74"/><circle cx="573.9" cy="1098.1" r="0.67"/><circle cx="577.4" cy="1097.1" r="0.97"/><circle cx="583.1" cy="1097.2" r="1.01"/><circle cx="587.3" cy="1096.8" r="0.91"/><circle cx="594.5" cy="1097.2" r="0.70"/><circle cx="596.9" cy="1097.6" r="1.17"/><circle cx="603.1" cy="1097.6" r="0.79"/><circle cx="606.8" cy="1098.8" r="1.18"/><circle cx="611.8" cy="1098.0" r="1.03"/><circle cx="617.8" cy="1096.8" r="0.79"/><circle cx="621.4" cy="1097.5" r="0.78"/><circle cx="625.0" cy="1098.9" r="0.85"/><circle cx="631.4" cy="1096.8" r="1.16"/><circle cx="636.7" cy="1098.7" r="0.79"/><circle cx="641.9" cy="1097.3" r="0.79"/><circle cx="646.3" cy="1096.2" r="1.16"/><circle cx="649.4" cy="1098.6" r="0.89"/><circle cx="654.2" cy="1098.4" r="0.71"/><circle cx="661.3" cy="1096.6" r="0.81"/><circle cx="560.2" cy="1100.3" r="1.12"/><circle cx="567.6" cy="1101.5" r="1.10"/><circle cx="570.7" cy="1101.5" r="0.87"/><circle cx="575.7" cy="1101.8" r="0.92"/><circle cx="581.7" cy="1102.6" r="0.86"/><circle cx="585.6" cy="1101.9" r="0.75"/><circle cx="589.2" cy="1100.2" r="1.06"/><circle cx="594.3" cy="1100.4" r="1.06"/><circle cx="600.8" cy="1101.5" r="0.74"/><circle cx="606.4" cy="1100.8" r="0.73"/><circle cx="610.6" cy="1100.8" r="1.17"/><circle cx="615.9" cy="1101.5" r="1.07"/><circle cx="618.2" cy="1102.3" r="0.83"/><circle cx="623.2" cy="1102.4" r="1.15"/><circle cx="629.2" cy="1102.7" r="0.86"/><circle cx="633.3" cy="1102.4" r="1.01"/><circle cx="637.0" cy="1100.7" r="1.02"/><circle cx="643.4" cy="1100.5" r="0.85"/><circle cx="649.6" cy="1100.4" r="0.67"/><circle cx="651.5" cy="1101.9" r="1.17"/><circle cx="659.4" cy="1101.9" r="0.74"/><circle cx="661.3" cy="1103.0" r="1.07"/><circle cx="559.8" cy="1107.4" r="0.95"/><circle cx="565.0" cy="1105.5" r="0.67"/><circle cx="570.4" cy="1105.7" r="0.69"/><circle cx="574.8" cy="1104.6" r="0.80"/><circle cx="579.7" cy="1106.5" r="1.15"/><circle cx="584.6" cy="1105.3" r="0.86"/><circle cx="587.1" cy="1106.9" r="1.11"/><circle cx="592.8" cy="1106.9" r="1.19"/><circle cx="598.3" cy="1105.8" r="1.02"/><circle cx="602.8" cy="1105.4" r="0.93"/><circle cx="608.6" cy="1105.1" r="0.71"/><circle cx="613.7" cy="1104.8" r="0.76"/><circle cx="616.3" cy="1107.4" r="0.95"/><circle cx="622.9" cy="1106.6" r="1.09"/><circle cx="625.0" cy="1104.5" r="1.00"/><circle cx="632.3" cy="1106.8" r="0.86"/><circle cx="635.8" cy="1107.2" r="1.07"/><circle cx="640.5" cy="1106.6" r="0.71"/><circle cx="646.7" cy="1105.2" r="0.74"/><circle cx="650.9" cy="1106.0" r="0.97"/><circle cx="654.5" cy="1107.0" r="1.01"/><circle cx="658.6" cy="1107.5" r="0.80"/><circle cx="560.4" cy="1110.6" r="0.97"/><circle cx="565.3" cy="1109.1" r="0.86"/><circle cx="572.6" cy="1109.0" r="0.77"/><circle cx="574.6" cy="1109.6" r="0.71"/><circle cx="580.9" cy="1109.9" r="0.78"/><circle cx="585.3" cy="1110.2" r="1.03"/><circle cx="592.0" cy="1108.8" r="1.13"/><circle cx="595.2" cy="1108.9" r="0.84"/><circle cx="599.4" cy="1111.2" r="0.67"/><circle cx="604.0" cy="1110.2" r="0.78"/><circle cx="611.0" cy="1108.7" r="1.15"/><circle cx="615.2" cy="1111.3" r="0.92"/><circle cx="617.9" cy="1111.1" r="0.87"/><circle cx="624.4" cy="1110.9" r="0.73"/><circle cx="628.1" cy="1109.4" r="0.75"/><circle cx="635.0" cy="1110.6" r="0.84"/><circle cx="639.4" cy="1110.9" r="0.83"/><circle cx="644.3" cy="1110.9" r="1.08"/><circle cx="649.3" cy="1108.5" r="0.88"/><circle cx="652.7" cy="1109.8" r="1.18"/><circle cx="658.1" cy="1111.4" r="0.88"/><circle cx="662.3" cy="1109.3" r="1.00"/></g>
<defs><linearGradient id="edim" x1="0" y1="0" x2="1" y2="0"><stop offset="0" stop-color="#010106" stop-opacity="0.75"/><stop offset="0.38" stop-color="#010106" stop-opacity="0"/></linearGradient></defs>
<rect x="558.2" y="1011.6" width="104.9" height="100.1" fill="url(#edim)"/>
<text x="561.4" y="1021.1" fill="#f2f2f2" style="font-size:9px;font-family:'Liberation Serif', 'Times New Roman', serif;font-weight:bold">e</text>
<text x="660.6" y="1107.5" text-anchor="end" style="font-size:9.5px;font-family:'Liberation Serif', 'Times New Roman', serif;font-weight:bold;font-style:italic" fill="#f2f2f2">KDM5<tspan dy="-3.5" style="font-size:5px">-/-</tspan></text>
<rect x="451.2" y="1114.1" width="104.6" height="100.1" fill="#0a0206" />
<g clip-path="url(#clc)"><polygon points="508.7,1114.1 555.8,1114.1 555.8,1144.1 526.5,1214.2 451.2,1214.2 451.2,1176.2 472.1,1144.1" fill="#9a1c2a" filter="url(#jblur)"/><rect x="451.2" y="1114.1" width="104.6" height="100.1" filter="url(#jnoise)" opacity="0.45"/></g>
<g clip-path="url(#clc)" fill="#5040c8" fill-opacity="0.85"><circle cx="452.3" cy="1115.8" r="1.04"/><circle cx="457.6" cy="1118.2" r="1.09"/><circle cx="464.2" cy="1117.9" r="1.30"/><circle cx="472.5" cy="1117.1" r="1.21"/><circle cx="477.2" cy="1115.9" r="1.55"/><circle cx="482.2" cy="1116.6" r="1.40"/><circle cx="487.2" cy="1117.8" r="1.52"/><circle cx="494.0" cy="1119.0" r="1.29"/><circle cx="501.9" cy="1117.0" r="1.20"/><circle cx="505.7" cy="1115.0" r="1.06"/><circle cx="514.8" cy="1117.2" r="1.24"/><circle cx="520.4" cy="1117.5" r="1.61"/><circle cx="524.1" cy="1115.9" r="1.57"/><circle cx="529.3" cy="1118.3" r="1.34"/><circle cx="538.7" cy="1119.0" r="1.38"/><circle cx="540.8" cy="1115.1" r="1.25"/><circle cx="550.0" cy="1115.3" r="1.21"/><circle cx="553.0" cy="1116.3" r="0.91"/><circle cx="455.0" cy="1122.4" r="1.05"/><circle cx="462.9" cy="1120.5" r="1.06"/><circle cx="466.7" cy="1121.9" r="1.46"/><circle cx="473.1" cy="1123.1" r="1.57"/><circle cx="478.1" cy="1123.8" r="1.34"/><circle cx="486.7" cy="1122.8" r="1.20"/><circle cx="490.0" cy="1120.8" r="1.03"/><circle cx="496.3" cy="1120.8" r="1.06"/><circle cx="504.0" cy="1123.5" r="1.48"/><circle cx="511.2" cy="1120.7" r="1.50"/><circle cx="514.4" cy="1120.5" r="1.12"/><circle cx="522.1" cy="1120.4" r="1.06"/><circle cx="527.3" cy="1123.7" r="1.20"/><circle cx="533.3" cy="1121.8" r="0.98"/><circle cx="541.3" cy="1124.1" r="1.43"/><circle cx="545.3" cy="1122.1" r="1.13"/><circle cx="552.3" cy="1123.0" r="1.13"/><circle cx="454.3" cy="1128.5" r="1.07"/><circle cx="460.0" cy="1128.3" r="1.09"/><circle cx="463.8" cy="1128.6" r="0.97"/><circle cx="470.4" cy="1129.5" r="1.09"/><circle cx="476.7" cy="1129.3" r="1.54"/><circle cx="483.9" cy="1127.7" r="1.57"/><circle cx="487.7" cy="1129.1" r="1.20"/><circle cx="495.4" cy="1128.0" r="1.11"/><circle cx="501.4" cy="1128.0" r="1.62"/><circle cx="507.4" cy="1127.3" r="1.18"/><circle cx="514.3" cy="1126.9" r="1.39"/><circle cx="519.5" cy="1129.5" r="1.05"/><circle cx="525.4" cy="1126.2" r="1.37"/><circle cx="531.4" cy="1128.6" r="1.53"/><circle cx="535.6" cy="1129.1" r="1.16"/><circle cx="542.3" cy="1125.9" r="1.29"/><circle cx="546.6" cy="1126.7" r="1.39"/><circle cx="555.7" cy="1126.1" r="1.47"/><circle cx="455.5" cy="1131.5" r="1.45"/><circle cx="462.7" cy="1132.6" r="1.29"/><circle cx="468.2" cy="1133.3" r="1.46"/><circle cx="474.8" cy="1131.5" r="0.92"/><circle cx="478.0" cy="1132.0" r="1.33"/><circle cx="487.6" cy="1132.4" r="1.17"/><circle cx="491.9" cy="1134.6" r="1.33"/><circle cx="496.8" cy="1133.8" r="1.62"/><circle cx="504.9" cy="1132.3" r="1.03"/><circle cx="509.5" cy="1131.2" r="1.00"/><circle cx="515.5" cy="1134.2" r="1.41"/><circle cx="521.4" cy="1134.7" r="1.04"/><circle cx="526.7" cy="1131.8" r="1.32"/><circle cx="535.3" cy="1132.3" r="1.50"/><circle cx="541.5" cy="1132.7" r="1.55"/><circle cx="547.3" cy="1132.7" r="1.03"/><circle cx="549.9" cy="1131.7" r="1.24"/><circle cx="450.7" cy="1137.3" r="1.26"/><circle cx="458.0" cy="1139.0" r="1.32"/><circle cx="464.8" cy="1138.5" r="1.33"/><circle cx="470.3" cy="1136.6" r="1.33"/><circle cx="474.8" cy="1136.0" r="1.15"/><circle cx="481.6" cy="1139.1" r="1.02"/><circle cx="488.4" cy="1138.8" r="1.21"/><circle cx="496.0" cy="1136.4" r="1.03"/><circle cx="499.8" cy="1137.4" r="1.31"/><circle cx="505.4" cy="1138.2" r="1.41"/><circle cx="513.3" cy="1139.3" r="0.97"/><circle cx="519.4" cy="1138.9" r="1.50"/><circle cx="523.2" cy="1136.2" r="1.45"/><circle cx="531.3" cy="1136.6" r="1.53"/><circle cx="537.6" cy="1138.5" r="1.45"/><circle cx="543.2" cy="1137.3" r="0.95"/><circle cx="548.0" cy="1138.5" r="1.04"/><circle cx="553.4" cy="1136.3" r="1.27"/><circle cx="457.7" cy="1144.2" r="0.92"/><circle cx="461.2" cy="1144.0" r="0.98"/><circle cx="468.9" cy="1142.1" r="1.23"/><circle cx="474.9" cy="1144.8" r="0.97"/><circle cx="481.0" cy="1144.8" r="1.51"/><circle cx="486.9" cy="1142.7" r="1.13"/><circle cx="489.8" cy="1142.8" r="1.12"/><circle cx="496.3" cy="1145.1" r="1.54"/><circle cx="505.0" cy="1142.3" r="1.00"/><circle cx="509.4" cy="1141.4" r="1.16"/><circle cx="516.1" cy="1142.4" r="1.15"/><circle cx="521.0" cy="1144.6" r="0.93"/><circle cx="529.0" cy="1143.7" r="1.30"/><circle cx="534.5" cy="1141.2" r="1.53"/><circle cx="538.8" cy="1142.8" r="1.28"/><circle cx="547.4" cy="1142.1" r="1.28"/><circle cx="553.8" cy="1142.0" r="1.37"/><circle cx="451.3" cy="1148.7" r="1.22"/><circle cx="459.0" cy="1146.4" r="1.05"/><circle cx="466.4" cy="1147.1" r="1.12"/><circle cx="472.8" cy="1147.4" r="1.32"/><circle cx="476.4" cy="1146.3" r="1.37"/><circle cx="482.7" cy="1150.3" r="1.61"/><circle cx="486.9" cy="1148.8" r="1.15"/><circle cx="493.2" cy="1150.2" r="0.98"/><circle cx="500.7" cy="1147.3" r="1.32"/><circle cx="505.5" cy="1149.9" r="1.22"/><circle cx="511.4" cy="1149.7" r="1.01"/><circle cx="519.7" cy="1147.4" r="1.51"/><circle cx="523.7" cy="1149.1" r="1.39"/><circle cx="530.7" cy="1150.0" r="1.30"/><circle cx="535.6" cy="1148.5" r="1.40"/><circle cx="542.4" cy="1148.5" r="0.96"/><circle cx="547.7" cy="1149.5" r="1.15"/><circle cx="553.4" cy="1149.7" r="0.93"/><circle cx="453.8" cy="1151.8" r="1.05"/><circle cx="459.8" cy="1152.8" r="1.10"/><circle cx="469.5" cy="1152.6" r="1.32"/><circle cx="472.8" cy="1154.6" r="0.99"/><circle cx="479.0" cy="1152.1" r="1.13"/><circle cx="484.7" cy="1153.4" r="1.58"/><circle cx="489.7" cy="1152.5" r="1.34"/><circle cx="499.1" cy="1153.1" r="1.17"/><circle cx="502.9" cy="1153.1" r="1.29"/><circle cx="510.9" cy="1151.6" r="1.04"/><circle cx="514.5" cy="1154.1" r="1.45"/><circle cx="519.9" cy="1151.5" r="0.99"/><circle cx="527.4" cy="1154.4" r="1.61"/><circle cx="533.2" cy="1153.3" r="1.54"/><circle cx="540.8" cy="1155.3" r="1.10"/><circle cx="546.6" cy="1154.9" r="1.11"/><circle cx="550.6" cy="1155.4" r="1.07"/><circle cx="452.0" cy="1157.2" r="1.54"/><circle cx="459.2" cy="1157.8" r="1.23"/><circle cx="464.5" cy="1156.8" r="1.44"/><circle cx="468.9" cy="1158.4" r="1.44"/><circle cx="475.8" cy="1160.0" r="1.56"/><circle cx="483.6" cy="1158.5" r="1.57"/><circle cx="487.9" cy="1160.9" r="1.34"/><circle cx="494.8" cy="1160.4" r="0.99"/><circle cx="499.8" cy="1160.0" r="0.96"/><circle cx="508.5" cy="1158.7" r="1.26"/><circle cx="514.8" cy="1157.1" r="0.92"/><circle cx="519.0" cy="1159.4" r="1.53"/><circle cx="523.4" cy="1160.5" r="1.38"/><circle cx="531.0" cy="1156.8" r="1.48"/><circle cx="535.5" cy="1159.6" r="1.62"/><circle cx="540.7" cy="1158.6" r="1.58"/><circle cx="547.8" cy="1160.3" r="1.50"/><circle cx="555.5" cy="1161.0" r="1.41"/><circle cx="454.0" cy="1165.5" r="1.45"/><circle cx="461.2" cy="1162.4" r="1.10"/><circle cx="467.8" cy="1163.0" r="1.62"/><circle cx="472.3" cy="1163.1" r="1.00"/><circle cx="480.7" cy="1165.5" r="1.09"/><circle cx="485.2" cy="1165.7" r="1.34"/><circle cx="490.5" cy="1166.2" r="1.46"/><circle cx="496.9" cy="1163.9" r="1.27"/><circle cx="504.3" cy="1163.9" r="1.02"/><circle cx="509.0" cy="1162.5" r="1.27"/><circle cx="516.2" cy="1164.5" r="0.96"/><circle cx="521.9" cy="1165.3" r="1.32"/><circle cx="527.0" cy="1165.3" r="1.20"/><circle cx="534.9" cy="1162.0" r="0.97"/><circle cx="539.5" cy="1162.3" r="1.05"/><circle cx="547.5" cy="1165.2" r="1.12"/><circle cx="550.1" cy="1165.1" r="1.42"/><circle cx="451.3" cy="1169.5" r="1.37"/><circle cx="457.0" cy="1167.7" r="0.93"/><circle cx="466.1" cy="1168.5" r="1.15"/><circle cx="468.8" cy="1169.9" r="1.09"/><circle cx="476.9" cy="1168.7" r="1.16"/><circle cx="480.8" cy="1168.6" r="1.56"/><circle cx="490.6" cy="1171.0" r="1.52"/><circle cx="496.0" cy="1169.8" r="1.34"/><circle cx="501.6" cy="1171.2" r="1.34"/><circle cx="506.9" cy="1170.3" r="1.51"/><circle cx="512.8" cy="1167.3" r="1.34"/><circle cx="518.0" cy="1167.7" r="0.94"/><circle cx="524.8" cy="1171.2" r="1.31"/><circle cx="532.1" cy="1167.9" r="1.15"/><circle cx="538.6" cy="1170.1" r="1.43"/><circle cx="541.8" cy="1170.0" r="1.16"/><circle cx="547.4" cy="1167.9" r="1.04"/><circle cx="553.0" cy="1168.8" r="1.53"/><circle cx="455.9" cy="1174.0" r="1.37"/><circle cx="463.5" cy="1173.5" r="1.57"/><circle cx="469.7" cy="1173.9" r="0.96"/><circle cx="474.5" cy="1176.3" r="1.17"/><circle cx="478.9" cy="1173.4" r="1.00"/><circle cx="486.4" cy="1173.6" r="1.58"/><circle cx="491.3" cy="1173.0" r="1.39"/><circle cx="499.7" cy="1173.0" r="1.60"/><circle cx="504.4" cy="1175.6" r="1.59"/><circle cx="509.9" cy="1174.7" r="1.01"/><circle cx="515.3" cy="1174.7" r="1.10"/><circle cx="521.4" cy="1174.0" r="1.51"/><circle cx="527.1" cy="1176.2" r="1.07"/><circle cx="534.3" cy="1174.5" r="1.13"/><circle cx="540.9" cy="1176.6" r="1.00"/><circle cx="547.0" cy="1172.7" r="1.16"/><circle cx="553.6" cy="1176.5" r="1.57"/><circle cx="452.1" cy="1180.7" r="1.61"/><circle cx="456.9" cy="1181.1" r="1.43"/><circle cx="466.5" cy="1179.5" r="1.37"/><circle cx="471.8" cy="1179.7" r="1.42"/><circle cx="475.5" cy="1177.8" r="1.07"/><circle cx="484.7" cy="1179.5" r="1.55"/><circle cx="490.7" cy="1181.5" r="1.30"/><circle cx="493.8" cy="1180.2" r="1.46"/><circle cx="501.6" cy="1177.8" r="0.95"/><circle cx="504.7" cy="1178.7" r="1.19"/><circle cx="512.2" cy="1180.8" r="1.46"/><circle cx="517.8" cy="1179.1" r="1.55"/><circle cx="525.5" cy="1177.8" r="1.15"/><circle cx="532.1" cy="1179.9" r="1.05"/><circle cx="536.3" cy="1180.5" r="1.04"/><circle cx="541.7" cy="1181.2" r="1.19"/><circle cx="548.3" cy="1181.8" r="1.59"/><circle cx="553.9" cy="1177.6" r="1.03"/><circle cx="457.7" cy="1185.8" r="1.08"/><circle cx="463.4" cy="1186.5" r="1.42"/><circle cx="465.7" cy="1185.1" r="1.07"/><circle cx="472.7" cy="1184.5" r="1.20"/><circle cx="481.3" cy="1184.4" r="1.03"/><circle cx="484.3" cy="1184.8" r="1.11"/><circle cx="493.1" cy="1185.5" r="1.43"/><circle cx="496.3" cy="1185.2" r="1.40"/><circle cx="501.8" cy="1184.5" r="1.39"/><circle cx="508.2" cy="1186.9" r="1.06"/><circle cx="514.1" cy="1185.7" r="1.61"/><circle cx="522.8" cy="1185.1" r="1.14"/><circle cx="526.5" cy="1183.1" r="1.07"/><circle cx="534.2" cy="1183.9" r="1.62"/><circle cx="538.3" cy="1183.9" r="1.20"/><circle cx="547.6" cy="1184.3" r="1.04"/><circle cx="552.6" cy="1183.2" r="1.25"/><circle cx="451.5" cy="1192.2" r="1.22"/><circle cx="458.7" cy="1192.1" r="1.38"/><circle cx="466.8" cy="1189.9" r="1.53"/><circle cx="470.4" cy="1189.2" r="1.60"/><circle cx="477.2" cy="1188.7" r="1.32"/><circle cx="483.5" cy="1188.7" r="1.26"/><circle cx="488.5" cy="1188.8" r="1.40"/><circle cx="494.6" cy="1190.6" r="1.29"/><circle cx="501.2" cy="1191.4" r="1.26"/><circle cx="508.7" cy="1191.9" r="1.23"/><circle cx="511.1" cy="1190.1" r="1.18"/><circle cx="520.3" cy="1189.4" r="0.95"/><circle cx="523.4" cy="1191.8" r="1.00"/><circle cx="532.4" cy="1189.9" r="1.30"/><circle cx="537.8" cy="1191.7" r="0.99"/><circle cx="543.1" cy="1188.9" r="1.59"/><circle cx="549.8" cy="1189.1" r="1.16"/><circle cx="556.7" cy="1192.1" r="1.46"/><circle cx="453.8" cy="1194.2" r="1.34"/><circle cx="460.5" cy="1195.5" r="0.91"/><circle cx="467.5" cy="1195.3" r="1.50"/><circle cx="473.1" cy="1197.1" r="1.08"/><circle cx="477.7" cy="1195.2" r="1.03"/><circle cx="487.6" cy="1196.8" r="1.58"/><circle cx="490.5" cy="1197.0" r="1.56"/><circle cx="496.8" cy="1196.7" r="1.17"/><circle cx="502.4" cy="1196.1" r="1.15"/><circle cx="508.9" cy="1196.0" r="1.37"/><circle cx="513.7" cy="1193.4" r="1.29"/><circle cx="520.0" cy="1193.8" r="1.58"/><circle cx="529.6" cy="1196.3" r="1.57"/><circle cx="534.5" cy="1197.2" r="0.91"/><circle cx="539.2" cy="1194.8" r="1.15"/><circle cx="544.7" cy="1194.6" r="1.44"/><circle cx="553.6" cy="1197.2" r="1.19"/><circle cx="453.1" cy="1199.5" r="1.13"/><circle cx="460.4" cy="1200.8" r="0.97"/><circle cx="464.6" cy="1201.8" r="1.40"/><circle cx="469.1" cy="1200.2" r="1.14"/><circle cx="475.5" cy="1199.6" r="1.51"/><circle cx="482.9" cy="1201.9" r="1.19"/><circle cx="490.1" cy="1198.6" r="1.15"/><circle cx="493.4" cy="1199.6" r="1.44"/><circle cx="499.4" cy="1202.2" r="1.32"/><circle cx="508.3" cy="1198.6" r="0.95"/><circle cx="510.7" cy="1202.7" r="1.25"/><circle cx="516.9" cy="1199.7" r="1.16"/><circle cx="523.7" cy="1199.8" r="1.08"/><circle cx="529.6" cy="1200.3" r="0.99"/><circle cx="537.1" cy="1201.9" r="1.04"/><circle cx="543.3" cy="1201.4" r="1.14"/><circle cx="548.2" cy="1199.1" r="1.35"/><circle cx="556.7" cy="1201.8" r="1.06"/><circle cx="455.4" cy="1205.9" r="1.11"/><circle cx="463.6" cy="1207.4" r="1.23"/><circle cx="466.6" cy="1206.9" r="1.28"/><circle cx="474.6" cy="1207.4" r="1.60"/><circle cx="480.9" cy="1204.6" r="1.31"/><circle cx="486.6" cy="1204.5" r="1.62"/><circle cx="490.7" cy="1207.3" r="0.92"/><circle cx="496.0" cy="1203.8" r="0.97"/><circle cx="501.9" cy="1204.1" r="1.43"/><circle cx="511.5" cy="1207.1" r="1.50"/><circle cx="516.9" cy="1204.5" r="1.19"/><circle cx="519.8" cy="1204.5" r="1.05"/><circle cx="527.5" cy="1207.6" r="1.16"/><circle cx="534.5" cy="1206.5" r="1.13"/><circle cx="537.8" cy="1204.6" r="1.05"/><circle cx="545.8" cy="1205.1" r="1.38"/><circle cx="552.2" cy="1204.2" r="1.52"/><circle cx="452.3" cy="1209.8" r="0.93"/><circle cx="458.6" cy="1209.5" r="1.45"/><circle cx="463.4" cy="1209.7" r="1.21"/><circle cx="468.9" cy="1212.8" r="1.52"/><circle cx="474.9" cy="1210.0" r="1.51"/><circle cx="483.8" cy="1211.2" r="1.39"/><circle cx="488.5" cy="1211.5" r="1.35"/><circle cx="495.7" cy="1213.0" r="1.28"/><circle cx="499.1" cy="1212.2" r="1.61"/><circle cx="506.9" cy="1212.9" r="1.45"/><circle cx="513.8" cy="1212.3" r="1.34"/><circle cx="517.1" cy="1209.5" r="1.53"/><circle cx="525.3" cy="1209.7" r="1.08"/><circle cx="532.3" cy="1209.5" r="1.33"/><circle cx="537.8" cy="1210.2" r="0.92"/><circle cx="542.2" cy="1211.8" r="1.54"/><circle cx="549.1" cy="1209.3" r="1.05"/><circle cx="554.7" cy="1210.0" r="1.00"/></g>
<text x="454.4" y="1123.6" fill="#f2f2f2" style="font-size:9px;font-family:'Liberation Serif', 'Times New Roman', serif;font-weight:bold">c</text>
<text x="553.3" y="1210" text-anchor="end" fill="#f2f2f2" style="font-size:10px;font-family:'Liberation Serif', 'Times New Roman', serif;font-weight:bold;font-style:italic">wt</text>
<rect x="558.2" y="1114.1" width="104.9" height="100.1" fill="#100205" />
<g clip-path="url(#clf)"><polygon points="558.2,1134.1 584.4,1126.1 610.7,1124.1 631.6,1126.1 642.1,1134.1 663.1,1129.1 663.1,1194.2 642.1,1196.2 615.9,1188.2 589.7,1182.2 570.8,1192.2 558.2,1199.2" fill="#861830" filter="url(#jblur)"/><rect x="558.2" y="1114.1" width="104.9" height="100.1" filter="url(#jnoise)" opacity="0.35"/></g>
<g clip-path="url(#clf)" fill="#6a50d8" fill-opacity="0.80"><circle cx="558.2" cy="1116.6" r="0.79"/><circle cx="564.2" cy="1116.6" r="0.91"/><circle cx="568.2" cy="1116.4" r="0.72"/><circle cx="572.3" cy="1116.6" r="0.99"/><circle cx="577.6" cy="1117.0" r="0.91"/><circle cx="580.0" cy="1115.1" r="1.15"/><circle cx="585.6" cy="1116.6" r="0.94"/><circle cx="589.4" cy="1115.4" r="0.99"/><circle cx="592.6" cy="1116.6" r="1.05"/><circle cx="598.5" cy="1115.5" r="0.75"/><circle cx="601.8" cy="1116.8" r="0.98"/><circle cx="607.3" cy="1116.0" r="0.92"/><circle cx="612.1" cy="1115.2" r="0.81"/><circle cx="615.4" cy="1116.6" r="0.94"/><circle cx="619.6" cy="1116.1" r="1.07"/><circle cx="624.9" cy="1117.2" r="1.05"/><circle cx="628.0" cy="1117.6" r="0.95"/><circle cx="632.8" cy="1117.4" r="1.08"/><circle cx="636.3" cy="1117.0" r="1.03"/><circle cx="642.2" cy="1116.6" r="0.99"/><circle cx="646.7" cy="1116.3" r="0.92"/><circle cx="650.9" cy="1117.6" r="0.79"/><circle cx="652.6" cy="1117.3" r="1.19"/><circle cx="657.8" cy="1115.5" r="1.08"/><circle cx="663.8" cy="1115.4" r="0.95"/><circle cx="561.9" cy="1119.2" r="0.93"/><circle cx="564.7" cy="1119.9" r="0.83"/><circle cx="568.8" cy="1119.7" r="0.78"/><circle cx="573.2" cy="1118.9" r="0.93"/><circle cx="578.1" cy="1120.7" r="0.93"/><circle cx="582.2" cy="1119.1" r="0.86"/><circle cx="588.0" cy="1119.1" r="0.96"/><circle cx="592.4" cy="1121.0" r="0.95"/><circle cx="596.9" cy="1120.4" r="0.82"/><circle cx="598.9" cy="1119.0" r="1.13"/><circle cx="604.1" cy="1121.0" r="1.23"/><circle cx="610.0" cy="1119.9" r="0.70"/><circle cx="612.4" cy="1119.1" r="1.06"/><circle cx="617.9" cy="1121.3" r="1.09"/><circle cx="623.0" cy="1120.4" r="0.96"/><circle cx="626.9" cy="1119.3" r="1.13"/><circle cx="630.9" cy="1121.1" r="0.73"/><circle cx="633.6" cy="1121.3" r="0.78"/><circle cx="638.7" cy="1120.3" r="0.97"/><circle cx="644.3" cy="1121.4" r="0.89"/><circle cx="646.3" cy="1121.2" r="0.95"/><circle cx="651.0" cy="1118.9" r="0.70"/><circle cx="656.3" cy="1119.3" r="1.01"/><circle cx="661.6" cy="1119.9" r="1.22"/><circle cx="558.0" cy="1124.5" r="1.12"/><circle cx="565.0" cy="1122.3" r="0.98"/><circle cx="568.0" cy="1124.0" r="0.96"/><circle cx="571.5" cy="1124.9" r="1.18"/><circle cx="577.1" cy="1125.1" r="1.00"/><circle cx="579.5" cy="1124.3" r="0.76"/><circle cx="585.8" cy="1124.2" r="0.81"/><circle cx="588.3" cy="1122.4" r="0.80"/><circle cx="595.1" cy="1122.9" r="1.19"/><circle cx="596.9" cy="1123.2" r="0.96"/><circle cx="601.8" cy="1125.1" r="0.83"/><circle cx="606.5" cy="1122.8" r="0.76"/><circle cx="611.4" cy="1123.2" r="0.97"/><circle cx="615.8" cy="1122.5" r="0.73"/><circle cx="620.0" cy="1125.2" r="0.71"/><circle cx="623.6" cy="1125.2" r="1.16"/><circle cx="629.5" cy="1123.8" r="1.23"/><circle cx="631.0" cy="1123.6" r="1.17"/><circle cx="636.3" cy="1123.6" r="0.95"/><circle cx="640.6" cy="1124.7" r="1.24"/><circle cx="644.5" cy="1123.2" r="1.14"/><circle cx="650.3" cy="1124.7" r="1.08"/><circle cx="655.1" cy="1124.8" r="1.05"/><circle cx="657.5" cy="1122.5" r="1.17"/><circle cx="663.6" cy="1124.9" r="0.85"/><circle cx="562.1" cy="1128.8" r="0.81"/><circle cx="564.3" cy="1126.5" r="0.82"/><circle cx="570.6" cy="1128.4" r="1.15"/><circle cx="574.9" cy="1128.9" r="1.23"/><circle cx="578.4" cy="1128.7" r="1.10"/><circle cx="582.2" cy="1127.7" r="0.79"/><circle cx="586.9" cy="1128.4" r="0.71"/><circle cx="591.6" cy="1127.3" r="0.86"/><circle cx="594.5" cy="1127.5" r="0.88"/><circle cx="598.9" cy="1127.2" r="1.07"/><circle cx="603.2" cy="1128.3" r="0.75"/><circle cx="608.6" cy="1127.1" r="1.17"/><circle cx="614.2" cy="1128.2" r="0.86"/><circle cx="616.8" cy="1128.5" r="0.98"/><circle cx="622.0" cy="1128.1" r="0.81"/><circle cx="625.6" cy="1128.8" r="0.88"/><circle cx="631.3" cy="1126.4" r="0.71"/><circle cx="634.5" cy="1126.8" r="1.03"/><circle cx="639.6" cy="1126.1" r="0.97"/><circle cx="642.7" cy="1128.7" r="1.16"/><circle cx="648.6" cy="1128.2" r="0.89"/><circle cx="652.1" cy="1127.6" r="0.90"/><circle cx="655.4" cy="1127.9" r="1.19"/><circle cx="659.5" cy="1127.0" r="0.79"/><circle cx="558.9" cy="1130.9" r="0.75"/><circle cx="564.0" cy="1130.7" r="1.14"/><circle cx="567.1" cy="1131.9" r="1.24"/><circle cx="571.2" cy="1130.8" r="1.23"/><circle cx="576.2" cy="1130.7" r="0.78"/><circle cx="581.8" cy="1130.7" r="1.18"/><circle cx="585.2" cy="1130.3" r="1.25"/><circle cx="590.6" cy="1132.0" r="1.03"/><circle cx="594.4" cy="1132.6" r="0.81"/><circle cx="597.2" cy="1132.0" r="0.93"/><circle cx="603.7" cy="1132.2" r="0.99"/><circle cx="605.6" cy="1131.6" r="1.03"/><circle cx="611.1" cy="1132.1" r="0.96"/><circle cx="616.4" cy="1131.5" r="0.79"/><circle cx="620.4" cy="1130.2" r="1.20"/><circle cx="625.1" cy="1130.3" r="0.81"/><circle cx="628.7" cy="1131.1" r="0.91"/><circle cx="633.1" cy="1130.7" r="0.77"/><circle cx="636.8" cy="1132.3" r="1.23"/><circle cx="639.8" cy="1132.0" r="0.88"/><circle cx="646.7" cy="1130.9" r="0.76"/><circle cx="649.1" cy="1131.3" r="0.80"/><circle cx="654.7" cy="1130.7" r="1.11"/><circle cx="657.4" cy="1131.2" r="1.06"/><circle cx="661.6" cy="1130.6" r="1.16"/><circle cx="561.1" cy="1134.5" r="1.04"/><circle cx="566.3" cy="1136.1" r="1.01"/><circle cx="571.1" cy="1136.1" r="1.21"/><circle cx="575.6" cy="1135.5" r="1.08"/><circle cx="578.3" cy="1133.8" r="1.21"/><circle cx="582.7" cy="1134.5" r="1.00"/><circle cx="588.0" cy="1135.9" r="0.76"/><circle cx="592.4" cy="1136.3" r="1.24"/><circle cx="597.2" cy="1135.2" r="1.19"/><circle cx="600.4" cy="1136.0" r="1.24"/><circle cx="604.0" cy="1133.8" r="1.11"/><circle cx="610.0" cy="1136.2" r="0.95"/><circle cx="612.9" cy="1133.8" r="1.17"/><circle cx="616.6" cy="1133.8" r="0.76"/><circle cx="622.9" cy="1134.7" r="1.14"/><circle cx="624.6" cy="1134.9" r="1.11"/><circle cx="631.0" cy="1134.0" r="0.96"/><circle cx="635.5" cy="1136.2" r="0.75"/><circle cx="639.1" cy="1136.1" r="1.04"/><circle cx="644.0" cy="1134.3" r="0.97"/><circle cx="646.0" cy="1135.9" r="1.01"/><circle cx="650.8" cy="1136.3" r="0.82"/><circle cx="654.6" cy="1135.6" r="0.74"/><circle cx="660.8" cy="1133.9" r="0.71"/><circle cx="560.0" cy="1139.0" r="1.06"/><circle cx="564.2" cy="1139.3" r="0.80"/><circle cx="567.6" cy="1139.0" r="1.18"/><circle cx="572.6" cy="1138.7" r="1.15"/><circle cx="577.5" cy="1137.9" r="0.80"/><circle cx="579.3" cy="1139.8" r="0.82"/><circle cx="585.3" cy="1138.8" r="1.06"/><circle cx="590.7" cy="1139.2" r="0.79"/><circle cx="593.5" cy="1137.7" r="0.91"/><circle cx="598.7" cy="1139.2" r="1.05"/><circle cx="603.4" cy="1140.2" r="0.84"/><circle cx="607.2" cy="1139.1" r="0.71"/><circle cx="612.4" cy="1138.4" r="1.07"/><circle cx="614.4" cy="1138.5" r="0.76"/><circle cx="620.9" cy="1137.3" r="0.74"/><circle cx="624.5" cy="1138.9" r="0.88"/><circle cx="629.4" cy="1139.3" r="0.95"/><circle cx="633.0" cy="1140.0" r="1.18"/><circle cx="636.3" cy="1139.5" r="0.82"/><circle cx="640.6" cy="1140.2" r="1.10"/><circle cx="645.0" cy="1138.8" r="0.94"/><circle cx="650.2" cy="1138.8" r="0.95"/><circle cx="653.6" cy="1139.8" r="1.15"/><circle cx="657.4" cy="1138.4" r="1.20"/><circle cx="663.2" cy="1139.0" r="1.05"/><circle cx="560.5" cy="1142.6" r="1.11"/><circle cx="565.5" cy="1142.2" r="0.94"/><circle cx="570.3" cy="1141.6" r="1.15"/><circle cx="573.0" cy="1143.3" r="0.99"/><circle cx="577.9" cy="1141.7" r="0.85"/><circle cx="581.9" cy="1143.9" r="0.85"/><circle cx="586.0" cy="1142.9" r="1.24"/><circle cx="590.9" cy="1141.6" r="1.02"/><circle cx="595.3" cy="1142.3" r="1.01"/><circle cx="601.6" cy="1142.1" r="0.90"/><circle cx="605.1" cy="1142.6" r="1.18"/><circle cx="608.5" cy="1142.8" r="0.98"/><circle cx="613.3" cy="1142.4" r="0.79"/><circle cx="616.2" cy="1142.1" r="1.25"/><circle cx="621.7" cy="1142.4" r="0.95"/><circle cx="626.8" cy="1142.0" r="0.91"/><circle cx="629.7" cy="1142.7" r="0.96"/><circle cx="634.8" cy="1143.7" r="0.89"/><circle cx="639.2" cy="1143.9" r="1.11"/><circle cx="644.2" cy="1143.4" r="0.81"/><circle cx="647.8" cy="1142.0" r="0.90"/><circle cx="650.6" cy="1143.3" r="1.21"/><circle cx="657.1" cy="1142.2" r="1.21"/><circle cx="661.2" cy="1142.8" r="1.14"/><circle cx="560.1" cy="1144.7" r="1.04"/><circle cx="564.0" cy="1145.8" r="1.14"/><circle cx="568.6" cy="1144.9" r="0.91"/><circle cx="570.7" cy="1145.8" r="0.76"/><circle cx="575.0" cy="1145.6" r="1.09"/><circle cx="579.8" cy="1147.6" r="0.80"/><circle cx="586.1" cy="1145.5" r="1.18"/><circle cx="589.4" cy="1147.2" r="0.94"/><circle cx="593.0" cy="1147.3" r="0.71"/><circle cx="596.9" cy="1145.1" r="1.01"/><circle cx="603.1" cy="1145.4" r="1.02"/><circle cx="607.6" cy="1144.7" r="1.12"/><circle cx="609.8" cy="1144.8" r="0.97"/><circle cx="614.8" cy="1145.9" r="1.05"/><circle cx="618.0" cy="1146.5" r="0.78"/><circle cx="625.1" cy="1146.1" r="0.82"/><circle cx="628.1" cy="1145.9" r="0.74"/><circle cx="633.2" cy="1146.0" r="1.16"/><circle cx="637.5" cy="1147.2" r="1.22"/><circle cx="640.4" cy="1146.4" r="1.01"/><circle cx="645.6" cy="1146.9" r="1.12"/><circle cx="650.0" cy="1146.5" r="1.00"/><circle cx="652.8" cy="1145.5" r="0.77"/><circle cx="658.5" cy="1146.5" r="0.82"/><circle cx="662.1" cy="1147.3" r="0.79"/><circle cx="561.5" cy="1150.0" r="0.96"/><circle cx="565.1" cy="1151.3" r="1.01"/><circle cx="570.0" cy="1148.6" r="0.72"/><circle cx="574.2" cy="1149.2" r="1.08"/><circle cx="579.3" cy="1148.6" r="0.91"/><circle cx="582.4" cy="1150.4" r="1.01"/><circle cx="588.3" cy="1148.5" r="0.96"/><circle cx="592.2" cy="1148.9" r="0.72"/><circle cx="595.7" cy="1149.1" r="0.72"/><circle cx="601.2" cy="1150.6" r="1.07"/><circle cx="605.5" cy="1150.6" r="0.94"/><circle cx="609.5" cy="1151.2" r="1.22"/><circle cx="614.2" cy="1150.8" r="1.23"/><circle cx="618.7" cy="1150.3" r="0.93"/><circle cx="622.2" cy="1151.3" r="0.75"/><circle cx="625.7" cy="1148.8" r="0.76"/><circle cx="630.4" cy="1149.0" r="0.76"/><circle cx="634.8" cy="1150.1" r="0.97"/><circle cx="637.4" cy="1148.8" r="1.00"/><circle cx="641.8" cy="1148.7" r="0.89"/><circle cx="648.8" cy="1150.7" r="1.19"/><circle cx="652.6" cy="1148.7" r="1.10"/><circle cx="656.5" cy="1151.2" r="0.73"/><circle cx="659.3" cy="1148.8" r="0.93"/><circle cx="558.8" cy="1153.0" r="1.13"/><circle cx="564.9" cy="1155.0" r="0.74"/><circle cx="566.9" cy="1153.5" r="1.12"/><circle cx="573.0" cy="1154.7" r="0.77"/><circle cx="576.7" cy="1152.3" r="1.08"/><circle cx="581.8" cy="1153.1" r="0.91"/><circle cx="583.8" cy="1154.8" r="0.89"/><circle cx="588.7" cy="1153.3" r="0.79"/><circle cx="595.1" cy="1155.0" r="1.00"/><circle cx="597.7" cy="1153.6" r="1.21"/><circle cx="600.9" cy="1152.8" r="1.07"/><circle cx="606.0" cy="1153.7" r="0.75"/><circle cx="610.7" cy="1155.0" r="1.08"/><circle cx="615.5" cy="1154.7" r="0.80"/><circle cx="620.1" cy="1155.1" r="0.90"/><circle cx="622.3" cy="1154.0" r="1.20"/><circle cx="626.9" cy="1153.0" r="1.09"/><circle cx="632.5" cy="1155.1" r="1.00"/><circle cx="636.3" cy="1153.2" r="0.97"/><circle cx="641.8" cy="1154.4" r="0.94"/><circle cx="644.9" cy="1154.0" r="0.80"/><circle cx="649.5" cy="1153.2" r="0.71"/><circle cx="654.4" cy="1152.4" r="0.86"/><circle cx="658.5" cy="1154.8" r="1.05"/><circle cx="663.9" cy="1152.2" r="1.14"/><circle cx="562.1" cy="1158.0" r="1.23"/><circle cx="564.4" cy="1156.1" r="1.22"/><circle cx="571.2" cy="1156.2" r="0.95"/><circle cx="575.5" cy="1157.7" r="0.72"/><circle cx="577.8" cy="1158.4" r="0.79"/><circle cx="582.3" cy="1158.4" r="0.80"/><circle cx="587.5" cy="1156.4" r="0.79"/><circle cx="591.7" cy="1158.2" r="0.91"/><circle cx="595.1" cy="1158.0" r="1.10"/><circle cx="598.7" cy="1157.9" r="0.99"/><circle cx="605.9" cy="1157.7" r="1.04"/><circle cx="607.4" cy="1157.3" r="0.73"/><circle cx="612.0" cy="1157.4" r="1.17"/><circle cx="618.7" cy="1158.4" r="0.97"/><circle cx="621.5" cy="1158.0" r="0.90"/><circle cx="624.5" cy="1158.1" r="1.22"/><circle cx="631.4" cy="1157.8" r="1.14"/><circle cx="633.6" cy="1156.6" r="1.18"/><circle cx="638.9" cy="1156.6" r="1.06"/><circle cx="643.8" cy="1158.6" r="0.77"/><circle cx="646.8" cy="1157.4" r="1.16"/><circle cx="653.2" cy="1156.2" r="0.88"/><circle cx="655.8" cy="1158.7" r="1.06"/><circle cx="659.7" cy="1157.6" r="0.81"/><circle cx="560.4" cy="1160.9" r="1.01"/><circle cx="564.5" cy="1161.2" r="0.74"/><circle cx="567.4" cy="1159.7" r="0.94"/><circle cx="573.6" cy="1161.9" r="1.24"/><circle cx="575.4" cy="1161.7" r="1.13"/><circle cx="580.6" cy="1162.1" r="0.75"/><circle cx="586.3" cy="1162.5" r="0.81"/><circle cx="588.1" cy="1162.3" r="1.02"/><circle cx="595.1" cy="1161.3" r="0.83"/><circle cx="597.3" cy="1161.6" r="0.89"/><circle cx="603.7" cy="1162.0" r="1.02"/><circle cx="607.7" cy="1162.0" r="0.91"/><circle cx="611.2" cy="1160.9" r="0.72"/><circle cx="614.0" cy="1160.4" r="0.72"/><circle cx="620.6" cy="1161.2" r="0.84"/><circle cx="622.5" cy="1161.7" r="0.93"/><circle cx="629.2" cy="1161.5" r="0.75"/><circle cx="633.8" cy="1162.3" r="0.90"/><circle cx="637.6" cy="1161.5" r="0.76"/><circle cx="640.2" cy="1160.6" r="1.01"/><circle cx="645.3" cy="1161.3" r="0.72"/><circle cx="649.2" cy="1160.0" r="0.91"/><circle cx="655.4" cy="1159.9" r="0.71"/><circle cx="657.9" cy="1160.8" r="0.75"/><circle cx="663.6" cy="1162.0" r="1.15"/><circle cx="561.9" cy="1164.9" r="1.01"/><circle cx="564.8" cy="1163.4" r="1.23"/><circle cx="571.2" cy="1164.2" r="0.99"/><circle cx="573.2" cy="1165.9" r="1.20"/><circle cx="580.1" cy="1163.7" r="1.24"/><circle cx="581.7" cy="1165.7" r="1.23"/><circle cx="586.3" cy="1165.2" r="1.14"/><circle cx="592.4" cy="1165.9" r="1.07"/><circle cx="595.8" cy="1165.0" r="1.12"/><circle cx="600.9" cy="1165.4" r="1.18"/><circle cx="603.7" cy="1164.4" r="0.92"/><circle cx="608.0" cy="1165.5" r="0.71"/><circle cx="614.4" cy="1163.9" r="1.06"/><circle cx="618.1" cy="1164.2" r="0.72"/><circle cx="623.1" cy="1166.1" r="0.97"/><circle cx="625.1" cy="1164.9" r="1.04"/><circle cx="629.1" cy="1165.2" r="1.08"/><circle cx="633.7" cy="1164.4" r="0.91"/><circle cx="638.2" cy="1164.7" r="0.77"/><circle cx="642.6" cy="1166.0" r="1.07"/><circle cx="647.3" cy="1163.8" r="0.89"/><circle cx="652.4" cy="1164.8" r="1.12"/><circle cx="656.6" cy="1164.9" r="1.08"/><circle cx="660.3" cy="1164.4" r="1.24"/><circle cx="560.0" cy="1168.3" r="0.70"/><circle cx="563.5" cy="1168.1" r="1.18"/><circle cx="569.3" cy="1169.3" r="0.72"/><circle cx="572.7" cy="1167.7" r="1.01"/><circle cx="577.4" cy="1167.3" r="1.24"/><circle cx="581.8" cy="1168.4" r="0.99"/><circle cx="584.6" cy="1169.6" r="1.23"/><circle cx="589.3" cy="1169.5" r="0.76"/><circle cx="592.6" cy="1169.9" r="0.80"/><circle cx="598.7" cy="1169.3" r="0.74"/><circle cx="603.3" cy="1168.8" r="0.98"/><circle cx="607.2" cy="1168.3" r="1.18"/><circle cx="611.1" cy="1169.5" r="0.94"/><circle cx="614.9" cy="1168.1" r="0.80"/><circle cx="620.6" cy="1168.9" r="1.21"/><circle cx="624.2" cy="1169.4" r="1.02"/><circle cx="628.1" cy="1169.7" r="0.77"/><circle cx="632.7" cy="1167.1" r="0.77"/><circle cx="638.1" cy="1167.2" r="1.14"/><circle cx="642.5" cy="1169.2" r="1.24"/><circle cx="644.2" cy="1169.3" r="1.04"/><circle cx="649.6" cy="1167.3" r="0.74"/><circle cx="654.8" cy="1167.6" r="1.08"/><circle cx="657.1" cy="1169.1" r="0.73"/><circle cx="663.9" cy="1169.2" r="0.82"/><circle cx="562.8" cy="1171.3" r="0.96"/><circle cx="566.0" cy="1171.3" r="1.08"/><circle cx="569.3" cy="1173.3" r="1.23"/><circle cx="575.6" cy="1171.2" r="0.97"/><circle cx="579.2" cy="1171.0" r="0.71"/><circle cx="583.8" cy="1173.0" r="0.81"/><circle cx="587.9" cy="1173.3" r="0.86"/><circle cx="591.7" cy="1173.2" r="0.73"/><circle cx="596.5" cy="1173.8" r="1.24"/><circle cx="601.6" cy="1173.3" r="1.22"/><circle cx="604.1" cy="1171.7" r="1.13"/><circle cx="607.9" cy="1171.6" r="1.04"/><circle cx="612.7" cy="1173.7" r="0.78"/><circle cx="616.9" cy="1173.5" r="0.87"/><circle cx="622.3" cy="1172.4" r="1.22"/><circle cx="624.9" cy="1172.4" r="0.88"/><circle cx="630.9" cy="1173.7" r="1.08"/><circle cx="635.9" cy="1173.4" r="0.95"/><circle cx="638.1" cy="1171.0" r="0.91"/><circle cx="642.6" cy="1172.7" r="1.24"/><circle cx="647.5" cy="1171.5" r="1.16"/><circle cx="651.3" cy="1172.9" r="1.07"/><circle cx="656.5" cy="1171.2" r="0.75"/><circle cx="661.0" cy="1172.3" r="1.06"/><circle cx="560.5" cy="1175.6" r="0.91"/><circle cx="564.3" cy="1175.1" r="0.98"/><circle cx="566.6" cy="1176.9" r="0.85"/><circle cx="571.3" cy="1176.0" r="1.13"/><circle cx="576.9" cy="1175.8" r="0.76"/><circle cx="580.6" cy="1174.6" r="0.96"/><circle cx="583.9" cy="1176.6" r="1.18"/><circle cx="589.0" cy="1177.5" r="1.03"/><circle cx="593.5" cy="1176.3" r="1.14"/><circle cx="598.7" cy="1177.3" r="1.21"/><circle cx="601.4" cy="1177.3" r="1.20"/><circle cx="606.2" cy="1176.6" r="0.95"/><circle cx="610.4" cy="1176.0" r="1.24"/><circle cx="614.7" cy="1174.7" r="1.15"/><circle cx="618.7" cy="1174.7" r="0.82"/><circle cx="622.9" cy="1176.3" r="0.75"/><circle cx="629.3" cy="1176.7" r="1.23"/><circle cx="633.6" cy="1177.2" r="1.22"/><circle cx="636.2" cy="1177.2" r="0.92"/><circle cx="642.3" cy="1174.7" r="1.05"/><circle cx="645.2" cy="1177.2" r="0.82"/><circle cx="650.2" cy="1175.6" r="1.24"/><circle cx="653.9" cy="1175.8" r="1.17"/><circle cx="658.7" cy="1176.6" r="1.06"/><circle cx="662.7" cy="1176.8" r="1.11"/><circle cx="562.1" cy="1178.4" r="1.06"/><circle cx="567.2" cy="1180.5" r="1.01"/><circle cx="568.9" cy="1179.9" r="0.94"/><circle cx="573.3" cy="1179.3" r="0.86"/><circle cx="577.2" cy="1179.8" r="1.14"/><circle cx="583.3" cy="1181.2" r="1.20"/><circle cx="587.6" cy="1178.9" r="0.72"/><circle cx="591.8" cy="1178.6" r="1.06"/><circle cx="596.9" cy="1179.4" r="0.84"/><circle cx="599.2" cy="1181.3" r="0.94"/><circle cx="604.0" cy="1180.1" r="1.07"/><circle cx="608.5" cy="1180.2" r="0.77"/><circle cx="612.0" cy="1179.4" r="1.03"/><circle cx="617.3" cy="1179.3" r="0.89"/><circle cx="620.2" cy="1180.4" r="1.17"/><circle cx="626.6" cy="1180.6" r="0.85"/><circle cx="629.7" cy="1179.7" r="0.78"/><circle cx="633.2" cy="1180.8" r="0.98"/><circle cx="639.9" cy="1180.6" r="0.92"/><circle cx="642.1" cy="1179.1" r="0.98"/><circle cx="647.9" cy="1179.3" r="0.90"/><circle cx="651.0" cy="1179.4" r="0.89"/><circle cx="656.0" cy="1178.5" r="1.13"/><circle cx="661.2" cy="1180.1" r="1.12"/><circle cx="559.5" cy="1183.6" r="1.19"/><circle cx="564.9" cy="1184.9" r="1.24"/><circle cx="567.4" cy="1183.2" r="1.12"/><circle cx="571.8" cy="1183.4" r="0.92"/><circle cx="577.4" cy="1182.9" r="0.71"/><circle cx="582.0" cy="1183.9" r="1.21"/><circle cx="584.4" cy="1182.1" r="0.73"/><circle cx="589.3" cy="1183.1" r="0.79"/><circle cx="595.0" cy="1185.0" r="0.83"/><circle cx="598.9" cy="1185.0" r="1.04"/><circle cx="601.5" cy="1182.3" r="0.88"/><circle cx="605.2" cy="1184.8" r="1.06"/><circle cx="611.3" cy="1184.8" r="0.89"/><circle cx="614.2" cy="1184.3" r="0.83"/><circle cx="619.2" cy="1184.9" r="1.24"/><circle cx="623.3" cy="1183.2" r="0.97"/><circle cx="627.6" cy="1182.1" r="0.76"/><circle cx="632.2" cy="1183.4" r="1.21"/><circle cx="635.5" cy="1182.5" r="0.71"/><circle cx="640.3" cy="1182.4" r="1.02"/><circle cx="644.8" cy="1184.9" r="0.85"/><circle cx="649.5" cy="1183.4" r="1.11"/><circle cx="653.1" cy="1182.2" r="1.13"/><circle cx="657.4" cy="1184.1" r="1.08"/><circle cx="662.7" cy="1184.0" r="0.86"/><circle cx="562.5" cy="1186.6" r="1.21"/><circle cx="565.2" cy="1187.8" r="0.97"/><circle cx="569.4" cy="1186.4" r="0.98"/><circle cx="575.8" cy="1187.2" r="1.12"/><circle cx="579.8" cy="1186.7" r="1.00"/><circle cx="581.8" cy="1188.5" r="1.11"/><circle cx="586.3" cy="1188.6" r="1.10"/><circle cx="591.8" cy="1187.6" r="1.00"/><circle cx="596.7" cy="1187.0" r="0.90"/><circle cx="599.7" cy="1186.1" r="1.19"/><circle cx="603.7" cy="1186.2" r="0.93"/><circle cx="608.0" cy="1188.4" r="0.78"/><circle cx="613.8" cy="1187.7" r="0.72"/><circle cx="616.7" cy="1188.3" r="1.03"/><circle cx="621.6" cy="1187.9" r="1.23"/><circle cx="627.3" cy="1186.9" r="0.82"/><circle cx="630.9" cy="1187.5" r="1.19"/><circle cx="635.7" cy="1188.4" r="0.71"/><circle cx="638.2" cy="1188.5" r="1.21"/><circle cx="641.9" cy="1185.8" r="1.22"/><circle cx="646.2" cy="1188.0" r="1.17"/><circle cx="652.3" cy="1187.0" r="0.96"/><circle cx="655.1" cy="1186.0" r="0.72"/><circle cx="659.1" cy="1188.6" r="0.76"/><circle cx="560.4" cy="1190.4" r="1.07"/><circle cx="564.1" cy="1190.1" r="0.72"/><circle cx="567.0" cy="1191.8" r="0.95"/><circle cx="571.3" cy="1190.7" r="0.96"/><circle cx="577.9" cy="1191.0" r="1.10"/><circle cx="579.3" cy="1192.3" r="0.98"/><circle cx="584.5" cy="1192.2" r="0.79"/><circle cx="588.1" cy="1192.2" r="1.19"/><circle cx="593.0" cy="1190.5" r="1.07"/><circle cx="597.3" cy="1191.1" r="0.80"/><circle cx="603.4" cy="1190.3" r="0.98"/><circle cx="607.6" cy="1192.1" r="1.06"/><circle cx="610.1" cy="1189.8" r="1.01"/><circle cx="615.4" cy="1191.8" r="0.97"/><circle cx="619.7" cy="1191.4" r="1.18"/><circle cx="624.9" cy="1189.7" r="1.20"/><circle cx="627.7" cy="1190.0" r="0.73"/><circle cx="631.6" cy="1190.9" r="0.92"/><circle cx="637.0" cy="1192.1" r="1.18"/><circle cx="639.9" cy="1189.7" r="1.09"/><circle cx="645.9" cy="1191.7" r="0.86"/><circle cx="649.2" cy="1192.3" r="0.94"/><circle cx="653.5" cy="1191.3" r="1.14"/><circle cx="657.5" cy="1190.9" r="1.16"/><circle cx="663.0" cy="1189.9" r="1.04"/><circle cx="561.4" cy="1194.6" r="1.01"/><circle cx="564.5" cy="1195.4" r="0.71"/><circle cx="569.3" cy="1194.8" r="0.78"/><circle cx="574.2" cy="1193.5" r="1.01"/><circle cx="580.1" cy="1193.4" r="1.24"/><circle cx="583.5" cy="1195.6" r="0.77"/><circle cx="586.3" cy="1195.0" r="1.11"/><circle cx="590.3" cy="1193.5" r="1.21"/><circle cx="596.6" cy="1195.7" r="0.70"/><circle cx="599.0" cy="1195.1" r="1.18"/><circle cx="603.6" cy="1195.5" r="1.09"/><circle cx="609.0" cy="1195.1" r="0.96"/><circle cx="613.2" cy="1195.1" r="0.87"/><circle cx="617.7" cy="1195.9" r="0.79"/><circle cx="620.6" cy="1196.0" r="1.13"/><circle cx="625.1" cy="1194.0" r="1.20"/><circle cx="629.4" cy="1193.4" r="0.77"/><circle cx="633.6" cy="1196.3" r="1.22"/><circle cx="638.7" cy="1195.0" r="1.24"/><circle cx="642.0" cy="1194.2" r="0.89"/><circle cx="648.5" cy="1195.8" r="1.18"/><circle cx="652.8" cy="1193.5" r="0.94"/><circle cx="655.6" cy="1193.3" r="1.24"/><circle cx="659.6" cy="1193.8" r="0.98"/><circle cx="557.9" cy="1198.7" r="0.98"/><circle cx="564.8" cy="1198.1" r="0.71"/><circle cx="567.8" cy="1199.6" r="1.06"/><circle cx="572.9" cy="1198.4" r="0.87"/><circle cx="576.2" cy="1198.8" r="1.03"/><circle cx="580.2" cy="1199.2" r="0.96"/><circle cx="586.2" cy="1199.7" r="0.96"/><circle cx="588.8" cy="1198.7" r="0.91"/><circle cx="594.0" cy="1198.1" r="0.82"/><circle cx="596.7" cy="1197.6" r="0.73"/><circle cx="601.9" cy="1199.2" r="0.79"/><circle cx="608.0" cy="1198.6" r="1.13"/><circle cx="612.3" cy="1199.5" r="1.05"/><circle cx="614.2" cy="1198.6" r="1.01"/><circle cx="620.1" cy="1199.9" r="0.87"/><circle cx="623.6" cy="1199.8" r="1.11"/><circle cx="626.9" cy="1197.8" r="1.03"/><circle cx="633.8" cy="1198.9" r="0.99"/><circle cx="637.9" cy="1199.6" r="1.21"/><circle cx="641.2" cy="1199.0" r="1.01"/><circle cx="644.8" cy="1198.4" r="0.76"/><circle cx="650.4" cy="1199.3" r="0.86"/><circle cx="652.4" cy="1198.9" r="0.84"/><circle cx="657.1" cy="1197.2" r="0.88"/><circle cx="661.2" cy="1198.1" r="1.17"/><circle cx="562.3" cy="1203.4" r="1.14"/><circle cx="565.6" cy="1202.0" r="1.20"/><circle cx="569.8" cy="1202.6" r="0.72"/><circle cx="574.5" cy="1201.0" r="1.09"/><circle cx="578.9" cy="1202.4" r="1.02"/><circle cx="582.5" cy="1201.9" r="0.77"/><circle cx="587.5" cy="1203.6" r="0.94"/><circle cx="592.3" cy="1202.4" r="0.98"/><circle cx="596.9" cy="1202.0" r="0.87"/><circle cx="601.5" cy="1201.8" r="0.92"/><circle cx="604.1" cy="1202.0" r="0.86"/><circle cx="609.1" cy="1203.4" r="1.17"/><circle cx="614.5" cy="1203.7" r="1.11"/><circle cx="616.7" cy="1202.9" r="0.99"/><circle cx="621.8" cy="1201.3" r="0.94"/><circle cx="625.6" cy="1202.1" r="1.08"/><circle cx="629.9" cy="1201.7" r="0.90"/><circle cx="635.0" cy="1200.8" r="0.81"/><circle cx="639.7" cy="1201.3" r="0.91"/><circle cx="643.2" cy="1202.4" r="1.07"/><circle cx="647.3" cy="1202.2" r="0.88"/><circle cx="651.0" cy="1200.8" r="0.74"/><circle cx="655.0" cy="1200.8" r="1.19"/><circle cx="661.0" cy="1202.6" r="0.97"/><circle cx="557.8" cy="1205.0" r="1.07"/><circle cx="564.3" cy="1206.0" r="1.15"/><circle cx="566.6" cy="1206.1" r="0.80"/><circle cx="572.9" cy="1206.3" r="0.94"/><circle cx="575.3" cy="1204.8" r="0.91"/><circle cx="580.3" cy="1205.2" r="0.86"/><circle cx="586.2" cy="1206.7" r="1.22"/><circle cx="590.1" cy="1204.6" r="0.79"/><circle cx="592.9" cy="1205.6" r="1.14"/><circle cx="597.8" cy="1207.5" r="1.06"/><circle cx="603.1" cy="1206.9" r="0.80"/><circle cx="607.6" cy="1207.4" r="0.92"/><circle cx="611.7" cy="1207.5" r="1.21"/><circle cx="615.3" cy="1205.9" r="1.10"/><circle cx="618.2" cy="1205.2" r="0.81"/><circle cx="623.6" cy="1204.6" r="1.17"/><circle cx="629.2" cy="1204.5" r="0.87"/><circle cx="631.7" cy="1206.5" r="0.89"/><circle cx="636.1" cy="1205.7" r="1.13"/><circle cx="639.5" cy="1205.5" r="0.82"/><circle cx="645.9" cy="1207.3" r="0.91"/><circle cx="649.4" cy="1206.9" r="1.08"/><circle cx="654.9" cy="1205.6" r="0.76"/><circle cx="658.4" cy="1205.2" r="1.20"/><circle cx="664.0" cy="1205.2" r="0.95"/><circle cx="559.9" cy="1211.0" r="1.10"/><circle cx="565.6" cy="1210.3" r="1.02"/><circle cx="570.2" cy="1210.8" r="1.14"/><circle cx="574.2" cy="1208.8" r="0.74"/><circle cx="578.4" cy="1210.2" r="0.90"/><circle cx="582.4" cy="1210.4" r="0.88"/><circle cx="586.6" cy="1211.2" r="0.75"/><circle cx="590.9" cy="1210.2" r="0.85"/><circle cx="597.1" cy="1209.1" r="0.83"/><circle cx="599.9" cy="1209.6" r="0.77"/><circle cx="604.6" cy="1209.1" r="1.08"/><circle cx="610.2" cy="1208.8" r="0.89"/><circle cx="614.0" cy="1209.1" r="0.97"/><circle cx="616.6" cy="1209.4" r="1.24"/><circle cx="621.3" cy="1208.8" r="0.97"/><circle cx="624.7" cy="1210.2" r="1.13"/><circle cx="628.8" cy="1209.2" r="0.75"/><circle cx="633.2" cy="1208.4" r="0.81"/><circle cx="638.0" cy="1209.2" r="0.78"/><circle cx="642.7" cy="1209.4" r="1.20"/><circle cx="648.8" cy="1211.2" r="0.70"/><circle cx="650.7" cy="1210.0" r="1.21"/><circle cx="657.5" cy="1211.0" r="0.77"/><circle cx="659.2" cy="1209.1" r="1.16"/><circle cx="560.2" cy="1213.9" r="0.99"/><circle cx="562.9" cy="1212.3" r="1.02"/><circle cx="568.1" cy="1214.2" r="0.76"/><circle cx="573.0" cy="1212.1" r="1.07"/><circle cx="576.1" cy="1214.0" r="1.18"/><circle cx="581.4" cy="1214.2" r="1.09"/><circle cx="584.8" cy="1213.0" r="1.10"/><circle cx="588.0" cy="1214.5" r="0.77"/><circle cx="593.7" cy="1214.4" r="0.87"/><circle cx="598.9" cy="1213.6" r="0.77"/><circle cx="601.8" cy="1214.3" r="0.72"/><circle cx="606.1" cy="1214.5" r="0.75"/><circle cx="611.1" cy="1212.3" r="1.21"/><circle cx="616.3" cy="1213.0" r="0.80"/><circle cx="619.7" cy="1214.5" r="0.99"/><circle cx="622.9" cy="1212.9" r="0.99"/><circle cx="627.2" cy="1212.5" r="0.91"/><circle cx="631.3" cy="1213.0" r="0.91"/><circle cx="636.5" cy="1213.8" r="0.71"/><circle cx="641.6" cy="1212.0" r="0.87"/><circle cx="645.8" cy="1213.9" r="0.80"/><circle cx="648.6" cy="1214.4" r="1.03"/><circle cx="652.8" cy="1213.3" r="0.88"/><circle cx="659.0" cy="1214.4" r="0.87"/><circle cx="662.3" cy="1212.0" r="1.13"/></g>
<text x="561.4" y="1123.6" fill="#f2f2f2" style="font-size:9px;font-family:'Liberation Serif', 'Times New Roman', serif;font-weight:bold">f</text>
<text x="660.6" y="1210.0" text-anchor="end" style="font-size:9.5px;font-family:'Liberation Serif', 'Times New Roman', serif;font-weight:bold;font-style:italic" fill="#f2f2f2">KDM5<tspan dy="-3.5" style="font-size:5px">-/-</tspan></text>
<text x="420.4" y="963.9" fill="#d42030" textLength="26.7" lengthAdjust="spacingAndGlyphs" style="font-size:12.5px;font-family:'Liberation Serif', 'Times New Roman', serif;font-weight:bold">Relish</text>
<text x="420.4" y="1071.3" fill="#2060c0" textLength="24" lengthAdjust="spacingAndGlyphs" style="font-size:12.5px;font-family:'Liberation Serif', 'Times New Roman', serif;font-weight:bold">DAPI</text>
<text x="415" y="1173" fill="#111" textLength="33.2" lengthAdjust="spacingAndGlyphs" style="font-size:12.5px;font-family:'Liberation Serif', 'Times New Roman', serif;font-weight:bold">Merged</text>
<text x="676.4" y="896.8" style="font-size:17.2px;font-family:'Liberation Sans', Arial, sans-serif;font-weight:bold">K</text>
<line x1="717.3" y1="1163.9" x2="717.3" y2="1103.6" stroke="#000" stroke-width="1.3" />
<line x1="717.3" y1="1099.5" x2="717.3" y2="1049.1" stroke="#000" stroke-width="1.3" />
<line x1="717.3" y1="1045" x2="717.3" y2="986.1" stroke="#000" stroke-width="1.3" />
<line x1="714.3" y1="1103.6" x2="720.3" y2="1103.6" stroke="#000" stroke-width="1.1" />
<line x1="714.3" y1="1099.5" x2="720.3" y2="1099.5" stroke="#000" stroke-width="1.1" />
<line x1="714.3" y1="1049.1" x2="720.3" y2="1049.1" stroke="#000" stroke-width="1.1" />
<line x1="714.3" y1="1045" x2="720.3" y2="1045" stroke="#000" stroke-width="1.1" />
<line x1="716.7" y1="1163.3" x2="911.7" y2="1163.3" stroke="#000" stroke-width="1.3" />
<line x1="713.8" y1="1163.3" x2="717.3" y2="1163.3" stroke="#000" stroke-width="1.2" />
<text x="712.9" y="1167.5" text-anchor="end" fill="#111" textLength="18.8" lengthAdjust="spacingAndGlyphs" style="font-size:11.6px;font-family:'Liberation Sans', Arial, sans-serif;font-weight:bold">0.00</text>
<line x1="713.8" y1="1141.85" x2="717.3" y2="1141.85" stroke="#000" stroke-width="1.2" />
<text x="712.9" y="1146.05" text-anchor="end" fill="#111" textLength="18.8" lengthAdjust="spacingAndGlyphs" style="font-size:11.6px;font-family:'Liberation Sans', Arial, sans-serif;font-weight:bold">0.05</text>
<line x1="713.8" y1="1120.4" x2="717.3" y2="1120.4" stroke="#000" stroke-width="1.2" />
<text x="712.9" y="1124.6" text-anchor="end" fill="#111" textLength="18.8" lengthAdjust="spacingAndGlyphs" style="font-size:11.6px;font-family:'Liberation Sans', Arial, sans-serif;font-weight:bold">0.10</text>
<line x1="713.8" y1="1092.2" x2="717.3" y2="1092.2" stroke="#000" stroke-width="1.2" />
<text x="712.9" y="1096.4" text-anchor="end" fill="#111" textLength="14.2" lengthAdjust="spacingAndGlyphs" style="font-size:11.6px;font-family:'Liberation Sans', Arial, sans-serif;font-weight:bold">0.3</text>
<line x1="713.8" y1="1073.51" x2="717.3" y2="1073.51" stroke="#000" stroke-width="1.2" />
<text x="712.9" y="1077.71" text-anchor="end" fill="#111" textLength="14.2" lengthAdjust="spacingAndGlyphs" style="font-size:11.6px;font-family:'Liberation Sans', Arial, sans-serif;font-weight:bold">0.6</text>
<line x1="713.8" y1="1054.82" x2="717.3" y2="1054.82" stroke="#000" stroke-width="1.2" />
<text x="712.9" y="1059.02" text-anchor="end" fill="#111" textLength="14.2" lengthAdjust="spacingAndGlyphs" style="font-size:11.6px;font-family:'Liberation Sans', Arial, sans-serif;font-weight:bold">0.9</text>
<line x1="713.8" y1="1044.7" x2="717.3" y2="1044.7" stroke="#000" stroke-width="1.2" />
<text x="712.9" y="1048.9" text-anchor="end" fill="#111" textLength="5.4" lengthAdjust="spacingAndGlyphs" style="font-size:11.6px;font-family:'Liberation Sans', Arial, sans-serif;font-weight:bold">3</text>
<line x1="713.8" y1="1015.4" x2="717.3" y2="1015.4" stroke="#000" stroke-width="1.2" />
<text x="712.9" y="1019.6" text-anchor="end" fill="#111" textLength="5.4" lengthAdjust="spacingAndGlyphs" style="font-size:11.6px;font-family:'Liberation Sans', Arial, sans-serif;font-weight:bold">4</text>
<line x1="713.8" y1="986.1" x2="717.3" y2="986.1" stroke="#000" stroke-width="1.2" />
<text x="712.9" y="990.3" text-anchor="end" fill="#111" textLength="5.4" lengthAdjust="spacingAndGlyphs" style="font-size:11.6px;font-family:'Liberation Sans', Arial, sans-serif;font-weight:bold">5</text>
<rect x="722.1" y="1154.89" width="6.3" height="8.41" fill="#000" />
<line x1="725.25" y1="1154.89" x2="725.25" y2="1153.86" stroke="#222" stroke-width="0.9" />
<line x1="723.25" y1="1153.86" x2="727.25" y2="1153.86" stroke="#222" stroke-width="0.9" />
<rect x="730.05" y="1147.98" width="6.3" height="15.32" fill="#ec1c1c" />
<line x1="733.2" y1="1147.98" x2="733.2" y2="1132.11" stroke="#555" stroke-width="0.9" />
<line x1="731.2" y1="1132.11" x2="735.2" y2="1132.11" stroke="#555" stroke-width="0.9" />
<rect x="738" y="1158.58" width="6.3" height="4.72" fill="#3ee23a" />
<line x1="741.15" y1="1158.58" x2="741.15" y2="1158.15" stroke="#555" stroke-width="0.9" />
<line x1="739.15" y1="1158.15" x2="743.15" y2="1158.15" stroke="#555" stroke-width="0.9" />
<rect x="745.95" y="1158.8" width="6.3" height="4.5" fill="#1a48ea" />
<line x1="749.1" y1="1158.8" x2="749.1" y2="1158.37" stroke="#555" stroke-width="0.9" />
<line x1="747.1" y1="1158.37" x2="751.1" y2="1158.37" stroke="#555" stroke-width="0.9" />
<line x1="723.7" y1="1129.6" x2="733.7" y2="1129.6" stroke="#333" stroke-width="0.9" />
<text x="728.7" y="1131.6" text-anchor="middle" fill="#222" style="font-size:11.5px;font-family:'Liberation Sans', Arial, sans-serif">*</text>
<line x1="737.2" y1="1163.3" x2="737.2" y2="1167.9" stroke="#000" stroke-width="1.2" />
<text x="739.4" y="1174.5" text-anchor="end" fill="#111" transform="rotate(-57 739.4 1174.5)" style="font-size:11.2px;font-family:'Liberation Sans', Arial, sans-serif;font-weight:bold;font-style:italic">AttA</text>
<rect x="760.45" y="1125.81" width="6.3" height="37.49" fill="#000" />
<rect x="768.4" y="1103.6" width="6.3" height="59.7" fill="#ec1c1c" />
<rect x="768.4" y="1086.72" width="6.3" height="12.78" fill="#ec1c1c" />
<line x1="771.55" y1="1086.72" x2="771.55" y2="1078" stroke="#555" stroke-width="0.9" />
<line x1="769.55" y1="1078" x2="773.55" y2="1078" stroke="#555" stroke-width="0.9" />
<rect x="776.35" y="1143.14" width="6.3" height="20.16" fill="#3ee23a" />
<line x1="779.5" y1="1143.14" x2="779.5" y2="1139.28" stroke="#555" stroke-width="0.9" />
<line x1="777.5" y1="1139.28" x2="781.5" y2="1139.28" stroke="#555" stroke-width="0.9" />
<rect x="784.3" y="1147.98" width="6.3" height="15.32" fill="#1a48ea" />
<line x1="787.45" y1="1147.98" x2="787.45" y2="1140.13" stroke="#555" stroke-width="0.9" />
<line x1="785.45" y1="1140.13" x2="789.45" y2="1140.13" stroke="#555" stroke-width="0.9" />
<line x1="762.05" y1="1075.3" x2="772.05" y2="1075.3" stroke="#333" stroke-width="0.9" />
<text x="767.05" y="1077.3" text-anchor="middle" fill="#222" style="font-size:11.5px;font-family:'Liberation Sans', Arial, sans-serif">*</text>
<line x1="775.55" y1="1163.3" x2="775.55" y2="1167.9" stroke="#000" stroke-width="1.2" />
<text x="777.75" y="1174.5" text-anchor="end" fill="#111" transform="rotate(-57 777.75 1174.5)" style="font-size:11.2px;font-family:'Liberation Sans', Arial, sans-serif;font-weight:bold;font-style:italic">AttC</text>
<rect x="798.8" y="1103.6" width="6.3" height="59.7" fill="#000" />
<rect x="798.8" y="1072.01" width="6.3" height="27.49" fill="#000" />
<line x1="801.95" y1="1072.01" x2="801.95" y2="1071.02" stroke="#222" stroke-width="0.9" />
<line x1="799.95" y1="1071.02" x2="803.95" y2="1071.02" stroke="#222" stroke-width="0.9" />
<rect x="806.75" y="1103.6" width="6.3" height="59.7" fill="#ec1c1c" />
<rect x="806.75" y="1049.1" width="6.3" height="50.4" fill="#ec1c1c" />
<rect x="806.75" y="1019.8" width="6.3" height="25.2" fill="#ec1c1c" />
<line x1="809.9" y1="1019.8" x2="809.9" y2="1004.85" stroke="#555" stroke-width="0.9" />
<line x1="807.9" y1="1004.85" x2="811.9" y2="1004.85" stroke="#555" stroke-width="0.9" />
<rect x="814.7" y="1134.99" width="6.3" height="28.31" fill="#3ee23a" />
<line x1="817.85" y1="1134.99" x2="817.85" y2="1129.41" stroke="#555" stroke-width="0.9" />
<line x1="815.85" y1="1129.41" x2="819.85" y2="1129.41" stroke="#555" stroke-width="0.9" />
<rect x="822.65" y="1148.71" width="6.3" height="14.59" fill="#1a48ea" />
<line x1="825.8" y1="1148.71" x2="825.8" y2="1143.14" stroke="#555" stroke-width="0.9" />
<line x1="823.8" y1="1143.14" x2="827.8" y2="1143.14" stroke="#555" stroke-width="0.9" />
<line x1="800.4" y1="1002" x2="810.4" y2="1002" stroke="#333" stroke-width="0.9" />
<text x="805.4" y="1004" text-anchor="middle" fill="#222" style="font-size:11.5px;font-family:'Liberation Sans', Arial, sans-serif">*</text>
<line x1="813.9" y1="1163.3" x2="813.9" y2="1167.9" stroke="#000" stroke-width="1.2" />
<text x="816.1" y="1174.5" text-anchor="end" fill="#111" transform="rotate(-57 816.1 1174.5)" style="font-size:11.2px;font-family:'Liberation Sans', Arial, sans-serif;font-weight:bold;font-style:italic">AttD</text>
<rect x="837.15" y="1103.6" width="6.3" height="59.7" fill="#000" />
<rect x="837.15" y="1075.32" width="6.3" height="24.18" fill="#000" />
<line x1="840.3" y1="1075.32" x2="840.3" y2="1054.01" stroke="#222" stroke-width="0.9" />
<line x1="838.3" y1="1054.01" x2="842.3" y2="1054.01" stroke="#222" stroke-width="0.9" />
<rect x="845.1" y="1103.6" width="6.3" height="59.7" fill="#ec1c1c" />
<rect x="845.1" y="1049.1" width="6.3" height="50.4" fill="#ec1c1c" />
<rect x="845.1" y="1029.17" width="6.3" height="15.83" fill="#ec1c1c" />
<line x1="848.25" y1="1029.17" x2="848.25" y2="1024.78" stroke="#555" stroke-width="0.9" />
<line x1="846.25" y1="1024.78" x2="850.25" y2="1024.78" stroke="#555" stroke-width="0.9" />
<rect x="853.05" y="1143.14" width="6.3" height="20.16" fill="#3ee23a" />
<line x1="856.2" y1="1143.14" x2="856.2" y2="1138.85" stroke="#555" stroke-width="0.9" />
<line x1="854.2" y1="1138.85" x2="858.2" y2="1138.85" stroke="#555" stroke-width="0.9" />
<rect x="861" y="1141.85" width="6.3" height="21.45" fill="#1a48ea" />
<line x1="864.15" y1="1141.85" x2="864.15" y2="1137.99" stroke="#555" stroke-width="0.9" />
<line x1="862.15" y1="1137.99" x2="866.15" y2="1137.99" stroke="#555" stroke-width="0.9" />
<line x1="838.75" y1="1021.9" x2="848.75" y2="1021.9" stroke="#333" stroke-width="0.9" />
<text x="843.75" y="1023.9" text-anchor="middle" fill="#222" style="font-size:11.5px;font-family:'Liberation Sans', Arial, sans-serif">*</text>
<line x1="852.25" y1="1163.3" x2="852.25" y2="1167.9" stroke="#000" stroke-width="1.2" />
<text x="854.45" y="1174.5" text-anchor="end" fill="#111" transform="rotate(-57 854.45 1174.5)" style="font-size:11.2px;font-family:'Liberation Sans', Arial, sans-serif;font-weight:bold;font-style:italic">Dro</text>
<rect x="875.5" y="1113.96" width="6.3" height="49.34" fill="#000" />
<line x1="878.65" y1="1113.96" x2="878.65" y2="1107.1" stroke="#222" stroke-width="0.9" />
<line x1="876.65" y1="1107.1" x2="880.65" y2="1107.1" stroke="#222" stroke-width="0.9" />
<rect x="883.45" y="1103.6" width="6.3" height="59.7" fill="#ec1c1c" />
<rect x="883.45" y="1079.74" width="6.3" height="19.76" fill="#ec1c1c" />
<line x1="886.6" y1="1079.74" x2="886.6" y2="1071.52" stroke="#555" stroke-width="0.9" />
<line x1="884.6" y1="1071.52" x2="888.6" y2="1071.52" stroke="#555" stroke-width="0.9" />
<rect x="891.4" y="1153.86" width="6.3" height="9.44" fill="#3ee23a" />
<line x1="894.55" y1="1153.86" x2="894.55" y2="1153" stroke="#555" stroke-width="0.9" />
<line x1="892.55" y1="1153" x2="896.55" y2="1153" stroke="#555" stroke-width="0.9" />
<rect x="899.35" y="1147.86" width="6.3" height="15.44" fill="#1a48ea" />
<line x1="902.5" y1="1147.86" x2="902.5" y2="1146.14" stroke="#555" stroke-width="0.9" />
<line x1="900.5" y1="1146.14" x2="904.5" y2="1146.14" stroke="#555" stroke-width="0.9" />
<line x1="877.1" y1="1068" x2="887.1" y2="1068" stroke="#333" stroke-width="0.9" />
<text x="882.1" y="1070" text-anchor="middle" fill="#222" style="font-size:11.5px;font-family:'Liberation Sans', Arial, sans-serif">*</text>
<line x1="890.6" y1="1163.3" x2="890.6" y2="1167.9" stroke="#000" stroke-width="1.2" />
<text x="892.8" y="1174.5" text-anchor="end" fill="#111" transform="rotate(-57 892.8 1174.5)" style="font-size:11.2px;font-family:'Liberation Sans', Arial, sans-serif;font-weight:bold;font-style:italic">Mtk</text>
<text x="769" y="957.3" fill="#111" textLength="69.5" lengthAdjust="spacingAndGlyphs" style="font-size:12.6px;font-family:'Liberation Sans', Arial, sans-serif;font-weight:bold">Relish binding</text>
<rect x="827" y="965" width="13.8" height="5.3" fill="#000" />
<rect x="827" y="977.3" width="13.8" height="5.3" fill="#ec1c1c" />
<rect x="827" y="989.5" width="13.8" height="5.3" fill="#3ee23a" />
<rect x="827" y="1000.6" width="13.8" height="5.3" fill="#1a48ea" />
<text x="848.8" y="971.2" fill="#111" textLength="11.5" lengthAdjust="spacingAndGlyphs" style="font-size:11.5px;font-family:'Liberation Sans', Arial, sans-serif;font-style:italic">wt</text>
<text x="848.8" y="984.2" fill="#111" textLength="22.2" lengthAdjust="spacingAndGlyphs" style="font-size:11.5px;font-family:'Liberation Sans', Arial, sans-serif;font-style:italic">kdm5</text>
<text x="871.3" y="978.6" fill="#444" textLength="14.5" lengthAdjust="spacingAndGlyphs" style="font-size:2.6px;font-family:'Liberation Sans', Arial, sans-serif;font-style:italic">K6801/10424</text>
<text x="848.8" y="995" fill="#111" textLength="11.5" lengthAdjust="spacingAndGlyphs" style="font-size:11.5px;font-family:'Liberation Sans', Arial, sans-serif;font-style:italic">wt</text>
<text x="848.8" y="1008" fill="#111" textLength="22.2" lengthAdjust="spacingAndGlyphs" style="font-size:11.5px;font-family:'Liberation Sans', Arial, sans-serif;font-style:italic">kdm5</text>
<text x="871.3" y="1002.4" fill="#444" textLength="14.5" lengthAdjust="spacingAndGlyphs" style="font-size:2.6px;font-family:'Liberation Sans', Arial, sans-serif;font-style:italic">K6801/10424</text>
<line x1="887.9" y1="964.6" x2="887.9" y2="983.7" stroke="#000" stroke-width="1.2" />
<line x1="887.9" y1="990" x2="887.9" y2="1007.3" stroke="#000" stroke-width="1.2" />
<text x="890.2" y="979.1" fill="#111" textLength="27.2" lengthAdjust="spacingAndGlyphs" style="font-size:12.4px;font-family:'Liberation Sans', Arial, sans-serif;font-weight:bold">Relish</text>
<text x="890.2" y="1001.6" fill="#111" textLength="16.2" lengthAdjust="spacingAndGlyphs" style="font-size:12.4px;font-family:'Liberation Sans', Arial, sans-serif;font-weight:bold">IgG</text>
<text x="687.3" y="1072.9" text-anchor="middle" fill="#111" textLength="55.7" lengthAdjust="spacingAndGlyphs" transform="rotate(-90 687.3 1072.9)" style="font-size:12.5px;font-family:'Liberation Sans', Arial, sans-serif;font-weight:bold">% input</text>
</svg>
</body></html>
